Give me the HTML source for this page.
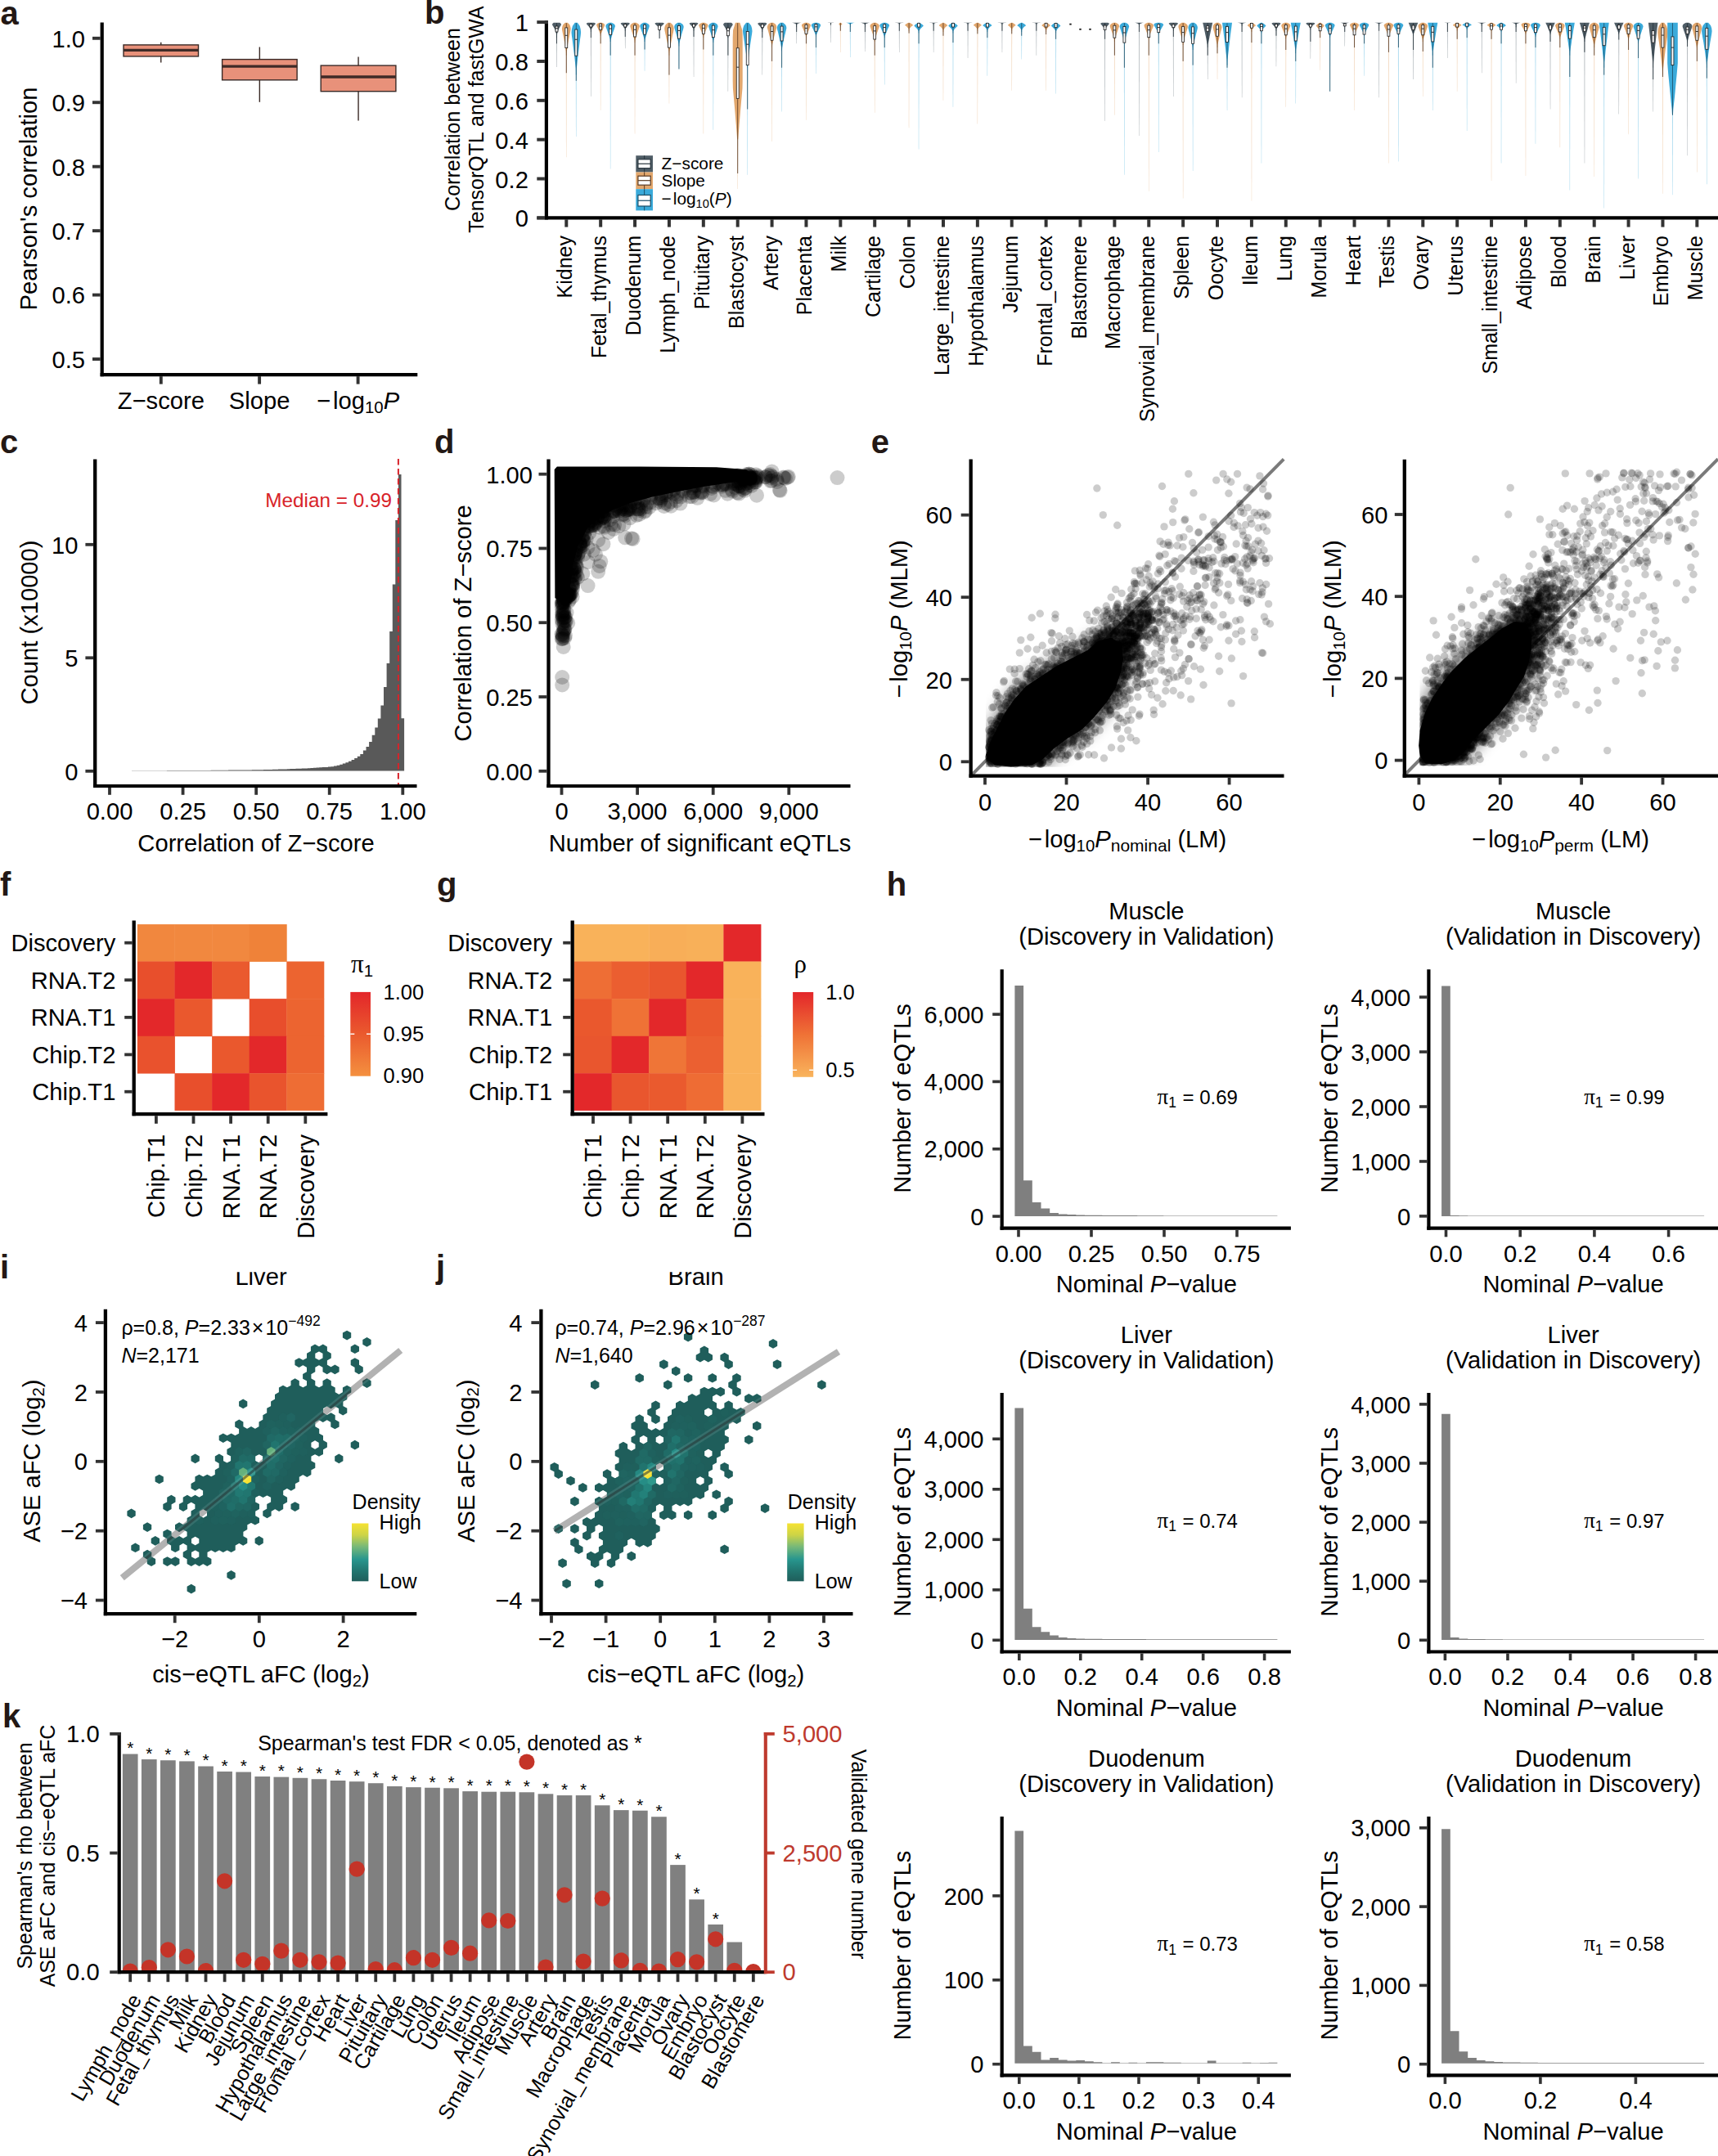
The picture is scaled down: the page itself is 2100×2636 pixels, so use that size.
<!DOCTYPE html><html><head><meta charset="utf-8"><style>html,body{margin:0;padding:0;background:#fff}svg{display:block}</style></head><body><svg width="2100" height="2636" viewBox="0 0 2100 2636" font-family='"Liberation Sans", sans-serif'><defs><filter id="blur8" x="-30%" y="-30%" width="160%" height="160%"><feGaussianBlur stdDeviation="9"/></filter><clipPath id="ce11"><rect x="1205.0" y="569.3" width="358.3" height="368.5"/></clipPath><clipPath id="ce23"><rect x="1735.4" y="568.9" width="357.7" height="367.2"/></clipPath><linearGradient id="gf" x1="0" y1="0" x2="0" y2="1"><stop offset="0" stop-color="#E3262A"/><stop offset="0.5" stop-color="#EA5A2E"/><stop offset="1" stop-color="#F4903F"/></linearGradient><linearGradient id="gg" x1="0" y1="0" x2="0" y2="1"><stop offset="0" stop-color="#E3262A"/><stop offset="0.5" stop-color="#EF7236"/><stop offset="1" stop-color="#F9B45C"/></linearGradient><linearGradient id="gd" x1="0" y1="1" x2="0" y2="0"><stop offset="0" stop-color="rgb(31, 94, 91)"/><stop offset="0.18" stop-color="rgb(33, 118, 112)"/><stop offset="0.38" stop-color="rgb(40, 150, 142)"/><stop offset="0.6" stop-color="rgb(120, 185, 120)"/><stop offset="0.8" stop-color="rgb(205, 212, 70)"/><stop offset="1" stop-color="rgb(246, 226, 50)"/></linearGradient><path id="hx5" d="M297.2,1744.0L302.3,1746.9L302.3,1752.8L297.2,1755.7L292.1,1752.8L292.1,1746.9ZM243.5,1802.7L248.6,1805.6L248.6,1811.4L243.5,1814.3L238.4,1811.4L238.4,1805.6ZM433.8,1660.2L439.0,1663.1L439.0,1669.0L433.8,1671.9L428.7,1669.0L428.7,1663.1ZM380.2,1785.9L385.3,1788.8L385.3,1794.7L380.2,1797.6L375.0,1794.7L375.0,1788.8ZM282.6,1886.5L287.7,1889.4L287.7,1895.2L282.6,1898.1L277.4,1895.2L277.4,1889.4ZM341.1,1836.2L346.2,1839.1L346.2,1844.9L341.1,1847.9L336.0,1844.9L336.0,1839.1ZM380.2,1651.8L385.3,1654.7L385.3,1660.6L380.2,1663.5L375.0,1660.6L375.0,1654.7ZM316.7,1811.0L321.8,1814.0L321.8,1819.8L316.7,1822.7L311.6,1819.8L311.6,1814.0ZM380.2,1769.1L385.3,1772.1L385.3,1777.9L380.2,1780.8L375.0,1777.9L375.0,1772.1ZM394.8,1660.2L399.9,1663.1L399.9,1669.0L394.8,1671.9L389.7,1669.0L389.7,1663.1ZM194.7,1802.7L199.8,1805.6L199.8,1811.4L194.7,1814.3L189.6,1811.4L189.6,1805.6ZM394.8,1760.8L399.9,1763.7L399.9,1769.5L394.8,1772.4L389.7,1769.5L389.7,1763.7ZM365.5,1660.2L370.6,1663.1L370.6,1669.0L365.5,1671.9L360.4,1669.0L360.4,1663.1ZM424.1,1626.7L429.2,1629.6L429.2,1635.4L424.1,1638.4L418.9,1635.4L418.9,1629.6ZM282.6,1920.0L287.7,1922.9L287.7,1928.7L282.6,1931.7L277.4,1928.7L277.4,1922.9ZM346.0,1827.8L351.1,1830.7L351.1,1836.6L346.0,1839.5L340.9,1836.6L340.9,1830.7ZM214.2,1903.2L219.4,1906.1L219.4,1912.0L214.2,1914.9L209.1,1912.0L209.1,1906.1ZM375.3,1677.0L380.4,1679.9L380.4,1685.7L375.3,1688.6L370.1,1685.7L370.1,1679.9ZM346.0,1693.7L351.1,1696.6L351.1,1702.5L346.0,1705.4L340.9,1702.5L340.9,1696.6ZM404.6,1710.5L409.7,1713.4L409.7,1719.2L404.6,1722.2L399.4,1719.2L399.4,1713.4ZM438.7,1668.6L443.8,1671.5L443.8,1677.3L438.7,1680.3L433.6,1677.3L433.6,1671.5ZM228.9,1861.3L234.0,1864.2L234.0,1870.1L228.9,1873.0L223.7,1870.1L223.7,1864.2ZM389.9,1752.4L395.0,1755.3L395.0,1761.1L389.9,1764.1L384.8,1761.1L384.8,1755.3ZM238.6,1811.0L243.8,1814.0L243.8,1819.8L238.6,1822.7L233.5,1819.8L233.5,1814.0ZM341.1,1702.1L346.2,1705.0L346.2,1710.9L341.1,1713.8L336.0,1710.9L336.0,1705.0ZM233.8,1903.2L238.9,1906.1L238.9,1912.0L233.8,1914.9L228.6,1912.0L228.6,1906.1ZM336.2,1710.5L341.4,1713.4L341.4,1719.2L336.2,1722.2L331.1,1719.2L331.1,1713.4ZM360.6,1802.7L365.8,1805.6L365.8,1811.4L360.6,1814.3L355.5,1811.4L355.5,1805.6ZM419.2,1718.9L424.3,1721.8L424.3,1727.6L419.2,1730.5L414.1,1727.6L414.1,1721.8ZM243.5,1836.2L248.6,1839.1L248.6,1844.9L243.5,1847.9L238.4,1844.9L238.4,1839.1ZM404.6,1693.7L409.7,1696.6L409.7,1702.5L404.6,1705.4L399.4,1702.5L399.4,1696.6ZM389.9,1702.1L395.0,1705.0L395.0,1710.9L389.9,1713.8L384.8,1710.9L384.8,1705.0ZM233.8,1936.7L238.9,1939.7L238.9,1945.5L233.8,1948.4L228.6,1945.5L228.6,1939.7ZM233.8,1886.5L238.9,1889.4L238.9,1895.2L233.8,1898.1L228.6,1895.2L228.6,1889.4ZM180.1,1894.8L185.2,1897.8L185.2,1903.6L180.1,1906.5L174.9,1903.6L174.9,1897.8ZM209.4,1878.1L214.5,1881.0L214.5,1886.8L209.4,1889.8L204.2,1886.8L204.2,1881.0ZM326.5,1844.6L331.6,1847.5L331.6,1853.3L326.5,1856.2L321.3,1853.3L321.3,1847.5ZM287.4,1760.8L292.6,1763.7L292.6,1769.5L287.4,1772.4L282.3,1769.5L282.3,1763.7ZM316.7,1878.1L321.8,1881.0L321.8,1886.8L316.7,1889.8L311.6,1886.8L311.6,1881.0ZM380.2,1685.3L385.3,1688.3L385.3,1694.1L380.2,1697.0L375.0,1694.1L375.0,1688.3ZM243.5,1886.5L248.6,1889.4L248.6,1895.2L243.5,1898.1L238.4,1895.2L238.4,1889.4ZM399.7,1668.6L404.8,1671.5L404.8,1677.3L399.7,1680.3L394.5,1677.3L394.5,1671.5ZM399.7,1702.1L404.8,1705.0L404.8,1710.9L399.7,1713.8L394.5,1710.9L394.5,1705.0ZM448.5,1635.1L453.6,1638.0L453.6,1643.8L448.5,1646.7L443.3,1643.8L443.3,1638.0ZM355.8,1794.3L360.9,1797.2L360.9,1803.0L355.8,1806.0L350.6,1803.0L350.6,1797.2ZM233.8,1852.9L238.9,1855.9L238.9,1861.7L233.8,1864.6L228.6,1861.7L228.6,1855.9ZM253.3,1802.7L258.4,1805.6L258.4,1811.4L253.3,1814.3L248.1,1811.4L248.1,1805.6ZM360.6,1836.2L365.8,1839.1L365.8,1844.9L360.6,1847.9L355.5,1844.9L355.5,1839.1ZM419.2,1702.1L424.3,1705.0L424.3,1710.9L419.2,1713.8L414.1,1710.9L414.1,1705.0ZM365.5,1710.5L370.6,1713.4L370.6,1719.2L365.5,1722.2L360.4,1719.2L360.4,1713.4ZM409.4,1702.1L414.6,1705.0L414.6,1710.9L409.4,1713.8L404.3,1710.9L404.3,1705.0ZM297.2,1710.5L302.3,1713.4L302.3,1719.2L297.2,1722.2L292.1,1719.2L292.1,1713.4ZM238.6,1861.3L243.8,1864.2L243.8,1870.1L238.6,1873.0L233.5,1870.1L233.5,1864.2ZM433.8,1760.8L439.0,1763.7L439.0,1769.5L433.8,1772.4L428.7,1769.5L428.7,1763.7ZM272.8,1752.4L277.9,1755.3L277.9,1761.1L272.8,1764.1L267.7,1761.1L267.7,1755.3ZM346.0,1811.0L351.1,1814.0L351.1,1819.8L346.0,1822.7L340.9,1819.8L340.9,1814.0ZM204.5,1869.7L209.6,1872.6L209.6,1878.5L204.5,1881.4L199.3,1878.5L199.3,1872.6ZM228.9,1827.8L234.0,1830.7L234.0,1836.6L228.9,1839.5L223.7,1836.6L223.7,1830.7ZM380.2,1702.1L385.3,1705.0L385.3,1710.9L380.2,1713.8L375.0,1710.9L375.0,1705.0ZM424.1,1693.7L429.2,1696.6L429.2,1702.5L424.1,1705.4L418.9,1702.5L418.9,1696.6ZM267.9,1878.1L273.0,1881.0L273.0,1886.8L267.9,1889.8L262.8,1886.8L262.8,1881.0ZM316.7,1744.0L321.8,1746.9L321.8,1752.8L316.7,1755.7L311.6,1752.8L311.6,1746.9ZM399.7,1685.3L404.8,1688.3L404.8,1694.1L399.7,1697.0L394.5,1694.1L394.5,1688.3ZM409.4,1668.6L414.6,1671.5L414.6,1677.3L409.4,1680.3L404.3,1677.3L404.3,1671.5ZM204.5,1836.2L209.6,1839.1L209.6,1844.9L204.5,1847.9L199.3,1844.9L199.3,1839.1ZM360.6,1685.3L365.8,1688.3L365.8,1694.1L360.6,1697.0L355.5,1694.1L355.5,1688.3ZM160.6,1844.6L165.7,1847.5L165.7,1853.3L160.6,1856.2L155.4,1853.3L155.4,1847.5ZM380.2,1668.6L385.3,1671.5L385.3,1677.3L380.2,1680.3L375.0,1677.3L375.0,1671.5ZM375.3,1777.5L380.4,1780.4L380.4,1786.3L375.3,1789.2L370.1,1786.3L370.1,1780.4ZM297.2,1878.1L302.3,1881.0L302.3,1886.8L297.2,1889.8L292.1,1886.8L292.1,1881.0ZM189.8,1878.1L195.0,1881.0L195.0,1886.8L189.8,1889.8L184.7,1886.8L184.7,1881.0ZM214.2,1886.5L219.4,1889.4L219.4,1895.2L214.2,1898.1L209.1,1895.2L209.1,1889.4ZM165.4,1886.5L170.6,1889.4L170.6,1895.2L165.4,1898.1L160.3,1895.2L160.3,1889.4ZM448.5,1685.3L453.6,1688.3L453.6,1694.1L448.5,1697.0L443.3,1694.1L443.3,1688.3ZM204.5,1903.2L209.6,1906.1L209.6,1912.0L204.5,1914.9L199.3,1912.0L199.3,1906.1ZM287.4,1878.1L292.6,1881.0L292.6,1886.8L287.4,1889.8L282.3,1886.8L282.3,1881.0ZM248.4,1811.0L253.5,1814.0L253.5,1819.8L248.4,1822.7L243.3,1819.8L243.3,1814.0ZM389.9,1769.1L395.0,1772.1L395.0,1777.9L389.9,1780.8L384.8,1777.9L384.8,1772.1ZM292.3,1752.4L297.4,1755.3L297.4,1761.1L292.3,1764.1L287.2,1761.1L287.2,1755.3ZM394.8,1643.4L399.9,1646.4L399.9,1652.2L394.8,1655.1L389.7,1652.2L389.7,1646.4ZM375.3,1794.3L380.4,1797.2L380.4,1803.0L375.3,1806.0L370.1,1803.0L370.1,1797.2ZM253.3,1819.4L258.4,1822.3L258.4,1828.2L253.3,1831.1L248.1,1828.2L248.1,1822.3ZM385.0,1643.4L390.2,1646.4L390.2,1652.2L385.0,1655.1L379.9,1652.2L379.9,1646.4ZM336.2,1827.8L341.4,1830.7L341.4,1836.6L336.2,1839.5L331.1,1836.6L331.1,1830.7ZM292.3,1735.6L297.4,1738.5L297.4,1744.4L292.3,1747.3L287.2,1744.4L287.2,1738.5ZM414.3,1710.5L419.4,1713.4L419.4,1719.2L414.3,1722.2L409.2,1719.2L409.2,1713.4ZM185.0,1903.2L190.1,1906.1L190.1,1912.0L185.0,1914.9L179.8,1912.0L179.8,1906.1ZM263.0,1886.5L268.2,1889.4L268.2,1895.2L263.0,1898.1L257.9,1895.2L257.9,1889.4ZM209.4,1827.8L214.5,1830.7L214.5,1836.6L209.4,1839.5L204.2,1836.6L204.2,1830.7ZM433.8,1643.4L439.0,1646.4L439.0,1652.2L433.8,1655.1L428.7,1652.2L428.7,1646.4ZM272.8,1886.5L277.9,1889.4L277.9,1895.2L272.8,1898.1L267.7,1895.2L267.7,1889.4ZM238.6,1777.5L243.8,1780.4L243.8,1786.3L238.6,1789.2L233.5,1786.3L233.5,1780.4ZM414.3,1777.5L419.4,1780.4L419.4,1786.3L414.3,1789.2L409.2,1786.3L409.2,1780.4ZM399.7,1651.8L404.8,1654.7L404.8,1660.6L399.7,1663.5L394.5,1660.6L394.5,1654.7ZM311.8,1852.9L317.0,1855.9L317.0,1861.7L311.8,1864.6L306.7,1861.7L306.7,1855.9ZM331.4,1836.2L336.5,1839.1L336.5,1844.9L331.4,1847.9L326.2,1844.9L326.2,1839.1ZM243.5,1903.2L248.6,1906.1L248.6,1912.0L243.5,1914.9L238.4,1912.0L238.4,1906.1ZM267.9,1794.3L273.0,1797.2L273.0,1803.0L267.9,1806.0L262.8,1803.0L262.8,1797.2ZM228.9,1878.1L234.0,1881.0L234.0,1886.8L228.9,1889.8L223.7,1886.8L223.7,1881.0ZM263.0,1802.7L268.2,1805.6L268.2,1811.4L263.0,1814.3L257.9,1811.4L257.9,1805.6ZM370.4,1785.9L375.5,1788.8L375.5,1794.7L370.4,1797.6L365.3,1794.7L365.3,1788.8ZM380.2,1718.9L385.3,1721.8L385.3,1727.6L380.2,1730.5L375.0,1727.6L375.0,1721.8ZM307.0,1744.0L312.1,1746.9L312.1,1752.8L307.0,1755.7L301.8,1752.8L301.8,1746.9ZM385.0,1710.5L390.2,1713.4L390.2,1719.2L385.0,1722.2L379.9,1719.2L379.9,1713.4ZM272.8,1785.9L277.9,1788.8L277.9,1794.7L272.8,1797.6L267.7,1794.7L267.7,1788.8ZM243.5,1869.7L248.6,1872.6L248.6,1878.5L243.5,1881.4L238.4,1878.5L238.4,1872.6ZM365.5,1693.7L370.6,1696.6L370.6,1702.5L365.5,1705.4L360.4,1702.5L360.4,1696.6ZM346.0,1710.5L351.1,1713.4L351.1,1719.2L346.0,1722.2L340.9,1719.2L340.9,1713.4ZM253.3,1903.2L258.4,1906.1L258.4,1912.0L253.3,1914.9L248.1,1912.0L248.1,1906.1ZM350.9,1702.1L356.0,1705.0L356.0,1710.9L350.9,1713.8L345.8,1710.9L345.8,1705.0ZM380.2,1752.4L385.3,1755.3L385.3,1761.1L380.2,1764.1L375.0,1761.1L375.0,1755.3ZM355.8,1693.7L360.9,1696.6L360.9,1702.5L355.8,1705.4L350.6,1702.5L350.6,1696.6ZM355.8,1811.0L360.9,1814.0L360.9,1819.8L355.8,1822.7L350.6,1819.8L350.6,1814.0ZM404.6,1727.2L409.7,1730.2L409.7,1736.0L404.6,1738.9L399.4,1736.0L399.4,1730.2ZM394.8,1727.2L399.9,1730.2L399.9,1736.0L394.8,1738.9L389.7,1736.0L389.7,1730.2ZM180.1,1861.3L185.2,1864.2L185.2,1870.1L180.1,1873.0L174.9,1870.1L174.9,1864.2ZM389.9,1718.9L395.0,1721.8L395.0,1727.6L389.9,1730.5L384.8,1727.6L384.8,1721.8ZM360.6,1718.9L365.8,1721.8L365.8,1727.6L360.6,1730.5L355.5,1727.6L355.5,1721.8ZM219.1,1861.3L224.2,1864.2L224.2,1870.1L219.1,1873.0L214.0,1870.1L214.0,1864.2ZM248.4,1827.8L253.5,1830.7L253.5,1836.6L248.4,1839.5L243.3,1836.6L243.3,1830.7ZM282.6,1769.1L287.7,1772.1L287.7,1777.9L282.6,1780.8L277.4,1777.9L277.4,1772.1ZM238.6,1844.6L243.8,1847.5L243.8,1853.3L238.6,1856.2L233.5,1853.3L233.5,1847.5ZM375.3,1660.2L380.4,1663.1L380.4,1669.0L375.3,1671.9L370.1,1669.0L370.1,1663.1ZM385.0,1727.2L390.2,1730.2L390.2,1736.0L385.0,1738.9L379.9,1736.0L379.9,1730.2ZM263.0,1869.7L268.2,1872.6L268.2,1878.5L263.0,1881.4L257.9,1878.5L257.9,1872.6ZM263.0,1819.4L268.2,1822.3L268.2,1828.2L263.0,1831.1L257.9,1828.2L257.9,1822.3ZM316.7,1760.8L321.8,1763.7L321.8,1769.5L316.7,1772.4L311.6,1769.5L311.6,1763.7ZM370.4,1702.1L375.5,1705.0L375.5,1710.9L370.4,1713.8L365.3,1710.9L365.3,1705.0ZM253.3,1886.5L258.4,1889.4L258.4,1895.2L253.3,1898.1L248.1,1895.2L248.1,1889.4ZM311.8,1836.2L317.0,1839.1L317.0,1844.9L311.8,1847.9L306.7,1844.9L306.7,1839.1ZM248.4,1894.8L253.5,1897.8L253.5,1903.6L248.4,1906.5L243.3,1903.6L243.3,1897.8ZM409.4,1735.6L414.6,1738.5L414.6,1744.4L409.4,1747.3L404.3,1744.4L404.3,1738.5ZM248.4,1878.1L253.5,1881.0L253.5,1886.8L248.4,1889.8L243.3,1886.8L243.3,1881.0ZM350.9,1802.7L356.0,1805.6L356.0,1811.4L350.9,1814.3L345.8,1811.4L345.8,1805.6ZM292.3,1869.7L297.4,1872.6L297.4,1878.5L292.3,1881.4L287.2,1878.5L287.2,1872.6ZM224.0,1836.2L229.1,1839.1L229.1,1844.9L224.0,1847.9L218.9,1844.9L218.9,1839.1ZM272.8,1802.7L277.9,1805.6L277.9,1811.4L272.8,1814.3L267.7,1811.4L267.7,1805.6ZM267.9,1777.5L273.0,1780.4L273.0,1786.3L267.9,1789.2L262.8,1786.3L262.8,1780.4ZM385.0,1660.2L390.2,1663.1L390.2,1669.0L385.0,1671.9L379.9,1669.0L379.9,1663.1ZM341.1,1819.4L346.2,1822.3L346.2,1828.2L341.1,1831.1L336.0,1828.2L336.0,1822.3ZM282.6,1752.4L287.7,1755.3L287.7,1761.1L282.6,1764.1L277.4,1761.1L277.4,1755.3ZM336.2,1811.0L341.4,1814.0L341.4,1819.8L336.2,1822.7L331.1,1819.8L331.1,1814.0ZM375.3,1710.5L380.4,1713.4L380.4,1719.2L375.3,1722.2L370.1,1719.2L370.1,1713.4ZM394.8,1710.5L399.9,1713.4L399.9,1719.2L394.8,1722.2L389.7,1719.2L389.7,1713.4ZM228.9,1894.8L234.0,1897.8L234.0,1903.6L228.9,1906.5L223.7,1903.6L223.7,1897.8ZM365.5,1777.5L370.6,1780.4L370.6,1786.3L365.5,1789.2L360.4,1786.3L360.4,1780.4ZM365.5,1794.3L370.6,1797.2L370.6,1803.0L365.5,1806.0L360.4,1803.0L360.4,1797.2ZM277.7,1878.1L282.8,1881.0L282.8,1886.8L277.7,1889.8L272.5,1886.8L272.5,1881.0ZM321.6,1819.4L326.7,1822.3L326.7,1828.2L321.6,1831.1L316.5,1828.2L316.5,1822.3ZM316.7,1794.3L321.8,1797.2L321.8,1803.0L316.7,1806.0L311.6,1803.0L311.6,1797.2ZM238.6,1827.8L243.8,1830.7L243.8,1836.6L238.6,1839.5L233.5,1836.6L233.5,1830.7ZM282.6,1869.7L287.7,1872.6L287.7,1878.5L282.6,1881.4L277.4,1878.5L277.4,1872.6ZM385.0,1744.0L390.2,1746.9L390.2,1752.8L385.0,1755.7L379.9,1752.8L379.9,1746.9ZM219.1,1878.1L224.2,1881.0L224.2,1886.8L219.1,1889.8L214.0,1886.8L214.0,1881.0ZM321.6,1802.7L326.7,1805.6L326.7,1811.4L321.6,1814.3L316.5,1811.4L316.5,1805.6ZM326.5,1727.2L331.6,1730.2L331.6,1736.0L326.5,1738.9L321.3,1736.0L321.3,1730.2ZM385.0,1693.7L390.2,1696.6L390.2,1702.5L385.0,1705.4L379.9,1702.5L379.9,1696.6ZM258.2,1811.0L263.3,1814.0L263.3,1819.8L258.2,1822.7L253.0,1819.8L253.0,1814.0ZM321.6,1735.6L326.7,1738.5L326.7,1744.4L321.6,1747.3L316.5,1744.4L316.5,1738.5ZM375.3,1727.2L380.4,1730.2L380.4,1736.0L375.3,1738.9L370.1,1736.0L370.1,1730.2ZM253.3,1869.7L258.4,1872.6L258.4,1878.5L253.3,1881.4L248.1,1878.5L248.1,1872.6ZM258.2,1878.1L263.3,1881.0L263.3,1886.8L258.2,1889.8L253.0,1886.8L253.0,1881.0ZM341.1,1718.9L346.2,1721.8L346.2,1727.6L341.1,1730.5L336.0,1727.6L336.0,1721.8ZM321.6,1752.4L326.7,1755.3L326.7,1761.1L321.6,1764.1L316.5,1761.1L316.5,1755.3ZM321.6,1769.1L326.7,1772.1L326.7,1777.9L321.6,1780.8L316.5,1777.9L316.5,1772.1ZM253.3,1836.2L258.4,1839.1L258.4,1844.9L253.3,1847.9L248.1,1844.9L248.1,1839.1ZM375.3,1693.7L380.4,1696.6L380.4,1702.5L375.3,1705.4L370.1,1702.5L370.1,1696.6ZM267.9,1861.3L273.0,1864.2L273.0,1870.1L267.9,1873.0L262.8,1870.1L262.8,1864.2ZM350.9,1718.9L356.0,1721.8L356.0,1727.6L350.9,1730.5L345.8,1727.6L345.8,1721.8ZM253.3,1852.9L258.4,1855.9L258.4,1861.7L253.3,1864.6L248.1,1861.7L248.1,1855.9ZM277.7,1861.3L282.8,1864.2L282.8,1870.1L277.7,1873.0L272.5,1870.1L272.5,1864.2ZM297.2,1760.8L302.3,1763.7L302.3,1769.5L297.2,1772.4L292.1,1769.5L292.1,1763.7ZM248.4,1861.3L253.5,1864.2L253.5,1870.1L248.4,1873.0L243.3,1870.1L243.3,1864.2ZM360.6,1735.6L365.8,1738.5L365.8,1744.4L360.6,1747.3L355.5,1744.4L355.5,1738.5ZM380.2,1735.6L385.3,1738.5L385.3,1744.4L380.2,1747.3L375.0,1744.4L375.0,1738.5ZM292.3,1852.9L297.4,1855.9L297.4,1861.7L292.3,1864.6L287.2,1861.7L287.2,1855.9ZM370.4,1718.9L375.5,1721.8L375.5,1727.6L370.4,1730.5L365.3,1727.6L365.3,1721.8ZM365.5,1727.2L370.6,1730.2L370.6,1736.0L365.5,1738.9L360.4,1736.0L360.4,1730.2ZM394.8,1693.7L399.9,1696.6L399.9,1702.5L394.8,1705.4L389.7,1702.5L389.7,1696.6ZM311.8,1752.4L317.0,1755.3L317.0,1761.1L311.8,1764.1L306.7,1761.1L306.7,1755.3ZM331.4,1819.4L336.5,1822.3L336.5,1828.2L331.4,1831.1L326.2,1828.2L326.2,1822.3ZM355.8,1710.5L360.9,1713.4L360.9,1719.2L355.8,1722.2L350.6,1719.2L350.6,1713.4ZM233.8,1869.7L238.9,1872.6L238.9,1878.5L233.8,1881.4L228.6,1878.5L228.6,1872.6ZM302.1,1852.9L307.2,1855.9L307.2,1861.7L302.1,1864.6L296.9,1861.7L296.9,1855.9ZM258.2,1861.3L263.3,1864.2L263.3,1870.1L258.2,1873.0L253.0,1870.1L253.0,1864.2ZM331.4,1718.9L336.5,1721.8L336.5,1727.6L331.4,1730.5L326.2,1727.6L326.2,1721.8ZM360.6,1702.1L365.8,1705.0L365.8,1710.9L360.6,1713.8L355.5,1710.9L355.5,1705.0ZM321.6,1785.9L326.7,1788.8L326.7,1794.7L321.6,1797.6L316.5,1794.7L316.5,1788.8ZM336.2,1727.2L341.4,1730.2L341.4,1736.0L336.2,1738.9L331.1,1736.0L331.1,1730.2ZM258.2,1827.8L263.3,1830.7L263.3,1836.6L258.2,1839.5L253.0,1836.6L253.0,1830.7ZM287.4,1861.3L292.6,1864.2L292.6,1870.1L287.4,1873.0L282.3,1870.1L282.3,1864.2ZM360.6,1785.9L365.8,1788.8L365.8,1794.7L360.6,1797.6L355.5,1794.7L355.5,1788.8ZM311.8,1769.1L317.0,1772.1L317.0,1777.9L311.8,1780.8L306.7,1777.9L306.7,1772.1ZM375.3,1744.0L380.4,1746.9L380.4,1752.8L375.3,1755.7L370.1,1752.8L370.1,1746.9ZM370.4,1735.6L375.5,1738.5L375.5,1744.4L370.4,1747.3L365.3,1744.4L365.3,1738.5ZM258.2,1844.6L263.3,1847.5L263.3,1853.3L258.2,1856.2L253.0,1853.3L253.0,1847.5ZM307.0,1760.8L312.1,1763.7L312.1,1769.5L307.0,1772.4L301.8,1769.5L301.8,1763.7ZM267.9,1811.0L273.0,1814.0L273.0,1819.8L267.9,1822.7L262.8,1819.8L262.8,1814.0ZM375.3,1760.8L380.4,1763.7L380.4,1769.5L375.3,1772.4L370.1,1769.5L370.1,1763.7ZM272.8,1869.7L277.9,1872.6L277.9,1878.5L272.8,1881.4L267.7,1878.5L267.7,1872.6ZM297.2,1861.3L302.3,1864.2L302.3,1870.1L297.2,1873.0L292.1,1870.1L292.1,1864.2ZM302.1,1752.4L307.2,1755.3L307.2,1761.1L302.1,1764.1L296.9,1761.1L296.9,1755.3ZM282.6,1852.9L287.7,1855.9L287.7,1861.7L282.6,1864.6L277.4,1861.7L277.4,1855.9ZM263.0,1836.2L268.2,1839.1L268.2,1844.9L263.0,1847.9L257.9,1844.9L257.9,1839.1ZM350.9,1785.9L356.0,1788.8L356.0,1794.7L350.9,1797.6L345.8,1794.7L345.8,1788.8ZM311.8,1785.9L317.0,1788.8L317.0,1794.7L311.8,1797.6L306.7,1794.7L306.7,1788.8ZM350.9,1735.6L356.0,1738.5L356.0,1744.4L350.9,1747.3L345.8,1744.4L345.8,1738.5ZM370.4,1752.4L375.5,1755.3L375.5,1761.1L370.4,1764.1L365.3,1761.1L365.3,1755.3ZM263.0,1852.9L268.2,1855.9L268.2,1861.7L263.0,1864.6L257.9,1861.7L257.9,1855.9ZM307.0,1844.6L312.1,1847.5L312.1,1853.3L307.0,1856.2L301.8,1853.3L301.8,1847.5ZM346.0,1727.2L351.1,1730.2L351.1,1736.0L346.0,1738.9L340.9,1736.0L340.9,1730.2ZM297.2,1844.6L302.3,1847.5L302.3,1853.3L297.2,1856.2L292.1,1853.3L292.1,1847.5ZM282.6,1785.9L287.7,1788.8L287.7,1794.7L282.6,1797.6L277.4,1794.7L277.4,1788.8ZM267.9,1844.6L273.0,1847.5L273.0,1853.3L267.9,1856.2L262.8,1853.3L262.8,1847.5ZM243.5,1852.9L248.6,1855.9L248.6,1861.7L243.5,1864.6L238.4,1861.7L238.4,1855.9ZM341.1,1802.7L346.2,1805.6L346.2,1811.4L341.1,1814.3L336.0,1811.4L336.0,1805.6ZM370.4,1769.1L375.5,1772.1L375.5,1777.9L370.4,1780.8L365.3,1777.9L365.3,1772.1ZM341.1,1735.6L346.2,1738.5L346.2,1744.4L341.1,1747.3L336.0,1744.4L336.0,1738.5ZM277.7,1844.6L282.8,1847.5L282.8,1853.3L277.7,1856.2L272.5,1853.3L272.5,1847.5ZM360.6,1769.1L365.8,1772.1L365.8,1777.9L360.6,1780.8L355.5,1777.9L355.5,1772.1ZM277.7,1794.3L282.8,1797.2L282.8,1803.0L277.7,1806.0L272.5,1803.0L272.5,1797.2ZM287.4,1777.5L292.6,1780.4L292.6,1786.3L287.4,1789.2L282.3,1786.3L282.3,1780.4ZM272.8,1852.9L277.9,1855.9L277.9,1861.7L272.8,1864.6L267.7,1861.7L267.7,1855.9ZM365.5,1760.8L370.6,1763.7L370.6,1769.5L365.5,1772.4L360.4,1769.5L360.4,1763.7ZM311.8,1819.4L317.0,1822.3L317.0,1828.2L311.8,1831.1L306.7,1828.2L306.7,1822.3ZM355.8,1777.5L360.9,1780.4L360.9,1786.3L355.8,1789.2L350.6,1786.3L350.6,1780.4ZM326.5,1744.0L331.6,1746.9L331.6,1752.8L326.5,1755.7L321.3,1752.8L321.3,1746.9ZM326.5,1811.0L331.6,1814.0L331.6,1819.8L326.5,1822.7L321.3,1819.8L321.3,1814.0ZM346.0,1794.3L351.1,1797.2L351.1,1803.0L346.0,1806.0L340.9,1803.0L340.9,1797.2ZM365.5,1744.0L370.6,1746.9L370.6,1752.8L365.5,1755.7L360.4,1752.8L360.4,1746.9ZM267.9,1827.8L273.0,1830.7L273.0,1836.6L267.9,1839.5L262.8,1836.6L262.8,1830.7ZM331.4,1735.6L336.5,1738.5L336.5,1744.4L331.4,1747.3L326.2,1744.4L326.2,1738.5ZM355.8,1744.0L360.9,1746.9L360.9,1752.8L355.8,1755.7L350.6,1752.8L350.6,1746.9ZM277.7,1811.0L282.8,1814.0L282.8,1819.8L277.7,1822.7L272.5,1819.8L272.5,1814.0ZM292.3,1769.1L297.4,1772.1L297.4,1777.9L292.3,1780.8L287.2,1777.9L287.2,1772.1ZM282.6,1802.7L287.7,1805.6L287.7,1811.4L282.6,1814.3L277.4,1811.4L277.4,1805.6ZM346.0,1744.0L351.1,1746.9L351.1,1752.8L346.0,1755.7L340.9,1752.8L340.9,1746.9ZM311.8,1802.7L317.0,1805.6L317.0,1811.4L311.8,1814.3L306.7,1811.4L306.7,1805.6ZM350.9,1769.1L356.0,1772.1L356.0,1777.9L350.9,1780.8L345.8,1777.9L345.8,1772.1ZM287.4,1844.6L292.6,1847.5L292.6,1853.3L287.4,1856.2L282.3,1853.3L282.3,1847.5ZM272.8,1836.2L277.9,1839.1L277.9,1844.9L272.8,1847.9L267.7,1844.9L267.7,1839.1ZM272.8,1819.4L277.9,1822.3L277.9,1828.2L272.8,1831.1L267.7,1828.2L267.7,1822.3ZM360.6,1752.4L365.8,1755.3L365.8,1761.1L360.6,1764.1L355.5,1761.1L355.5,1755.3ZM302.1,1769.1L307.2,1772.1L307.2,1777.9L302.1,1780.8L296.9,1777.9L296.9,1772.1ZM326.5,1760.8L331.6,1763.7L331.6,1769.5L326.5,1772.4L321.3,1769.5L321.3,1763.7ZM355.8,1760.8L360.9,1763.7L360.9,1769.5L355.8,1772.4L350.6,1769.5L350.6,1763.7ZM355.8,1727.2L360.9,1730.2L360.9,1736.0L355.8,1738.9L350.6,1736.0L350.6,1730.2ZM341.1,1785.9L346.2,1788.8L346.2,1794.7L341.1,1797.6L336.0,1794.7L336.0,1788.8ZM346.0,1777.5L351.1,1780.4L351.1,1786.3L346.0,1789.2L340.9,1786.3L340.9,1780.4ZM331.4,1802.7L336.5,1805.6L336.5,1811.4L331.4,1814.3L326.2,1811.4L326.2,1805.6ZM336.2,1744.0L341.4,1746.9L341.4,1752.8L336.2,1755.7L331.1,1752.8L331.1,1746.9ZM307.0,1827.8L312.1,1830.7L312.1,1836.6L307.0,1839.5L301.8,1836.6L301.8,1830.7ZM302.1,1836.2L307.2,1839.1L307.2,1844.9L302.1,1847.9L296.9,1844.9L296.9,1839.1ZM292.3,1836.2L297.4,1839.1L297.4,1844.9L292.3,1847.9L287.2,1844.9L287.2,1839.1ZM277.7,1827.8L282.8,1830.7L282.8,1836.6L277.7,1839.5L272.5,1836.6L272.5,1830.7ZM336.2,1794.3L341.4,1797.2L341.4,1803.0L336.2,1806.0L331.1,1803.0L331.1,1797.2ZM282.6,1819.4L287.7,1822.3L287.7,1828.2L282.6,1831.1L277.4,1828.2L277.4,1822.3ZM287.4,1794.3L292.6,1797.2L292.6,1803.0L287.4,1806.0L282.3,1803.0L282.3,1797.2ZM307.0,1777.5L312.1,1780.4L312.1,1786.3L307.0,1789.2L301.8,1786.3L301.8,1780.4ZM346.0,1760.8L351.1,1763.7L351.1,1769.5L346.0,1772.4L340.9,1769.5L340.9,1763.7ZM331.4,1752.4L336.5,1755.3L336.5,1761.1L331.4,1764.1L326.2,1761.1L326.2,1755.3ZM326.5,1777.5L331.6,1780.4L331.6,1786.3L326.5,1789.2L321.3,1786.3L321.3,1780.4ZM326.5,1794.3L331.6,1797.2L331.6,1803.0L326.5,1806.0L321.3,1803.0L321.3,1797.2ZM297.2,1777.5L302.3,1780.4L302.3,1786.3L297.2,1789.2L292.1,1786.3L292.1,1780.4ZM350.9,1752.4L356.0,1755.3L356.0,1761.1L350.9,1764.1L345.8,1761.1L345.8,1755.3ZM341.1,1752.4L346.2,1755.3L346.2,1761.1L341.1,1764.1L336.0,1761.1L336.0,1755.3ZM341.1,1769.1L346.2,1772.1L346.2,1777.9L341.1,1780.8L336.0,1777.9L336.0,1772.1ZM287.4,1827.8L292.6,1830.7L292.6,1836.6L287.4,1839.5L282.3,1836.6L282.3,1830.7ZM331.4,1785.9L336.5,1788.8L336.5,1794.7L331.4,1797.6L326.2,1794.7L326.2,1788.8ZM282.6,1836.2L287.7,1839.1L287.7,1844.9L282.6,1847.9L277.4,1844.9L277.4,1839.1ZM336.2,1777.5L341.4,1780.4L341.4,1786.3L336.2,1789.2L331.1,1786.3L331.1,1780.4ZM336.2,1760.8L341.4,1763.7L341.4,1769.5L336.2,1772.4L331.1,1769.5L331.1,1763.7ZM297.2,1827.8L302.3,1830.7L302.3,1836.6L297.2,1839.5L292.1,1836.6L292.1,1830.7ZM292.3,1785.9L297.4,1788.8L297.4,1794.7L292.3,1797.6L287.2,1794.7L287.2,1788.8ZM287.4,1811.0L292.6,1814.0L292.6,1819.8L287.4,1822.7L282.3,1819.8L282.3,1814.0ZM302.1,1785.9L307.2,1788.8L307.2,1794.7L302.1,1797.6L296.9,1794.7L296.9,1788.8ZM302.1,1819.4L307.2,1822.3L307.2,1828.2L302.1,1831.1L296.9,1828.2L296.9,1822.3ZM307.0,1811.0L312.1,1814.0L312.1,1819.8L307.0,1822.7L301.8,1819.8L301.8,1814.0ZM292.3,1819.4L297.4,1822.3L297.4,1828.2L292.3,1831.1L287.2,1828.2L287.2,1822.3ZM292.3,1802.7L297.4,1805.6L297.4,1811.4L292.3,1814.3L287.2,1811.4L287.2,1805.6ZM297.2,1811.0L302.3,1814.0L302.3,1819.8L297.2,1822.7L292.1,1819.8L292.1,1814.0ZM307.0,1794.3L312.1,1797.2L312.1,1803.0L307.0,1806.0L301.8,1803.0L301.8,1797.2ZM297.2,1794.3L302.3,1797.2L302.3,1803.0L297.2,1806.0L292.1,1803.0L292.1,1797.2ZM331.4,1769.1L336.5,1772.1L336.5,1777.9L331.4,1780.8L326.2,1777.9L326.2,1772.1ZM302.1,1802.7L307.2,1805.6L307.2,1811.4L302.1,1814.3L296.9,1811.4L296.9,1805.6Z"/><clipPath id="hc5"><use href="#hx5"/></clipPath><clipPath id="cli"><rect x="239" y="1555.3" width="160" height="40"/></clipPath><path id="hx9" d="M756.9,1771.1L762.1,1774.1L762.1,1779.9L756.9,1782.8L751.7,1779.9L751.7,1774.1ZM816.3,1838.2L821.5,1841.1L821.5,1846.9L816.3,1849.9L811.1,1846.9L811.1,1841.1ZM801.5,1729.2L806.7,1732.2L806.7,1738.0L801.5,1740.9L796.2,1738.0L796.2,1732.2ZM900.5,1729.2L905.7,1732.2L905.7,1738.0L900.5,1740.9L895.2,1738.0L895.2,1732.2ZM865.8,1653.8L871.0,1656.7L871.0,1662.6L865.8,1665.5L860.6,1662.6L860.6,1656.7ZM801.5,1863.3L806.7,1866.2L806.7,1872.1L801.5,1875.0L796.2,1872.1L796.2,1866.2ZM786.6,1737.6L791.8,1740.5L791.8,1746.4L786.6,1749.3L781.4,1746.4L781.4,1740.5ZM801.5,1746.0L806.7,1748.9L806.7,1754.8L801.5,1757.7L796.2,1754.8L796.2,1748.9ZM692.6,1930.4L697.8,1933.3L697.8,1939.1L692.6,1942.0L687.4,1939.1L687.4,1933.3ZM925.2,1737.6L930.4,1740.5L930.4,1746.4L925.2,1749.3L920.0,1746.4L920.0,1740.5ZM677.7,1787.9L682.9,1790.8L682.9,1796.7L677.7,1799.6L672.5,1796.7L672.5,1790.8ZM727.2,1687.3L732.4,1690.3L732.4,1696.1L727.2,1699.0L722.0,1696.1L722.0,1690.3ZM895.5,1687.3L900.7,1690.3L900.7,1696.1L895.5,1699.0L890.3,1696.1L890.3,1690.3ZM801.5,1762.8L806.7,1765.7L806.7,1771.5L801.5,1774.4L796.2,1771.5L796.2,1765.7ZM737.1,1888.5L742.3,1891.4L742.3,1897.2L737.1,1900.1L731.9,1897.2L731.9,1891.4ZM900.5,1695.7L905.7,1698.6L905.7,1704.5L900.5,1707.4L895.2,1704.5L895.2,1698.6ZM885.6,1838.2L890.8,1841.1L890.8,1846.9L885.6,1849.9L880.4,1846.9L880.4,1841.1ZM831.2,1829.8L836.4,1832.7L836.4,1838.6L831.2,1841.5L826.0,1838.6L826.0,1832.7ZM945.0,1637.1L950.2,1640.0L950.2,1645.8L945.0,1648.7L939.8,1645.8L939.8,1640.0ZM752.0,1880.1L757.2,1883.0L757.2,1888.8L752.0,1891.8L746.8,1888.8L746.8,1883.0ZM732.2,1829.8L737.4,1832.7L737.4,1838.6L732.2,1841.5L727.0,1838.6L727.0,1832.7ZM870.8,1846.6L876.0,1849.5L876.0,1855.3L870.8,1858.2L865.5,1855.3L865.5,1849.5ZM890.6,1829.8L895.8,1832.7L895.8,1838.6L890.6,1841.5L885.4,1838.6L885.4,1832.7ZM816.3,1737.6L821.5,1740.5L821.5,1746.4L816.3,1749.3L811.1,1746.4L811.1,1740.5ZM732.2,1930.4L737.4,1933.3L737.4,1939.1L732.2,1942.0L727.0,1939.1L727.0,1933.3ZM756.9,1787.9L762.1,1790.8L762.1,1796.7L756.9,1799.6L751.7,1796.7L751.7,1790.8ZM811.4,1846.6L816.6,1849.5L816.6,1855.3L811.4,1858.2L806.1,1855.3L806.1,1849.5ZM875.7,1821.4L880.9,1824.3L880.9,1830.2L875.7,1833.1L870.5,1830.2L870.5,1824.3ZM870.8,1679.0L876.0,1681.9L876.0,1687.7L870.8,1690.6L865.5,1687.7L865.5,1681.9ZM895.5,1720.9L900.7,1723.8L900.7,1729.6L895.5,1732.5L890.3,1729.6L890.3,1723.8ZM885.6,1737.6L890.8,1740.5L890.8,1746.4L885.6,1749.3L880.4,1746.4L880.4,1740.5ZM846.0,1704.1L851.2,1707.0L851.2,1712.9L846.0,1715.8L840.8,1712.9L840.8,1707.0ZM885.6,1888.5L890.8,1891.4L890.8,1897.2L885.6,1900.1L880.4,1897.2L880.4,1891.4ZM870.8,1779.5L876.0,1782.4L876.0,1788.3L870.8,1791.2L865.5,1788.3L865.5,1782.4ZM737.1,1854.9L742.3,1857.9L742.3,1863.7L737.1,1866.6L731.9,1863.7L731.9,1857.9ZM687.6,1905.2L692.8,1908.1L692.8,1914.0L687.6,1916.9L682.4,1914.0L682.4,1908.1ZM712.4,1813.0L717.6,1816.0L717.6,1821.8L712.4,1824.7L707.1,1821.8L707.1,1816.0ZM682.7,1796.3L687.9,1799.2L687.9,1805.0L682.7,1808.0L677.5,1805.0L677.5,1799.2ZM890.6,1796.3L895.8,1799.2L895.8,1805.0L890.6,1808.0L885.4,1805.0L885.4,1799.2ZM860.9,1695.7L866.1,1698.6L866.1,1704.5L860.9,1707.4L855.6,1704.5L855.6,1698.6ZM727.2,1854.9L732.4,1857.9L732.4,1863.7L727.2,1866.6L722.0,1863.7L722.0,1857.9ZM860.9,1645.4L866.1,1648.4L866.1,1654.2L860.9,1657.1L855.6,1654.2L855.6,1648.4ZM811.4,1662.2L816.6,1665.1L816.6,1671.0L811.4,1673.9L806.1,1671.0L806.1,1665.1ZM702.5,1863.3L707.7,1866.2L707.7,1872.1L702.5,1875.0L697.2,1872.1L697.2,1866.2ZM756.9,1888.5L762.1,1891.4L762.1,1897.2L756.9,1900.1L751.7,1897.2L751.7,1891.4ZM865.8,1787.9L871.0,1790.8L871.0,1796.7L865.8,1799.6L860.6,1796.7L860.6,1790.8ZM950.0,1662.2L955.2,1665.1L955.2,1671.0L950.0,1673.9L944.8,1671.0L944.8,1665.1ZM880.7,1695.7L885.9,1698.6L885.9,1704.5L880.7,1707.4L875.5,1704.5L875.5,1698.6ZM727.2,1905.2L732.4,1908.1L732.4,1914.0L727.2,1916.9L722.0,1914.0L722.0,1908.1ZM860.9,1796.3L866.1,1799.2L866.1,1805.0L860.9,1808.0L855.6,1805.0L855.6,1799.2ZM732.2,1896.8L737.4,1899.8L737.4,1905.6L732.2,1908.5L727.0,1905.6L727.0,1899.8ZM697.5,1804.7L702.7,1807.6L702.7,1813.4L697.5,1816.3L692.3,1813.4L692.3,1807.6ZM855.9,1821.4L861.1,1824.3L861.1,1830.2L855.9,1833.1L850.7,1830.2L850.7,1824.3ZM925.2,1704.1L930.4,1707.0L930.4,1712.9L925.2,1715.8L920.0,1712.9L920.0,1707.0ZM781.7,1679.0L786.9,1681.9L786.9,1687.7L781.7,1690.6L776.5,1687.7L776.5,1681.9ZM841.1,1846.6L846.3,1849.5L846.3,1855.3L841.1,1858.2L835.9,1855.3L835.9,1849.5ZM841.1,1829.8L846.3,1832.7L846.3,1838.6L841.1,1841.5L835.9,1838.6L835.9,1832.7ZM880.7,1746.0L885.9,1748.9L885.9,1754.8L880.7,1757.7L875.5,1754.8L875.5,1748.9ZM860.9,1712.5L866.1,1715.4L866.1,1721.2L860.9,1724.2L855.6,1721.2L855.6,1715.4ZM752.0,1896.8L757.2,1899.8L757.2,1905.6L752.0,1908.5L746.8,1905.6L746.8,1899.8ZM855.9,1653.8L861.1,1656.7L861.1,1662.6L855.9,1665.5L850.7,1662.6L850.7,1656.7ZM905.4,1720.9L910.6,1723.8L910.6,1729.6L905.4,1732.5L900.2,1729.6L900.2,1723.8ZM806.4,1821.4L811.6,1824.3L811.6,1830.2L806.4,1833.1L801.2,1830.2L801.2,1824.3ZM880.7,1762.8L885.9,1765.7L885.9,1771.5L880.7,1774.4L875.5,1771.5L875.5,1765.7ZM682.7,1863.3L687.9,1866.2L687.9,1872.1L682.7,1875.0L677.5,1872.1L677.5,1866.2ZM811.4,1829.8L816.6,1832.7L816.6,1838.6L811.4,1841.5L806.1,1838.6L806.1,1832.7ZM781.7,1880.1L786.9,1883.0L786.9,1888.8L781.7,1891.8L776.5,1888.8L776.5,1883.0ZM811.4,1746.0L816.6,1748.9L816.6,1754.8L811.4,1757.7L806.1,1754.8L806.1,1748.9ZM717.3,1854.9L722.5,1857.9L722.5,1863.7L717.3,1866.6L712.1,1863.7L712.1,1857.9ZM885.6,1653.8L890.8,1656.7L890.8,1662.6L885.6,1665.5L880.4,1662.6L880.4,1656.7ZM801.5,1712.5L806.7,1715.4L806.7,1721.2L801.5,1724.2L796.2,1721.2L796.2,1715.4ZM915.3,1754.4L920.5,1757.3L920.5,1763.1L915.3,1766.1L910.1,1763.1L910.1,1757.3ZM826.2,1670.6L831.4,1673.5L831.4,1679.3L826.2,1682.3L821.0,1679.3L821.0,1673.5ZM722.2,1896.8L727.5,1899.8L727.5,1905.6L722.2,1908.5L717.0,1905.6L717.0,1899.8ZM806.4,1771.1L811.6,1774.1L811.6,1779.9L806.4,1782.8L801.2,1779.9L801.2,1774.1ZM841.1,1813.0L846.3,1816.0L846.3,1821.8L841.1,1824.7L835.9,1821.8L835.9,1816.0ZM885.6,1787.9L890.8,1790.8L890.8,1796.7L885.6,1799.6L880.4,1796.7L880.4,1790.8ZM732.2,1813.0L737.4,1816.0L737.4,1821.8L732.2,1824.7L727.0,1821.8L727.0,1816.0ZM811.4,1762.8L816.6,1765.7L816.6,1771.5L811.4,1774.4L806.1,1771.5L806.1,1765.7ZM702.5,1829.8L707.7,1832.7L707.7,1838.6L702.5,1841.5L697.2,1838.6L697.2,1832.7ZM747.0,1854.9L752.2,1857.9L752.2,1863.7L747.0,1866.6L741.8,1863.7L741.8,1857.9ZM860.9,1813.0L866.1,1816.0L866.1,1821.8L860.9,1824.7L855.6,1821.8L855.6,1816.0ZM915.3,1704.1L920.5,1707.0L920.5,1712.9L915.3,1715.8L910.1,1712.9L910.1,1707.0ZM742.1,1880.1L747.3,1883.0L747.3,1888.8L742.1,1891.8L736.9,1888.8L736.9,1883.0ZM771.8,1896.8L777.0,1899.8L777.0,1905.6L771.8,1908.5L766.5,1905.6L766.5,1899.8ZM890.6,1662.2L895.8,1665.1L895.8,1671.0L890.6,1673.9L885.4,1671.0L885.4,1665.1ZM935.1,1838.2L940.3,1841.1L940.3,1846.9L935.1,1849.9L929.9,1846.9L929.9,1841.1ZM791.6,1880.1L796.8,1883.0L796.8,1888.8L791.6,1891.8L786.4,1888.8L786.4,1883.0ZM865.8,1704.1L871.0,1707.0L871.0,1712.9L865.8,1715.8L860.6,1712.9L860.6,1707.0ZM865.8,1804.7L871.0,1807.6L871.0,1813.4L865.8,1816.3L860.6,1813.4L860.6,1807.6ZM900.5,1679.0L905.7,1681.9L905.7,1687.7L900.5,1690.6L895.2,1687.7L895.2,1681.9ZM776.7,1737.6L781.9,1740.5L781.9,1746.4L776.7,1749.3L771.5,1746.4L771.5,1740.5ZM855.9,1704.1L861.1,1707.0L861.1,1712.9L855.9,1715.8L850.7,1712.9L850.7,1707.0ZM870.8,1762.8L876.0,1765.7L876.0,1771.5L870.8,1774.4L865.5,1771.5L865.5,1765.7ZM1004.4,1687.3L1009.6,1690.3L1009.6,1696.1L1004.4,1699.0L999.2,1696.1L999.2,1690.3ZM781.7,1729.2L786.9,1732.2L786.9,1738.0L781.7,1740.9L776.5,1738.0L776.5,1732.2ZM816.3,1687.3L821.5,1690.3L821.5,1696.1L816.3,1699.0L811.1,1696.1L811.1,1690.3ZM702.5,1880.1L707.7,1883.0L707.7,1888.8L702.5,1891.8L697.2,1888.8L697.2,1883.0ZM747.0,1905.2L752.2,1908.1L752.2,1914.0L747.0,1916.9L741.8,1914.0L741.8,1908.1ZM841.1,1679.0L846.3,1681.9L846.3,1687.7L841.1,1690.6L835.9,1687.7L835.9,1681.9ZM851.0,1729.2L856.2,1732.2L856.2,1738.0L851.0,1740.9L845.8,1738.0L845.8,1732.2ZM875.7,1720.9L880.9,1723.8L880.9,1729.6L875.7,1732.5L870.5,1729.6L870.5,1723.8ZM732.2,1846.6L737.4,1849.5L737.4,1855.3L732.2,1858.2L727.0,1855.3L727.0,1849.5ZM761.9,1779.5L767.1,1782.4L767.1,1788.3L761.9,1791.2L756.6,1788.3L756.6,1782.4ZM752.0,1863.3L757.2,1866.2L757.2,1872.1L752.0,1875.0L746.8,1872.1L746.8,1866.2ZM742.1,1813.0L747.3,1816.0L747.3,1821.8L742.1,1824.7L736.9,1821.8L736.9,1816.0ZM841.1,1628.7L846.3,1631.6L846.3,1637.4L841.1,1640.4L835.9,1637.4L835.9,1631.6ZM875.7,1754.4L880.9,1757.3L880.9,1763.1L875.7,1766.1L870.5,1763.1L870.5,1757.3ZM836.1,1720.9L841.3,1723.8L841.3,1729.6L836.1,1732.5L830.9,1729.6L830.9,1723.8ZM811.4,1813.0L816.6,1816.0L816.6,1821.8L811.4,1824.7L806.1,1821.8L806.1,1816.0ZM766.8,1871.7L772.0,1874.6L772.0,1880.5L766.8,1883.4L761.6,1880.5L761.6,1874.6ZM870.8,1695.7L876.0,1698.6L876.0,1704.5L870.8,1707.4L865.5,1704.5L865.5,1698.6ZM821.2,1729.2L826.5,1732.2L826.5,1738.0L821.2,1740.9L816.0,1738.0L816.0,1732.2ZM707.4,1888.5L712.6,1891.4L712.6,1897.2L707.4,1900.1L702.2,1897.2L702.2,1891.4ZM791.6,1746.0L796.8,1748.9L796.8,1754.8L791.6,1757.7L786.4,1754.8L786.4,1748.9ZM870.8,1712.5L876.0,1715.4L876.0,1721.2L870.8,1724.2L865.5,1721.2L865.5,1715.4ZM796.5,1720.9L801.7,1723.8L801.7,1729.6L796.5,1732.5L791.3,1729.6L791.3,1723.8ZM771.8,1863.3L777.0,1866.2L777.0,1872.1L771.8,1875.0L766.5,1872.1L766.5,1866.2ZM786.6,1871.7L791.8,1874.6L791.8,1880.5L786.6,1883.4L781.4,1880.5L781.4,1874.6ZM870.8,1746.0L876.0,1748.9L876.0,1754.8L870.8,1757.7L865.5,1754.8L865.5,1748.9ZM761.9,1762.8L767.1,1765.7L767.1,1771.5L761.9,1774.4L756.6,1771.5L756.6,1765.7ZM826.2,1720.9L831.4,1723.8L831.4,1729.6L826.2,1732.5L821.0,1729.6L821.0,1723.8ZM776.7,1871.7L781.9,1874.6L781.9,1880.5L776.7,1883.4L771.5,1880.5L771.5,1874.6ZM796.5,1871.7L801.7,1874.6L801.7,1880.5L796.5,1883.4L791.3,1880.5L791.3,1874.6ZM737.1,1838.2L742.3,1841.1L742.3,1846.9L737.1,1849.9L731.9,1846.9L731.9,1841.1ZM747.0,1888.5L752.2,1891.4L752.2,1897.2L747.0,1900.1L741.8,1897.2L741.8,1891.4ZM766.8,1771.1L772.0,1774.1L772.0,1779.9L766.8,1782.8L761.6,1779.9L761.6,1774.1ZM890.6,1729.2L895.8,1732.2L895.8,1738.0L890.6,1740.9L885.4,1738.0L885.4,1732.2ZM875.7,1771.1L880.9,1774.1L880.9,1779.9L875.7,1782.8L870.5,1779.9L870.5,1774.1ZM885.6,1754.4L890.8,1757.3L890.8,1763.1L885.6,1766.1L880.4,1763.1L880.4,1757.3ZM880.7,1729.2L885.9,1732.2L885.9,1738.0L880.7,1740.9L875.5,1738.0L875.5,1732.2ZM717.3,1871.7L722.5,1874.6L722.5,1880.5L717.3,1883.4L712.1,1880.5L712.1,1874.6ZM846.0,1821.4L851.2,1824.3L851.2,1830.2L846.0,1833.1L840.8,1830.2L840.8,1824.3ZM851.0,1712.5L856.2,1715.4L856.2,1721.2L851.0,1724.2L845.8,1721.2L845.8,1715.4ZM890.6,1712.5L895.8,1715.4L895.8,1721.2L890.6,1724.2L885.4,1721.2L885.4,1715.4ZM811.4,1779.5L816.6,1782.4L816.6,1788.3L811.4,1791.2L806.1,1788.3L806.1,1782.4ZM875.7,1737.6L880.9,1740.5L880.9,1746.4L875.7,1749.3L870.5,1746.4L870.5,1740.5ZM855.9,1720.9L861.1,1723.8L861.1,1729.6L855.9,1732.5L850.7,1729.6L850.7,1723.8ZM821.2,1846.6L826.5,1849.5L826.5,1855.3L821.2,1858.2L816.0,1855.3L816.0,1849.5ZM860.9,1779.5L866.1,1782.4L866.1,1788.3L860.9,1791.2L855.6,1788.3L855.6,1782.4ZM821.2,1829.8L826.5,1832.7L826.5,1838.6L821.2,1841.5L816.0,1838.6L816.0,1832.7ZM860.9,1762.8L866.1,1765.7L866.1,1771.5L860.9,1774.4L855.6,1771.5L855.6,1765.7ZM796.5,1754.4L801.7,1757.3L801.7,1763.1L796.5,1766.1L791.3,1763.1L791.3,1757.3ZM851.0,1813.0L856.2,1816.0L856.2,1821.8L851.0,1824.7L845.8,1821.8L845.8,1816.0ZM742.1,1796.3L747.3,1799.2L747.3,1805.0L742.1,1808.0L736.9,1805.0L736.9,1799.2ZM846.0,1804.7L851.2,1807.6L851.2,1813.4L846.0,1816.3L840.8,1813.4L840.8,1807.6ZM747.0,1821.4L752.2,1824.3L752.2,1830.2L747.0,1833.1L741.8,1830.2L741.8,1824.3ZM855.9,1737.6L861.1,1740.5L861.1,1746.4L855.9,1749.3L850.7,1746.4L850.7,1740.5ZM801.5,1829.8L806.7,1832.7L806.7,1838.6L801.5,1841.5L796.2,1838.6L796.2,1832.7ZM860.9,1746.0L866.1,1748.9L866.1,1754.8L860.9,1757.7L855.6,1754.8L855.6,1748.9ZM781.7,1863.3L786.9,1866.2L786.9,1872.1L781.7,1875.0L776.5,1872.1L776.5,1866.2ZM776.7,1771.1L781.9,1774.1L781.9,1779.9L776.7,1782.8L771.5,1779.9L771.5,1774.1ZM722.2,1863.3L727.5,1866.2L727.5,1872.1L722.2,1875.0L717.0,1872.1L717.0,1866.2ZM737.1,1871.7L742.3,1874.6L742.3,1880.5L737.1,1883.4L731.9,1880.5L731.9,1874.6ZM781.7,1762.8L786.9,1765.7L786.9,1771.5L781.7,1774.4L776.5,1771.5L776.5,1765.7ZM747.0,1871.7L752.2,1874.6L752.2,1880.5L747.0,1883.4L741.8,1880.5L741.8,1874.6ZM831.2,1712.5L836.4,1715.4L836.4,1721.2L831.2,1724.2L826.0,1721.2L826.0,1715.4ZM752.0,1813.0L757.2,1816.0L757.2,1821.8L752.0,1824.7L746.8,1821.8L746.8,1816.0ZM791.6,1863.3L796.8,1866.2L796.8,1872.1L791.6,1875.0L786.4,1872.1L786.4,1866.2ZM761.9,1880.1L767.1,1883.0L767.1,1888.8L761.9,1891.8L756.6,1888.8L756.6,1883.0ZM781.7,1746.0L786.9,1748.9L786.9,1754.8L781.7,1757.7L776.5,1754.8L776.5,1748.9ZM761.9,1863.3L767.1,1866.2L767.1,1872.1L761.9,1875.0L756.6,1872.1L756.6,1866.2ZM747.0,1804.7L752.2,1807.6L752.2,1813.4L747.0,1816.3L741.8,1813.4L741.8,1807.6ZM776.7,1754.4L781.9,1757.3L781.9,1763.1L776.7,1766.1L771.5,1763.1L771.5,1757.3ZM801.5,1813.0L806.7,1816.0L806.7,1821.8L801.5,1824.7L796.2,1821.8L796.2,1816.0ZM860.9,1729.2L866.1,1732.2L866.1,1738.0L860.9,1740.9L855.6,1738.0L855.6,1732.2ZM742.1,1863.3L747.3,1866.2L747.3,1872.1L742.1,1875.0L736.9,1872.1L736.9,1866.2ZM846.0,1720.9L851.2,1723.8L851.2,1729.6L846.0,1732.5L840.8,1729.6L840.8,1723.8ZM796.5,1854.9L801.7,1857.9L801.7,1863.7L796.5,1866.6L791.3,1863.7L791.3,1857.9ZM841.1,1712.5L846.3,1715.4L846.3,1721.2L841.1,1724.2L835.9,1721.2L835.9,1715.4ZM771.8,1779.5L777.0,1782.4L777.0,1788.3L771.8,1791.2L766.5,1788.3L766.5,1782.4ZM747.0,1838.2L752.2,1841.1L752.2,1846.9L747.0,1849.9L741.8,1846.9L741.8,1841.1ZM865.8,1754.4L871.0,1757.3L871.0,1763.1L865.8,1766.1L860.6,1763.1L860.6,1757.3ZM851.0,1796.3L856.2,1799.2L856.2,1805.0L851.0,1808.0L845.8,1805.0L845.8,1799.2ZM841.1,1796.3L846.3,1799.2L846.3,1805.0L841.1,1808.0L835.9,1805.0L835.9,1799.2ZM761.9,1846.6L767.1,1849.5L767.1,1855.3L761.9,1858.2L756.6,1855.3L756.6,1849.5ZM742.1,1846.6L747.3,1849.5L747.3,1855.3L742.1,1858.2L736.9,1855.3L736.9,1849.5ZM836.1,1804.7L841.3,1807.6L841.3,1813.4L836.1,1816.3L830.9,1813.4L830.9,1807.6ZM826.2,1821.4L831.4,1824.3L831.4,1830.2L826.2,1833.1L821.0,1830.2L821.0,1824.3ZM855.9,1754.4L861.1,1757.3L861.1,1763.1L855.9,1766.1L850.7,1763.1L850.7,1757.3ZM855.9,1771.1L861.1,1774.1L861.1,1779.9L855.9,1782.8L850.7,1779.9L850.7,1774.1ZM752.0,1829.8L757.2,1832.7L757.2,1838.6L752.0,1841.5L746.8,1838.6L746.8,1832.7ZM841.1,1729.2L846.3,1732.2L846.3,1738.0L841.1,1740.9L835.9,1738.0L835.9,1732.2ZM801.5,1779.5L806.7,1782.4L806.7,1788.3L801.5,1791.2L796.2,1788.3L796.2,1782.4ZM836.1,1821.4L841.3,1824.3L841.3,1830.2L836.1,1833.1L830.9,1830.2L830.9,1824.3ZM885.6,1720.9L890.8,1723.8L890.8,1729.6L885.6,1732.5L880.4,1729.6L880.4,1723.8ZM865.8,1737.6L871.0,1740.5L871.0,1746.4L865.8,1749.3L860.6,1746.4L860.6,1740.5ZM811.4,1796.3L816.6,1799.2L816.6,1805.0L811.4,1808.0L806.1,1805.0L806.1,1799.2ZM776.7,1787.9L781.9,1790.8L781.9,1796.7L776.7,1799.6L771.5,1796.7L771.5,1790.8ZM816.3,1821.4L821.5,1824.3L821.5,1830.2L816.3,1833.1L811.1,1830.2L811.1,1824.3ZM742.1,1829.8L747.3,1832.7L747.3,1838.6L742.1,1841.5L736.9,1838.6L736.9,1832.7ZM841.1,1746.0L846.3,1748.9L846.3,1754.8L841.1,1757.7L835.9,1754.8L835.9,1748.9ZM756.9,1838.2L762.1,1841.1L762.1,1846.9L756.9,1849.9L751.7,1846.9L751.7,1841.1ZM855.9,1787.9L861.1,1790.8L861.1,1796.7L855.9,1799.6L850.7,1796.7L850.7,1790.8ZM752.0,1846.6L757.2,1849.5L757.2,1855.3L752.0,1858.2L746.8,1855.3L746.8,1849.5ZM796.5,1838.2L801.7,1841.1L801.7,1846.9L796.5,1849.9L791.3,1846.9L791.3,1841.1ZM766.8,1787.9L772.0,1790.8L772.0,1796.7L766.8,1799.6L761.6,1796.7L761.6,1790.8ZM826.2,1737.6L831.4,1740.5L831.4,1746.4L826.2,1749.3L821.0,1746.4L821.0,1740.5ZM766.8,1838.2L772.0,1841.1L772.0,1846.9L766.8,1849.9L761.6,1846.9L761.6,1841.1ZM776.7,1854.9L781.9,1857.9L781.9,1863.7L776.7,1866.6L771.5,1863.7L771.5,1857.9ZM756.9,1871.7L762.1,1874.6L762.1,1880.5L756.9,1883.4L751.7,1880.5L751.7,1874.6ZM796.5,1771.1L801.7,1774.1L801.7,1779.9L796.5,1782.8L791.3,1779.9L791.3,1774.1ZM836.1,1737.6L841.3,1740.5L841.3,1746.4L836.1,1749.3L830.9,1746.4L830.9,1740.5ZM801.5,1796.3L806.7,1799.2L806.7,1805.0L801.5,1808.0L796.2,1805.0L796.2,1799.2ZM841.1,1779.5L846.3,1782.4L846.3,1788.3L841.1,1791.2L835.9,1788.3L835.9,1782.4ZM766.8,1854.9L772.0,1857.9L772.0,1863.7L766.8,1866.6L761.6,1863.7L761.6,1857.9ZM831.2,1729.2L836.4,1732.2L836.4,1738.0L831.2,1740.9L826.0,1738.0L826.0,1732.2ZM846.0,1787.9L851.2,1790.8L851.2,1796.7L846.0,1799.6L840.8,1796.7L840.8,1790.8ZM771.8,1846.6L777.0,1849.5L777.0,1855.3L771.8,1858.2L766.5,1855.3L766.5,1849.5ZM816.3,1804.7L821.5,1807.6L821.5,1813.4L816.3,1816.3L811.1,1813.4L811.1,1807.6ZM870.8,1729.2L876.0,1732.2L876.0,1738.0L870.8,1740.9L865.5,1738.0L865.5,1732.2ZM766.8,1821.4L772.0,1824.3L772.0,1830.2L766.8,1833.1L761.6,1830.2L761.6,1824.3ZM846.0,1737.6L851.2,1740.5L851.2,1746.4L846.0,1749.3L840.8,1746.4L840.8,1740.5ZM756.9,1804.7L762.1,1807.6L762.1,1813.4L756.9,1816.3L751.7,1813.4L751.7,1807.6ZM756.9,1854.9L762.1,1857.9L762.1,1863.7L756.9,1866.6L751.7,1863.7L751.7,1857.9ZM846.0,1771.1L851.2,1774.1L851.2,1779.9L846.0,1782.8L840.8,1779.9L840.8,1774.1ZM831.2,1813.0L836.4,1816.0L836.4,1821.8L831.2,1824.7L826.0,1821.8L826.0,1816.0ZM851.0,1779.5L856.2,1782.4L856.2,1788.3L851.0,1791.2L845.8,1788.3L845.8,1782.4ZM851.0,1746.0L856.2,1748.9L856.2,1754.8L851.0,1757.7L845.8,1754.8L845.8,1748.9ZM771.8,1796.3L777.0,1799.2L777.0,1805.0L771.8,1808.0L766.5,1805.0L766.5,1799.2ZM851.0,1762.8L856.2,1765.7L856.2,1771.5L851.0,1774.4L845.8,1771.5L845.8,1765.7ZM836.1,1787.9L841.3,1790.8L841.3,1796.7L836.1,1799.6L830.9,1796.7L830.9,1790.8ZM761.9,1813.0L767.1,1816.0L767.1,1821.8L761.9,1824.7L756.6,1821.8L756.6,1816.0ZM846.0,1754.4L851.2,1757.3L851.2,1763.1L846.0,1766.1L840.8,1763.1L840.8,1757.3ZM841.1,1762.8L846.3,1765.7L846.3,1771.5L841.1,1774.4L835.9,1771.5L835.9,1765.7ZM756.9,1821.4L762.1,1824.3L762.1,1830.2L756.9,1833.1L751.7,1830.2L751.7,1824.3ZM766.8,1804.7L772.0,1807.6L772.0,1813.4L766.8,1816.3L761.6,1813.4L761.6,1807.6ZM816.3,1754.4L821.5,1757.3L821.5,1763.1L816.3,1766.1L811.1,1763.1L811.1,1757.3ZM786.6,1854.9L791.8,1857.9L791.8,1863.7L786.6,1866.6L781.4,1863.7L781.4,1857.9ZM771.8,1813.0L777.0,1816.0L777.0,1821.8L771.8,1824.7L766.5,1821.8L766.5,1816.0ZM791.6,1762.8L796.8,1765.7L796.8,1771.5L791.6,1774.4L786.4,1771.5L786.4,1765.7ZM761.9,1796.3L767.1,1799.2L767.1,1805.0L761.9,1808.0L756.6,1805.0L756.6,1799.2ZM776.7,1804.7L781.9,1807.6L781.9,1813.4L776.7,1816.3L771.5,1813.4L771.5,1807.6ZM791.6,1846.6L796.8,1849.5L796.8,1855.3L791.6,1858.2L786.4,1855.3L786.4,1849.5ZM836.1,1754.4L841.3,1757.3L841.3,1763.1L836.1,1766.1L830.9,1763.1L830.9,1757.3ZM816.3,1787.9L821.5,1790.8L821.5,1796.7L816.3,1799.6L811.1,1796.7L811.1,1790.8ZM831.2,1796.3L836.4,1799.2L836.4,1805.0L831.2,1808.0L826.0,1805.0L826.0,1799.2ZM831.2,1746.0L836.4,1748.9L836.4,1754.8L831.2,1757.7L826.0,1754.8L826.0,1748.9ZM781.7,1846.6L786.9,1849.5L786.9,1855.3L781.7,1858.2L776.5,1855.3L776.5,1849.5ZM791.6,1829.8L796.8,1832.7L796.8,1838.6L791.6,1841.5L786.4,1838.6L786.4,1832.7ZM831.2,1762.8L836.4,1765.7L836.4,1771.5L831.2,1774.4L826.0,1771.5L826.0,1765.7ZM821.2,1746.0L826.5,1748.9L826.5,1754.8L821.2,1757.7L816.0,1754.8L816.0,1748.9ZM826.2,1804.7L831.4,1807.6L831.4,1813.4L826.2,1816.3L821.0,1813.4L821.0,1807.6ZM821.2,1813.0L826.5,1816.0L826.5,1821.8L821.2,1824.7L816.0,1821.8L816.0,1816.0ZM761.9,1829.8L767.1,1832.7L767.1,1838.6L761.9,1841.5L756.6,1838.6L756.6,1832.7ZM796.5,1821.4L801.7,1824.3L801.7,1830.2L796.5,1833.1L791.3,1830.2L791.3,1824.3ZM791.6,1779.5L796.8,1782.4L796.8,1788.3L791.6,1791.2L786.4,1788.3L786.4,1782.4ZM786.6,1771.1L791.8,1774.1L791.8,1779.9L786.6,1782.8L781.4,1779.9L781.4,1774.1ZM786.6,1838.2L791.8,1841.1L791.8,1846.9L786.6,1849.9L781.4,1846.9L781.4,1841.1ZM781.7,1779.5L786.9,1782.4L786.9,1788.3L781.7,1791.2L776.5,1788.3L776.5,1782.4ZM816.3,1771.1L821.5,1774.1L821.5,1779.9L816.3,1782.8L811.1,1779.9L811.1,1774.1ZM776.7,1838.2L781.9,1841.1L781.9,1846.9L776.7,1849.9L771.5,1846.9L771.5,1841.1ZM826.2,1787.9L831.4,1790.8L831.4,1796.7L826.2,1799.6L821.0,1796.7L821.0,1790.8ZM821.2,1762.8L826.5,1765.7L826.5,1771.5L821.2,1774.4L816.0,1771.5L816.0,1765.7ZM821.2,1779.5L826.5,1782.4L826.5,1788.3L821.2,1791.2L816.0,1788.3L816.0,1782.4ZM781.7,1813.0L786.9,1816.0L786.9,1821.8L781.7,1824.7L776.5,1821.8L776.5,1816.0ZM836.1,1771.1L841.3,1774.1L841.3,1779.9L836.1,1782.8L830.9,1779.9L830.9,1774.1ZM831.2,1779.5L836.4,1782.4L836.4,1788.3L831.2,1791.2L826.0,1788.3L826.0,1782.4ZM786.6,1787.9L791.8,1790.8L791.8,1796.7L786.6,1799.6L781.4,1796.7L781.4,1790.8ZM821.2,1796.3L826.5,1799.2L826.5,1805.0L821.2,1808.0L816.0,1805.0L816.0,1799.2ZM826.2,1754.4L831.4,1757.3L831.4,1763.1L826.2,1766.1L821.0,1763.1L821.0,1757.3ZM776.7,1821.4L781.9,1824.3L781.9,1830.2L776.7,1833.1L771.5,1830.2L771.5,1824.3ZM781.7,1829.8L786.9,1832.7L786.9,1838.6L781.7,1841.5L776.5,1838.6L776.5,1832.7ZM771.8,1829.8L777.0,1832.7L777.0,1838.6L771.8,1841.5L766.5,1838.6L766.5,1832.7ZM786.6,1821.4L791.8,1824.3L791.8,1830.2L786.6,1833.1L781.4,1830.2L781.4,1824.3ZM791.6,1813.0L796.8,1816.0L796.8,1821.8L791.6,1824.7L786.4,1821.8L786.4,1816.0ZM781.7,1796.3L786.9,1799.2L786.9,1805.0L781.7,1808.0L776.5,1805.0L776.5,1799.2ZM796.5,1787.9L801.7,1790.8L801.7,1796.7L796.5,1799.6L791.3,1796.7L791.3,1790.8ZM786.6,1804.7L791.8,1807.6L791.8,1813.4L786.6,1816.3L781.4,1813.4L781.4,1807.6ZM826.2,1771.1L831.4,1774.1L831.4,1779.9L826.2,1782.8L821.0,1779.9L821.0,1774.1ZM796.5,1804.7L801.7,1807.6L801.7,1813.4L796.5,1816.3L791.3,1813.4L791.3,1807.6ZM791.6,1796.3L796.8,1799.2L796.8,1805.0L791.6,1808.0L786.4,1805.0L786.4,1799.2Z"/><clipPath id="hc9"><use href="#hx9"/></clipPath><clipPath id="clj"><rect x="770.6" y="1555.3" width="160" height="40"/></clipPath><clipPath id="ck"><rect x="100" y="2000" width="900" height="412.7"/></clipPath></defs><text font-size="40" text-anchor="start" fill="#231815" font-weight="bold" x="0.50" y="30.00" >a</text>
<line x1="124.70" y1="27.40" x2="124.70" y2="460.20" stroke="#000" stroke-width="4.2" />
<line x1="122.60" y1="458.10" x2="510.30" y2="458.10" stroke="#000" stroke-width="4.2" />
<line x1="113.00" y1="46.80" x2="122.70" y2="46.80" stroke="#333333" stroke-width="3.9" />
<text font-size="29.17" text-anchor="end" fill="#000" x="104.00" y="57.60" >1.0</text>
<line x1="113.00" y1="125.25" x2="122.70" y2="125.25" stroke="#333333" stroke-width="3.9" />
<text font-size="29.17" text-anchor="end" fill="#000" x="104.00" y="136.05" >0.9</text>
<line x1="113.00" y1="203.70" x2="122.70" y2="203.70" stroke="#333333" stroke-width="3.9" />
<text font-size="29.17" text-anchor="end" fill="#000" x="104.00" y="214.50" >0.8</text>
<line x1="113.00" y1="282.15" x2="122.70" y2="282.15" stroke="#333333" stroke-width="3.9" />
<text font-size="29.17" text-anchor="end" fill="#000" x="104.00" y="292.95" >0.7</text>
<line x1="113.00" y1="360.60" x2="122.70" y2="360.60" stroke="#333333" stroke-width="3.9" />
<text font-size="29.17" text-anchor="end" fill="#000" x="104.00" y="371.40" >0.6</text>
<line x1="113.00" y1="439.05" x2="122.70" y2="439.05" stroke="#333333" stroke-width="3.9" />
<text font-size="29.17" text-anchor="end" fill="#000" x="104.00" y="449.85" >0.5</text>
<line x1="196.80" y1="460.10" x2="196.80" y2="469.60" stroke="#333333" stroke-width="3.9" />
<line x1="317.10" y1="460.10" x2="317.10" y2="469.60" stroke="#333333" stroke-width="3.9" />
<line x1="437.60" y1="460.10" x2="437.60" y2="469.60" stroke="#333333" stroke-width="3.9" />
<text font-size="29.17" text-anchor="middle" fill="#000" x="196.80" y="499.50" >Z−score</text>
<text font-size="29.17" text-anchor="middle" fill="#000" x="317.10" y="499.50" >Slope</text>
<text font-size="29.17" text-anchor="middle" fill="#000" x="437.60" y="499.50" >−<tspan dx="3">log</tspan><tspan font-size="20.4" dy="5">10</tspan><tspan dy="-5" font-size="29.17">&#8203;</tspan><tspan font-style="italic">P</tspan></text>
<text font-size="29.17" text-anchor="middle" fill="#000" transform="translate(45.00,243.00) rotate(-90)" >Pearson's correlation</text>
<line x1="196.75" y1="51.70" x2="196.75" y2="76.60" stroke="#3a2a26" stroke-width="1.4" />
<rect x="151.00" y="54.90" width="91.50" height="14.00" fill="#E8917A" stroke="#3a2a26" stroke-width="1.4" />
<line x1="151.00" y1="61.40" x2="242.50" y2="61.40" stroke="#3f2b27" stroke-width="3.3" />
<line x1="317.35" y1="57.50" x2="317.35" y2="124.80" stroke="#3a2a26" stroke-width="1.4" />
<rect x="271.60" y="72.60" width="91.50" height="25.20" fill="#E8917A" stroke="#3a2a26" stroke-width="1.4" />
<line x1="271.60" y1="81.20" x2="363.10" y2="81.20" stroke="#3f2b27" stroke-width="3.3" />
<line x1="438.05" y1="69.60" x2="438.05" y2="147.60" stroke="#3a2a26" stroke-width="1.4" />
<rect x="392.20" y="80.10" width="91.70" height="31.60" fill="#E8917A" stroke="#3a2a26" stroke-width="1.4" />
<line x1="392.20" y1="94.00" x2="483.90" y2="94.00" stroke="#3f2b27" stroke-width="3.3" />
<text font-size="40" text-anchor="start" fill="#231815" font-weight="bold" x="519.00" y="28.70" >b</text>
<path d="M676.7,27.7 L675.3,28.9 L675.0,30.0 L675.5,31.2 L676.2,32.3 L676.9,33.5 L677.5,34.6 L678.1,35.8 L678.5,36.9 L679.0,38.1 L679.3,39.2 L679.7,40.4 L679.9,41.5 L680.0,42.7 L680.0,43.8 L680.0,45.0 L680.0,46.2 L681.0,46.2 L681.0,45.0 L681.0,43.8 L681.0,42.7 L681.1,41.5 L681.3,40.4 L681.7,39.2 L682.0,38.1 L682.5,36.9 L682.9,35.8 L683.5,34.6 L684.1,33.5 L684.8,32.3 L685.5,31.2 L686.0,30.0 L685.7,28.9 L684.3,27.7Z" fill="#4F5D66"/>
<polygon points="680.0,46.2 681.0,46.2 680.8,82.1 680.2,82.1" fill="#4F5D66" opacity="0.42"/>
<line x1="680.50" y1="28.20" x2="680.50" y2="53.33" stroke="#27343c" stroke-width="1.0" opacity="0.85"/>
<rect x="679.05" y="32.03" width="2.90" height="6.94" fill="#fff" stroke="#1a1a1a" stroke-width="0.8" />
<line x1="679.05" y1="34.67" x2="681.95" y2="34.67" stroke="#1a1a1a" stroke-width="0.9" />
<path d="M690.8,27.7 L688.2,30.2 L687.3,32.7 L686.9,35.2 L687.3,37.7 L687.8,40.2 L688.3,42.7 L688.8,45.2 L689.3,47.7 L689.7,50.2 L690.2,52.7 L690.6,55.2 L691.0,57.7 L691.4,60.2 L691.7,62.7 L691.8,65.2 L691.8,67.7 L692.8,67.7 L692.8,65.2 L692.9,62.7 L693.2,60.2 L693.6,57.7 L694.0,55.2 L694.4,52.7 L694.9,50.2 L695.3,47.7 L695.8,45.2 L696.3,42.7 L696.8,40.2 L697.3,37.7 L697.7,35.2 L697.3,32.7 L696.4,30.2 L693.8,27.7Z" fill="#E2A76D"/>
<polygon points="691.8,67.7 692.8,67.7 692.5,192.2 692.0,192.2" fill="#E2A76D" opacity="0.42"/>
<line x1="692.30" y1="28.20" x2="692.30" y2="89.24" stroke="#5a3a22" stroke-width="1.0" opacity="0.85"/>
<rect x="690.85" y="33.95" width="2.90" height="24.65" fill="#fff" stroke="#1a1a1a" stroke-width="0.8" />
<line x1="690.85" y1="43.32" x2="693.75" y2="43.32" stroke="#1a1a1a" stroke-width="0.9" />
<path d="M702.7,27.7 L699.9,31.7 L698.9,35.7 L698.5,39.7 L698.9,43.7 L699.5,47.7 L700.0,51.7 L700.5,55.7 L701.0,59.7 L701.5,63.7 L702.0,67.7 L702.5,71.7 L702.9,75.7 L703.3,79.7 L703.7,83.6 L703.8,87.6 L703.8,91.6 L704.8,91.6 L704.8,87.6 L704.9,83.6 L705.3,79.7 L705.7,75.7 L706.1,71.7 L706.6,67.7 L707.1,63.7 L707.6,59.7 L708.1,55.7 L708.6,51.7 L709.1,47.7 L709.7,43.7 L710.1,39.7 L709.7,35.7 L708.7,31.7 L705.9,27.7Z" fill="#3AAADA"/>
<polygon points="703.8,91.6 704.8,91.6 704.5,167.0 704.0,167.0" fill="#3AAADA" opacity="0.42"/>
<line x1="704.30" y1="28.20" x2="704.30" y2="98.82" stroke="#1b4f68" stroke-width="1.0" opacity="0.85"/>
<rect x="702.85" y="36.06" width="2.90" height="32.12" fill="#fff" stroke="#1a1a1a" stroke-width="0.8" />
<line x1="702.85" y1="48.26" x2="705.75" y2="48.26" stroke="#1a1a1a" stroke-width="0.9" />
<line x1="692.30" y1="268.40" x2="692.30" y2="277.60" stroke="#333333" stroke-width="4" />
<text font-size="25" text-anchor="end" fill="#000" transform="translate(699.30,288.00) rotate(-90)" >Kidney</text>
<path d="M718.5,27.7 L717.0,28.4 L716.8,29.1 L717.3,29.8 L718.0,30.5 L718.7,31.2 L719.3,31.9 L719.9,32.6 L720.4,33.3 L720.8,34.0 L721.2,34.8 L721.5,35.5 L721.8,36.2 L721.9,36.9 L721.9,37.6 L721.9,38.3 L721.9,39.0 L722.8,39.0 L722.8,38.3 L722.8,37.6 L722.8,36.9 L723.0,36.2 L723.2,35.5 L723.6,34.8 L723.9,34.0 L724.4,33.3 L724.9,32.6 L725.4,31.9 L726.0,31.2 L726.7,30.5 L727.5,29.8 L728.0,29.1 L727.7,28.4 L726.2,27.7Z" fill="#4F5D66"/>
<polygon points="721.9,39.0 722.9,39.0 722.6,118.0 722.1,118.0" fill="#4F5D66" opacity="0.42"/>
<line x1="722.38" y1="28.20" x2="722.38" y2="46.15" stroke="#27343c" stroke-width="1.0" opacity="0.85"/>
<rect x="720.93" y="29.51" width="2.90" height="3.47" fill="#fff" stroke="#1a1a1a" stroke-width="0.8" />
<path d="M732.7,27.7 L730.3,28.7 L729.4,29.7 L729.1,30.7 L729.5,31.7 L729.9,32.7 L730.4,33.7 L730.9,34.7 L731.3,35.7 L731.8,36.7 L732.2,37.7 L732.6,38.7 L733.0,39.7 L733.3,40.8 L733.7,41.8 L733.7,42.8 L733.7,43.8 L734.6,43.8 L734.6,42.8 L734.7,41.8 L735.0,40.8 L735.4,39.7 L735.8,38.7 L736.2,37.7 L736.6,36.7 L737.0,35.7 L737.5,34.7 L737.9,33.7 L738.4,32.7 L738.9,31.7 L739.3,30.7 L738.9,29.7 L738.0,28.7 L735.6,27.7Z" fill="#E2A76D"/>
<polygon points="733.7,43.8 734.7,43.8 734.4,134.7 733.9,134.7" fill="#E2A76D" opacity="0.42"/>
<line x1="734.18" y1="28.20" x2="734.18" y2="53.33" stroke="#5a3a22" stroke-width="1.0" opacity="0.85"/>
<rect x="732.73" y="29.11" width="2.90" height="7.47" fill="#fff" stroke="#1a1a1a" stroke-width="0.8" />
<line x1="732.73" y1="31.95" x2="735.63" y2="31.95" stroke="#1a1a1a" stroke-width="0.9" />
<path d="M744.5,27.7 L741.8,29.2 L740.8,30.6 L740.4,32.1 L740.8,33.5 L741.4,35.0 L741.9,36.4 L742.4,37.9 L742.9,39.3 L743.4,40.8 L743.9,42.2 L744.4,43.7 L744.8,45.1 L745.2,46.6 L745.6,48.0 L745.7,49.5 L745.7,50.9 L746.6,50.9 L746.6,49.5 L746.8,48.0 L747.2,46.6 L747.6,45.1 L748.0,43.7 L748.5,42.2 L748.9,40.8 L749.4,39.3 L749.9,37.9 L750.5,36.4 L751.0,35.0 L751.5,33.5 L752.0,32.1 L751.6,30.6 L750.5,29.2 L747.8,27.7Z" fill="#3AAADA"/>
<polygon points="745.7,50.9 746.7,50.9 746.4,206.5 745.9,206.5" fill="#3AAADA" opacity="0.42"/>
<line x1="746.18" y1="28.20" x2="746.18" y2="67.70" stroke="#1b4f68" stroke-width="1.0" opacity="0.85"/>
<rect x="744.73" y="30.42" width="2.90" height="12.14" fill="#fff" stroke="#1a1a1a" stroke-width="0.8" />
<line x1="744.73" y1="35.04" x2="747.63" y2="35.04" stroke="#1a1a1a" stroke-width="0.9" />
<line x1="734.18" y1="268.40" x2="734.18" y2="277.60" stroke="#333333" stroke-width="4" />
<text font-size="25" text-anchor="end" fill="#000" transform="translate(741.18,288.00) rotate(-90)" >Fetal_thymus</text>
<path d="M760.5,27.7 L759.0,28.3 L758.7,29.0 L759.3,29.6 L760.0,30.2 L760.7,30.9 L761.3,31.5 L761.8,32.1 L762.3,32.7 L762.7,33.4 L763.1,34.0 L763.4,34.6 L763.7,35.3 L763.8,35.9 L763.8,36.5 L763.8,37.1 L763.8,37.8 L764.7,37.8 L764.7,37.1 L764.7,36.5 L764.7,35.9 L764.8,35.3 L765.1,34.6 L765.4,34.0 L765.8,33.4 L766.2,32.7 L766.7,32.1 L767.2,31.5 L767.9,30.9 L768.5,30.2 L769.3,29.6 L769.8,29.0 L769.5,28.3 L768.1,27.7Z" fill="#4F5D66"/>
<polygon points="763.8,37.8 764.8,37.8 764.5,59.3 764.0,59.3" fill="#4F5D66" opacity="0.42"/>
<line x1="764.26" y1="28.20" x2="764.26" y2="44.95" stroke="#27343c" stroke-width="1.0" opacity="0.85"/>
<rect x="762.81" y="29.51" width="2.90" height="3.47" fill="#fff" stroke="#1a1a1a" stroke-width="0.8" />
<path d="M774.4,27.7 L771.7,29.2 L770.6,30.8 L770.3,32.3 L770.7,33.8 L771.2,35.3 L771.8,36.9 L772.3,38.4 L772.8,39.9 L773.3,41.5 L773.8,43.0 L774.2,44.5 L774.7,46.0 L775.1,47.6 L775.5,49.1 L775.6,50.6 L775.6,52.1 L776.5,52.1 L776.5,50.6 L776.7,49.1 L777.0,47.6 L777.5,46.0 L777.9,44.5 L778.3,43.0 L778.8,41.5 L779.3,39.9 L779.8,38.4 L780.3,36.9 L780.9,35.3 L781.4,33.8 L781.8,32.3 L781.5,30.8 L780.4,29.2 L777.7,27.7Z" fill="#E2A76D"/>
<polygon points="775.6,52.1 776.6,52.1 776.3,163.5 775.8,163.5" fill="#E2A76D" opacity="0.42"/>
<line x1="776.06" y1="28.20" x2="776.06" y2="67.70" stroke="#5a3a22" stroke-width="1.0" opacity="0.85"/>
<rect x="774.61" y="30.95" width="2.90" height="14.00" fill="#fff" stroke="#1a1a1a" stroke-width="0.8" />
<line x1="774.61" y1="36.27" x2="777.51" y2="36.27" stroke="#1a1a1a" stroke-width="0.9" />
<path d="M786.4,27.7 L783.7,29.2 L782.6,30.6 L782.3,32.1 L782.7,33.5 L783.2,35.0 L783.8,36.4 L784.3,37.9 L784.8,39.3 L785.3,40.8 L785.8,42.2 L786.2,43.7 L786.7,45.1 L787.1,46.6 L787.5,48.0 L787.6,49.5 L787.6,50.9 L788.5,50.9 L788.5,49.5 L788.7,48.0 L789.0,46.6 L789.5,45.1 L789.9,43.7 L790.3,42.2 L790.8,40.8 L791.3,39.3 L791.8,37.9 L792.3,36.4 L792.9,35.0 L793.4,33.5 L793.8,32.1 L793.5,30.6 L792.4,29.2 L789.7,27.7Z" fill="#3AAADA"/>
<polygon points="787.6,50.9 788.6,50.9 788.3,86.8 787.8,86.8" fill="#3AAADA" opacity="0.42"/>
<line x1="788.06" y1="28.20" x2="788.06" y2="60.52" stroke="#1b4f68" stroke-width="1.0" opacity="0.85"/>
<rect x="786.61" y="30.32" width="2.90" height="11.76" fill="#fff" stroke="#1a1a1a" stroke-width="0.8" />
<line x1="786.61" y1="34.79" x2="789.51" y2="34.79" stroke="#1a1a1a" stroke-width="0.9" />
<line x1="776.06" y1="268.40" x2="776.06" y2="277.60" stroke="#333333" stroke-width="4" />
<text font-size="25" text-anchor="end" fill="#000" transform="translate(783.06,288.00) rotate(-90)" >Duodenum</text>
<path d="M802.3,27.7 L800.8,28.3 L800.5,29.0 L801.0,29.6 L801.8,30.2 L802.5,30.9 L803.1,31.5 L803.7,32.1 L804.2,32.7 L804.6,33.4 L805.0,34.0 L805.3,34.6 L805.6,35.3 L805.7,35.9 L805.7,36.5 L805.7,37.1 L805.7,37.8 L806.6,37.8 L806.6,37.1 L806.6,36.5 L806.6,35.9 L806.7,35.3 L807.0,34.6 L807.3,34.0 L807.7,33.4 L808.1,32.7 L808.6,32.1 L809.2,31.5 L809.8,30.9 L810.5,30.2 L811.2,29.6 L811.8,29.0 L811.5,28.3 L810.0,27.7Z" fill="#4F5D66"/>
<polygon points="805.6,37.8 806.6,37.8 806.4,47.1 805.9,47.1" fill="#4F5D66" opacity="0.42"/>
<line x1="806.14" y1="28.20" x2="806.14" y2="47.11" stroke="#27343c" stroke-width="1.0" opacity="0.85"/>
<rect x="804.69" y="31.02" width="2.90" height="5.55" fill="#fff" stroke="#1a1a1a" stroke-width="0.8" />
<path d="M816.3,27.7 L813.6,30.2 L812.5,32.7 L812.2,35.2 L812.6,37.7 L813.1,40.2 L813.7,42.7 L814.2,45.2 L814.7,47.7 L815.2,50.2 L815.7,52.7 L816.1,55.2 L816.5,57.7 L817.0,60.2 L817.3,62.7 L817.5,65.2 L817.5,67.7 L818.4,67.7 L818.4,65.2 L818.5,62.7 L818.9,60.2 L819.3,57.7 L819.8,55.2 L820.2,52.7 L820.7,50.2 L821.2,47.7 L821.7,45.2 L822.2,42.7 L822.8,40.2 L823.3,37.7 L823.7,35.2 L823.4,32.7 L822.3,30.2 L819.6,27.7Z" fill="#E2A76D"/>
<polygon points="817.4,67.7 818.4,67.7 818.2,126.4 817.7,126.4" fill="#E2A76D" opacity="0.42"/>
<line x1="817.94" y1="28.20" x2="817.94" y2="91.64" stroke="#5a3a22" stroke-width="1.0" opacity="0.85"/>
<rect x="816.49" y="33.85" width="2.90" height="24.28" fill="#fff" stroke="#1a1a1a" stroke-width="0.8" />
<line x1="816.49" y1="43.07" x2="819.39" y2="43.07" stroke="#1a1a1a" stroke-width="0.9" />
<path d="M828.3,27.7 L825.6,29.5 L824.5,31.3 L824.2,33.1 L824.6,34.9 L825.1,36.7 L825.7,38.5 L826.2,40.3 L826.7,42.1 L827.2,43.9 L827.7,45.7 L828.1,47.5 L828.5,49.3 L829.0,51.1 L829.3,52.9 L829.5,54.7 L829.5,56.4 L830.4,56.4 L830.4,54.7 L830.5,52.9 L830.9,51.1 L831.3,49.3 L831.8,47.5 L832.2,45.7 L832.7,43.9 L833.2,42.1 L833.7,40.3 L834.2,38.5 L834.8,36.7 L835.3,34.9 L835.7,33.1 L835.4,31.3 L834.3,29.5 L831.6,27.7Z" fill="#3AAADA"/>
<polygon points="829.4,56.4 830.4,56.4 830.2,84.5 829.7,84.5" fill="#3AAADA" opacity="0.42"/>
<line x1="829.94" y1="28.20" x2="829.94" y2="84.46" stroke="#1b4f68" stroke-width="1.0" opacity="0.85"/>
<rect x="828.49" y="31.42" width="2.90" height="15.69" fill="#fff" stroke="#1a1a1a" stroke-width="0.8" />
<line x1="828.49" y1="37.38" x2="831.39" y2="37.38" stroke="#1a1a1a" stroke-width="0.9" />
<line x1="817.94" y1="268.40" x2="817.94" y2="277.60" stroke="#333333" stroke-width="4" />
<text font-size="25" text-anchor="end" fill="#000" transform="translate(824.94,288.00) rotate(-90)" >Lymph_node</text>
<path d="M844.4,27.7 L843.0,28.3 L842.7,29.0 L843.2,29.6 L843.9,30.2 L844.5,30.9 L845.1,31.5 L845.7,32.1 L846.1,32.7 L846.5,33.4 L846.9,34.0 L847.2,34.6 L847.5,35.3 L847.6,35.9 L847.6,36.5 L847.6,37.1 L847.6,37.8 L848.5,37.8 L848.5,37.1 L848.5,36.5 L848.5,35.9 L848.6,35.3 L848.8,34.6 L849.1,34.0 L849.5,33.4 L849.9,32.7 L850.4,32.1 L850.9,31.5 L851.5,30.9 L852.1,30.2 L852.8,29.6 L853.4,29.0 L853.1,28.3 L851.7,27.7Z" fill="#4F5D66"/>
<polygon points="847.5,37.8 848.5,37.8 848.3,94.0 847.8,94.0" fill="#4F5D66" opacity="0.42"/>
<line x1="848.02" y1="28.20" x2="848.02" y2="44.95" stroke="#27343c" stroke-width="1.0" opacity="0.85"/>
<rect x="846.57" y="29.51" width="2.90" height="3.47" fill="#fff" stroke="#1a1a1a" stroke-width="0.8" />
<path d="M858.2,27.7 L855.5,28.9 L854.5,30.0 L854.1,31.2 L854.6,32.3 L855.1,33.5 L855.6,34.6 L856.1,35.8 L856.6,36.9 L857.1,38.1 L857.6,39.2 L858.0,40.4 L858.5,41.5 L858.9,42.7 L859.2,43.8 L859.4,45.0 L859.4,46.2 L860.3,46.2 L860.3,45.0 L860.4,43.8 L860.8,42.7 L861.2,41.5 L861.6,40.4 L862.1,39.2 L862.5,38.1 L863.0,36.9 L863.5,35.8 L864.0,34.6 L864.6,33.5 L865.1,32.3 L865.5,31.2 L865.1,30.0 L864.1,28.9 L861.4,27.7Z" fill="#E2A76D"/>
<polygon points="859.3,46.2 860.3,46.2 860.1,163.5 859.6,163.5" fill="#E2A76D" opacity="0.42"/>
<line x1="859.82" y1="28.20" x2="859.82" y2="60.52" stroke="#5a3a22" stroke-width="1.0" opacity="0.85"/>
<rect x="858.37" y="30.16" width="2.90" height="11.20" fill="#fff" stroke="#1a1a1a" stroke-width="0.8" />
<line x1="858.37" y1="34.42" x2="861.27" y2="34.42" stroke="#1a1a1a" stroke-width="0.9" />
<path d="M870.2,27.7 L867.5,29.2 L866.4,30.8 L866.0,32.3 L866.5,33.8 L867.0,35.3 L867.5,36.9 L868.1,38.4 L868.6,39.9 L869.1,41.5 L869.5,43.0 L870.0,44.5 L870.4,46.0 L870.8,47.6 L871.2,49.1 L871.4,50.6 L871.4,52.1 L872.3,52.1 L872.3,50.6 L872.4,49.1 L872.8,47.6 L873.2,46.0 L873.6,44.5 L874.1,43.0 L874.6,41.5 L875.1,39.9 L875.6,38.4 L876.1,36.9 L876.6,35.3 L877.2,33.8 L877.6,32.3 L877.2,30.8 L876.2,29.2 L873.5,27.7Z" fill="#3AAADA"/>
<polygon points="871.3,52.1 872.3,52.1 872.1,158.7 871.6,158.7" fill="#3AAADA" opacity="0.42"/>
<line x1="871.82" y1="28.20" x2="871.82" y2="67.70" stroke="#1b4f68" stroke-width="1.0" opacity="0.85"/>
<rect x="870.37" y="31.11" width="2.90" height="14.57" fill="#fff" stroke="#1a1a1a" stroke-width="0.8" />
<line x1="870.37" y1="36.64" x2="873.27" y2="36.64" stroke="#1a1a1a" stroke-width="0.9" />
<line x1="859.82" y1="268.40" x2="859.82" y2="277.60" stroke="#333333" stroke-width="4" />
<text font-size="25" text-anchor="end" fill="#000" transform="translate(866.82,288.00) rotate(-90)" >Pituitary</text>
<path d="M885.9,27.7 L884.4,28.9 L884.1,30.0 L884.6,31.2 L885.4,32.3 L886.1,33.5 L886.8,34.6 L887.3,35.8 L887.8,36.9 L888.3,38.1 L888.7,39.2 L889.0,40.4 L889.3,41.5 L889.4,42.7 L889.4,43.8 L889.4,45.0 L889.4,46.2 L890.4,46.2 L890.4,45.0 L890.4,43.8 L890.4,42.7 L890.5,41.5 L890.8,40.4 L891.1,39.2 L891.5,38.1 L892.0,36.9 L892.5,35.8 L893.0,34.6 L893.7,33.5 L894.4,32.3 L895.2,31.2 L895.7,30.0 L895.4,28.9 L893.9,27.7Z" fill="#4F5D66"/>
<polygon points="889.4,46.2 890.4,46.2 890.1,111.7 889.6,111.7" fill="#4F5D66" opacity="0.42"/>
<line x1="889.90" y1="28.20" x2="889.90" y2="67.70" stroke="#27343c" stroke-width="1.0" opacity="0.85"/>
<rect x="888.45" y="34.04" width="2.90" height="9.72" fill="#fff" stroke="#1a1a1a" stroke-width="0.8" />
<line x1="888.45" y1="37.73" x2="891.35" y2="37.73" stroke="#1a1a1a" stroke-width="0.9" />
<path d="M899.0,27.7 L896.1,36.7 L895.7,45.6 L895.7,54.5 L895.7,63.4 L895.7,72.4 L895.7,81.3 L895.7,90.2 L895.7,99.2 L895.9,108.1 L896.7,117.0 L897.5,126.0 L898.3,134.9 L899.0,143.8 L899.8,152.8 L900.5,161.7 L901.1,170.6 L902.3,170.6 L902.9,161.7 L903.6,152.8 L904.4,143.8 L905.1,134.9 L905.9,126.0 L906.7,117.0 L907.5,108.1 L907.7,99.2 L907.7,90.2 L907.7,81.3 L907.7,72.4 L907.7,63.4 L907.7,54.5 L907.7,45.6 L907.3,36.7 L904.4,27.7Z" fill="#E2A76D"/>
<polygon points="901.2,170.6 902.2,170.6 901.9,231.0 901.4,231.0" fill="#E2A76D" opacity="0.42"/>
<line x1="901.70" y1="28.20" x2="901.70" y2="212.06" stroke="#5a3a22" stroke-width="1.0" opacity="0.85"/>
<rect x="900.25" y="58.74" width="2.90" height="61.62" fill="#fff" stroke="#1a1a1a" stroke-width="0.8" />
<line x1="900.25" y1="82.16" x2="903.15" y2="82.16" stroke="#1a1a1a" stroke-width="0.9" />
<path d="M912.1,27.7 L909.3,31.2 L908.3,34.6 L907.9,38.0 L908.3,41.5 L908.9,44.9 L909.4,48.4 L909.9,51.8 L910.4,55.2 L910.9,58.7 L911.4,62.1 L911.9,65.6 L912.3,69.0 L912.7,72.5 L913.1,75.9 L913.2,79.3 L913.2,82.8 L914.1,82.8 L914.1,79.3 L914.3,75.9 L914.7,72.5 L915.1,69.0 L915.5,65.6 L916.0,62.1 L916.5,58.7 L917.0,55.2 L917.5,51.8 L918.0,48.4 L918.5,44.9 L919.1,41.5 L919.5,38.0 L919.1,34.6 L918.1,31.2 L915.3,27.7Z" fill="#3AAADA"/>
<polygon points="913.2,82.8 914.2,82.8 913.9,213.7 913.4,213.7" fill="#3AAADA" opacity="0.42"/>
<line x1="913.70" y1="28.20" x2="913.70" y2="133.53" stroke="#1b4f68" stroke-width="1.0" opacity="0.85"/>
<rect x="912.25" y="38.59" width="2.90" height="41.08" fill="#fff" stroke="#1a1a1a" stroke-width="0.8" />
<line x1="912.25" y1="54.20" x2="915.15" y2="54.20" stroke="#1a1a1a" stroke-width="0.9" />
<line x1="901.70" y1="268.40" x2="901.70" y2="277.60" stroke="#333333" stroke-width="4" />
<text font-size="25" text-anchor="end" fill="#000" transform="translate(908.70,288.00) rotate(-90)" >Blastocyst</text>
<path d="M927.9,27.7 L926.4,28.4 L926.2,29.1 L926.7,29.8 L927.4,30.5 L928.1,31.2 L928.7,31.9 L929.3,32.6 L929.8,33.3 L930.2,34.0 L930.6,34.8 L930.9,35.5 L931.2,36.2 L931.3,36.9 L931.3,37.6 L931.3,38.3 L931.3,39.0 L932.2,39.0 L932.2,38.3 L932.2,37.6 L932.2,36.9 L932.4,36.2 L932.6,35.5 L933.0,34.8 L933.3,34.0 L933.8,33.3 L934.3,32.6 L934.8,31.9 L935.4,31.2 L936.1,30.5 L936.9,29.8 L937.4,29.1 L937.1,28.4 L935.6,27.7Z" fill="#4F5D66"/>
<polygon points="931.3,39.0 932.3,39.0 932.0,91.6 931.5,91.6" fill="#4F5D66" opacity="0.42"/>
<line x1="931.78" y1="28.20" x2="931.78" y2="46.15" stroke="#27343c" stroke-width="1.0" opacity="0.85"/>
<rect x="930.33" y="29.82" width="2.90" height="3.89" fill="#fff" stroke="#1a1a1a" stroke-width="0.8" />
<path d="M941.9,27.7 L939.2,29.6 L938.2,31.5 L937.8,33.4 L938.2,35.3 L938.8,37.2 L939.3,39.1 L939.8,41.0 L940.3,42.9 L940.8,44.8 L941.3,46.7 L941.8,48.6 L942.2,50.5 L942.6,52.4 L943.0,54.3 L943.1,56.2 L943.1,58.1 L944.0,58.1 L944.0,56.2 L944.2,54.3 L944.6,52.4 L945.0,50.5 L945.4,48.6 L945.9,46.7 L946.3,44.8 L946.8,42.9 L947.3,41.0 L947.9,39.1 L948.4,37.2 L948.9,35.3 L949.4,33.4 L949.0,31.5 L947.9,29.6 L945.2,27.7Z" fill="#E2A76D"/>
<polygon points="943.1,58.1 944.1,58.1 943.8,173.0 943.3,173.0" fill="#E2A76D" opacity="0.42"/>
<line x1="943.58" y1="28.20" x2="943.58" y2="74.88" stroke="#5a3a22" stroke-width="1.0" opacity="0.85"/>
<rect x="942.13" y="31.90" width="2.90" height="17.37" fill="#fff" stroke="#1a1a1a" stroke-width="0.8" />
<line x1="942.13" y1="38.50" x2="945.03" y2="38.50" stroke="#1a1a1a" stroke-width="0.9" />
<path d="M953.9,27.7 L951.2,29.9 L950.2,32.1 L949.8,34.2 L950.2,36.4 L950.8,38.6 L951.3,40.7 L951.8,42.9 L952.3,45.1 L952.8,47.2 L953.3,49.4 L953.8,51.6 L954.2,53.8 L954.6,55.9 L955.0,58.1 L955.1,60.3 L955.1,62.4 L956.0,62.4 L956.0,60.3 L956.2,58.1 L956.6,55.9 L957.0,53.8 L957.4,51.6 L957.9,49.4 L958.3,47.2 L958.8,45.1 L959.3,42.9 L959.9,40.7 L960.4,38.6 L960.9,36.4 L961.4,34.2 L961.0,32.1 L959.9,29.9 L957.2,27.7Z" fill="#3AAADA"/>
<polygon points="955.1,62.4 956.1,62.4 955.8,136.4 955.3,136.4" fill="#3AAADA" opacity="0.42"/>
<line x1="955.58" y1="28.20" x2="955.58" y2="82.78" stroke="#1b4f68" stroke-width="1.0" opacity="0.85"/>
<rect x="954.13" y="32.06" width="2.90" height="17.93" fill="#fff" stroke="#1a1a1a" stroke-width="0.8" />
<line x1="954.13" y1="38.87" x2="957.03" y2="38.87" stroke="#1a1a1a" stroke-width="0.9" />
<line x1="943.58" y1="268.40" x2="943.58" y2="277.60" stroke="#333333" stroke-width="4" />
<text font-size="25" text-anchor="end" fill="#000" transform="translate(950.58,288.00) rotate(-90)" >Artery</text>
<path d="M967.9,27.7 L969.6,28.1 L970.8,28.4 L971.7,28.8 L972.3,29.1 L972.7,29.4 L973.0,29.8 L973.2,30.1 L973.2,30.5 L973.2,30.8 L973.2,31.2 L973.2,31.5 L973.2,31.8 L973.2,32.2 L973.2,32.5 L973.2,32.9 L973.2,33.2 L974.1,33.2 L974.1,32.9 L974.1,32.5 L974.1,32.2 L974.1,31.8 L974.1,31.5 L974.1,31.2 L974.1,30.8 L974.1,30.5 L974.2,30.1 L974.3,29.8 L974.6,29.4 L975.0,29.1 L975.6,28.8 L976.5,28.4 L977.7,28.1 L979.5,27.7Z" fill="#4F5D66"/>
<polygon points="973.2,33.2 974.2,33.2 973.9,53.3 973.4,53.3" fill="#4F5D66" opacity="0.42"/>
<line x1="973.66" y1="28.20" x2="973.66" y2="38.97" stroke="#27343c" stroke-width="1.0" opacity="0.85"/>
<path d="M983.9,27.7 L981.3,28.9 L980.2,30.0 L979.9,31.2 L980.3,32.3 L980.8,33.5 L981.3,34.6 L981.8,35.8 L982.3,36.9 L982.8,38.1 L983.3,39.2 L983.7,40.4 L984.1,41.5 L984.5,42.7 L984.9,43.8 L985.0,45.0 L985.0,46.2 L985.9,46.2 L985.9,45.0 L986.0,43.8 L986.4,42.7 L986.8,41.5 L987.2,40.4 L987.7,39.2 L988.1,38.1 L988.6,36.9 L989.1,35.8 L989.6,34.6 L990.1,33.5 L990.6,32.3 L991.0,31.2 L990.7,30.0 L989.7,28.9 L987.0,27.7Z" fill="#E2A76D"/>
<polygon points="985.0,46.2 986.0,46.2 985.7,146.7 985.2,146.7" fill="#E2A76D" opacity="0.42"/>
<line x1="985.46" y1="28.20" x2="985.46" y2="53.33" stroke="#5a3a22" stroke-width="1.0" opacity="0.85"/>
<rect x="984.01" y="30.16" width="2.90" height="11.20" fill="#fff" stroke="#1a1a1a" stroke-width="0.8" />
<line x1="984.01" y1="34.42" x2="986.91" y2="34.42" stroke="#1a1a1a" stroke-width="0.9" />
<path d="M995.8,27.7 L993.1,28.8 L992.0,29.9 L991.7,31.0 L992.1,32.0 L992.6,33.1 L993.2,34.2 L993.7,35.3 L994.2,36.3 L994.7,37.4 L995.2,38.5 L995.6,39.6 L996.1,40.6 L996.5,41.7 L996.9,42.8 L997.0,43.9 L997.0,45.0 L997.9,45.0 L997.9,43.9 L998.1,42.8 L998.4,41.7 L998.9,40.6 L999.3,39.6 L999.7,38.5 L1000.2,37.4 L1000.7,36.3 L1001.2,35.3 L1001.7,34.2 L1002.3,33.1 L1002.8,32.0 L1003.2,31.0 L1002.9,29.9 L1001.8,28.8 L999.1,27.7Z" fill="#3AAADA"/>
<polygon points="997.0,45.0 998.0,45.0 997.7,90.0 997.2,90.0" fill="#3AAADA" opacity="0.42"/>
<line x1="997.46" y1="28.20" x2="997.46" y2="58.12" stroke="#1b4f68" stroke-width="1.0" opacity="0.85"/>
<rect x="996.01" y="29.48" width="2.90" height="8.78" fill="#fff" stroke="#1a1a1a" stroke-width="0.8" />
<line x1="996.01" y1="32.81" x2="998.91" y2="32.81" stroke="#1a1a1a" stroke-width="0.9" />
<line x1="985.46" y1="268.40" x2="985.46" y2="277.60" stroke="#333333" stroke-width="4" />
<text font-size="25" text-anchor="end" fill="#000" transform="translate(992.46,288.00) rotate(-90)" >Placenta</text>
<path d="M1010.0,27.7 L1011.7,27.8 L1012.8,27.9 L1013.7,28.0 L1014.2,28.1 L1014.6,28.2 L1014.9,28.3 L1015.1,28.5 L1015.1,28.6 L1015.1,28.7 L1015.1,28.8 L1015.1,28.9 L1015.1,29.0 L1015.1,29.1 L1015.1,29.2 L1015.1,29.3 L1015.1,29.4 L1016.0,29.4 L1016.0,29.3 L1016.0,29.2 L1016.0,29.1 L1016.0,29.0 L1016.0,28.9 L1016.0,28.8 L1016.0,28.7 L1016.0,28.6 L1016.0,28.5 L1016.2,28.3 L1016.4,28.2 L1016.8,28.1 L1017.4,28.0 L1018.2,27.9 L1019.4,27.8 L1021.0,27.7Z" fill="#4F5D66"/>
<polygon points="1015.0,29.4 1016.0,29.4 1015.8,52.1 1015.3,52.1" fill="#4F5D66" opacity="0.42"/>
<line x1="1015.54" y1="28.20" x2="1015.54" y2="30.59" stroke="#27343c" stroke-width="1.0" opacity="0.85"/>
<path d="M1026.9,27.7 L1026.6,28.1 L1026.1,28.4 L1025.8,28.8 L1025.4,29.1 L1025.2,29.4 L1025.6,29.8 L1025.9,30.1 L1026.2,30.5 L1026.5,30.8 L1026.7,31.2 L1026.9,31.5 L1026.9,31.8 L1026.9,32.2 L1026.9,32.5 L1026.9,32.9 L1026.9,33.2 L1027.8,33.2 L1027.8,32.9 L1027.8,32.5 L1027.8,32.2 L1027.8,31.8 L1027.8,31.5 L1027.9,31.2 L1028.2,30.8 L1028.4,30.5 L1028.7,30.1 L1029.1,29.8 L1029.5,29.4 L1029.3,29.1 L1028.9,28.8 L1028.5,28.4 L1028.1,28.1 L1027.8,27.7Z" fill="#E2A76D"/>
<polygon points="1026.8,33.2 1027.8,33.2 1027.6,63.9 1027.1,63.9" fill="#E2A76D" opacity="0.42"/>
<line x1="1027.34" y1="28.20" x2="1027.34" y2="37.77" stroke="#5a3a22" stroke-width="1.0" opacity="0.85"/>
<path d="M1033.8,27.7 L1035.5,28.1 L1036.6,28.4 L1037.5,28.8 L1038.0,29.1 L1038.4,29.4 L1038.7,29.8 L1038.9,30.1 L1038.9,30.5 L1038.9,30.8 L1038.9,31.2 L1038.9,31.5 L1038.9,31.8 L1038.9,32.2 L1038.9,32.5 L1038.9,32.9 L1038.9,33.2 L1039.8,33.2 L1039.8,32.9 L1039.8,32.5 L1039.8,32.2 L1039.8,31.8 L1039.8,31.5 L1039.8,31.2 L1039.8,30.8 L1039.8,30.5 L1039.8,30.1 L1040.0,29.8 L1040.2,29.4 L1040.6,29.1 L1041.2,28.8 L1042.0,28.4 L1043.2,28.1 L1044.8,27.7Z" fill="#3AAADA"/>
<polygon points="1038.8,33.2 1039.8,33.2 1039.6,70.1 1039.1,70.1" fill="#3AAADA" opacity="0.42"/>
<line x1="1039.34" y1="28.20" x2="1039.34" y2="38.97" stroke="#1b4f68" stroke-width="1.0" opacity="0.85"/>
<line x1="1027.34" y1="268.40" x2="1027.34" y2="277.60" stroke="#333333" stroke-width="4" />
<text font-size="25" text-anchor="end" fill="#000" transform="translate(1034.34,288.00) rotate(-90)" >Milk</text>
<path d="M1051.6,27.7 L1053.3,28.1 L1054.6,28.4 L1055.4,28.8 L1056.1,29.1 L1056.5,29.4 L1056.7,29.8 L1056.9,30.1 L1057.0,30.5 L1057.0,30.8 L1057.0,31.2 L1057.0,31.5 L1057.0,31.8 L1057.0,32.2 L1057.0,32.5 L1057.0,32.9 L1057.0,33.2 L1057.9,33.2 L1057.9,32.9 L1057.9,32.5 L1057.9,32.2 L1057.9,31.8 L1057.9,31.5 L1057.9,31.2 L1057.9,30.8 L1057.9,30.5 L1057.9,30.1 L1058.1,29.8 L1058.4,29.4 L1058.8,29.1 L1059.4,28.8 L1060.3,28.4 L1061.5,28.1 L1063.2,27.7Z" fill="#4F5D66"/>
<polygon points="1056.9,33.2 1057.9,33.2 1057.7,62.9 1057.2,62.9" fill="#4F5D66" opacity="0.42"/>
<line x1="1057.42" y1="28.20" x2="1057.42" y2="38.97" stroke="#27343c" stroke-width="1.0" opacity="0.85"/>
<path d="M1067.6,27.7 L1064.9,29.2 L1063.9,30.6 L1063.5,32.1 L1064.0,33.5 L1064.5,35.0 L1065.0,36.4 L1065.5,37.9 L1066.0,39.3 L1066.5,40.8 L1067.0,42.2 L1067.4,43.7 L1067.9,45.1 L1068.3,46.6 L1068.6,48.0 L1068.8,49.5 L1068.8,50.9 L1069.7,50.9 L1069.7,49.5 L1069.8,48.0 L1070.2,46.6 L1070.6,45.1 L1071.0,43.7 L1071.5,42.2 L1071.9,40.8 L1072.4,39.3 L1072.9,37.9 L1073.4,36.4 L1074.0,35.0 L1074.5,33.5 L1074.9,32.1 L1074.5,30.6 L1073.5,29.2 L1070.8,27.7Z" fill="#E2A76D"/>
<polygon points="1068.7,50.9 1069.7,50.9 1069.5,137.8 1069.0,137.8" fill="#E2A76D" opacity="0.42"/>
<line x1="1069.22" y1="28.20" x2="1069.22" y2="67.70" stroke="#5a3a22" stroke-width="1.0" opacity="0.85"/>
<rect x="1067.77" y="31.63" width="2.90" height="16.43" fill="#fff" stroke="#1a1a1a" stroke-width="0.8" />
<line x1="1067.77" y1="37.88" x2="1070.67" y2="37.88" stroke="#1a1a1a" stroke-width="0.9" />
<path d="M1079.6,27.7 L1076.8,28.9 L1075.7,30.0 L1075.3,31.2 L1075.8,32.3 L1076.3,33.5 L1076.9,34.6 L1077.4,35.8 L1077.9,36.9 L1078.4,38.1 L1078.9,39.2 L1079.4,40.4 L1079.8,41.5 L1080.2,42.7 L1080.6,43.8 L1080.8,45.0 L1080.8,46.2 L1081.7,46.2 L1081.7,45.0 L1081.8,43.8 L1082.2,42.7 L1082.6,41.5 L1083.1,40.4 L1083.5,39.2 L1084.0,38.1 L1084.5,36.9 L1085.0,35.8 L1085.6,34.6 L1086.1,33.5 L1086.7,32.3 L1087.1,31.2 L1086.7,30.0 L1085.7,28.9 L1082.9,27.7Z" fill="#3AAADA"/>
<polygon points="1080.7,46.2 1081.7,46.2 1081.5,103.6 1081.0,103.6" fill="#3AAADA" opacity="0.42"/>
<line x1="1081.22" y1="28.20" x2="1081.22" y2="58.12" stroke="#1b4f68" stroke-width="1.0" opacity="0.85"/>
<rect x="1079.77" y="29.79" width="2.90" height="9.90" fill="#fff" stroke="#1a1a1a" stroke-width="0.8" />
<line x1="1079.77" y1="33.55" x2="1082.67" y2="33.55" stroke="#1a1a1a" stroke-width="0.9" />
<line x1="1069.22" y1="268.40" x2="1069.22" y2="277.60" stroke="#333333" stroke-width="4" />
<text font-size="25" text-anchor="end" fill="#000" transform="translate(1076.22,288.00) rotate(-90)" >Cartilage</text>
<path d="M1093.7,27.7 L1095.4,27.9 L1096.5,28.0 L1097.4,28.2 L1098.0,28.4 L1098.4,28.5 L1098.6,28.7 L1098.8,28.9 L1098.8,29.0 L1098.8,29.2 L1098.8,29.4 L1098.8,29.5 L1098.8,29.7 L1098.8,29.9 L1098.8,30.0 L1098.8,30.2 L1098.8,30.4 L1099.8,30.4 L1099.8,30.2 L1099.8,30.0 L1099.8,29.9 L1099.8,29.7 L1099.8,29.5 L1099.8,29.4 L1099.8,29.2 L1099.8,29.0 L1099.8,28.9 L1100.0,28.7 L1100.2,28.5 L1100.6,28.4 L1101.2,28.2 L1102.1,28.0 L1103.2,27.9 L1104.9,27.7Z" fill="#4F5D66"/>
<polygon points="1098.8,30.4 1099.8,30.4 1099.5,63.9 1099.0,63.9" fill="#4F5D66" opacity="0.42"/>
<line x1="1099.30" y1="28.20" x2="1099.30" y2="37.77" stroke="#27343c" stroke-width="1.0" opacity="0.85"/>
<path d="M1110.6,27.7 L1109.2,28.3 L1108.3,29.0 L1107.4,29.6 L1106.5,30.2 L1106.1,30.9 L1107.0,31.5 L1107.8,32.1 L1108.5,32.7 L1109.1,33.4 L1109.7,34.0 L1110.1,34.6 L1110.5,35.3 L1110.6,35.9 L1110.6,36.5 L1110.6,37.1 L1110.6,37.8 L1111.5,37.8 L1111.5,37.1 L1111.5,36.5 L1111.5,35.9 L1111.7,35.3 L1112.1,34.6 L1112.5,34.0 L1113.1,33.4 L1113.7,32.7 L1114.4,32.1 L1115.2,31.5 L1116.1,30.9 L1115.7,30.2 L1114.8,29.6 L1113.9,29.0 L1113.0,28.3 L1111.6,27.7Z" fill="#E2A76D"/>
<polygon points="1110.6,37.8 1111.6,37.8 1111.3,156.3 1110.8,156.3" fill="#E2A76D" opacity="0.42"/>
<line x1="1111.10" y1="28.20" x2="1111.10" y2="40.65" stroke="#5a3a22" stroke-width="1.0" opacity="0.85"/>
<path d="M1122.5,27.7 L1121.0,28.5 L1119.8,29.3 L1118.8,30.1 L1117.8,31.0 L1117.3,31.8 L1118.4,32.6 L1119.3,33.4 L1120.1,34.2 L1120.8,35.0 L1121.4,35.8 L1121.9,36.6 L1122.4,37.4 L1122.6,38.2 L1122.6,39.0 L1122.6,39.8 L1122.6,40.6 L1123.5,40.6 L1123.5,39.8 L1123.5,39.0 L1123.5,38.2 L1123.8,37.4 L1124.3,36.6 L1124.8,35.8 L1125.4,35.0 L1126.1,34.2 L1126.9,33.4 L1127.8,32.6 L1128.9,31.8 L1128.4,31.0 L1127.4,30.1 L1126.4,29.3 L1125.2,28.5 L1123.7,27.7Z" fill="#3AAADA"/>
<polygon points="1122.6,40.6 1123.6,40.6 1123.3,182.6 1122.8,182.6" fill="#3AAADA" opacity="0.42"/>
<line x1="1123.10" y1="28.20" x2="1123.10" y2="53.33" stroke="#1b4f68" stroke-width="1.0" opacity="0.85"/>
<rect x="1121.65" y="28.32" width="2.90" height="4.67" fill="#fff" stroke="#1a1a1a" stroke-width="0.8" />
<line x1="1111.10" y1="268.40" x2="1111.10" y2="277.60" stroke="#333333" stroke-width="4" />
<text font-size="25" text-anchor="end" fill="#000" transform="translate(1118.10,288.00) rotate(-90)" >Colon</text>
<path d="M1135.6,27.7 L1137.2,27.9 L1138.4,28.0 L1139.3,28.2 L1139.9,28.4 L1140.3,28.5 L1140.5,28.7 L1140.7,28.9 L1140.7,29.0 L1140.7,29.2 L1140.7,29.4 L1140.7,29.5 L1140.7,29.7 L1140.7,29.9 L1140.7,30.0 L1140.7,30.2 L1140.7,30.4 L1141.6,30.4 L1141.6,30.2 L1141.6,30.0 L1141.6,29.9 L1141.6,29.7 L1141.6,29.5 L1141.6,29.4 L1141.6,29.2 L1141.6,29.0 L1141.7,28.9 L1141.8,28.7 L1142.1,28.5 L1142.5,28.4 L1143.1,28.2 L1143.9,28.0 L1145.1,27.9 L1146.8,27.7Z" fill="#4F5D66"/>
<polygon points="1140.7,30.4 1141.7,30.4 1141.4,63.9 1140.9,63.9" fill="#4F5D66" opacity="0.42"/>
<line x1="1141.18" y1="28.20" x2="1141.18" y2="37.77" stroke="#27343c" stroke-width="1.0" opacity="0.85"/>
<path d="M1152.4,27.7 L1151.1,28.4 L1150.0,29.1 L1149.1,29.8 L1148.2,30.5 L1147.8,31.2 L1148.7,31.9 L1149.6,32.6 L1150.3,33.3 L1150.9,34.0 L1151.5,34.8 L1151.9,35.5 L1152.3,36.2 L1152.5,36.9 L1152.5,37.6 L1152.5,38.3 L1152.5,39.0 L1153.4,39.0 L1153.4,38.3 L1153.4,37.6 L1153.4,36.9 L1153.7,36.2 L1154.0,35.5 L1154.5,34.8 L1155.0,34.0 L1155.7,33.3 L1156.4,32.6 L1157.2,31.9 L1158.2,31.2 L1157.7,30.5 L1156.9,29.8 L1155.9,29.1 L1154.9,28.4 L1153.5,27.7Z" fill="#E2A76D"/>
<polygon points="1152.5,39.0 1153.5,39.0 1153.2,122.8 1152.7,122.8" fill="#E2A76D" opacity="0.42"/>
<line x1="1152.98" y1="28.20" x2="1152.98" y2="43.76" stroke="#5a3a22" stroke-width="1.0" opacity="0.85"/>
<path d="M1164.4,27.7 L1162.8,28.5 L1161.7,29.3 L1160.7,30.1 L1159.7,31.0 L1159.2,31.8 L1160.2,32.6 L1161.2,33.4 L1162.0,34.2 L1162.7,35.0 L1163.3,35.8 L1163.8,36.6 L1164.2,37.4 L1164.5,38.2 L1164.5,39.0 L1164.5,39.8 L1164.5,40.6 L1165.4,40.6 L1165.4,39.8 L1165.4,39.0 L1165.4,38.2 L1165.7,37.4 L1166.1,36.6 L1166.6,35.8 L1167.2,35.0 L1168.0,34.2 L1168.8,33.4 L1169.7,32.6 L1170.8,31.8 L1170.2,31.0 L1169.3,30.1 L1168.3,29.3 L1167.1,28.5 L1165.6,27.7Z" fill="#3AAADA"/>
<polygon points="1164.5,40.6 1165.5,40.6 1165.2,130.7 1164.7,130.7" fill="#3AAADA" opacity="0.42"/>
<line x1="1164.98" y1="28.20" x2="1164.98" y2="52.14" stroke="#1b4f68" stroke-width="1.0" opacity="0.85"/>
<rect x="1163.53" y="28.32" width="2.90" height="4.67" fill="#fff" stroke="#1a1a1a" stroke-width="0.8" />
<line x1="1152.98" y1="268.40" x2="1152.98" y2="277.60" stroke="#333333" stroke-width="4" />
<text font-size="25" text-anchor="end" fill="#000" transform="translate(1159.98,288.00) rotate(-90)" >Large_intestine</text>
<path d="M1177.5,27.7 L1179.1,27.9 L1180.3,28.0 L1181.2,28.2 L1181.7,28.4 L1182.1,28.5 L1182.4,28.7 L1182.6,28.9 L1182.6,29.0 L1182.6,29.2 L1182.6,29.4 L1182.6,29.5 L1182.6,29.7 L1182.6,29.9 L1182.6,30.0 L1182.6,30.2 L1182.6,30.4 L1183.5,30.4 L1183.5,30.2 L1183.5,30.0 L1183.5,29.9 L1183.5,29.7 L1183.5,29.5 L1183.5,29.4 L1183.5,29.2 L1183.5,29.0 L1183.5,28.9 L1183.7,28.7 L1184.0,28.5 L1184.4,28.4 L1185.0,28.2 L1185.8,28.0 L1187.0,27.9 L1188.7,27.7Z" fill="#4F5D66"/>
<polygon points="1182.6,30.4 1183.6,30.4 1183.3,71.0 1182.8,71.0" fill="#4F5D66" opacity="0.42"/>
<line x1="1183.06" y1="28.20" x2="1183.06" y2="37.77" stroke="#27343c" stroke-width="1.0" opacity="0.85"/>
<path d="M1194.3,27.7 L1193.0,28.3 L1192.0,29.0 L1191.1,29.6 L1190.3,30.2 L1189.9,30.9 L1190.8,31.5 L1191.6,32.1 L1192.3,32.7 L1192.9,33.4 L1193.4,34.0 L1193.9,34.6 L1194.2,35.3 L1194.4,35.9 L1194.4,36.5 L1194.4,37.1 L1194.4,37.8 L1195.3,37.8 L1195.3,37.1 L1195.3,36.5 L1195.3,35.9 L1195.5,35.3 L1195.9,34.6 L1196.3,34.0 L1196.8,33.4 L1197.4,32.7 L1198.2,32.1 L1199.0,31.5 L1199.9,30.9 L1199.4,30.2 L1198.6,29.6 L1197.7,29.0 L1196.7,28.3 L1195.4,27.7Z" fill="#E2A76D"/>
<polygon points="1194.4,37.8 1195.4,37.8 1195.1,151.5 1194.6,151.5" fill="#E2A76D" opacity="0.42"/>
<line x1="1194.86" y1="28.20" x2="1194.86" y2="41.36" stroke="#5a3a22" stroke-width="1.0" opacity="0.85"/>
<path d="M1206.3,27.7 L1204.8,28.4 L1203.7,29.1 L1202.7,29.8 L1201.8,30.5 L1201.3,31.2 L1202.3,31.9 L1203.2,32.6 L1204.0,33.3 L1204.7,34.0 L1205.3,34.8 L1205.7,35.5 L1206.1,36.2 L1206.4,36.9 L1206.4,37.6 L1206.4,38.3 L1206.4,39.0 L1207.3,39.0 L1207.3,38.3 L1207.3,37.6 L1207.3,36.9 L1207.6,36.2 L1208.0,35.5 L1208.5,34.8 L1209.0,34.0 L1209.7,33.3 L1210.5,32.6 L1211.4,31.9 L1212.4,31.2 L1212.0,30.5 L1211.0,29.8 L1210.0,29.1 L1208.9,28.4 L1207.4,27.7Z" fill="#3AAADA"/>
<polygon points="1206.4,39.0 1207.4,39.0 1207.1,92.8 1206.6,92.8" fill="#3AAADA" opacity="0.42"/>
<line x1="1206.86" y1="28.20" x2="1206.86" y2="46.15" stroke="#1b4f68" stroke-width="1.0" opacity="0.85"/>
<rect x="1205.41" y="28.32" width="2.90" height="4.67" fill="#fff" stroke="#1a1a1a" stroke-width="0.8" />
<line x1="1194.86" y1="268.40" x2="1194.86" y2="277.60" stroke="#333333" stroke-width="4" />
<text font-size="25" text-anchor="end" fill="#000" transform="translate(1201.86,288.00) rotate(-90)" >Hypothalamus</text>
<path d="M1219.3,27.7 L1221.0,27.9 L1222.2,28.0 L1223.0,28.2 L1223.6,28.4 L1224.0,28.5 L1224.3,28.7 L1224.5,28.9 L1224.5,29.0 L1224.5,29.2 L1224.5,29.4 L1224.5,29.5 L1224.5,29.7 L1224.5,29.9 L1224.5,30.0 L1224.5,30.2 L1224.5,30.4 L1225.4,30.4 L1225.4,30.2 L1225.4,30.0 L1225.4,29.9 L1225.4,29.7 L1225.4,29.5 L1225.4,29.4 L1225.4,29.2 L1225.4,29.0 L1225.4,28.9 L1225.6,28.7 L1225.9,28.5 L1226.3,28.4 L1226.8,28.2 L1227.7,28.0 L1228.9,27.9 L1230.5,27.7Z" fill="#4F5D66"/>
<polygon points="1224.4,30.4 1225.4,30.4 1225.2,63.9 1224.7,63.9" fill="#4F5D66" opacity="0.42"/>
<line x1="1224.94" y1="28.20" x2="1224.94" y2="37.77" stroke="#27343c" stroke-width="1.0" opacity="0.85"/>
<path d="M1236.2,27.7 L1235.0,28.3 L1234.0,29.0 L1233.2,29.6 L1232.4,30.2 L1231.9,30.9 L1232.8,31.5 L1233.6,32.1 L1234.3,32.7 L1234.9,33.4 L1235.4,34.0 L1235.8,34.6 L1236.1,35.3 L1236.3,35.9 L1236.3,36.5 L1236.3,37.1 L1236.3,37.8 L1237.2,37.8 L1237.2,37.1 L1237.2,36.5 L1237.2,35.9 L1237.4,35.3 L1237.7,34.6 L1238.1,34.0 L1238.6,33.4 L1239.2,32.7 L1239.9,32.1 L1240.7,31.5 L1241.6,30.9 L1241.1,30.2 L1240.3,29.6 L1239.5,29.0 L1238.5,28.3 L1237.2,27.7Z" fill="#E2A76D"/>
<polygon points="1236.2,37.8 1237.2,37.8 1237.0,110.8 1236.5,110.8" fill="#E2A76D" opacity="0.42"/>
<line x1="1236.74" y1="28.20" x2="1236.74" y2="41.36" stroke="#5a3a22" stroke-width="1.0" opacity="0.85"/>
<path d="M1248.2,27.7 L1246.8,28.4 L1245.7,29.1 L1244.8,29.8 L1243.9,30.5 L1243.4,31.2 L1244.4,31.9 L1245.3,32.6 L1246.0,33.3 L1246.7,34.0 L1247.2,34.8 L1247.7,35.5 L1248.1,36.2 L1248.3,36.9 L1248.3,37.6 L1248.3,38.3 L1248.3,39.0 L1249.2,39.0 L1249.2,38.3 L1249.2,37.6 L1249.2,36.9 L1249.4,36.2 L1249.8,35.5 L1250.3,34.8 L1250.8,34.0 L1251.5,33.3 L1252.2,32.6 L1253.1,31.9 L1254.0,31.2 L1253.6,30.5 L1252.7,29.8 L1251.7,29.1 L1250.7,28.4 L1249.3,27.7Z" fill="#3AAADA"/>
<polygon points="1248.2,39.0 1249.2,39.0 1249.0,72.5 1248.5,72.5" fill="#3AAADA" opacity="0.42"/>
<line x1="1248.74" y1="28.20" x2="1248.74" y2="43.76" stroke="#1b4f68" stroke-width="1.0" opacity="0.85"/>
<line x1="1236.74" y1="268.40" x2="1236.74" y2="277.60" stroke="#333333" stroke-width="4" />
<text font-size="25" text-anchor="end" fill="#000" transform="translate(1243.74,288.00) rotate(-90)" >Jejunum</text>
<path d="M1261.2,27.7 L1262.9,27.9 L1264.1,28.0 L1264.9,28.2 L1265.5,28.4 L1265.9,28.5 L1266.2,28.7 L1266.3,28.9 L1266.4,29.0 L1266.4,29.2 L1266.4,29.4 L1266.4,29.5 L1266.4,29.7 L1266.4,29.9 L1266.4,30.0 L1266.4,30.2 L1266.4,30.4 L1267.3,30.4 L1267.3,30.2 L1267.3,30.0 L1267.3,29.9 L1267.3,29.7 L1267.3,29.5 L1267.3,29.4 L1267.3,29.2 L1267.3,29.0 L1267.3,28.9 L1267.5,28.7 L1267.7,28.5 L1268.1,28.4 L1268.7,28.2 L1269.6,28.0 L1270.8,27.9 L1272.4,27.7Z" fill="#4F5D66"/>
<polygon points="1266.3,30.4 1267.3,30.4 1267.1,67.7 1266.6,67.7" fill="#4F5D66" opacity="0.42"/>
<line x1="1266.82" y1="28.20" x2="1266.82" y2="37.77" stroke="#27343c" stroke-width="1.0" opacity="0.85"/>
<path d="M1278.1,27.7 L1276.7,28.4 L1275.6,29.1 L1274.7,29.8 L1273.8,30.5 L1273.3,31.2 L1274.3,31.9 L1275.1,32.6 L1275.9,33.3 L1276.5,34.0 L1277.1,34.8 L1277.6,35.5 L1277.9,36.2 L1278.2,36.9 L1278.2,37.6 L1278.2,38.3 L1278.2,39.0 L1279.1,39.0 L1279.1,38.3 L1279.1,37.6 L1279.1,36.9 L1279.3,36.2 L1279.7,35.5 L1280.1,34.8 L1280.7,34.0 L1281.3,33.3 L1282.1,32.6 L1283.0,31.9 L1283.9,31.2 L1283.4,30.5 L1282.6,29.8 L1281.6,29.1 L1280.6,28.4 L1279.2,27.7Z" fill="#E2A76D"/>
<polygon points="1278.1,39.0 1279.1,39.0 1278.9,110.8 1278.4,110.8" fill="#E2A76D" opacity="0.42"/>
<line x1="1278.62" y1="28.20" x2="1278.62" y2="42.08" stroke="#5a3a22" stroke-width="1.0" opacity="0.85"/>
<rect x="1277.17" y="28.32" width="2.90" height="4.67" fill="#fff" stroke="#1a1a1a" stroke-width="0.8" />
<path d="M1290.0,27.7 L1288.5,28.5 L1287.3,29.3 L1286.3,30.1 L1285.4,31.0 L1284.8,31.8 L1285.9,32.6 L1286.8,33.4 L1287.6,34.2 L1288.4,35.0 L1289.0,35.8 L1289.5,36.6 L1289.9,37.4 L1290.2,38.2 L1290.2,39.0 L1290.2,39.8 L1290.2,40.6 L1291.1,40.6 L1291.1,39.8 L1291.1,39.0 L1291.1,38.2 L1291.4,37.4 L1291.8,36.6 L1292.3,35.8 L1292.9,35.0 L1293.6,34.2 L1294.4,33.4 L1295.4,32.6 L1296.4,31.8 L1295.9,31.0 L1294.9,30.1 L1293.9,29.3 L1292.8,28.5 L1291.2,27.7Z" fill="#3AAADA"/>
<polygon points="1290.1,40.6 1291.1,40.6 1290.9,114.6 1290.4,114.6" fill="#3AAADA" opacity="0.42"/>
<line x1="1290.62" y1="28.20" x2="1290.62" y2="47.83" stroke="#1b4f68" stroke-width="1.0" opacity="0.85"/>
<rect x="1289.17" y="28.47" width="2.90" height="5.23" fill="#fff" stroke="#1a1a1a" stroke-width="0.8" />
<line x1="1278.62" y1="268.40" x2="1278.62" y2="277.60" stroke="#333333" stroke-width="4" />
<text font-size="25" text-anchor="end" fill="#000" transform="translate(1285.62,288.00) rotate(-90)" >Frontal_cortex</text>
<rect x="1307.30" y="28.70" width="2.40" height="1.80" fill="#111" stroke="none" stroke-width="1" />
<rect x="1319.30" y="34.90" width="2.40" height="1.80" fill="#111" stroke="none" stroke-width="1" />
<rect x="1331.30" y="34.90" width="2.40" height="1.80" fill="#111" stroke="none" stroke-width="1" />
<line x1="1320.50" y1="268.40" x2="1320.50" y2="277.60" stroke="#333333" stroke-width="4" />
<text font-size="25" text-anchor="end" fill="#000" transform="translate(1327.50,288.00) rotate(-90)" >Blastomere</text>
<path d="M1346.9,27.7 L1345.5,28.4 L1345.2,29.1 L1345.8,29.8 L1346.5,30.5 L1347.1,31.2 L1347.7,31.9 L1348.2,32.6 L1348.7,33.3 L1349.1,34.0 L1349.5,34.8 L1349.8,35.5 L1350.0,36.2 L1350.1,36.9 L1350.1,37.6 L1350.1,38.3 L1350.1,39.0 L1351.0,39.0 L1351.0,38.3 L1351.0,37.6 L1351.0,36.9 L1351.1,36.2 L1351.4,35.5 L1351.7,34.8 L1352.1,34.0 L1352.5,33.3 L1352.9,32.6 L1353.5,31.9 L1354.1,31.2 L1354.7,30.5 L1355.4,29.8 L1355.9,29.1 L1355.6,28.4 L1354.2,27.7Z" fill="#4F5D66"/>
<polygon points="1350.1,39.0 1351.1,39.0 1350.8,148.1 1350.3,148.1" fill="#4F5D66" opacity="0.42"/>
<line x1="1350.58" y1="28.20" x2="1350.58" y2="47.83" stroke="#27343c" stroke-width="1.0" opacity="0.85"/>
<rect x="1349.13" y="31.02" width="2.90" height="5.55" fill="#fff" stroke="#1a1a1a" stroke-width="0.8" />
<path d="M1360.8,27.7 L1358.1,29.2 L1357.1,30.6 L1356.7,32.1 L1357.1,33.5 L1357.6,35.0 L1358.2,36.4 L1358.7,37.9 L1359.2,39.3 L1359.7,40.8 L1360.1,42.2 L1360.6,43.7 L1361.0,45.1 L1361.4,46.6 L1361.8,48.0 L1361.9,49.5 L1361.9,50.9 L1362.8,50.9 L1362.8,49.5 L1363.0,48.0 L1363.3,46.6 L1363.7,45.1 L1364.2,43.7 L1364.6,42.2 L1365.1,40.8 L1365.6,39.3 L1366.1,37.9 L1366.6,36.4 L1367.1,35.0 L1367.6,33.5 L1368.1,32.1 L1367.7,30.6 L1366.7,29.2 L1364.0,27.7Z" fill="#E2A76D"/>
<polygon points="1361.9,50.9 1362.9,50.9 1362.6,140.7 1362.1,140.7" fill="#E2A76D" opacity="0.42"/>
<line x1="1362.38" y1="28.20" x2="1362.38" y2="67.70" stroke="#5a3a22" stroke-width="1.0" opacity="0.85"/>
<rect x="1360.93" y="31.21" width="2.90" height="14.94" fill="#fff" stroke="#1a1a1a" stroke-width="0.8" />
<line x1="1360.93" y1="36.89" x2="1363.83" y2="36.89" stroke="#1a1a1a" stroke-width="0.9" />
<path d="M1372.7,27.7 L1370.0,29.3 L1369.0,30.9 L1368.6,32.5 L1369.0,34.1 L1369.6,35.7 L1370.1,37.3 L1370.6,38.9 L1371.1,40.5 L1371.6,42.1 L1372.1,43.7 L1372.6,45.3 L1373.0,46.9 L1373.4,48.5 L1373.8,50.1 L1373.9,51.7 L1373.9,53.3 L1374.8,53.3 L1374.8,51.7 L1375.0,50.1 L1375.4,48.5 L1375.8,46.9 L1376.2,45.3 L1376.7,43.7 L1377.1,42.1 L1377.6,40.5 L1378.1,38.9 L1378.7,37.3 L1379.2,35.7 L1379.7,34.1 L1380.2,32.5 L1379.8,30.9 L1378.7,29.3 L1376.0,27.7Z" fill="#3AAADA"/>
<polygon points="1373.9,53.3 1374.9,53.3 1374.6,213.7 1374.1,213.7" fill="#3AAADA" opacity="0.42"/>
<line x1="1374.38" y1="28.20" x2="1374.38" y2="82.78" stroke="#1b4f68" stroke-width="1.0" opacity="0.85"/>
<rect x="1372.93" y="32.53" width="2.90" height="19.61" fill="#fff" stroke="#1a1a1a" stroke-width="0.8" />
<line x1="1372.93" y1="39.98" x2="1375.83" y2="39.98" stroke="#1a1a1a" stroke-width="0.9" />
<line x1="1362.38" y1="268.40" x2="1362.38" y2="277.60" stroke="#333333" stroke-width="4" />
<text font-size="25" text-anchor="end" fill="#000" transform="translate(1369.38,288.00) rotate(-90)" >Macrophage</text>
<path d="M1386.9,27.7 L1388.5,28.1 L1389.7,28.4 L1390.6,28.8 L1391.1,29.1 L1391.5,29.4 L1391.8,29.8 L1392.0,30.1 L1392.0,30.5 L1392.0,30.8 L1392.0,31.2 L1392.0,31.5 L1392.0,31.8 L1392.0,32.2 L1392.0,32.5 L1392.0,32.9 L1392.0,33.2 L1392.9,33.2 L1392.9,32.9 L1392.9,32.5 L1392.9,32.2 L1392.9,31.8 L1392.9,31.5 L1392.9,31.2 L1392.9,30.8 L1392.9,30.5 L1392.9,30.1 L1393.1,29.8 L1393.4,29.4 L1393.8,29.1 L1394.4,28.8 L1395.2,28.4 L1396.4,28.1 L1398.1,27.7Z" fill="#4F5D66"/>
<polygon points="1392.0,33.2 1393.0,33.2 1392.7,165.9 1392.2,165.9" fill="#4F5D66" opacity="0.42"/>
<line x1="1392.46" y1="28.20" x2="1392.46" y2="38.97" stroke="#27343c" stroke-width="1.0" opacity="0.85"/>
<path d="M1402.6,27.7 L1399.9,29.0 L1398.8,30.2 L1398.5,31.5 L1398.9,32.7 L1399.4,34.0 L1400.0,35.3 L1400.5,36.5 L1401.0,37.8 L1401.5,39.0 L1402.0,40.3 L1402.4,41.5 L1402.9,42.8 L1403.3,44.1 L1403.7,45.3 L1403.8,46.6 L1403.8,47.8 L1404.7,47.8 L1404.7,46.6 L1404.9,45.3 L1405.2,44.1 L1405.7,42.8 L1406.1,41.5 L1406.5,40.3 L1407.0,39.0 L1407.5,37.8 L1408.0,36.5 L1408.5,35.3 L1409.1,34.0 L1409.6,32.7 L1410.0,31.5 L1409.7,30.2 L1408.6,29.0 L1405.9,27.7Z" fill="#E2A76D"/>
<polygon points="1403.8,47.8 1404.8,47.8 1404.5,233.8 1404.0,233.8" fill="#E2A76D" opacity="0.42"/>
<line x1="1404.26" y1="28.20" x2="1404.26" y2="67.70" stroke="#5a3a22" stroke-width="1.0" opacity="0.85"/>
<rect x="1402.81" y="31.11" width="2.90" height="14.57" fill="#fff" stroke="#1a1a1a" stroke-width="0.8" />
<line x1="1402.81" y1="36.64" x2="1405.71" y2="36.64" stroke="#1a1a1a" stroke-width="0.9" />
<path d="M1414.6,27.7 L1411.7,28.6 L1410.7,29.5 L1410.3,30.4 L1410.7,31.3 L1411.3,32.2 L1411.8,33.1 L1412.4,34.0 L1412.9,34.9 L1413.4,35.8 L1413.9,36.7 L1414.4,37.6 L1414.8,38.5 L1415.2,39.4 L1415.6,40.3 L1415.8,41.2 L1415.8,42.1 L1416.7,42.1 L1416.7,41.2 L1416.9,40.3 L1417.3,39.4 L1417.7,38.5 L1418.2,37.6 L1418.6,36.7 L1419.1,35.8 L1419.6,34.9 L1420.2,34.0 L1420.7,33.1 L1421.2,32.2 L1421.8,31.3 L1422.2,30.4 L1421.9,29.5 L1420.8,28.6 L1418.0,27.7Z" fill="#3AAADA"/>
<polygon points="1415.8,42.1 1416.8,42.1 1416.5,186.0 1416.0,186.0" fill="#3AAADA" opacity="0.42"/>
<line x1="1416.26" y1="28.20" x2="1416.26" y2="53.33" stroke="#1b4f68" stroke-width="1.0" opacity="0.85"/>
<rect x="1414.81" y="29.79" width="2.90" height="9.90" fill="#fff" stroke="#1a1a1a" stroke-width="0.8" />
<line x1="1414.81" y1="33.55" x2="1417.71" y2="33.55" stroke="#1a1a1a" stroke-width="0.9" />
<line x1="1404.26" y1="268.40" x2="1404.26" y2="277.60" stroke="#333333" stroke-width="4" />
<text font-size="25" text-anchor="end" fill="#000" transform="translate(1411.26,288.00) rotate(-90)" >Synovial_membrane</text>
<path d="M1430.5,27.7 L1429.0,28.3 L1428.7,29.0 L1429.2,29.6 L1430.0,30.2 L1430.7,30.9 L1431.3,31.5 L1431.9,32.1 L1432.4,32.7 L1432.8,33.4 L1433.2,34.0 L1433.5,34.6 L1433.8,35.3 L1433.9,35.9 L1433.9,36.5 L1433.9,37.1 L1433.9,37.8 L1434.8,37.8 L1434.8,37.1 L1434.8,36.5 L1434.8,35.9 L1434.9,35.3 L1435.2,34.6 L1435.5,34.0 L1435.9,33.4 L1436.3,32.7 L1436.8,32.1 L1437.4,31.5 L1438.0,30.9 L1438.7,30.2 L1439.4,29.6 L1440.0,29.0 L1439.7,28.3 L1438.2,27.7Z" fill="#4F5D66"/>
<polygon points="1433.8,37.8 1434.8,37.8 1434.6,118.0 1434.1,118.0" fill="#4F5D66" opacity="0.42"/>
<line x1="1434.34" y1="28.20" x2="1434.34" y2="44.95" stroke="#27343c" stroke-width="1.0" opacity="0.85"/>
<rect x="1432.89" y="29.82" width="2.90" height="3.89" fill="#fff" stroke="#1a1a1a" stroke-width="0.8" />
<path d="M1444.5,27.7 L1441.8,29.4 L1440.7,31.1 L1440.4,32.8 L1440.8,34.5 L1441.3,36.2 L1441.9,38.0 L1442.4,39.7 L1442.9,41.4 L1443.4,43.1 L1443.9,44.8 L1444.3,46.5 L1444.7,48.2 L1445.2,49.9 L1445.5,51.6 L1445.7,53.3 L1445.7,55.0 L1446.6,55.0 L1446.6,53.3 L1446.7,51.6 L1447.1,49.9 L1447.5,48.2 L1448.0,46.5 L1448.4,44.8 L1448.9,43.1 L1449.4,41.4 L1449.9,39.7 L1450.4,38.0 L1451.0,36.2 L1451.5,34.5 L1451.9,32.8 L1451.6,31.1 L1450.5,29.4 L1447.8,27.7Z" fill="#E2A76D"/>
<polygon points="1445.6,55.0 1446.6,55.0 1446.4,242.5 1445.9,242.5" fill="#E2A76D" opacity="0.42"/>
<line x1="1446.14" y1="28.20" x2="1446.14" y2="74.88" stroke="#5a3a22" stroke-width="1.0" opacity="0.85"/>
<rect x="1444.69" y="32.37" width="2.90" height="19.05" fill="#fff" stroke="#1a1a1a" stroke-width="0.8" />
<line x1="1444.69" y1="39.61" x2="1447.59" y2="39.61" stroke="#1a1a1a" stroke-width="0.9" />
<path d="M1456.5,27.7 L1453.8,29.8 L1452.7,31.9 L1452.4,34.0 L1452.8,36.0 L1453.3,38.1 L1453.9,40.2 L1454.4,42.3 L1454.9,44.4 L1455.4,46.4 L1455.9,48.5 L1456.3,50.6 L1456.7,52.7 L1457.2,54.8 L1457.5,56.8 L1457.7,58.9 L1457.7,61.0 L1458.6,61.0 L1458.6,58.9 L1458.7,56.8 L1459.1,54.8 L1459.5,52.7 L1460.0,50.6 L1460.4,48.5 L1460.9,46.4 L1461.4,44.4 L1461.9,42.3 L1462.4,40.2 L1463.0,38.1 L1463.5,36.0 L1463.9,34.0 L1463.6,31.9 L1462.5,29.8 L1459.8,27.7Z" fill="#3AAADA"/>
<polygon points="1457.6,61.0 1458.6,61.0 1458.4,208.9 1457.9,208.9" fill="#3AAADA" opacity="0.42"/>
<line x1="1458.14" y1="28.20" x2="1458.14" y2="79.67" stroke="#1b4f68" stroke-width="1.0" opacity="0.85"/>
<rect x="1456.69" y="32.85" width="2.90" height="20.73" fill="#fff" stroke="#1a1a1a" stroke-width="0.8" />
<line x1="1456.69" y1="40.72" x2="1459.59" y2="40.72" stroke="#1a1a1a" stroke-width="0.9" />
<line x1="1446.14" y1="268.40" x2="1446.14" y2="277.60" stroke="#333333" stroke-width="4" />
<text font-size="25" text-anchor="end" fill="#000" transform="translate(1453.14,288.00) rotate(-90)" >Spleen</text>
<path d="M1470.2,27.7 L1470.6,29.6 L1471.1,31.5 L1471.5,33.4 L1471.9,35.3 L1472.3,37.2 L1472.7,39.1 L1473.1,41.0 L1473.5,42.9 L1473.9,44.8 L1474.3,46.7 L1474.6,48.6 L1475.0,50.5 L1475.3,52.4 L1475.7,54.3 L1475.8,56.2 L1475.8,58.1 L1476.7,58.1 L1476.7,56.2 L1476.8,54.3 L1477.1,52.4 L1477.4,50.5 L1477.8,48.6 L1478.2,46.7 L1478.5,44.8 L1478.9,42.9 L1479.3,41.0 L1479.7,39.1 L1480.1,37.2 L1480.5,35.3 L1480.9,33.4 L1481.4,31.5 L1481.8,29.6 L1482.2,27.7Z" fill="#4F5D66"/>
<polygon points="1475.7,58.1 1476.7,58.1 1476.5,97.1 1476.0,97.1" fill="#4F5D66" opacity="0.42"/>
<line x1="1476.22" y1="28.20" x2="1476.22" y2="67.70" stroke="#27343c" stroke-width="1.0" opacity="0.85"/>
<rect x="1474.77" y="31.73" width="2.90" height="6.53" fill="#fff" stroke="#1a1a1a" stroke-width="0.8" />
<line x1="1474.77" y1="34.21" x2="1477.67" y2="34.21" stroke="#1a1a1a" stroke-width="0.9" />
<path d="M1486.5,27.7 L1483.9,29.6 L1482.9,31.5 L1482.5,33.4 L1482.9,35.3 L1483.5,37.2 L1484.0,39.1 L1484.5,41.0 L1484.9,42.9 L1485.4,44.8 L1485.9,46.7 L1486.3,48.6 L1486.7,50.5 L1487.1,52.4 L1487.5,54.3 L1487.6,56.2 L1487.6,58.1 L1488.5,58.1 L1488.5,56.2 L1488.6,54.3 L1488.9,52.4 L1489.3,50.5 L1489.8,48.6 L1490.2,46.7 L1490.6,44.8 L1491.1,42.9 L1491.6,41.0 L1492.1,39.1 L1492.6,37.2 L1493.1,35.3 L1493.5,33.4 L1493.2,31.5 L1492.2,29.6 L1489.6,27.7Z" fill="#E2A76D"/>
<polygon points="1487.5,58.1 1488.5,58.1 1488.3,97.1 1487.8,97.1" fill="#E2A76D" opacity="0.42"/>
<line x1="1488.02" y1="28.20" x2="1488.02" y2="65.30" stroke="#5a3a22" stroke-width="1.0" opacity="0.85"/>
<rect x="1486.57" y="30.79" width="2.90" height="13.44" fill="#fff" stroke="#1a1a1a" stroke-width="0.8" />
<line x1="1486.57" y1="35.90" x2="1489.47" y2="35.90" stroke="#1a1a1a" stroke-width="0.9" />
<path d="M1494.0,27.7 L1494.4,31.0 L1494.9,34.2 L1495.3,37.5 L1495.7,40.7 L1496.1,44.0 L1496.5,47.2 L1496.9,50.4 L1497.3,53.7 L1497.7,56.9 L1498.1,60.2 L1498.4,63.4 L1498.8,66.7 L1499.1,69.9 L1499.5,73.2 L1499.6,76.4 L1499.6,79.7 L1500.5,79.7 L1500.5,76.4 L1500.6,73.2 L1500.9,69.9 L1501.2,66.7 L1501.6,63.4 L1502.0,60.2 L1502.3,56.9 L1502.7,53.7 L1503.1,50.4 L1503.5,47.2 L1503.9,44.0 L1504.3,40.7 L1504.7,37.5 L1505.2,34.2 L1505.6,31.0 L1506.0,27.7Z" fill="#3AAADA"/>
<polygon points="1499.5,79.7 1500.5,79.7 1500.3,135.0 1499.8,135.0" fill="#3AAADA" opacity="0.42"/>
<line x1="1500.02" y1="28.20" x2="1500.02" y2="82.78" stroke="#1b4f68" stroke-width="1.0" opacity="0.85"/>
<rect x="1498.57" y="32.37" width="2.90" height="19.05" fill="#fff" stroke="#1a1a1a" stroke-width="0.8" />
<line x1="1498.57" y1="39.61" x2="1501.47" y2="39.61" stroke="#1a1a1a" stroke-width="0.9" />
<line x1="1488.02" y1="268.40" x2="1488.02" y2="277.60" stroke="#333333" stroke-width="4" />
<text font-size="25" text-anchor="end" fill="#000" transform="translate(1495.02,288.00) rotate(-90)" >Oocyte</text>
<path d="M1512.6,27.7 L1514.2,28.0 L1515.4,28.2 L1516.2,28.5 L1516.8,28.7 L1517.2,29.0 L1517.5,29.2 L1517.6,29.5 L1517.7,29.8 L1517.7,30.0 L1517.7,30.3 L1517.7,30.5 L1517.7,30.8 L1517.7,31.0 L1517.7,31.3 L1517.7,31.5 L1517.7,31.8 L1518.6,31.8 L1518.6,31.5 L1518.6,31.3 L1518.6,31.0 L1518.6,30.8 L1518.6,30.5 L1518.6,30.3 L1518.6,30.0 L1518.6,29.8 L1518.6,29.5 L1518.7,29.2 L1519.0,29.0 L1519.4,28.7 L1520.0,28.5 L1520.8,28.2 L1522.0,28.0 L1523.6,27.7Z" fill="#4F5D66"/>
<polygon points="1517.6,31.8 1518.6,31.8 1518.4,119.2 1517.9,119.2" fill="#4F5D66" opacity="0.42"/>
<line x1="1518.10" y1="28.20" x2="1518.10" y2="38.97" stroke="#27343c" stroke-width="1.0" opacity="0.85"/>
<path d="M1529.4,27.7 L1528.0,28.4 L1527.0,29.1 L1526.1,29.8 L1525.2,30.5 L1524.8,31.2 L1525.7,31.9 L1526.5,32.6 L1527.3,33.3 L1527.9,34.0 L1528.4,34.8 L1528.9,35.5 L1529.2,36.2 L1529.5,36.9 L1529.5,37.6 L1529.5,38.3 L1529.5,39.0 L1530.4,39.0 L1530.4,38.3 L1530.4,37.6 L1530.4,36.9 L1530.6,36.2 L1530.9,35.5 L1531.4,34.8 L1531.9,34.0 L1532.5,33.3 L1533.3,32.6 L1534.1,31.9 L1535.0,31.2 L1534.6,30.5 L1533.7,29.8 L1532.8,29.1 L1531.8,28.4 L1530.4,27.7Z" fill="#E2A76D"/>
<polygon points="1529.4,39.0 1530.4,39.0 1530.2,245.6 1529.7,245.6" fill="#E2A76D" opacity="0.42"/>
<line x1="1529.90" y1="28.20" x2="1529.90" y2="52.14" stroke="#5a3a22" stroke-width="1.0" opacity="0.85"/>
<rect x="1528.45" y="28.58" width="2.90" height="5.60" fill="#fff" stroke="#1a1a1a" stroke-width="0.8" />
<path d="M1541.3,27.7 L1539.8,28.5 L1538.7,29.3 L1537.7,30.1 L1536.8,31.0 L1536.3,31.8 L1537.3,32.6 L1538.2,33.4 L1539.0,34.2 L1539.7,35.0 L1540.3,35.8 L1540.8,36.6 L1541.2,37.4 L1541.5,38.2 L1541.5,39.0 L1541.5,39.8 L1541.5,40.6 L1542.4,40.6 L1542.4,39.8 L1542.4,39.0 L1542.4,38.2 L1542.6,37.4 L1543.0,36.6 L1543.5,35.8 L1544.1,35.0 L1544.8,34.2 L1545.6,33.4 L1546.5,32.6 L1547.5,31.8 L1547.0,31.0 L1546.1,30.1 L1545.1,29.3 L1544.0,28.5 L1542.5,27.7Z" fill="#3AAADA"/>
<polygon points="1541.4,40.6 1542.4,40.6 1542.2,199.4 1541.7,199.4" fill="#3AAADA" opacity="0.42"/>
<line x1="1541.90" y1="28.20" x2="1541.90" y2="53.33" stroke="#1b4f68" stroke-width="1.0" opacity="0.85"/>
<rect x="1540.45" y="29.37" width="2.90" height="8.40" fill="#fff" stroke="#1a1a1a" stroke-width="0.8" />
<line x1="1540.45" y1="32.56" x2="1543.35" y2="32.56" stroke="#1a1a1a" stroke-width="0.9" />
<line x1="1529.90" y1="268.40" x2="1529.90" y2="277.60" stroke="#333333" stroke-width="4" />
<text font-size="25" text-anchor="end" fill="#000" transform="translate(1536.90,288.00) rotate(-90)" >Ileum</text>
<path d="M1556.2,27.7 L1554.8,28.3 L1554.5,29.0 L1555.1,29.6 L1555.8,30.2 L1556.4,30.9 L1557.0,31.5 L1557.6,32.1 L1558.1,32.7 L1558.5,33.4 L1558.8,34.0 L1559.2,34.6 L1559.4,35.3 L1559.5,35.9 L1559.5,36.5 L1559.5,37.1 L1559.5,37.8 L1560.4,37.8 L1560.4,37.1 L1560.4,36.5 L1560.4,35.9 L1560.5,35.3 L1560.8,34.6 L1561.1,34.0 L1561.5,33.4 L1561.9,32.7 L1562.4,32.1 L1562.9,31.5 L1563.5,30.9 L1564.2,30.2 L1564.9,29.6 L1565.4,29.0 L1565.1,28.3 L1563.7,27.7Z" fill="#4F5D66"/>
<polygon points="1559.5,37.8 1560.5,37.8 1560.2,81.3 1559.7,81.3" fill="#4F5D66" opacity="0.42"/>
<line x1="1559.98" y1="28.20" x2="1559.98" y2="43.76" stroke="#27343c" stroke-width="1.0" opacity="0.85"/>
<rect x="1558.53" y="29.51" width="2.90" height="3.47" fill="#fff" stroke="#1a1a1a" stroke-width="0.8" />
<path d="M1570.2,27.7 L1567.6,29.0 L1566.6,30.2 L1566.2,31.5 L1566.6,32.7 L1567.1,34.0 L1567.6,35.3 L1568.1,36.5 L1568.6,37.8 L1569.1,39.0 L1569.6,40.3 L1570.0,41.5 L1570.4,42.8 L1570.8,44.1 L1571.2,45.3 L1571.3,46.6 L1571.3,47.8 L1572.2,47.8 L1572.2,46.6 L1572.4,45.3 L1572.7,44.1 L1573.1,42.8 L1573.5,41.5 L1574.0,40.3 L1574.4,39.0 L1574.9,37.8 L1575.4,36.5 L1575.9,35.3 L1576.4,34.0 L1577.0,32.7 L1577.4,31.5 L1577.0,30.2 L1576.0,29.0 L1573.4,27.7Z" fill="#E2A76D"/>
<polygon points="1571.3,47.8 1572.3,47.8 1572.0,130.7 1571.5,130.7" fill="#E2A76D" opacity="0.42"/>
<line x1="1571.78" y1="28.20" x2="1571.78" y2="60.99" stroke="#5a3a22" stroke-width="1.0" opacity="0.85"/>
<rect x="1570.33" y="30.48" width="2.90" height="12.32" fill="#fff" stroke="#1a1a1a" stroke-width="0.8" />
<line x1="1570.33" y1="35.16" x2="1573.23" y2="35.16" stroke="#1a1a1a" stroke-width="0.9" />
<path d="M1577.8,27.7 L1578.2,30.1 L1578.6,32.4 L1579.1,34.8 L1579.5,37.1 L1579.9,39.5 L1580.3,41.8 L1580.7,44.2 L1581.1,46.5 L1581.5,48.9 L1581.8,51.2 L1582.2,53.6 L1582.6,55.9 L1582.9,58.3 L1583.2,60.6 L1583.3,63.0 L1583.3,65.3 L1584.2,65.3 L1584.2,63.0 L1584.3,60.6 L1584.7,58.3 L1585.0,55.9 L1585.4,53.6 L1585.7,51.2 L1586.1,48.9 L1586.5,46.5 L1586.9,44.2 L1587.3,41.8 L1587.7,39.5 L1588.1,37.1 L1588.5,34.8 L1588.9,32.4 L1589.4,30.1 L1589.8,27.7Z" fill="#3AAADA"/>
<polygon points="1583.3,65.3 1584.3,65.3 1584.0,126.4 1583.5,126.4" fill="#3AAADA" opacity="0.42"/>
<line x1="1583.78" y1="28.20" x2="1583.78" y2="74.88" stroke="#1b4f68" stroke-width="1.0" opacity="0.85"/>
<rect x="1582.33" y="32.06" width="2.90" height="17.93" fill="#fff" stroke="#1a1a1a" stroke-width="0.8" />
<line x1="1582.33" y1="38.87" x2="1585.23" y2="38.87" stroke="#1a1a1a" stroke-width="0.9" />
<line x1="1571.78" y1="268.40" x2="1571.78" y2="277.60" stroke="#333333" stroke-width="4" />
<text font-size="25" text-anchor="end" fill="#000" transform="translate(1578.78,288.00) rotate(-90)" >Lung</text>
<path d="M1598.1,27.7 L1596.7,28.3 L1596.4,28.8 L1596.9,29.4 L1597.7,29.9 L1598.3,30.5 L1598.9,31.0 L1599.5,31.6 L1599.9,32.1 L1600.4,32.7 L1600.7,33.3 L1601.0,33.8 L1601.3,34.4 L1601.4,34.9 L1601.4,35.5 L1601.4,36.0 L1601.4,36.6 L1602.3,36.6 L1602.3,36.0 L1602.3,35.5 L1602.3,34.9 L1602.4,34.4 L1602.7,33.8 L1603.0,33.3 L1603.4,32.7 L1603.8,32.1 L1604.3,31.6 L1604.8,31.0 L1605.4,30.5 L1606.1,29.9 L1606.8,29.4 L1607.3,28.8 L1607.0,28.3 L1605.6,27.7Z" fill="#4F5D66"/>
<polygon points="1601.4,36.6 1602.4,36.6 1602.1,71.8 1601.6,71.8" fill="#4F5D66" opacity="0.42"/>
<line x1="1601.86" y1="28.20" x2="1601.86" y2="50.94" stroke="#27343c" stroke-width="1.0" opacity="0.85"/>
<rect x="1600.41" y="29.51" width="2.90" height="3.47" fill="#fff" stroke="#1a1a1a" stroke-width="0.8" />
<path d="M1613.1,27.7 L1611.8,28.5 L1610.8,29.3 L1609.9,30.1 L1609.0,31.0 L1608.6,31.8 L1609.5,32.6 L1610.3,33.4 L1611.0,34.2 L1611.7,35.0 L1612.2,35.8 L1612.6,36.6 L1613.0,37.4 L1613.2,38.2 L1613.2,39.0 L1613.2,39.8 L1613.2,40.6 L1614.1,40.6 L1614.1,39.8 L1614.1,39.0 L1614.1,38.2 L1614.3,37.4 L1614.7,36.6 L1615.1,35.8 L1615.7,35.0 L1616.3,34.2 L1617.0,33.4 L1617.8,32.6 L1618.8,31.8 L1618.3,31.0 L1617.5,30.1 L1616.6,29.3 L1615.5,28.5 L1614.2,27.7Z" fill="#E2A76D"/>
<polygon points="1613.2,40.6 1614.2,40.6 1613.9,85.7 1613.4,85.7" fill="#E2A76D" opacity="0.42"/>
<line x1="1613.66" y1="28.20" x2="1613.66" y2="46.15" stroke="#5a3a22" stroke-width="1.0" opacity="0.85"/>
<rect x="1612.21" y="29.37" width="2.90" height="8.40" fill="#fff" stroke="#1a1a1a" stroke-width="0.8" />
<line x1="1612.21" y1="32.56" x2="1615.11" y2="32.56" stroke="#1a1a1a" stroke-width="0.9" />
<path d="M1624.0,27.7 L1621.1,28.9 L1620.1,30.0 L1619.7,31.2 L1620.1,32.3 L1620.7,33.5 L1621.2,34.6 L1621.8,35.8 L1622.3,36.9 L1622.8,38.1 L1623.3,39.2 L1623.8,40.4 L1624.2,41.5 L1624.6,42.7 L1625.0,43.8 L1625.2,45.0 L1625.2,46.2 L1626.1,46.2 L1626.1,45.0 L1626.3,43.8 L1626.7,42.7 L1627.1,41.5 L1627.6,40.4 L1628.0,39.2 L1628.5,38.1 L1629.0,36.9 L1629.6,35.8 L1630.1,34.6 L1630.6,33.5 L1631.2,32.3 L1631.6,31.2 L1631.3,30.0 L1630.2,28.9 L1627.4,27.7Z" fill="#3AAADA"/>
<polygon points="1625.2,46.2 1626.2,46.2 1625.9,111.7 1625.4,111.7" fill="#3AAADA" opacity="0.42"/>
<line x1="1625.66" y1="28.20" x2="1625.66" y2="111.75" stroke="#1b4f68" stroke-width="1.0" opacity="0.85"/>
<rect x="1624.21" y="30.16" width="2.90" height="11.20" fill="#fff" stroke="#1a1a1a" stroke-width="0.8" />
<line x1="1624.21" y1="34.42" x2="1627.11" y2="34.42" stroke="#1a1a1a" stroke-width="0.9" />
<line x1="1613.66" y1="268.40" x2="1613.66" y2="277.60" stroke="#333333" stroke-width="4" />
<text font-size="25" text-anchor="end" fill="#000" transform="translate(1620.66,288.00) rotate(-90)" >Morula</text>
<path d="M1638.2,27.7 L1639.9,28.1 L1641.0,28.4 L1641.9,28.8 L1642.4,29.1 L1642.8,29.4 L1643.1,29.8 L1643.3,30.1 L1643.3,30.5 L1643.3,30.8 L1643.3,31.2 L1643.3,31.5 L1643.3,31.8 L1643.3,32.2 L1643.3,32.5 L1643.3,32.9 L1643.3,33.2 L1644.2,33.2 L1644.2,32.9 L1644.2,32.5 L1644.2,32.2 L1644.2,31.8 L1644.2,31.5 L1644.2,31.2 L1644.2,30.8 L1644.2,30.5 L1644.2,30.1 L1644.4,29.8 L1644.6,29.4 L1645.0,29.1 L1645.6,28.8 L1646.4,28.4 L1647.6,28.1 L1649.2,27.7Z" fill="#4F5D66"/>
<polygon points="1643.2,33.2 1644.2,33.2 1644.0,56.4 1643.5,56.4" fill="#4F5D66" opacity="0.42"/>
<line x1="1643.74" y1="28.20" x2="1643.74" y2="38.97" stroke="#27343c" stroke-width="1.0" opacity="0.85"/>
<rect x="1642.29" y="29.01" width="2.90" height="2.78" fill="#fff" stroke="#1a1a1a" stroke-width="0.8" />
<path d="M1654.0,27.7 L1651.3,28.7 L1650.3,29.7 L1650.0,30.7 L1650.4,31.7 L1650.9,32.7 L1651.4,33.7 L1651.9,34.7 L1652.4,35.7 L1652.9,36.7 L1653.3,37.7 L1653.8,38.7 L1654.2,39.7 L1654.6,40.8 L1655.0,41.8 L1655.1,42.8 L1655.1,43.8 L1656.0,43.8 L1656.0,42.8 L1656.1,41.8 L1656.5,40.8 L1656.9,39.7 L1657.3,38.7 L1657.7,37.7 L1658.2,36.7 L1658.7,35.7 L1659.2,34.7 L1659.7,33.7 L1660.2,32.7 L1660.7,31.7 L1661.1,30.7 L1660.8,29.7 L1659.7,28.7 L1657.1,27.7Z" fill="#E2A76D"/>
<polygon points="1655.0,43.8 1656.0,43.8 1655.8,135.0 1655.3,135.0" fill="#E2A76D" opacity="0.42"/>
<line x1="1655.54" y1="28.20" x2="1655.54" y2="58.12" stroke="#5a3a22" stroke-width="1.0" opacity="0.85"/>
<rect x="1654.09" y="30.48" width="2.90" height="12.32" fill="#fff" stroke="#1a1a1a" stroke-width="0.8" />
<line x1="1654.09" y1="35.16" x2="1656.99" y2="35.16" stroke="#1a1a1a" stroke-width="0.9" />
<path d="M1665.9,27.7 L1663.2,28.7 L1662.1,29.7 L1661.8,30.7 L1662.2,31.7 L1662.7,32.7 L1663.3,33.7 L1663.8,34.7 L1664.3,35.7 L1664.8,36.7 L1665.3,37.7 L1665.7,38.7 L1666.1,39.7 L1666.6,40.8 L1666.9,41.8 L1667.1,42.8 L1667.1,43.8 L1668.0,43.8 L1668.0,42.8 L1668.1,41.8 L1668.5,40.8 L1668.9,39.7 L1669.4,38.7 L1669.8,37.7 L1670.3,36.7 L1670.8,35.7 L1671.3,34.7 L1671.8,33.7 L1672.4,32.7 L1672.9,31.7 L1673.3,30.7 L1673.0,29.7 L1671.9,28.7 L1669.2,27.7Z" fill="#3AAADA"/>
<polygon points="1667.0,43.8 1668.0,43.8 1667.8,92.8 1667.3,92.8" fill="#3AAADA" opacity="0.42"/>
<line x1="1667.54" y1="28.20" x2="1667.54" y2="53.33" stroke="#1b4f68" stroke-width="1.0" opacity="0.85"/>
<rect x="1666.09" y="30.32" width="2.90" height="11.76" fill="#fff" stroke="#1a1a1a" stroke-width="0.8" />
<line x1="1666.09" y1="34.79" x2="1668.99" y2="34.79" stroke="#1a1a1a" stroke-width="0.9" />
<line x1="1655.54" y1="268.40" x2="1655.54" y2="277.60" stroke="#333333" stroke-width="4" />
<text font-size="25" text-anchor="end" fill="#000" transform="translate(1662.54,288.00) rotate(-90)" >Heart</text>
<path d="M1680.1,27.7 L1681.7,28.0 L1682.9,28.2 L1683.7,28.5 L1684.3,28.7 L1684.7,29.0 L1685.0,29.2 L1685.2,29.5 L1685.2,29.8 L1685.2,30.0 L1685.2,30.3 L1685.2,30.5 L1685.2,30.8 L1685.2,31.0 L1685.2,31.3 L1685.2,31.5 L1685.2,31.8 L1686.1,31.8 L1686.1,31.5 L1686.1,31.3 L1686.1,31.0 L1686.1,30.8 L1686.1,30.5 L1686.1,30.3 L1686.1,30.0 L1686.1,29.8 L1686.1,29.5 L1686.3,29.2 L1686.5,29.0 L1686.9,28.7 L1687.5,28.5 L1688.3,28.2 L1689.5,28.0 L1691.1,27.7Z" fill="#4F5D66"/>
<polygon points="1685.1,31.8 1686.1,31.8 1685.9,119.2 1685.4,119.2" fill="#4F5D66" opacity="0.42"/>
<line x1="1685.62" y1="28.20" x2="1685.62" y2="37.77" stroke="#27343c" stroke-width="1.0" opacity="0.85"/>
<path d="M1695.8,27.7 L1693.1,28.9 L1692.0,30.0 L1691.6,31.2 L1692.1,32.3 L1692.6,33.5 L1693.1,34.6 L1693.7,35.8 L1694.2,36.9 L1694.7,38.1 L1695.1,39.2 L1695.6,40.4 L1696.0,41.5 L1696.4,42.7 L1696.8,43.8 L1697.0,45.0 L1697.0,46.2 L1697.9,46.2 L1697.9,45.0 L1698.0,43.8 L1698.4,42.7 L1698.8,41.5 L1699.2,40.4 L1699.7,39.2 L1700.2,38.1 L1700.7,36.9 L1701.2,35.8 L1701.7,34.6 L1702.2,33.5 L1702.8,32.3 L1703.2,31.2 L1702.8,30.0 L1701.8,28.9 L1699.1,27.7Z" fill="#E2A76D"/>
<polygon points="1696.9,46.2 1697.9,46.2 1697.7,199.4 1697.2,199.4" fill="#E2A76D" opacity="0.42"/>
<line x1="1697.42" y1="28.20" x2="1697.42" y2="63.87" stroke="#5a3a22" stroke-width="1.0" opacity="0.85"/>
<rect x="1695.97" y="30.79" width="2.90" height="13.44" fill="#fff" stroke="#1a1a1a" stroke-width="0.8" />
<line x1="1695.97" y1="35.90" x2="1698.87" y2="35.90" stroke="#1a1a1a" stroke-width="0.9" />
<path d="M1707.7,27.7 L1704.9,28.8 L1703.8,29.9 L1703.4,31.0 L1703.9,32.0 L1704.4,33.1 L1705.0,34.2 L1705.5,35.3 L1706.1,36.3 L1706.6,37.4 L1707.1,38.5 L1707.5,39.6 L1708.0,40.6 L1708.4,41.7 L1708.8,42.8 L1709.0,43.9 L1709.0,45.0 L1709.9,45.0 L1709.9,43.9 L1710.0,42.8 L1710.4,41.7 L1710.9,40.6 L1711.3,39.6 L1711.8,38.5 L1712.3,37.4 L1712.8,36.3 L1713.3,35.3 L1713.8,34.2 L1714.4,33.1 L1715.0,32.0 L1715.4,31.0 L1715.0,29.9 L1713.9,28.8 L1711.1,27.7Z" fill="#3AAADA"/>
<polygon points="1708.9,45.0 1709.9,45.0 1709.7,197.5 1709.2,197.5" fill="#3AAADA" opacity="0.42"/>
<line x1="1709.42" y1="28.20" x2="1709.42" y2="58.12" stroke="#1b4f68" stroke-width="1.0" opacity="0.85"/>
<rect x="1707.97" y="30.16" width="2.90" height="11.20" fill="#fff" stroke="#1a1a1a" stroke-width="0.8" />
<line x1="1707.97" y1="34.42" x2="1710.87" y2="34.42" stroke="#1a1a1a" stroke-width="0.9" />
<line x1="1697.42" y1="268.40" x2="1697.42" y2="277.60" stroke="#333333" stroke-width="4" />
<text font-size="25" text-anchor="end" fill="#000" transform="translate(1704.42,288.00) rotate(-90)" >Testis</text>
<path d="M1721.7,27.7 L1722.1,28.7 L1722.5,29.7 L1722.9,30.7 L1723.3,31.7 L1723.7,32.7 L1724.1,33.7 L1724.5,34.7 L1724.9,35.7 L1725.3,36.7 L1725.6,37.7 L1726.0,38.7 L1726.3,39.7 L1726.7,40.8 L1727.0,41.8 L1727.0,42.8 L1727.0,43.8 L1728.0,43.8 L1728.0,42.8 L1728.0,41.8 L1728.3,40.8 L1728.7,39.7 L1729.0,38.7 L1729.4,37.7 L1729.7,36.7 L1730.1,35.7 L1730.5,34.7 L1730.9,33.7 L1731.3,32.7 L1731.7,31.7 L1732.1,30.7 L1732.5,29.7 L1732.9,28.7 L1733.3,27.7Z" fill="#4F5D66"/>
<polygon points="1727.0,43.8 1728.0,43.8 1727.8,97.1 1727.2,97.1" fill="#4F5D66" opacity="0.42"/>
<line x1="1727.50" y1="28.20" x2="1727.50" y2="60.99" stroke="#27343c" stroke-width="1.0" opacity="0.85"/>
<rect x="1726.05" y="31.02" width="2.90" height="5.55" fill="#fff" stroke="#1a1a1a" stroke-width="0.8" />
<path d="M1737.7,27.7 L1734.9,29.2 L1733.9,30.6 L1733.5,32.1 L1733.9,33.5 L1734.5,35.0 L1735.0,36.4 L1735.5,37.9 L1736.0,39.3 L1736.5,40.8 L1737.0,42.2 L1737.5,43.7 L1737.9,45.1 L1738.3,46.6 L1738.7,48.0 L1738.8,49.5 L1738.8,50.9 L1739.8,50.9 L1739.8,49.5 L1739.9,48.0 L1740.3,46.6 L1740.7,45.1 L1741.1,43.7 L1741.6,42.2 L1742.1,40.8 L1742.6,39.3 L1743.1,37.9 L1743.6,36.4 L1744.1,35.0 L1744.7,33.5 L1745.1,32.1 L1744.7,30.6 L1743.7,29.2 L1740.9,27.7Z" fill="#E2A76D"/>
<polygon points="1738.8,50.9 1739.8,50.9 1739.5,118.0 1739.0,118.0" fill="#E2A76D" opacity="0.42"/>
<line x1="1739.30" y1="28.20" x2="1739.30" y2="62.91" stroke="#5a3a22" stroke-width="1.0" opacity="0.85"/>
<rect x="1737.85" y="30.48" width="2.90" height="12.32" fill="#fff" stroke="#1a1a1a" stroke-width="0.8" />
<line x1="1737.85" y1="35.16" x2="1740.75" y2="35.16" stroke="#1a1a1a" stroke-width="0.9" />
<path d="M1745.3,27.7 L1745.7,30.2 L1746.2,32.7 L1746.6,35.2 L1747.0,37.7 L1747.4,40.2 L1747.8,42.7 L1748.2,45.2 L1748.6,47.7 L1749.0,50.2 L1749.4,52.7 L1749.7,55.2 L1750.1,57.7 L1750.4,60.2 L1750.8,62.7 L1750.8,65.2 L1750.8,67.7 L1751.8,67.7 L1751.8,65.2 L1751.8,62.7 L1752.2,60.2 L1752.5,57.7 L1752.9,55.2 L1753.2,52.7 L1753.6,50.2 L1754.0,47.7 L1754.4,45.2 L1754.8,42.7 L1755.2,40.2 L1755.6,37.7 L1756.0,35.2 L1756.4,32.7 L1756.9,30.2 L1757.3,27.7Z" fill="#3AAADA"/>
<polygon points="1750.8,67.7 1751.8,67.7 1751.5,135.0 1751.0,135.0" fill="#3AAADA" opacity="0.42"/>
<line x1="1751.30" y1="28.20" x2="1751.30" y2="82.78" stroke="#1b4f68" stroke-width="1.0" opacity="0.85"/>
<rect x="1749.85" y="32.27" width="2.90" height="18.67" fill="#fff" stroke="#1a1a1a" stroke-width="0.8" />
<line x1="1749.85" y1="39.36" x2="1752.75" y2="39.36" stroke="#1a1a1a" stroke-width="0.9" />
<line x1="1739.30" y1="268.40" x2="1739.30" y2="277.60" stroke="#333333" stroke-width="4" />
<text font-size="25" text-anchor="end" fill="#000" transform="translate(1746.30,288.00) rotate(-90)" >Ovary</text>
<path d="M1763.9,27.7 L1765.5,27.8 L1766.7,27.9 L1767.5,28.0 L1768.1,28.1 L1768.5,28.2 L1768.7,28.3 L1768.9,28.5 L1768.9,28.6 L1768.9,28.7 L1768.9,28.8 L1768.9,28.9 L1768.9,29.0 L1768.9,29.1 L1768.9,29.2 L1768.9,29.3 L1768.9,29.4 L1769.8,29.4 L1769.8,29.3 L1769.8,29.2 L1769.8,29.1 L1769.8,29.0 L1769.8,28.9 L1769.8,28.8 L1769.8,28.7 L1769.8,28.6 L1769.8,28.5 L1770.0,28.3 L1770.3,28.2 L1770.7,28.1 L1771.3,28.0 L1772.1,27.9 L1773.3,27.8 L1774.9,27.7Z" fill="#4F5D66"/>
<polygon points="1768.9,29.4 1769.9,29.4 1769.6,71.0 1769.1,71.0" fill="#4F5D66" opacity="0.42"/>
<line x1="1769.38" y1="28.20" x2="1769.38" y2="38.97" stroke="#27343c" stroke-width="1.0" opacity="0.85"/>
<path d="M1780.6,27.7 L1779.2,28.3 L1778.2,29.0 L1777.2,29.6 L1776.4,30.2 L1775.9,30.9 L1776.8,31.5 L1777.7,32.1 L1778.5,32.7 L1779.1,33.4 L1779.7,34.0 L1780.1,34.6 L1780.5,35.3 L1780.7,35.9 L1780.7,36.5 L1780.7,37.1 L1780.7,37.8 L1781.6,37.8 L1781.6,37.1 L1781.6,36.5 L1781.6,35.9 L1781.9,35.3 L1782.2,34.6 L1782.7,34.0 L1783.3,33.4 L1783.9,32.7 L1784.7,32.1 L1785.5,31.5 L1786.5,30.9 L1786.0,30.2 L1785.1,29.6 L1784.2,29.0 L1783.1,28.3 L1781.7,27.7Z" fill="#E2A76D"/>
<polygon points="1780.7,37.8 1781.7,37.8 1781.4,111.7 1780.9,111.7" fill="#E2A76D" opacity="0.42"/>
<line x1="1781.18" y1="28.20" x2="1781.18" y2="47.83" stroke="#5a3a22" stroke-width="1.0" opacity="0.85"/>
<rect x="1779.73" y="28.32" width="2.90" height="4.67" fill="#fff" stroke="#1a1a1a" stroke-width="0.8" />
<path d="M1792.6,27.7 L1791.0,28.3 L1789.9,28.8 L1788.9,29.4 L1787.9,29.9 L1787.4,30.5 L1788.4,31.0 L1789.4,31.6 L1790.2,32.1 L1790.9,32.7 L1791.5,33.3 L1792.0,33.8 L1792.4,34.4 L1792.7,34.9 L1792.7,35.5 L1792.7,36.0 L1792.7,36.6 L1793.6,36.6 L1793.6,36.0 L1793.6,35.5 L1793.6,34.9 L1793.9,34.4 L1794.3,33.8 L1794.8,33.3 L1795.4,32.7 L1796.2,32.1 L1797.0,31.6 L1797.9,31.0 L1799.0,30.5 L1798.4,29.9 L1797.5,29.4 L1796.5,28.8 L1795.3,28.3 L1793.8,27.7Z" fill="#3AAADA"/>
<polygon points="1792.7,36.6 1793.7,36.6 1793.4,159.9 1792.9,159.9" fill="#3AAADA" opacity="0.42"/>
<line x1="1793.18" y1="28.20" x2="1793.18" y2="46.15" stroke="#1b4f68" stroke-width="1.0" opacity="0.85"/>
<rect x="1791.73" y="28.16" width="2.90" height="4.11" fill="#fff" stroke="#1a1a1a" stroke-width="0.8" />
<line x1="1781.18" y1="268.40" x2="1781.18" y2="277.60" stroke="#333333" stroke-width="4" />
<text font-size="25" text-anchor="end" fill="#000" transform="translate(1788.18,288.00) rotate(-90)" >Uterus</text>
<path d="M1805.8,27.7 L1807.4,28.0 L1808.6,28.2 L1809.4,28.5 L1810.0,28.7 L1810.4,29.0 L1810.6,29.2 L1810.8,29.5 L1810.8,29.8 L1810.8,30.0 L1810.8,30.3 L1810.8,30.5 L1810.8,30.8 L1810.8,31.0 L1810.8,31.3 L1810.8,31.5 L1810.8,31.8 L1811.7,31.8 L1811.7,31.5 L1811.7,31.3 L1811.7,31.0 L1811.7,30.8 L1811.7,30.5 L1811.7,30.3 L1811.7,30.0 L1811.7,29.8 L1811.7,29.5 L1811.9,29.2 L1812.2,29.0 L1812.6,28.7 L1813.1,28.5 L1814.0,28.2 L1815.1,28.0 L1816.8,27.7Z" fill="#4F5D66"/>
<polygon points="1810.8,31.8 1811.8,31.8 1811.5,89.2 1811.0,89.2" fill="#4F5D66" opacity="0.42"/>
<line x1="1811.26" y1="28.20" x2="1811.26" y2="38.97" stroke="#27343c" stroke-width="1.0" opacity="0.85"/>
<path d="M1822.5,27.7 L1821.1,28.3 L1820.1,29.0 L1819.1,29.6 L1818.2,30.2 L1817.8,30.9 L1818.7,31.5 L1819.6,32.1 L1820.3,32.7 L1821.0,33.4 L1821.5,34.0 L1822.0,34.6 L1822.4,35.3 L1822.6,35.9 L1822.6,36.5 L1822.6,37.1 L1822.6,37.8 L1823.5,37.8 L1823.5,37.1 L1823.5,36.5 L1823.5,35.9 L1823.7,35.3 L1824.1,34.6 L1824.6,34.0 L1825.1,33.4 L1825.8,32.7 L1826.5,32.1 L1827.4,31.5 L1828.4,30.9 L1827.9,30.2 L1827.0,29.6 L1826.1,29.0 L1825.0,28.3 L1823.6,27.7Z" fill="#E2A76D"/>
<polygon points="1822.6,37.8 1823.6,37.8 1823.3,220.9 1822.8,220.9" fill="#E2A76D" opacity="0.42"/>
<line x1="1823.06" y1="28.20" x2="1823.06" y2="47.83" stroke="#5a3a22" stroke-width="1.0" opacity="0.85"/>
<rect x="1821.61" y="29.00" width="2.90" height="7.10" fill="#fff" stroke="#1a1a1a" stroke-width="0.8" />
<line x1="1821.61" y1="31.70" x2="1824.51" y2="31.70" stroke="#1a1a1a" stroke-width="0.9" />
<path d="M1834.5,27.7 L1832.9,28.4 L1831.8,29.1 L1830.8,29.8 L1829.8,30.5 L1829.3,31.2 L1830.3,31.9 L1831.3,32.6 L1832.1,33.3 L1832.8,34.0 L1833.4,34.8 L1833.9,35.5 L1834.3,36.2 L1834.6,36.9 L1834.6,37.6 L1834.6,38.3 L1834.6,39.0 L1835.5,39.0 L1835.5,38.3 L1835.5,37.6 L1835.5,36.9 L1835.8,36.2 L1836.2,35.5 L1836.7,34.8 L1837.3,34.0 L1838.0,33.3 L1838.9,32.6 L1839.8,31.9 L1840.8,31.2 L1840.3,30.5 L1839.4,29.8 L1838.3,29.1 L1837.2,28.4 L1835.7,27.7Z" fill="#3AAADA"/>
<polygon points="1834.6,39.0 1835.6,39.0 1835.3,199.4 1834.8,199.4" fill="#3AAADA" opacity="0.42"/>
<line x1="1835.06" y1="28.20" x2="1835.06" y2="53.33" stroke="#1b4f68" stroke-width="1.0" opacity="0.85"/>
<rect x="1833.61" y="29.11" width="2.90" height="7.47" fill="#fff" stroke="#1a1a1a" stroke-width="0.8" />
<line x1="1833.61" y1="31.95" x2="1836.51" y2="31.95" stroke="#1a1a1a" stroke-width="0.9" />
<line x1="1823.06" y1="268.40" x2="1823.06" y2="277.60" stroke="#333333" stroke-width="4" />
<text font-size="25" text-anchor="end" fill="#000" transform="translate(1830.06,288.00) rotate(-90)" >Small_intestine</text>
<path d="M1847.6,27.7 L1849.3,28.1 L1850.4,28.4 L1851.3,28.8 L1851.8,29.1 L1852.2,29.4 L1852.5,29.8 L1852.7,30.1 L1852.7,30.5 L1852.7,30.8 L1852.7,31.2 L1852.7,31.5 L1852.7,31.8 L1852.7,32.2 L1852.7,32.5 L1852.7,32.9 L1852.7,33.2 L1853.6,33.2 L1853.6,32.9 L1853.6,32.5 L1853.6,32.2 L1853.6,31.8 L1853.6,31.5 L1853.6,31.2 L1853.6,30.8 L1853.6,30.5 L1853.6,30.1 L1853.8,29.8 L1854.0,29.4 L1854.4,29.1 L1855.0,28.8 L1855.8,28.4 L1857.0,28.1 L1858.6,27.7Z" fill="#4F5D66"/>
<polygon points="1852.6,33.2 1853.6,33.2 1853.4,101.7 1852.9,101.7" fill="#4F5D66" opacity="0.42"/>
<line x1="1853.14" y1="28.20" x2="1853.14" y2="38.97" stroke="#27343c" stroke-width="1.0" opacity="0.85"/>
<path d="M1863.4,27.7 L1860.8,28.6 L1859.8,29.5 L1859.4,30.4 L1859.9,31.3 L1860.4,32.2 L1860.9,33.1 L1861.4,34.0 L1861.9,34.9 L1862.3,35.8 L1862.8,36.7 L1863.2,37.6 L1863.6,38.5 L1864.0,39.4 L1864.4,40.3 L1864.5,41.2 L1864.5,42.1 L1865.4,42.1 L1865.4,41.2 L1865.5,40.3 L1865.9,39.4 L1866.3,38.5 L1866.7,37.6 L1867.1,36.7 L1867.6,35.8 L1868.0,34.9 L1868.5,34.0 L1869.0,33.1 L1869.5,32.2 L1870.0,31.3 L1870.4,30.4 L1870.1,29.5 L1869.1,28.6 L1866.5,27.7Z" fill="#E2A76D"/>
<polygon points="1864.4,42.1 1865.4,42.1 1865.2,214.9 1864.7,214.9" fill="#E2A76D" opacity="0.42"/>
<line x1="1864.94" y1="28.20" x2="1864.94" y2="53.33" stroke="#5a3a22" stroke-width="1.0" opacity="0.85"/>
<rect x="1863.49" y="29.37" width="2.90" height="8.40" fill="#fff" stroke="#1a1a1a" stroke-width="0.8" />
<line x1="1863.49" y1="32.56" x2="1866.39" y2="32.56" stroke="#1a1a1a" stroke-width="0.9" />
<path d="M1875.2,27.7 L1872.4,28.8 L1871.3,29.9 L1871.0,31.0 L1871.4,32.0 L1872.0,33.1 L1872.5,34.2 L1873.0,35.3 L1873.6,36.3 L1874.1,37.4 L1874.6,38.5 L1875.0,39.6 L1875.5,40.6 L1875.9,41.7 L1876.3,42.8 L1876.5,43.9 L1876.5,45.0 L1877.4,45.0 L1877.4,43.9 L1877.6,42.8 L1878.0,41.7 L1878.4,40.6 L1878.8,39.6 L1879.3,38.5 L1879.8,37.4 L1880.3,36.3 L1880.8,35.3 L1881.4,34.2 L1881.9,33.1 L1882.5,32.0 L1882.9,31.0 L1882.5,29.9 L1881.5,28.8 L1878.6,27.7Z" fill="#3AAADA"/>
<polygon points="1876.4,45.0 1877.4,45.0 1877.2,175.7 1876.7,175.7" fill="#3AAADA" opacity="0.42"/>
<line x1="1876.94" y1="28.20" x2="1876.94" y2="58.12" stroke="#1b4f68" stroke-width="1.0" opacity="0.85"/>
<rect x="1875.49" y="29.79" width="2.90" height="9.90" fill="#fff" stroke="#1a1a1a" stroke-width="0.8" />
<line x1="1875.49" y1="33.55" x2="1878.39" y2="33.55" stroke="#1a1a1a" stroke-width="0.9" />
<line x1="1864.94" y1="268.40" x2="1864.94" y2="277.60" stroke="#333333" stroke-width="4" />
<text font-size="25" text-anchor="end" fill="#000" transform="translate(1871.94,288.00) rotate(-90)" >Adipose</text>
<path d="M1889.2,27.7 L1889.6,28.6 L1890.0,29.5 L1890.5,30.4 L1890.9,31.3 L1891.3,32.2 L1891.6,33.1 L1892.0,34.0 L1892.4,34.9 L1892.8,35.8 L1893.1,36.7 L1893.5,37.6 L1893.8,38.5 L1894.2,39.4 L1894.5,40.3 L1894.6,41.2 L1894.6,42.1 L1895.5,42.1 L1895.5,41.2 L1895.6,40.3 L1895.9,39.4 L1896.2,38.5 L1896.5,37.6 L1896.9,36.7 L1897.3,35.8 L1897.6,34.9 L1898.0,34.0 L1898.4,33.1 L1898.8,32.2 L1899.2,31.3 L1899.6,30.4 L1900.0,29.5 L1900.4,28.6 L1900.8,27.7Z" fill="#4F5D66"/>
<polygon points="1894.5,42.1 1895.5,42.1 1895.3,133.5 1894.8,133.5" fill="#4F5D66" opacity="0.42"/>
<line x1="1895.02" y1="28.20" x2="1895.02" y2="50.94" stroke="#27343c" stroke-width="1.0" opacity="0.85"/>
<rect x="1893.57" y="30.82" width="2.90" height="5.28" fill="#fff" stroke="#1a1a1a" stroke-width="0.8" />
<path d="M1905.2,27.7 L1902.5,29.0 L1901.4,30.2 L1901.0,31.5 L1901.5,32.7 L1902.0,34.0 L1902.5,35.3 L1903.1,36.5 L1903.6,37.8 L1904.1,39.0 L1904.5,40.3 L1905.0,41.5 L1905.4,42.8 L1905.8,44.1 L1906.2,45.3 L1906.4,46.6 L1906.4,47.8 L1907.3,47.8 L1907.3,46.6 L1907.4,45.3 L1907.8,44.1 L1908.2,42.8 L1908.6,41.5 L1909.1,40.3 L1909.6,39.0 L1910.1,37.8 L1910.6,36.5 L1911.1,35.3 L1911.6,34.0 L1912.2,32.7 L1912.6,31.5 L1912.2,30.2 L1911.2,29.0 L1908.5,27.7Z" fill="#E2A76D"/>
<polygon points="1906.3,47.8 1907.3,47.8 1907.1,180.2 1906.6,180.2" fill="#E2A76D" opacity="0.42"/>
<line x1="1906.82" y1="28.20" x2="1906.82" y2="58.12" stroke="#5a3a22" stroke-width="1.0" opacity="0.85"/>
<rect x="1905.37" y="29.63" width="2.90" height="9.34" fill="#fff" stroke="#1a1a1a" stroke-width="0.8" />
<line x1="1905.37" y1="33.18" x2="1908.27" y2="33.18" stroke="#1a1a1a" stroke-width="0.9" />
<path d="M1912.8,27.7 L1913.2,30.2 L1913.7,32.7 L1914.1,35.2 L1914.5,37.7 L1914.9,40.2 L1915.3,42.7 L1915.7,45.2 L1916.1,47.7 L1916.5,50.2 L1916.9,52.7 L1917.2,55.2 L1917.6,57.7 L1917.9,60.2 L1918.3,62.7 L1918.4,65.2 L1918.4,67.7 L1919.3,67.7 L1919.3,65.2 L1919.4,62.7 L1919.7,60.2 L1920.0,57.7 L1920.4,55.2 L1920.8,52.7 L1921.1,50.2 L1921.5,47.7 L1921.9,45.2 L1922.3,42.7 L1922.7,40.2 L1923.1,37.7 L1923.5,35.2 L1924.0,32.7 L1924.4,30.2 L1924.8,27.7Z" fill="#3AAADA"/>
<polygon points="1918.3,67.7 1919.3,67.7 1919.1,232.4 1918.6,232.4" fill="#3AAADA" opacity="0.42"/>
<line x1="1918.82" y1="28.20" x2="1918.82" y2="94.03" stroke="#1b4f68" stroke-width="1.0" opacity="0.85"/>
<rect x="1917.37" y="31.42" width="2.90" height="15.69" fill="#fff" stroke="#1a1a1a" stroke-width="0.8" />
<line x1="1917.37" y1="37.38" x2="1920.27" y2="37.38" stroke="#1a1a1a" stroke-width="0.9" />
<line x1="1906.82" y1="268.40" x2="1906.82" y2="277.60" stroke="#333333" stroke-width="4" />
<text font-size="25" text-anchor="end" fill="#000" transform="translate(1913.82,288.00) rotate(-90)" >Blood</text>
<path d="M1930.9,27.7 L1931.3,29.2 L1931.8,30.6 L1932.2,32.1 L1932.6,33.5 L1933.0,35.0 L1933.4,36.4 L1933.8,37.9 L1934.2,39.3 L1934.6,40.8 L1935.0,42.2 L1935.3,43.7 L1935.7,45.1 L1936.0,46.6 L1936.4,48.0 L1936.5,49.5 L1936.5,50.9 L1937.4,50.9 L1937.4,49.5 L1937.4,48.0 L1937.8,46.6 L1938.1,45.1 L1938.5,43.7 L1938.8,42.2 L1939.2,40.8 L1939.6,39.3 L1940.0,37.9 L1940.4,36.4 L1940.8,35.0 L1941.2,33.5 L1941.6,32.1 L1942.0,30.6 L1942.5,29.2 L1942.9,27.7Z" fill="#4F5D66"/>
<polygon points="1936.4,50.9 1937.4,50.9 1937.2,199.4 1936.7,199.4" fill="#4F5D66" opacity="0.42"/>
<line x1="1936.90" y1="28.20" x2="1936.90" y2="63.87" stroke="#27343c" stroke-width="1.0" opacity="0.85"/>
<rect x="1935.45" y="31.73" width="2.90" height="6.53" fill="#fff" stroke="#1a1a1a" stroke-width="0.8" />
<line x1="1935.45" y1="34.21" x2="1938.35" y2="34.21" stroke="#1a1a1a" stroke-width="0.9" />
<path d="M1947.0,27.7 L1944.2,29.6 L1943.1,31.5 L1942.7,33.4 L1943.2,35.3 L1943.7,37.2 L1944.3,39.1 L1944.8,41.0 L1945.3,42.9 L1945.8,44.8 L1946.3,46.7 L1946.8,48.6 L1947.3,50.5 L1947.7,52.4 L1948.1,54.3 L1948.2,56.2 L1948.2,58.1 L1949.2,58.1 L1949.2,56.2 L1949.3,54.3 L1949.7,52.4 L1950.1,50.5 L1950.6,48.6 L1951.1,46.7 L1951.6,44.8 L1952.1,42.9 L1952.6,41.0 L1953.1,39.1 L1953.7,37.2 L1954.2,35.3 L1954.7,33.4 L1954.3,31.5 L1953.2,29.6 L1950.4,27.7Z" fill="#E2A76D"/>
<polygon points="1948.2,58.1 1949.2,58.1 1949.0,216.1 1948.5,216.1" fill="#E2A76D" opacity="0.42"/>
<line x1="1948.70" y1="28.20" x2="1948.70" y2="67.70" stroke="#5a3a22" stroke-width="1.0" opacity="0.85"/>
<rect x="1947.25" y="31.11" width="2.90" height="14.57" fill="#fff" stroke="#1a1a1a" stroke-width="0.8" />
<line x1="1947.25" y1="36.64" x2="1950.15" y2="36.64" stroke="#1a1a1a" stroke-width="0.9" />
<path d="M1954.7,27.7 L1955.1,31.2 L1955.6,34.6 L1956.0,38.0 L1956.4,41.5 L1956.8,44.9 L1957.2,48.4 L1957.6,51.8 L1958.0,55.2 L1958.4,58.7 L1958.8,62.1 L1959.1,65.6 L1959.5,69.0 L1959.8,72.5 L1960.2,75.9 L1960.2,79.3 L1960.2,82.8 L1961.2,82.8 L1961.2,79.3 L1961.2,75.9 L1961.6,72.5 L1961.9,69.0 L1962.3,65.6 L1962.6,62.1 L1963.0,58.7 L1963.4,55.2 L1963.8,51.8 L1964.2,48.4 L1964.6,44.9 L1965.0,41.5 L1965.4,38.0 L1965.8,34.6 L1966.3,31.2 L1966.7,27.7Z" fill="#3AAADA"/>
<polygon points="1960.2,82.8 1961.2,82.8 1961.0,254.4 1960.5,254.4" fill="#3AAADA" opacity="0.42"/>
<line x1="1960.70" y1="28.20" x2="1960.70" y2="91.64" stroke="#1b4f68" stroke-width="1.0" opacity="0.85"/>
<rect x="1959.25" y="33.32" width="2.90" height="22.41" fill="#fff" stroke="#1a1a1a" stroke-width="0.8" />
<line x1="1959.25" y1="41.84" x2="1962.15" y2="41.84" stroke="#1a1a1a" stroke-width="0.9" />
<line x1="1948.70" y1="268.40" x2="1948.70" y2="277.60" stroke="#333333" stroke-width="4" />
<text font-size="25" text-anchor="end" fill="#000" transform="translate(1955.70,288.00) rotate(-90)" >Brain</text>
<path d="M1973.0,27.7 L1973.4,28.6 L1973.8,29.5 L1974.2,30.4 L1974.6,31.3 L1975.0,32.2 L1975.4,33.1 L1975.8,34.0 L1976.2,34.9 L1976.5,35.8 L1976.9,36.7 L1977.3,37.6 L1977.6,38.5 L1977.9,39.4 L1978.2,40.3 L1978.3,41.2 L1978.3,42.1 L1979.2,42.1 L1979.2,41.2 L1979.3,40.3 L1979.6,39.4 L1980.0,38.5 L1980.3,37.6 L1980.7,36.7 L1981.0,35.8 L1981.4,34.9 L1981.8,34.0 L1982.2,33.1 L1982.5,32.2 L1982.9,31.3 L1983.3,30.4 L1983.8,29.5 L1984.2,28.6 L1984.6,27.7Z" fill="#4F5D66"/>
<polygon points="1978.3,42.1 1979.3,42.1 1979.0,139.5 1978.5,139.5" fill="#4F5D66" opacity="0.42"/>
<line x1="1978.78" y1="28.20" x2="1978.78" y2="48.55" stroke="#27343c" stroke-width="1.0" opacity="0.85"/>
<rect x="1977.33" y="30.52" width="2.90" height="4.86" fill="#fff" stroke="#1a1a1a" stroke-width="0.8" />
<path d="M1988.9,27.7 L1986.2,29.1 L1985.2,30.4 L1984.8,31.8 L1985.2,33.1 L1985.8,34.5 L1986.3,35.8 L1986.8,37.1 L1987.3,38.5 L1987.8,39.8 L1988.3,41.2 L1988.8,42.5 L1989.2,43.9 L1989.6,45.2 L1990.0,46.6 L1990.1,47.9 L1990.1,49.3 L1991.0,49.3 L1991.0,47.9 L1991.2,46.6 L1991.6,45.2 L1992.0,43.9 L1992.4,42.5 L1992.9,41.2 L1993.3,39.8 L1993.8,38.5 L1994.3,37.1 L1994.9,35.8 L1995.4,34.5 L1995.9,33.1 L1996.4,31.8 L1996.0,30.4 L1994.9,29.1 L1992.2,27.7Z" fill="#E2A76D"/>
<polygon points="1990.1,49.3 1991.1,49.3 1990.8,164.2 1990.3,164.2" fill="#E2A76D" opacity="0.42"/>
<line x1="1990.58" y1="28.20" x2="1990.58" y2="60.99" stroke="#5a3a22" stroke-width="1.0" opacity="0.85"/>
<rect x="1989.13" y="30.16" width="2.90" height="11.20" fill="#fff" stroke="#1a1a1a" stroke-width="0.8" />
<line x1="1989.13" y1="34.42" x2="1992.03" y2="34.42" stroke="#1a1a1a" stroke-width="0.9" />
<path d="M2000.9,27.7 L1998.1,29.3 L1997.0,30.9 L1996.6,32.5 L1997.0,34.1 L1997.6,35.7 L1998.2,37.3 L1998.7,38.9 L1999.2,40.5 L1999.7,42.1 L2000.2,43.7 L2000.7,45.3 L2001.1,46.9 L2001.6,48.5 L2002.0,50.1 L2002.1,51.7 L2002.1,53.3 L2003.0,53.3 L2003.0,51.7 L2003.2,50.1 L2003.6,48.5 L2004.0,46.9 L2004.5,45.3 L2004.9,43.7 L2005.4,42.1 L2005.9,40.5 L2006.5,38.9 L2007.0,37.3 L2007.6,35.7 L2008.1,34.1 L2008.6,32.5 L2008.2,30.9 L2007.1,29.3 L2004.3,27.7Z" fill="#3AAADA"/>
<polygon points="2002.1,53.3 2003.1,53.3 2002.8,218.5 2002.3,218.5" fill="#3AAADA" opacity="0.42"/>
<line x1="2002.58" y1="28.20" x2="2002.58" y2="71.05" stroke="#1b4f68" stroke-width="1.0" opacity="0.85"/>
<rect x="2001.13" y="31.42" width="2.90" height="15.69" fill="#fff" stroke="#1a1a1a" stroke-width="0.8" />
<line x1="2001.13" y1="37.38" x2="2004.03" y2="37.38" stroke="#1a1a1a" stroke-width="0.9" />
<line x1="1990.58" y1="268.40" x2="1990.58" y2="277.60" stroke="#333333" stroke-width="4" />
<text font-size="25" text-anchor="end" fill="#000" transform="translate(1997.58,288.00) rotate(-90)" >Liver</text>
<path d="M2014.9,27.7 L2015.3,31.2 L2015.7,34.6 L2016.1,38.0 L2016.5,41.5 L2016.9,44.9 L2017.3,48.4 L2017.7,51.8 L2018.0,55.2 L2018.4,58.7 L2018.8,62.1 L2019.1,65.6 L2019.5,69.0 L2019.8,72.5 L2020.1,75.9 L2020.2,79.3 L2020.2,82.8 L2021.1,82.8 L2021.1,79.3 L2021.2,75.9 L2021.5,72.5 L2021.8,69.0 L2022.2,65.6 L2022.5,62.1 L2022.9,58.7 L2023.3,55.2 L2023.7,51.8 L2024.0,48.4 L2024.4,44.9 L2024.8,41.5 L2025.2,38.0 L2025.6,34.6 L2026.0,31.2 L2026.5,27.7Z" fill="#4F5D66"/>
<polygon points="2020.2,82.8 2021.2,82.8 2020.9,136.4 2020.4,136.4" fill="#4F5D66" opacity="0.42"/>
<line x1="2020.66" y1="28.20" x2="2020.66" y2="97.14" stroke="#27343c" stroke-width="1.0" opacity="0.85"/>
<rect x="2019.21" y="37.56" width="2.90" height="14.58" fill="#fff" stroke="#1a1a1a" stroke-width="0.8" />
<line x1="2019.21" y1="43.10" x2="2022.11" y2="43.10" stroke="#1a1a1a" stroke-width="0.9" />
<path d="M2030.7,27.7 L2027.8,31.7 L2026.7,35.7 L2026.3,39.7 L2026.7,43.7 L2027.3,47.7 L2027.9,51.7 L2028.4,55.7 L2029.0,59.7 L2029.5,63.7 L2030.0,67.7 L2030.5,71.7 L2031.0,75.7 L2031.4,79.7 L2031.8,83.6 L2032.0,87.6 L2032.0,91.6 L2032.9,91.6 L2032.9,87.6 L2033.1,83.6 L2033.5,79.7 L2033.9,75.7 L2034.4,71.7 L2034.9,67.7 L2035.4,63.7 L2035.9,59.7 L2036.5,55.7 L2037.0,51.7 L2037.6,47.7 L2038.2,43.7 L2038.6,39.7 L2038.2,35.7 L2037.1,31.7 L2034.2,27.7Z" fill="#E2A76D"/>
<polygon points="2032.0,91.6 2033.0,91.6 2032.7,236.7 2032.2,236.7" fill="#E2A76D" opacity="0.42"/>
<line x1="2032.46" y1="28.20" x2="2032.46" y2="94.03" stroke="#5a3a22" stroke-width="1.0" opacity="0.85"/>
<rect x="2031.01" y="33.85" width="2.90" height="24.28" fill="#fff" stroke="#1a1a1a" stroke-width="0.8" />
<line x1="2031.01" y1="43.07" x2="2033.91" y2="43.07" stroke="#1a1a1a" stroke-width="0.9" />
<path d="M2038.2,27.7 L2038.2,34.8 L2038.2,41.8 L2038.2,48.9 L2038.2,56.0 L2038.2,63.0 L2038.2,70.1 L2038.2,77.2 L2038.7,84.2 L2039.3,91.3 L2040.0,98.3 L2040.7,105.4 L2041.4,112.5 L2042.1,119.5 L2042.8,126.6 L2043.6,133.7 L2044.0,140.7 L2044.9,140.7 L2045.3,133.7 L2046.1,126.6 L2046.9,119.5 L2047.6,112.5 L2048.2,105.4 L2048.9,98.3 L2049.6,91.3 L2050.2,84.2 L2050.8,77.2 L2050.8,70.1 L2050.8,63.0 L2050.8,56.0 L2050.8,48.9 L2050.8,41.8 L2050.8,34.8 L2050.8,27.7Z" fill="#3AAADA"/>
<polygon points="2044.0,140.7 2045.0,140.7 2044.7,238.2 2044.2,238.2" fill="#3AAADA" opacity="0.42"/>
<line x1="2044.46" y1="28.20" x2="2044.46" y2="140.71" stroke="#1b4f68" stroke-width="1.0" opacity="0.85"/>
<rect x="2043.01" y="44.91" width="2.90" height="34.76" fill="#fff" stroke="#1a1a1a" stroke-width="0.8" />
<line x1="2043.01" y1="58.12" x2="2045.91" y2="58.12" stroke="#1a1a1a" stroke-width="0.9" />
<line x1="2032.46" y1="268.40" x2="2032.46" y2="277.60" stroke="#333333" stroke-width="4" />
<text font-size="25" text-anchor="end" fill="#000" transform="translate(2039.46,288.00) rotate(-90)" >Embryo</text>
<path d="M2060.8,27.7 L2058.0,29.2 L2056.9,30.8 L2056.6,32.3 L2057.0,33.8 L2057.6,35.3 L2058.1,36.9 L2058.6,38.4 L2059.2,39.9 L2059.7,41.5 L2060.2,43.0 L2060.6,44.5 L2061.1,46.0 L2061.5,47.6 L2061.9,49.1 L2062.1,50.6 L2062.1,52.1 L2063.0,52.1 L2063.0,50.6 L2063.2,49.1 L2063.6,47.6 L2064.0,46.0 L2064.4,44.5 L2064.9,43.0 L2065.4,41.5 L2065.9,39.9 L2066.4,38.4 L2067.0,36.9 L2067.5,35.3 L2068.1,33.8 L2068.5,32.3 L2068.1,30.8 L2067.1,29.2 L2064.2,27.7Z" fill="#4F5D66"/>
<polygon points="2062.0,52.1 2063.0,52.1 2062.8,190.3 2062.3,190.3" fill="#4F5D66" opacity="0.42"/>
<line x1="2062.54" y1="28.20" x2="2062.54" y2="56.92" stroke="#27343c" stroke-width="1.0" opacity="0.85"/>
<rect x="2061.09" y="33.03" width="2.90" height="8.33" fill="#fff" stroke="#1a1a1a" stroke-width="0.8" />
<line x1="2061.09" y1="36.20" x2="2063.99" y2="36.20" stroke="#1a1a1a" stroke-width="0.9" />
<path d="M2072.6,27.7 L2069.8,29.8 L2068.7,31.9 L2068.4,34.0 L2068.8,36.0 L2069.4,38.1 L2069.9,40.2 L2070.4,42.3 L2071.0,44.4 L2071.5,46.4 L2072.0,48.5 L2072.4,50.6 L2072.9,52.7 L2073.3,54.8 L2073.7,56.8 L2073.9,58.9 L2073.9,61.0 L2074.8,61.0 L2074.8,58.9 L2075.0,56.8 L2075.4,54.8 L2075.8,52.7 L2076.2,50.6 L2076.7,48.5 L2077.2,46.4 L2077.7,44.4 L2078.2,42.3 L2078.8,40.2 L2079.3,38.1 L2079.9,36.0 L2080.3,34.0 L2079.9,31.9 L2078.9,29.8 L2076.0,27.7Z" fill="#E2A76D"/>
<polygon points="2073.8,61.0 2074.8,61.0 2074.6,210.6 2074.1,210.6" fill="#E2A76D" opacity="0.42"/>
<line x1="2074.34" y1="28.20" x2="2074.34" y2="74.88" stroke="#5a3a22" stroke-width="1.0" opacity="0.85"/>
<rect x="2072.89" y="31.90" width="2.90" height="17.37" fill="#fff" stroke="#1a1a1a" stroke-width="0.8" />
<line x1="2072.89" y1="38.50" x2="2075.79" y2="38.50" stroke="#1a1a1a" stroke-width="0.9" />
<path d="M2084.6,27.7 L2081.6,31.2 L2080.5,34.6 L2080.1,38.0 L2080.5,41.5 L2081.1,44.9 L2081.7,48.4 L2082.3,51.8 L2082.8,55.2 L2083.3,58.7 L2083.9,62.1 L2084.4,65.6 L2084.8,69.0 L2085.3,72.5 L2085.7,75.9 L2085.9,79.3 L2085.9,82.8 L2086.8,82.8 L2086.8,79.3 L2087.0,75.9 L2087.4,72.5 L2087.9,69.0 L2088.3,65.6 L2088.8,62.1 L2089.3,58.7 L2089.9,55.2 L2090.4,51.8 L2091.0,48.4 L2091.6,44.9 L2092.2,41.5 L2092.6,38.0 L2092.2,34.6 L2091.1,31.2 L2088.1,27.7Z" fill="#3AAADA"/>
<polygon points="2085.8,82.8 2086.8,82.8 2086.6,225.2 2086.1,225.2" fill="#3AAADA" opacity="0.42"/>
<line x1="2086.34" y1="28.20" x2="2086.34" y2="95.71" stroke="#1b4f68" stroke-width="1.0" opacity="0.85"/>
<rect x="2084.89" y="34.32" width="2.90" height="25.96" fill="#fff" stroke="#1a1a1a" stroke-width="0.8" />
<line x1="2084.89" y1="44.18" x2="2087.79" y2="44.18" stroke="#1a1a1a" stroke-width="0.9" />
<line x1="2074.34" y1="268.40" x2="2074.34" y2="277.60" stroke="#333333" stroke-width="4" />
<text font-size="25" text-anchor="end" fill="#000" transform="translate(2081.34,288.00) rotate(-90)" >Muscle</text>
<line x1="667.90" y1="25.00" x2="667.90" y2="268.50" stroke="#000" stroke-width="4.2" />
<line x1="665.80" y1="266.40" x2="2100.00" y2="266.40" stroke="#000" stroke-width="4.2" />
<line x1="656.30" y1="27.10" x2="670.00" y2="27.10" stroke="#333333" stroke-width="4" />
<text font-size="29.17" text-anchor="end" fill="#000" x="645.90" y="38.10" >1</text>
<line x1="656.30" y1="74.96" x2="665.90" y2="74.96" stroke="#333333" stroke-width="4" />
<text font-size="29.17" text-anchor="end" fill="#000" x="645.90" y="85.96" >0.8</text>
<line x1="656.30" y1="122.82" x2="665.90" y2="122.82" stroke="#333333" stroke-width="4" />
<text font-size="29.17" text-anchor="end" fill="#000" x="645.90" y="133.82" >0.6</text>
<line x1="656.30" y1="170.68" x2="665.90" y2="170.68" stroke="#333333" stroke-width="4" />
<text font-size="29.17" text-anchor="end" fill="#000" x="645.90" y="181.68" >0.4</text>
<line x1="656.30" y1="218.54" x2="665.90" y2="218.54" stroke="#333333" stroke-width="4" />
<text font-size="29.17" text-anchor="end" fill="#000" x="645.90" y="229.54" >0.2</text>
<line x1="656.30" y1="266.40" x2="665.90" y2="266.40" stroke="#333333" stroke-width="4" />
<text font-size="29.17" text-anchor="end" fill="#000" x="645.90" y="277.40" >0</text>
<line x1="656.30" y1="266.40" x2="665.90" y2="266.40" stroke="#333333" stroke-width="4" />
<text font-size="25" text-anchor="middle" fill="#000" transform="translate(561.70,146.00) rotate(-90)" >Correlation between</text>
<text font-size="25" text-anchor="middle" fill="#000" transform="translate(590.70,146.00) rotate(-90)" >TensorQTL and fastGWA</text>
<rect x="777.30" y="190.20" width="20.70" height="20.30" fill="#4F5D66" stroke="none" stroke-width="1" />
<line x1="787.65" y1="190.20" x2="787.65" y2="210.50" stroke="#27343c" stroke-width="1" />
<rect x="779.90" y="194.80" width="15.30" height="10.90" fill="#fff" stroke="#27343c" stroke-width="1.2" />
<line x1="779.90" y1="200.25" x2="795.20" y2="200.25" stroke="#27343c" stroke-width="1.2" />
<text font-size="20.83" text-anchor="start" fill="#000" x="808.60" y="207.20" >Z−score</text>
<rect x="777.30" y="210.50" width="20.70" height="20.70" fill="#E2A76D" stroke="none" stroke-width="1" />
<line x1="787.65" y1="210.50" x2="787.65" y2="231.20" stroke="#5a3a22" stroke-width="1" />
<rect x="779.90" y="215.20" width="15.30" height="11.00" fill="#fff" stroke="#5a3a22" stroke-width="1.2" />
<line x1="779.90" y1="220.70" x2="795.20" y2="220.70" stroke="#5a3a22" stroke-width="1.2" />
<text font-size="20.83" text-anchor="start" fill="#000" x="808.60" y="227.80" >Slope</text>
<rect x="777.30" y="231.20" width="20.70" height="26.20" fill="#3AAADA" stroke="none" stroke-width="1" />
<line x1="787.65" y1="231.20" x2="787.65" y2="257.40" stroke="#1b4f68" stroke-width="1" />
<rect x="779.90" y="238.50" width="15.30" height="13.50" fill="#fff" stroke="#1b4f68" stroke-width="1.2" />
<line x1="779.90" y1="245.25" x2="795.20" y2="245.25" stroke="#1b4f68" stroke-width="1.2" />
<text font-size="20.83" text-anchor="start" fill="#000" x="808.60" y="250.10" >−<tspan dx="2">log</tspan><tspan font-size="14.6" dy="4">10</tspan><tspan dy="-4" font-size="20.83">&#8203;</tspan>(<tspan font-style="italic">P</tspan>)</text>
<text font-size="40" text-anchor="start" fill="#231815" font-weight="bold" x="0.00" y="553.80" >c</text>
<path d="M160.9,942.6V942.3H164.5V942.3H168.0V942.3H171.6V942.3H175.2V942.3H178.8V942.2H182.4V942.2H186.0V942.2H189.5V942.2H193.1V942.2H196.7V942.2H200.3V942.2H203.9V942.1H207.5V942.1H211.0V942.1H214.6V942.1H218.2V942.1H221.8V942.1H225.4V942.0H228.9V942.0H232.5V942.0H236.1V942.0H239.7V942.0H243.3V941.9H246.9V941.9H250.4V941.9H254.0V941.9H257.6V941.8H261.2V941.8H264.8V941.8H268.4V941.7H271.9V941.7H275.5V941.7H279.1V941.6H282.7V941.6H286.3V941.6H289.9V941.5H293.4V941.5H297.0V941.5H300.6V941.4H304.2V941.4H307.8V941.3H311.4V941.3H314.9V941.2H318.5V941.2H322.1V941.1H325.7V941.0H329.3V940.9H332.9V940.8H336.4V940.7H340.0V940.6H343.6V940.5H347.2V940.4H350.8V940.2H354.4V940.1H357.9V940.0H361.5V939.8H365.1V939.7H368.7V939.5H372.3V939.4H375.9V939.2H379.4V939.0H383.0V938.8H386.6V938.6H390.2V938.3H393.8V938.1H397.4V937.9H400.9V937.6H404.5V937.3H408.1V936.6H411.7V935.7H415.3V934.7H418.8V933.5H422.4V932.2H426.0V930.7H429.6V929.0H433.2V927.0H436.8V924.7H440.3V922.1H443.9V917.5H447.5V913.1H451.1V907.1H454.7V898.7H458.3V889.6H461.8V878.6H465.4V862.6H469.0V839.9H472.6V811.0H476.2V771.9H479.8V714.6H483.3V635.9H486.9V580.0H490.5V878.2H494.1V942.6Z" fill="#595959"/>
<line x1="486.90" y1="561.00" x2="486.90" y2="961.00" stroke="#D8232A" stroke-width="2" stroke-dasharray="7.6,4.4"/>
<text font-size="24.3" text-anchor="end" fill="#D8232A" x="479.00" y="619.80" >Median = 0.99</text>
<line x1="116.20" y1="561.40" x2="116.20" y2="963.10" stroke="#000" stroke-width="4.3" />
<line x1="114.10" y1="961.00" x2="509.50" y2="961.00" stroke="#000" stroke-width="4.2" />
<line x1="104.40" y1="942.80" x2="114.20" y2="942.80" stroke="#333333" stroke-width="3.8" />
<text font-size="29.17" text-anchor="end" fill="#000" x="95.50" y="953.60" >0</text>
<line x1="104.40" y1="804.30" x2="114.20" y2="804.30" stroke="#333333" stroke-width="3.8" />
<text font-size="29.17" text-anchor="end" fill="#000" x="95.50" y="815.10" >5</text>
<line x1="104.40" y1="665.80" x2="114.20" y2="665.80" stroke="#333333" stroke-width="3.8" />
<text font-size="29.17" text-anchor="end" fill="#000" x="95.50" y="676.60" >10</text>
<line x1="134.00" y1="963.00" x2="134.00" y2="971.80" stroke="#333333" stroke-width="3.8" />
<text font-size="29.17" text-anchor="middle" fill="#000" x="134.00" y="1002.40" >0.00</text>
<line x1="223.57" y1="963.00" x2="223.57" y2="971.80" stroke="#333333" stroke-width="3.8" />
<text font-size="29.17" text-anchor="middle" fill="#000" x="223.57" y="1002.40" >0.25</text>
<line x1="313.15" y1="963.00" x2="313.15" y2="971.80" stroke="#333333" stroke-width="3.8" />
<text font-size="29.17" text-anchor="middle" fill="#000" x="313.15" y="1002.40" >0.50</text>
<line x1="402.73" y1="963.00" x2="402.73" y2="971.80" stroke="#333333" stroke-width="3.8" />
<text font-size="29.17" text-anchor="middle" fill="#000" x="402.73" y="1002.40" >0.75</text>
<line x1="492.30" y1="963.00" x2="492.30" y2="971.80" stroke="#333333" stroke-width="3.8" />
<text font-size="29.17" text-anchor="middle" fill="#000" x="492.30" y="1002.40" >1.00</text>
<text font-size="29.17" text-anchor="middle" fill="#000" x="313.00" y="1040.80" >Correlation of Z−score</text>
<text font-size="29.17" text-anchor="middle" fill="#000" transform="translate(45.60,761.00) rotate(-90)" >Count (x10000)</text>
<text font-size="40" text-anchor="start" fill="#231815" font-weight="bold" x="531.00" y="553.80" >d</text>
<polygon points="678.4,731.2 687.2,734.9 696.0,724.9 699.7,693.4 706.0,668.3 718.6,644.7 734.3,631.2 750.0,623.0 768.9,615.5 797.2,607.6 828.6,601.0 860.0,595.1 891.5,590.3 911.9,587.2 919.8,580.3 911.9,574.0 875.7,571.2 781.5,570.5 680.9,570.5 677.7,574.0" fill="#000"/>
<g fill="#000" fill-opacity="0.2"><circle cx="722.1" cy="645.7" r="9"/><circle cx="771.8" cy="622.5" r="9"/><circle cx="694.0" cy="728.2" r="9"/><circle cx="693.1" cy="725.8" r="9"/><circle cx="741.8" cy="628.2" r="9"/><circle cx="806.1" cy="609.4" r="9"/><circle cx="788.9" cy="624.5" r="9"/><circle cx="901.4" cy="602.3" r="9"/><circle cx="702.3" cy="699.6" r="9"/><circle cx="703.7" cy="686.8" r="9"/><circle cx="808.0" cy="611.1" r="9"/><circle cx="694.3" cy="729.9" r="9"/><circle cx="827.3" cy="607.2" r="9"/><circle cx="748.6" cy="625.9" r="9"/><circle cx="871.7" cy="595.2" r="9"/><circle cx="770.0" cy="620.8" r="9"/><circle cx="844.7" cy="602.6" r="9"/><circle cx="751.1" cy="641.5" r="9"/><circle cx="701.1" cy="695.2" r="9"/><circle cx="858.6" cy="595.6" r="9"/><circle cx="902.6" cy="593.7" r="9"/><circle cx="789.2" cy="619.7" r="9"/><circle cx="894.7" cy="598.6" r="9"/><circle cx="695.9" cy="728.2" r="9"/><circle cx="816.4" cy="616.7" r="9"/><circle cx="735.6" cy="631.5" r="9"/><circle cx="688.9" cy="733.7" r="9"/><circle cx="695.5" cy="727.7" r="9"/><circle cx="700.4" cy="703.5" r="9"/><circle cx="697.9" cy="726.6" r="9"/><circle cx="779.7" cy="622.4" r="9"/><circle cx="716.7" cy="659.0" r="9"/><circle cx="732.8" cy="644.7" r="9"/><circle cx="704.1" cy="692.4" r="9"/><circle cx="708.6" cy="672.9" r="9"/><circle cx="687.4" cy="734.8" r="9"/><circle cx="738.9" cy="644.8" r="9"/><circle cx="767.4" cy="623.4" r="9"/><circle cx="831.6" cy="615.6" r="9"/><circle cx="903.9" cy="594.6" r="9"/><circle cx="737.7" cy="632.2" r="9"/><circle cx="692.6" cy="727.7" r="9"/><circle cx="703.1" cy="677.4" r="9"/><circle cx="686.8" cy="737.1" r="9"/><circle cx="699.4" cy="715.3" r="9"/><circle cx="795.6" cy="608.8" r="9"/><circle cx="709.1" cy="664.0" r="9"/><circle cx="898.3" cy="596.0" r="9"/><circle cx="750.5" cy="624.9" r="9"/><circle cx="724.7" cy="638.8" r="9"/><circle cx="887.2" cy="592.2" r="9"/><circle cx="765.3" cy="617.5" r="9"/><circle cx="777.4" cy="622.0" r="9"/><circle cx="898.0" cy="591.2" r="9"/><circle cx="713.4" cy="660.7" r="9"/><circle cx="770.4" cy="618.6" r="9"/><circle cx="726.4" cy="642.3" r="9"/><circle cx="903.1" cy="603.6" r="9"/><circle cx="880.4" cy="592.4" r="9"/><circle cx="728.1" cy="639.7" r="9"/><circle cx="691.6" cy="731.7" r="9"/><circle cx="918.9" cy="590.3" r="9"/><circle cx="925.0" cy="605.7" r="9"/><circle cx="704.3" cy="672.4" r="9"/><circle cx="706.2" cy="681.0" r="9"/><circle cx="895.2" cy="600.6" r="9"/><circle cx="813.9" cy="605.2" r="9"/><circle cx="911.7" cy="590.9" r="9"/><circle cx="856.4" cy="600.8" r="9"/><circle cx="725.4" cy="640.8" r="9"/><circle cx="923.2" cy="589.4" r="9"/><circle cx="842.8" cy="602.7" r="9"/><circle cx="702.7" cy="708.8" r="9"/><circle cx="704.9" cy="702.9" r="9"/><circle cx="920.6" cy="586.2" r="9"/><circle cx="697.9" cy="705.5" r="9"/><circle cx="922.6" cy="588.8" r="9"/><circle cx="749.4" cy="631.1" r="9"/><circle cx="883.1" cy="592.9" r="9"/><circle cx="709.9" cy="668.3" r="9"/><circle cx="714.0" cy="661.5" r="9"/><circle cx="728.6" cy="637.8" r="9"/><circle cx="790.7" cy="616.1" r="9"/><circle cx="762.1" cy="622.4" r="9"/><circle cx="767.4" cy="623.0" r="9"/><circle cx="689.3" cy="734.8" r="9"/><circle cx="705.2" cy="693.3" r="9"/><circle cx="723.2" cy="642.7" r="9"/><circle cx="775.8" cy="614.4" r="9"/><circle cx="709.0" cy="664.8" r="9"/><circle cx="868.2" cy="603.9" r="9"/><circle cx="909.1" cy="588.1" r="9"/><circle cx="801.7" cy="615.3" r="9"/><circle cx="748.4" cy="624.2" r="9"/><circle cx="760.9" cy="629.2" r="9"/><circle cx="915.4" cy="589.9" r="9"/><circle cx="781.4" cy="623.9" r="9"/><circle cx="699.3" cy="708.9" r="9"/><circle cx="696.4" cy="725.5" r="9"/><circle cx="869.8" cy="596.9" r="9"/><circle cx="698.7" cy="694.4" r="9"/><circle cx="910.4" cy="599.8" r="9"/><circle cx="707.4" cy="675.8" r="9"/><circle cx="921.9" cy="583.6" r="9"/><circle cx="702.0" cy="695.0" r="9"/><circle cx="703.5" cy="681.7" r="9"/><circle cx="845.8" cy="607.2" r="9"/><circle cx="688.7" cy="733.0" r="9"/><circle cx="804.5" cy="609.2" r="9"/><circle cx="870.3" cy="594.1" r="9"/><circle cx="698.8" cy="713.6" r="9"/><circle cx="711.4" cy="657.3" r="9"/><circle cx="745.8" cy="635.2" r="9"/><circle cx="703.8" cy="698.8" r="9"/><circle cx="779.0" cy="613.0" r="9"/><circle cx="828.2" cy="604.1" r="9"/><circle cx="699.6" cy="729.6" r="9"/><circle cx="699.2" cy="723.8" r="9"/><circle cx="695.4" cy="728.5" r="9"/><circle cx="779.4" cy="618.9" r="9"/><circle cx="713.0" cy="660.5" r="9"/><circle cx="697.7" cy="714.6" r="9"/><circle cx="692.4" cy="729.1" r="9"/><circle cx="858.6" cy="601.6" r="9"/><circle cx="758.4" cy="621.5" r="9"/><circle cx="709.0" cy="665.7" r="9"/><circle cx="847.8" cy="602.1" r="9"/><circle cx="912.1" cy="587.8" r="9"/><circle cx="886.9" cy="599.8" r="9"/><circle cx="737.6" cy="632.7" r="9"/><circle cx="832.1" cy="607.4" r="9"/><circle cx="835.6" cy="600.6" r="9"/><circle cx="737.1" cy="630.0" r="9"/><circle cx="697.0" cy="726.6" r="9"/><circle cx="712.4" cy="661.6" r="9"/><circle cx="900.5" cy="592.1" r="9"/><circle cx="714.3" cy="652.8" r="9"/><circle cx="701.7" cy="695.3" r="9"/><circle cx="718.4" cy="669.3" r="9"/><circle cx="712.2" cy="666.7" r="9"/><circle cx="718.5" cy="644.5" r="9"/><circle cx="753.4" cy="621.9" r="9"/><circle cx="702.6" cy="678.4" r="9"/><circle cx="696.1" cy="719.6" r="9"/><circle cx="692.2" cy="732.0" r="9"/><circle cx="786.8" cy="611.4" r="9"/><circle cx="858.1" cy="602.5" r="9"/><circle cx="738.5" cy="637.2" r="9"/><circle cx="923.8" cy="589.4" r="9"/><circle cx="696.3" cy="733.1" r="9"/><circle cx="910.7" cy="597.2" r="9"/><circle cx="701.7" cy="703.5" r="9"/><circle cx="765.4" cy="623.9" r="9"/><circle cx="793.5" cy="620.2" r="9"/><circle cx="823.4" cy="603.5" r="9"/><circle cx="699.5" cy="704.3" r="9"/><circle cx="699.3" cy="715.6" r="9"/><circle cx="806.8" cy="613.5" r="9"/><circle cx="764.2" cy="630.1" r="9"/><circle cx="760.5" cy="619.2" r="9"/><circle cx="819.9" cy="613.5" r="9"/><circle cx="695.8" cy="727.3" r="9"/><circle cx="848.1" cy="601.3" r="9"/><circle cx="762.8" cy="628.5" r="9"/><circle cx="757.2" cy="625.1" r="9"/><circle cx="812.4" cy="615.2" r="9"/><circle cx="698.5" cy="696.2" r="9"/><circle cx="783.3" cy="622.2" r="9"/><circle cx="695.4" cy="727.5" r="9"/><circle cx="826.8" cy="612.1" r="9"/><circle cx="765.4" cy="623.8" r="9"/><circle cx="903.8" cy="590.3" r="9"/><circle cx="918.2" cy="583.7" r="9"/><circle cx="883.4" cy="592.5" r="9"/><circle cx="750.1" cy="624.7" r="9"/><circle cx="706.5" cy="677.5" r="9"/><circle cx="702.7" cy="707.1" r="9"/><circle cx="882.6" cy="594.7" r="9"/><circle cx="905.3" cy="590.3" r="9"/><circle cx="756.0" cy="624.4" r="9"/><circle cx="688.5" cy="737.5" r="9"/><circle cx="698.4" cy="699.0" r="9"/><circle cx="721.7" cy="643.4" r="9"/><circle cx="886.9" cy="591.1" r="9"/><circle cx="913.6" cy="590.8" r="9"/><circle cx="737.6" cy="643.5" r="9"/><circle cx="923.4" cy="587.0" r="9"/><circle cx="712.3" cy="656.9" r="9"/><circle cx="700.2" cy="716.1" r="9"/><circle cx="709.7" cy="665.5" r="9"/><circle cx="765.7" cy="620.2" r="9"/><circle cx="907.5" cy="595.7" r="9"/><circle cx="811.7" cy="619.0" r="9"/><circle cx="842.7" cy="607.2" r="9"/><circle cx="852.5" cy="608.8" r="9"/><circle cx="714.2" cy="653.5" r="9"/><circle cx="915.4" cy="593.1" r="9"/><circle cx="720.4" cy="651.3" r="9"/><circle cx="916.8" cy="583.2" r="9"/><circle cx="780.6" cy="622.1" r="9"/><circle cx="703.7" cy="690.4" r="9"/><circle cx="759.3" cy="622.8" r="9"/><circle cx="910.9" cy="596.4" r="9"/><circle cx="700.9" cy="680.9" r="9"/><circle cx="726.2" cy="641.6" r="9"/><circle cx="783.8" cy="614.7" r="9"/><circle cx="856.0" cy="602.7" r="9"/><circle cx="733.5" cy="635.2" r="9"/><circle cx="693.3" cy="728.2" r="9"/><circle cx="769.9" cy="633.3" r="9"/><circle cx="895.4" cy="590.9" r="9"/><circle cx="739.5" cy="633.5" r="9"/><circle cx="918.6" cy="593.9" r="9"/><circle cx="694.9" cy="735.6" r="9"/><circle cx="908.4" cy="598.5" r="9"/><circle cx="738.5" cy="631.6" r="9"/><circle cx="889.3" cy="603.7" r="9"/><circle cx="700.2" cy="718.9" r="9"/><circle cx="769.5" cy="622.7" r="9"/><circle cx="820.2" cy="618.7" r="9"/><circle cx="751.5" cy="624.9" r="9"/><circle cx="708.7" cy="668.1" r="9"/><circle cx="808.9" cy="606.2" r="9"/><circle cx="808.7" cy="608.9" r="9"/><circle cx="700.4" cy="714.2" r="9"/><circle cx="735.2" cy="633.4" r="9"/><circle cx="794.9" cy="614.2" r="9"/><circle cx="916.6" cy="584.4" r="9"/><circle cx="903.6" cy="594.3" r="9"/><circle cx="917.3" cy="584.7" r="9"/><circle cx="718.4" cy="642.6" r="9"/><circle cx="819.5" cy="601.4" r="9"/><circle cx="814.3" cy="602.2" r="9"/><circle cx="689.6" cy="728.6" r="9"/><circle cx="823.7" cy="598.4" r="9"/><circle cx="845.5" cy="596.5" r="9"/><circle cx="915.3" cy="579.4" r="9"/><circle cx="705.0" cy="664.9" r="9"/><circle cx="712.3" cy="646.5" r="9"/><circle cx="701.5" cy="680.7" r="9"/><circle cx="813.4" cy="602.7" r="9"/><circle cx="735.2" cy="626.0" r="9"/><circle cx="698.9" cy="698.1" r="9"/><circle cx="732.1" cy="626.4" r="9"/><circle cx="840.7" cy="593.8" r="9"/><circle cx="722.2" cy="636.8" r="9"/><circle cx="850.5" cy="593.9" r="9"/><circle cx="731.4" cy="630.8" r="9"/><circle cx="701.0" cy="687.2" r="9"/><circle cx="723.3" cy="636.5" r="9"/><circle cx="915.2" cy="581.9" r="9"/><circle cx="877.8" cy="590.0" r="9"/><circle cx="690.7" cy="726.9" r="9"/><circle cx="910.1" cy="585.7" r="9"/><circle cx="904.8" cy="586.5" r="9"/><circle cx="874.1" cy="592.3" r="9"/><circle cx="690.9" cy="726.3" r="9"/><circle cx="707.0" cy="656.3" r="9"/><circle cx="723.8" cy="635.0" r="9"/><circle cx="796.7" cy="604.3" r="9"/><circle cx="719.2" cy="643.2" r="9"/><circle cx="850.5" cy="593.3" r="9"/><circle cx="913.8" cy="584.4" r="9"/><circle cx="749.2" cy="617.5" r="9"/><circle cx="733.6" cy="629.1" r="9"/><circle cx="753.8" cy="619.1" r="9"/><circle cx="870.4" cy="589.4" r="9"/><circle cx="858.8" cy="593.4" r="9"/><circle cx="719.4" cy="639.2" r="9"/><circle cx="695.2" cy="720.7" r="9"/><circle cx="708.4" cy="663.1" r="9"/><circle cx="772.6" cy="609.7" r="9"/><circle cx="897.0" cy="587.7" r="9"/><circle cx="695.9" cy="719.8" r="9"/><circle cx="833.8" cy="598.6" r="9"/><circle cx="738.2" cy="624.8" r="9"/><circle cx="847.6" cy="593.8" r="9"/><circle cx="694.4" cy="705.5" r="9"/><circle cx="777.7" cy="609.3" r="9"/><circle cx="702.3" cy="677.5" r="9"/><circle cx="695.8" cy="691.1" r="9"/><circle cx="720.7" cy="637.1" r="9"/><circle cx="760.2" cy="615.0" r="9"/><circle cx="808.3" cy="603.9" r="9"/><circle cx="749.7" cy="618.0" r="9"/><circle cx="909.4" cy="586.3" r="9"/><circle cx="697.2" cy="703.3" r="9"/><circle cx="781.2" cy="609.3" r="9"/><circle cx="894.8" cy="588.4" r="9"/><circle cx="859.4" cy="594.1" r="9"/><circle cx="787.4" cy="608.6" r="9"/><circle cx="730.4" cy="633.1" r="9"/><circle cx="707.3" cy="658.0" r="9"/><circle cx="703.7" cy="675.8" r="9"/><circle cx="822.1" cy="600.9" r="9"/><circle cx="700.3" cy="674.8" r="9"/><circle cx="694.0" cy="724.9" r="9"/><circle cx="770.4" cy="613.9" r="9"/><circle cx="697.5" cy="688.4" r="9"/><circle cx="713.3" cy="648.0" r="9"/><circle cx="717.1" cy="642.3" r="9"/><circle cx="737.0" cy="623.4" r="9"/><circle cx="729.2" cy="631.7" r="9"/><circle cx="703.8" cy="673.2" r="9"/><circle cx="738.7" cy="625.3" r="9"/><circle cx="899.2" cy="588.1" r="9"/><circle cx="690.4" cy="730.2" r="9"/><circle cx="908.0" cy="585.0" r="9"/><circle cx="729.3" cy="633.0" r="9"/><circle cx="712.3" cy="648.1" r="9"/><circle cx="695.4" cy="708.3" r="9"/><circle cx="915.5" cy="582.7" r="9"/><circle cx="909.6" cy="583.3" r="9"/><circle cx="689.2" cy="726.2" r="9"/><circle cx="904.2" cy="584.3" r="9"/><circle cx="696.8" cy="690.4" r="9"/><circle cx="734.6" cy="625.5" r="9"/><circle cx="701.2" cy="682.2" r="9"/><circle cx="762.2" cy="617.0" r="9"/><circle cx="705.5" cy="659.4" r="9"/><circle cx="690.7" cy="768.5" r="9"/><circle cx="688.1" cy="730.1" r="9"/><circle cx="687.9" cy="760.1" r="9"/><circle cx="686.6" cy="757.4" r="9"/><circle cx="689.3" cy="750.5" r="9"/><circle cx="691.2" cy="759.2" r="9"/><circle cx="687.2" cy="751.9" r="9"/><circle cx="689.0" cy="751.4" r="9"/><circle cx="691.0" cy="754.2" r="9"/><circle cx="687.7" cy="740.6" r="9"/><circle cx="687.6" cy="752.5" r="9"/><circle cx="687.5" cy="737.6" r="9"/><circle cx="689.5" cy="734.9" r="9"/><circle cx="687.4" cy="751.0" r="9"/><circle cx="689.7" cy="755.3" r="9"/><circle cx="688.8" cy="730.2" r="9"/><circle cx="689.0" cy="767.2" r="9"/><circle cx="689.7" cy="769.6" r="9"/><circle cx="690.6" cy="754.9" r="9"/><circle cx="687.1" cy="748.2" r="9"/><circle cx="688.6" cy="773.8" r="9"/><circle cx="686.7" cy="781.2" r="9"/><circle cx="686.6" cy="738.4" r="9"/><circle cx="687.4" cy="780.5" r="9"/><circle cx="688.0" cy="777.0" r="9"/><circle cx="687.5" cy="736.8" r="9"/><circle cx="688.7" cy="731.5" r="9"/><circle cx="688.0" cy="746.8" r="9"/><circle cx="687.2" cy="775.9" r="9"/><circle cx="686.7" cy="742.7" r="9"/><circle cx="687.8" cy="754.9" r="9"/><circle cx="690.9" cy="777.2" r="9"/><circle cx="687.7" cy="755.1" r="9"/><circle cx="689.3" cy="745.1" r="9"/><circle cx="688.9" cy="736.6" r="9"/><circle cx="687.6" cy="778.1" r="9"/><circle cx="690.4" cy="737.0" r="9"/><circle cx="690.1" cy="770.0" r="9"/><circle cx="689.8" cy="762.0" r="9"/><circle cx="689.5" cy="747.2" r="9"/><circle cx="689.7" cy="759.0" r="9"/><circle cx="686.5" cy="775.2" r="9"/><circle cx="694.2" cy="761.7" r="9"/><circle cx="692.6" cy="749.1" r="9"/><circle cx="687.8" cy="780.9" r="9"/><circle cx="939.0" cy="581.1" r="9"/><circle cx="924.7" cy="583.7" r="9"/><circle cx="912.6" cy="580.1" r="9"/><circle cx="950.0" cy="589.0" r="9"/><circle cx="917.6" cy="585.2" r="9"/><circle cx="943.1" cy="587.6" r="9"/><circle cx="944.7" cy="583.0" r="9"/><circle cx="921.5" cy="584.3" r="9"/><circle cx="910.8" cy="583.4" r="9"/><circle cx="941.6" cy="580.0" r="9"/><circle cx="960.0" cy="585.0" r="9"/><circle cx="909.6" cy="584.1" r="9"/><circle cx="902.4" cy="588.0" r="9"/><circle cx="901.1" cy="582.5" r="9"/><circle cx="924.5" cy="584.6" r="9"/><circle cx="915.7" cy="579.8" r="9"/><circle cx="914.4" cy="581.3" r="9"/><circle cx="942.1" cy="581.8" r="9"/><circle cx="962.7" cy="583.7" r="9"/><circle cx="917.0" cy="584.3" r="9"/><circle cx="943.0" cy="584.6" r="9"/><circle cx="958.4" cy="584.1" r="9"/><circle cx="918.3" cy="580.3" r="9"/><circle cx="901.7" cy="581.0" r="9"/><circle cx="924.0" cy="580.2" r="9"/><circle cx="943.5" cy="576.5" r="9"/><circle cx="949.3" cy="586.0" r="9"/><circle cx="917.3" cy="584.2" r="9"/><circle cx="936.0" cy="582.9" r="9"/><circle cx="927.7" cy="583.5" r="9"/><circle cx="687.2" cy="828.0" r="9"/><circle cx="687.2" cy="837.4" r="9"/><circle cx="688.7" cy="790.9" r="9"/><circle cx="690.3" cy="779.9" r="9"/><circle cx="688.7" cy="772.0" r="9"/><circle cx="687.2" cy="762.6" r="9"/><circle cx="691.9" cy="759.5" r="9"/><circle cx="718.6" cy="716.1" r="9"/><circle cx="731.2" cy="698.8" r="9"/><circle cx="732.7" cy="691.9" r="9"/><circle cx="734.3" cy="686.5" r="9"/><circle cx="772.0" cy="658.2" r="9"/><circle cx="773.6" cy="658.9" r="9"/><circle cx="764.2" cy="657.3" r="9"/><circle cx="756.3" cy="643.2" r="9"/><circle cx="750.0" cy="646.9" r="9"/><circle cx="743.7" cy="651.0" r="9"/><circle cx="781.5" cy="629.0" r="9"/><circle cx="787.7" cy="625.9" r="9"/><circle cx="778.3" cy="630.0" r="9"/><circle cx="872.6" cy="605.4" r="9"/><circle cx="952.8" cy="599.1" r="9"/><circle cx="953.7" cy="599.8" r="9"/><circle cx="941.8" cy="588.1" r="9"/><circle cx="957.5" cy="583.4" r="9"/><circle cx="963.8" cy="582.8" r="9"/><circle cx="926.0" cy="581.9" r="9"/><circle cx="935.5" cy="583.4" r="9"/><circle cx="1023.5" cy="584.1" r="9"/><circle cx="724.9" cy="673.0" r="9"/><circle cx="728.0" cy="677.7" r="9"/><circle cx="737.4" cy="665.2" r="9"/><circle cx="731.2" cy="660.4" r="9"/><circle cx="718.6" cy="687.2" r="9"/><circle cx="712.3" cy="701.3" r="9"/><circle cx="706.0" cy="706.0" r="9"/><circle cx="713.9" cy="677.7" r="9"/><circle cx="746.9" cy="641.6" r="9"/><circle cx="762.6" cy="640.6" r="9"/></g>
<line x1="670.50" y1="561.40" x2="670.50" y2="963.10" stroke="#000" stroke-width="4.3" />
<line x1="668.40" y1="961.00" x2="1039.50" y2="961.00" stroke="#000" stroke-width="4.2" />
<line x1="658.50" y1="579.70" x2="668.50" y2="579.70" stroke="#333333" stroke-width="3.8" />
<text font-size="29.17" text-anchor="end" fill="#000" x="651.00" y="590.50" >1.00</text>
<line x1="658.50" y1="670.47" x2="668.50" y2="670.47" stroke="#333333" stroke-width="3.8" />
<text font-size="29.17" text-anchor="end" fill="#000" x="651.00" y="681.27" >0.75</text>
<line x1="658.50" y1="761.24" x2="668.50" y2="761.24" stroke="#333333" stroke-width="3.8" />
<text font-size="29.17" text-anchor="end" fill="#000" x="651.00" y="772.04" >0.50</text>
<line x1="658.50" y1="852.01" x2="668.50" y2="852.01" stroke="#333333" stroke-width="3.8" />
<text font-size="29.17" text-anchor="end" fill="#000" x="651.00" y="862.81" >0.25</text>
<line x1="658.50" y1="942.78" x2="668.50" y2="942.78" stroke="#333333" stroke-width="3.8" />
<text font-size="29.17" text-anchor="end" fill="#000" x="651.00" y="953.58" >0.00</text>
<line x1="686.50" y1="963.00" x2="686.50" y2="971.80" stroke="#333333" stroke-width="3.8" />
<text font-size="29.17" text-anchor="middle" fill="#000" x="686.50" y="1002.40" >0</text>
<line x1="779.10" y1="963.00" x2="779.10" y2="971.80" stroke="#333333" stroke-width="3.8" />
<text font-size="29.17" text-anchor="middle" fill="#000" x="779.10" y="1002.40" >3,000</text>
<line x1="871.70" y1="963.00" x2="871.70" y2="971.80" stroke="#333333" stroke-width="3.8" />
<text font-size="29.17" text-anchor="middle" fill="#000" x="871.70" y="1002.40" >6,000</text>
<line x1="964.30" y1="963.00" x2="964.30" y2="971.80" stroke="#333333" stroke-width="3.8" />
<text font-size="29.17" text-anchor="middle" fill="#000" x="964.30" y="1002.40" >9,000</text>
<text font-size="29.17" text-anchor="middle" fill="#000" x="855.50" y="1040.80" >Number of significant eQTLs</text>
<text font-size="29.17" text-anchor="middle" fill="#000" transform="translate(575.60,762.00) rotate(-90)" >Correlation of Z−score</text>
<text font-size="40" text-anchor="start" fill="#231815" font-weight="bold" x="1064.70" y="554.30" >e</text>
<line x1="1186.70" y1="948.60" x2="1569.20" y2="561.40" stroke="#555" stroke-width="4" opacity="0.78"/>
<g clip-path="url(#ce11)"><polygon points="1208.0,926.8 1216.9,933.8 1235.8,935.8 1261.2,933.8 1273.7,926.8 1286.1,914.7 1305.0,900.6 1320.9,891.1 1336.4,875.5 1352.3,856.4 1361.8,840.8 1368.2,821.7 1371.2,805.6 1369.2,789.5 1358.3,781.5 1342.8,785.5 1330.4,796.6 1311.5,806.1 1292.6,815.7 1273.7,828.2 1254.8,840.8 1240.8,856.4 1229.9,872.5 1220.4,891.1 1211.0,910.2 1207.0,922.8" fill="#000" stroke="#000" stroke-width="22" stroke-linejoin="round" opacity="0.5" filter="url(#blur8)"/></g>
<polygon points="1208.0,926.8 1216.9,933.8 1235.8,935.8 1261.2,933.8 1273.7,926.8 1286.1,914.7 1305.0,900.6 1320.9,891.1 1336.4,875.5 1352.3,856.4 1361.8,840.8 1368.2,821.7 1371.2,805.6 1369.2,789.5 1358.3,781.5 1342.8,785.5 1330.4,796.6 1311.5,806.1 1292.6,815.7 1273.7,828.2 1254.8,840.8 1240.8,856.4 1229.9,872.5 1220.4,891.1 1211.0,910.2 1207.0,922.8" fill="#000" stroke="#000" stroke-width="3.5" stroke-linejoin="round"/>
<g fill="#000" fill-opacity="0.2"><circle cx="1381.9" cy="734.6" r="4.7"/><circle cx="1285.5" cy="783.8" r="4.7"/><circle cx="1290.8" cy="915.0" r="4.7"/><circle cx="1216.3" cy="884.7" r="4.7"/><circle cx="1216.3" cy="903.0" r="4.7"/><circle cx="1410.9" cy="812.0" r="4.7"/><circle cx="1343.3" cy="784.9" r="4.7"/><circle cx="1294.4" cy="777.8" r="4.7"/><circle cx="1328.5" cy="883.7" r="4.7"/><circle cx="1274.5" cy="932.2" r="4.7"/><circle cx="1223.2" cy="882.5" r="4.7"/><circle cx="1351.5" cy="869.6" r="4.7"/><circle cx="1353.9" cy="765.2" r="4.7"/><circle cx="1209.6" cy="905.6" r="4.7"/><circle cx="1317.5" cy="925.1" r="4.7"/><circle cx="1210.4" cy="931.5" r="4.7"/><circle cx="1261.1" cy="934.3" r="4.7"/><circle cx="1264.9" cy="827.3" r="4.7"/><circle cx="1278.6" cy="821.3" r="4.7"/><circle cx="1281.5" cy="923.3" r="4.7"/><circle cx="1299.2" cy="907.4" r="4.7"/><circle cx="1213.0" cy="898.1" r="4.7"/><circle cx="1392.9" cy="768.8" r="4.7"/><circle cx="1380.9" cy="757.4" r="4.7"/><circle cx="1259.7" cy="833.1" r="4.7"/><circle cx="1378.0" cy="845.0" r="4.7"/><circle cx="1361.8" cy="759.0" r="4.7"/><circle cx="1360.5" cy="843.0" r="4.7"/><circle cx="1218.7" cy="896.4" r="4.7"/><circle cx="1433.2" cy="770.7" r="4.7"/><circle cx="1208.9" cy="926.3" r="4.7"/><circle cx="1293.2" cy="792.3" r="4.7"/><circle cx="1347.0" cy="783.0" r="4.7"/><circle cx="1272.8" cy="829.3" r="4.7"/><circle cx="1373.1" cy="851.1" r="4.7"/><circle cx="1383.0" cy="822.0" r="4.7"/><circle cx="1229.0" cy="862.9" r="4.7"/><circle cx="1322.9" cy="898.3" r="4.7"/><circle cx="1275.0" cy="928.7" r="4.7"/><circle cx="1260.3" cy="933.7" r="4.7"/><circle cx="1390.9" cy="852.1" r="4.7"/><circle cx="1221.4" cy="860.9" r="4.7"/><circle cx="1353.7" cy="865.1" r="4.7"/><circle cx="1278.6" cy="925.2" r="4.7"/><circle cx="1208.8" cy="913.6" r="4.7"/><circle cx="1235.0" cy="844.5" r="4.7"/><circle cx="1312.4" cy="906.2" r="4.7"/><circle cx="1337.3" cy="787.0" r="4.7"/><circle cx="1298.5" cy="798.6" r="4.7"/><circle cx="1401.5" cy="761.3" r="4.7"/><circle cx="1215.3" cy="895.8" r="4.7"/><circle cx="1211.9" cy="933.6" r="4.7"/><circle cx="1393.7" cy="816.9" r="4.7"/><circle cx="1221.1" cy="888.2" r="4.7"/><circle cx="1306.6" cy="803.4" r="4.7"/><circle cx="1303.9" cy="797.7" r="4.7"/><circle cx="1438.8" cy="827.5" r="4.7"/><circle cx="1446.4" cy="817.4" r="4.7"/><circle cx="1314.4" cy="898.1" r="4.7"/><circle cx="1291.3" cy="797.6" r="4.7"/><circle cx="1292.6" cy="811.1" r="4.7"/><circle cx="1418.7" cy="698.6" r="4.7"/><circle cx="1347.4" cy="782.9" r="4.7"/><circle cx="1337.8" cy="788.1" r="4.7"/><circle cx="1369.4" cy="878.4" r="4.7"/><circle cx="1324.9" cy="895.9" r="4.7"/><circle cx="1366.7" cy="749.9" r="4.7"/><circle cx="1375.4" cy="861.1" r="4.7"/><circle cx="1240.9" cy="842.5" r="4.7"/><circle cx="1245.0" cy="845.7" r="4.7"/><circle cx="1274.5" cy="825.6" r="4.7"/><circle cx="1293.5" cy="915.0" r="4.7"/><circle cx="1321.0" cy="890.5" r="4.7"/><circle cx="1356.9" cy="870.0" r="4.7"/><circle cx="1224.5" cy="875.9" r="4.7"/><circle cx="1318.8" cy="902.0" r="4.7"/><circle cx="1212.5" cy="884.6" r="4.7"/><circle cx="1328.1" cy="899.7" r="4.7"/><circle cx="1255.9" cy="823.9" r="4.7"/><circle cx="1308.2" cy="898.1" r="4.7"/><circle cx="1290.0" cy="751.2" r="4.7"/><circle cx="1378.2" cy="826.2" r="4.7"/><circle cx="1401.8" cy="804.8" r="4.7"/><circle cx="1364.8" cy="771.7" r="4.7"/><circle cx="1270.4" cy="932.6" r="4.7"/><circle cx="1210.1" cy="894.8" r="4.7"/><circle cx="1399.9" cy="810.9" r="4.7"/><circle cx="1376.8" cy="799.7" r="4.7"/><circle cx="1370.4" cy="915.3" r="4.7"/><circle cx="1383.9" cy="773.9" r="4.7"/><circle cx="1248.2" cy="841.7" r="4.7"/><circle cx="1364.2" cy="856.7" r="4.7"/><circle cx="1273.2" cy="823.5" r="4.7"/><circle cx="1310.9" cy="778.3" r="4.7"/><circle cx="1247.8" cy="782.6" r="4.7"/><circle cx="1259.1" cy="821.8" r="4.7"/><circle cx="1396.7" cy="836.4" r="4.7"/><circle cx="1292.0" cy="814.6" r="4.7"/><circle cx="1372.8" cy="826.2" r="4.7"/><circle cx="1210.6" cy="916.0" r="4.7"/><circle cx="1426.8" cy="691.4" r="4.7"/><circle cx="1335.2" cy="785.2" r="4.7"/><circle cx="1257.7" cy="817.7" r="4.7"/><circle cx="1316.2" cy="799.8" r="4.7"/><circle cx="1381.8" cy="729.8" r="4.7"/><circle cx="1394.2" cy="805.2" r="4.7"/><circle cx="1328.7" cy="909.2" r="4.7"/><circle cx="1219.8" cy="850.7" r="4.7"/><circle cx="1342.4" cy="870.3" r="4.7"/><circle cx="1338.1" cy="876.8" r="4.7"/><circle cx="1232.9" cy="853.5" r="4.7"/><circle cx="1363.4" cy="746.8" r="4.7"/><circle cx="1259.8" cy="826.2" r="4.7"/><circle cx="1381.1" cy="761.0" r="4.7"/><circle cx="1313.8" cy="787.0" r="4.7"/><circle cx="1358.7" cy="839.4" r="4.7"/><circle cx="1268.8" cy="826.8" r="4.7"/><circle cx="1366.0" cy="842.2" r="4.7"/><circle cx="1226.6" cy="873.3" r="4.7"/><circle cx="1453.1" cy="805.4" r="4.7"/><circle cx="1403.7" cy="759.7" r="4.7"/><circle cx="1284.7" cy="921.3" r="4.7"/><circle cx="1367.5" cy="841.5" r="4.7"/><circle cx="1388.9" cy="833.4" r="4.7"/><circle cx="1310.2" cy="789.4" r="4.7"/><circle cx="1271.5" cy="928.9" r="4.7"/><circle cx="1210.1" cy="910.1" r="4.7"/><circle cx="1329.9" cy="781.7" r="4.7"/><circle cx="1381.3" cy="820.1" r="4.7"/><circle cx="1224.0" cy="889.9" r="4.7"/><circle cx="1417.7" cy="780.6" r="4.7"/><circle cx="1301.5" cy="799.0" r="4.7"/><circle cx="1415.7" cy="714.0" r="4.7"/><circle cx="1248.0" cy="843.7" r="4.7"/><circle cx="1404.7" cy="842.0" r="4.7"/><circle cx="1396.5" cy="836.0" r="4.7"/><circle cx="1373.3" cy="765.3" r="4.7"/><circle cx="1309.8" cy="898.6" r="4.7"/><circle cx="1259.6" cy="829.0" r="4.7"/><circle cx="1358.0" cy="867.5" r="4.7"/><circle cx="1280.7" cy="922.0" r="4.7"/><circle cx="1354.0" cy="862.3" r="4.7"/><circle cx="1340.8" cy="778.4" r="4.7"/><circle cx="1298.1" cy="921.6" r="4.7"/><circle cx="1318.2" cy="785.4" r="4.7"/><circle cx="1283.4" cy="914.5" r="4.7"/><circle cx="1272.9" cy="934.2" r="4.7"/><circle cx="1296.6" cy="808.4" r="4.7"/><circle cx="1222.1" cy="853.2" r="4.7"/><circle cx="1358.2" cy="730.2" r="4.7"/><circle cx="1377.9" cy="796.4" r="4.7"/><circle cx="1371.1" cy="820.9" r="4.7"/><circle cx="1386.6" cy="778.3" r="4.7"/><circle cx="1265.5" cy="816.8" r="4.7"/><circle cx="1389.6" cy="815.0" r="4.7"/><circle cx="1382.7" cy="785.4" r="4.7"/><circle cx="1211.3" cy="904.0" r="4.7"/><circle cx="1262.5" cy="813.4" r="4.7"/><circle cx="1387.9" cy="793.6" r="4.7"/><circle cx="1219.0" cy="934.0" r="4.7"/><circle cx="1362.8" cy="776.9" r="4.7"/><circle cx="1223.1" cy="880.2" r="4.7"/><circle cx="1380.5" cy="788.5" r="4.7"/><circle cx="1261.1" cy="829.8" r="4.7"/><circle cx="1363.6" cy="769.2" r="4.7"/><circle cx="1311.3" cy="786.5" r="4.7"/><circle cx="1328.5" cy="902.5" r="4.7"/><circle cx="1312.4" cy="898.5" r="4.7"/><circle cx="1274.7" cy="932.2" r="4.7"/><circle cx="1424.4" cy="782.1" r="4.7"/><circle cx="1346.9" cy="882.1" r="4.7"/><circle cx="1367.7" cy="878.0" r="4.7"/><circle cx="1271.0" cy="934.2" r="4.7"/><circle cx="1341.9" cy="879.8" r="4.7"/><circle cx="1209.5" cy="917.8" r="4.7"/><circle cx="1227.2" cy="860.7" r="4.7"/><circle cx="1246.3" cy="817.6" r="4.7"/><circle cx="1376.1" cy="759.8" r="4.7"/><circle cx="1371.6" cy="828.0" r="4.7"/><circle cx="1230.1" cy="851.7" r="4.7"/><circle cx="1343.4" cy="774.3" r="4.7"/><circle cx="1220.3" cy="879.9" r="4.7"/><circle cx="1380.1" cy="731.5" r="4.7"/><circle cx="1289.8" cy="756.0" r="4.7"/><circle cx="1371.2" cy="770.7" r="4.7"/><circle cx="1382.7" cy="761.2" r="4.7"/><circle cx="1275.0" cy="823.2" r="4.7"/><circle cx="1389.6" cy="771.5" r="4.7"/><circle cx="1309.1" cy="796.6" r="4.7"/><circle cx="1208.8" cy="913.3" r="4.7"/><circle cx="1364.0" cy="772.2" r="4.7"/><circle cx="1228.2" cy="882.6" r="4.7"/><circle cx="1359.7" cy="854.0" r="4.7"/><circle cx="1320.3" cy="922.9" r="4.7"/><circle cx="1377.8" cy="818.6" r="4.7"/><circle cx="1218.3" cy="892.5" r="4.7"/><circle cx="1381.2" cy="854.2" r="4.7"/><circle cx="1209.2" cy="914.2" r="4.7"/><circle cx="1220.9" cy="888.3" r="4.7"/><circle cx="1369.5" cy="844.3" r="4.7"/><circle cx="1271.3" cy="750.3" r="4.7"/><circle cx="1344.4" cy="893.0" r="4.7"/><circle cx="1345.7" cy="783.2" r="4.7"/><circle cx="1287.1" cy="814.2" r="4.7"/><circle cx="1368.5" cy="836.3" r="4.7"/><circle cx="1364.7" cy="761.4" r="4.7"/><circle cx="1234.3" cy="860.5" r="4.7"/><circle cx="1238.1" cy="849.5" r="4.7"/><circle cx="1301.9" cy="780.7" r="4.7"/><circle cx="1366.4" cy="742.9" r="4.7"/><circle cx="1322.3" cy="911.2" r="4.7"/><circle cx="1290.0" cy="922.5" r="4.7"/><circle cx="1326.1" cy="794.1" r="4.7"/><circle cx="1298.7" cy="917.1" r="4.7"/><circle cx="1272.1" cy="933.7" r="4.7"/><circle cx="1213.4" cy="902.2" r="4.7"/><circle cx="1332.9" cy="788.3" r="4.7"/><circle cx="1256.5" cy="836.5" r="4.7"/><circle cx="1349.5" cy="927.0" r="4.7"/><circle cx="1250.0" cy="838.5" r="4.7"/><circle cx="1310.0" cy="795.9" r="4.7"/><circle cx="1214.8" cy="887.9" r="4.7"/><circle cx="1297.8" cy="801.6" r="4.7"/><circle cx="1452.6" cy="832.6" r="4.7"/><circle cx="1509.7" cy="680.6" r="4.7"/><circle cx="1276.8" cy="827.7" r="4.7"/><circle cx="1323.0" cy="913.2" r="4.7"/><circle cx="1304.5" cy="922.6" r="4.7"/><circle cx="1255.1" cy="827.6" r="4.7"/><circle cx="1230.0" cy="859.2" r="4.7"/><circle cx="1299.6" cy="913.9" r="4.7"/><circle cx="1315.0" cy="899.5" r="4.7"/><circle cx="1376.7" cy="816.1" r="4.7"/><circle cx="1384.5" cy="818.2" r="4.7"/><circle cx="1367.2" cy="859.2" r="4.7"/><circle cx="1330.7" cy="885.2" r="4.7"/><circle cx="1312.9" cy="904.5" r="4.7"/><circle cx="1220.3" cy="882.8" r="4.7"/><circle cx="1325.5" cy="900.7" r="4.7"/><circle cx="1316.0" cy="796.9" r="4.7"/><circle cx="1318.3" cy="924.3" r="4.7"/><circle cx="1320.2" cy="897.9" r="4.7"/><circle cx="1398.0" cy="800.9" r="4.7"/><circle cx="1389.7" cy="783.5" r="4.7"/><circle cx="1224.1" cy="876.7" r="4.7"/><circle cx="1290.3" cy="923.6" r="4.7"/><circle cx="1375.4" cy="761.7" r="4.7"/><circle cx="1358.0" cy="844.1" r="4.7"/><circle cx="1255.5" cy="932.9" r="4.7"/><circle cx="1366.5" cy="846.5" r="4.7"/><circle cx="1380.9" cy="805.3" r="4.7"/><circle cx="1297.1" cy="907.7" r="4.7"/><circle cx="1254.1" cy="823.9" r="4.7"/><circle cx="1354.2" cy="772.3" r="4.7"/><circle cx="1279.5" cy="921.3" r="4.7"/><circle cx="1209.2" cy="925.2" r="4.7"/><circle cx="1370.5" cy="903.3" r="4.7"/><circle cx="1305.0" cy="787.7" r="4.7"/><circle cx="1297.7" cy="790.4" r="4.7"/><circle cx="1270.9" cy="933.2" r="4.7"/><circle cx="1237.9" cy="857.2" r="4.7"/><circle cx="1218.5" cy="881.9" r="4.7"/><circle cx="1210.2" cy="906.8" r="4.7"/><circle cx="1223.2" cy="876.3" r="4.7"/><circle cx="1324.7" cy="784.8" r="4.7"/><circle cx="1343.9" cy="778.4" r="4.7"/><circle cx="1395.9" cy="778.2" r="4.7"/><circle cx="1295.3" cy="928.4" r="4.7"/><circle cx="1268.9" cy="809.1" r="4.7"/><circle cx="1350.1" cy="857.9" r="4.7"/><circle cx="1388.9" cy="905.7" r="4.7"/><circle cx="1239.5" cy="850.6" r="4.7"/><circle cx="1301.5" cy="905.7" r="4.7"/><circle cx="1297.7" cy="809.3" r="4.7"/><circle cx="1242.5" cy="844.8" r="4.7"/><circle cx="1279.2" cy="798.0" r="4.7"/><circle cx="1341.4" cy="787.0" r="4.7"/><circle cx="1289.6" cy="795.4" r="4.7"/><circle cx="1353.4" cy="766.8" r="4.7"/><circle cx="1216.2" cy="933.2" r="4.7"/><circle cx="1370.8" cy="745.6" r="4.7"/><circle cx="1307.3" cy="771.1" r="4.7"/><circle cx="1489.6" cy="802.2" r="4.7"/><circle cx="1211.8" cy="897.1" r="4.7"/><circle cx="1235.4" cy="858.7" r="4.7"/><circle cx="1350.1" cy="747.1" r="4.7"/><circle cx="1389.3" cy="787.7" r="4.7"/><circle cx="1374.6" cy="856.2" r="4.7"/><circle cx="1374.5" cy="831.4" r="4.7"/><circle cx="1386.1" cy="800.3" r="4.7"/><circle cx="1247.5" cy="842.4" r="4.7"/><circle cx="1306.0" cy="900.6" r="4.7"/><circle cx="1371.5" cy="815.9" r="4.7"/><circle cx="1215.5" cy="926.9" r="4.7"/><circle cx="1263.0" cy="931.4" r="4.7"/><circle cx="1359.2" cy="756.6" r="4.7"/><circle cx="1214.4" cy="864.5" r="4.7"/><circle cx="1311.8" cy="803.7" r="4.7"/><circle cx="1241.6" cy="833.0" r="4.7"/><circle cx="1218.5" cy="886.0" r="4.7"/><circle cx="1210.4" cy="907.4" r="4.7"/><circle cx="1382.2" cy="787.3" r="4.7"/><circle cx="1211.2" cy="902.9" r="4.7"/><circle cx="1358.5" cy="914.0" r="4.7"/><circle cx="1270.5" cy="933.1" r="4.7"/><circle cx="1311.0" cy="792.7" r="4.7"/><circle cx="1332.7" cy="900.4" r="4.7"/><circle cx="1334.4" cy="895.5" r="4.7"/><circle cx="1381.4" cy="778.0" r="4.7"/><circle cx="1422.0" cy="665.2" r="4.7"/><circle cx="1210.3" cy="911.4" r="4.7"/><circle cx="1419.1" cy="804.5" r="4.7"/><circle cx="1320.2" cy="894.0" r="4.7"/><circle cx="1364.8" cy="770.9" r="4.7"/><circle cx="1267.8" cy="830.0" r="4.7"/><circle cx="1361.1" cy="777.1" r="4.7"/><circle cx="1387.7" cy="761.9" r="4.7"/><circle cx="1362.6" cy="842.0" r="4.7"/><circle cx="1359.4" cy="755.5" r="4.7"/><circle cx="1364.7" cy="874.1" r="4.7"/><circle cx="1388.8" cy="765.0" r="4.7"/><circle cx="1379.1" cy="874.7" r="4.7"/><circle cx="1302.3" cy="795.4" r="4.7"/><circle cx="1214.7" cy="931.3" r="4.7"/><circle cx="1334.9" cy="775.5" r="4.7"/><circle cx="1231.3" cy="874.6" r="4.7"/><circle cx="1393.4" cy="792.7" r="4.7"/><circle cx="1421.1" cy="860.7" r="4.7"/><circle cx="1367.5" cy="789.1" r="4.7"/><circle cx="1285.4" cy="796.4" r="4.7"/><circle cx="1377.7" cy="803.6" r="4.7"/><circle cx="1316.9" cy="896.5" r="4.7"/><circle cx="1271.5" cy="930.9" r="4.7"/><circle cx="1298.0" cy="923.3" r="4.7"/><circle cx="1366.5" cy="776.9" r="4.7"/><circle cx="1212.5" cy="905.1" r="4.7"/><circle cx="1210.3" cy="911.1" r="4.7"/><circle cx="1269.3" cy="933.6" r="4.7"/><circle cx="1290.6" cy="797.0" r="4.7"/><circle cx="1377.1" cy="789.3" r="4.7"/><circle cx="1363.5" cy="772.0" r="4.7"/><circle cx="1383.9" cy="784.5" r="4.7"/><circle cx="1382.7" cy="815.3" r="4.7"/><circle cx="1317.0" cy="798.1" r="4.7"/><circle cx="1213.2" cy="927.4" r="4.7"/><circle cx="1221.8" cy="881.7" r="4.7"/><circle cx="1366.3" cy="837.9" r="4.7"/><circle cx="1236.5" cy="850.1" r="4.7"/><circle cx="1281.8" cy="931.7" r="4.7"/><circle cx="1369.5" cy="829.7" r="4.7"/><circle cx="1274.2" cy="789.2" r="4.7"/><circle cx="1217.5" cy="850.3" r="4.7"/><circle cx="1350.8" cy="783.2" r="4.7"/><circle cx="1273.8" cy="933.0" r="4.7"/><circle cx="1228.3" cy="875.9" r="4.7"/><circle cx="1311.8" cy="900.7" r="4.7"/><circle cx="1286.0" cy="921.8" r="4.7"/><circle cx="1401.6" cy="777.3" r="4.7"/><circle cx="1305.7" cy="908.1" r="4.7"/><circle cx="1237.5" cy="841.9" r="4.7"/><circle cx="1279.1" cy="812.5" r="4.7"/><circle cx="1217.9" cy="893.0" r="4.7"/><circle cx="1357.3" cy="868.6" r="4.7"/><circle cx="1268.8" cy="824.7" r="4.7"/><circle cx="1377.3" cy="792.9" r="4.7"/><circle cx="1362.9" cy="847.7" r="4.7"/><circle cx="1300.1" cy="907.5" r="4.7"/><circle cx="1332.7" cy="905.9" r="4.7"/><circle cx="1337.6" cy="923.0" r="4.7"/><circle cx="1411.7" cy="799.0" r="4.7"/><circle cx="1210.0" cy="909.1" r="4.7"/><circle cx="1353.1" cy="863.2" r="4.7"/><circle cx="1241.5" cy="934.2" r="4.7"/><circle cx="1425.9" cy="765.1" r="4.7"/><circle cx="1296.9" cy="813.0" r="4.7"/><circle cx="1280.7" cy="818.5" r="4.7"/><circle cx="1388.5" cy="796.8" r="4.7"/><circle cx="1446.4" cy="757.4" r="4.7"/><circle cx="1370.5" cy="806.8" r="4.7"/><circle cx="1234.1" cy="868.5" r="4.7"/><circle cx="1262.0" cy="934.2" r="4.7"/><circle cx="1231.2" cy="866.6" r="4.7"/><circle cx="1366.6" cy="780.3" r="4.7"/><circle cx="1364.5" cy="741.8" r="4.7"/><circle cx="1304.9" cy="909.8" r="4.7"/><circle cx="1328.6" cy="751.5" r="4.7"/><circle cx="1443.2" cy="850.0" r="4.7"/><circle cx="1356.8" cy="781.3" r="4.7"/><circle cx="1212.8" cy="865.1" r="4.7"/><circle cx="1365.7" cy="840.5" r="4.7"/><circle cx="1212.3" cy="890.4" r="4.7"/><circle cx="1333.2" cy="887.9" r="4.7"/><circle cx="1324.7" cy="784.2" r="4.7"/><circle cx="1288.6" cy="913.9" r="4.7"/><circle cx="1390.6" cy="828.2" r="4.7"/><circle cx="1286.2" cy="774.5" r="4.7"/><circle cx="1390.8" cy="840.2" r="4.7"/><circle cx="1330.7" cy="884.8" r="4.7"/><circle cx="1311.9" cy="907.7" r="4.7"/><circle cx="1434.7" cy="828.1" r="4.7"/><circle cx="1210.4" cy="927.8" r="4.7"/><circle cx="1292.4" cy="918.6" r="4.7"/><circle cx="1436.5" cy="803.6" r="4.7"/><circle cx="1382.2" cy="880.4" r="4.7"/><circle cx="1236.8" cy="855.7" r="4.7"/><circle cx="1337.4" cy="759.0" r="4.7"/><circle cx="1353.6" cy="856.4" r="4.7"/><circle cx="1431.4" cy="820.0" r="4.7"/><circle cx="1364.7" cy="826.8" r="4.7"/><circle cx="1256.8" cy="824.6" r="4.7"/><circle cx="1310.2" cy="908.8" r="4.7"/><circle cx="1285.5" cy="818.6" r="4.7"/><circle cx="1338.1" cy="790.3" r="4.7"/><circle cx="1291.7" cy="908.1" r="4.7"/><circle cx="1378.1" cy="806.6" r="4.7"/><circle cx="1281.7" cy="923.0" r="4.7"/><circle cx="1415.4" cy="701.3" r="4.7"/><circle cx="1234.3" cy="818.1" r="4.7"/><circle cx="1427.7" cy="822.8" r="4.7"/><circle cx="1450.8" cy="742.0" r="4.7"/><circle cx="1236.3" cy="853.2" r="4.7"/><circle cx="1208.6" cy="925.7" r="4.7"/><circle cx="1384.2" cy="867.9" r="4.7"/><circle cx="1379.1" cy="827.8" r="4.7"/><circle cx="1346.0" cy="864.6" r="4.7"/><circle cx="1267.2" cy="794.1" r="4.7"/><circle cx="1335.5" cy="786.4" r="4.7"/><circle cx="1346.5" cy="779.1" r="4.7"/><circle cx="1324.8" cy="907.2" r="4.7"/><circle cx="1222.0" cy="875.4" r="4.7"/><circle cx="1211.1" cy="880.6" r="4.7"/><circle cx="1391.4" cy="821.9" r="4.7"/><circle cx="1371.3" cy="837.1" r="4.7"/><circle cx="1219.3" cy="858.0" r="4.7"/><circle cx="1372.6" cy="794.8" r="4.7"/><circle cx="1338.6" cy="895.7" r="4.7"/><circle cx="1374.8" cy="776.2" r="4.7"/><circle cx="1231.1" cy="868.3" r="4.7"/><circle cx="1211.6" cy="905.0" r="4.7"/><circle cx="1215.7" cy="902.7" r="4.7"/><circle cx="1369.2" cy="784.4" r="4.7"/><circle cx="1331.8" cy="758.6" r="4.7"/><circle cx="1378.7" cy="892.9" r="4.7"/><circle cx="1354.7" cy="757.3" r="4.7"/><circle cx="1309.5" cy="800.1" r="4.7"/><circle cx="1334.4" cy="792.6" r="4.7"/><circle cx="1296.5" cy="913.7" r="4.7"/><circle cx="1406.2" cy="819.4" r="4.7"/><circle cx="1220.0" cy="934.2" r="4.7"/><circle cx="1285.9" cy="922.9" r="4.7"/><circle cx="1227.3" cy="832.4" r="4.7"/><circle cx="1289.8" cy="816.0" r="4.7"/><circle cx="1344.6" cy="882.5" r="4.7"/><circle cx="1249.6" cy="836.3" r="4.7"/><circle cx="1336.0" cy="770.4" r="4.7"/><circle cx="1381.6" cy="773.1" r="4.7"/><circle cx="1360.3" cy="848.9" r="4.7"/><circle cx="1309.9" cy="802.9" r="4.7"/><circle cx="1381.9" cy="901.7" r="4.7"/><circle cx="1375.2" cy="779.4" r="4.7"/><circle cx="1271.0" cy="821.6" r="4.7"/><circle cx="1381.0" cy="771.5" r="4.7"/><circle cx="1454.8" cy="737.0" r="4.7"/><circle cx="1364.8" cy="749.2" r="4.7"/><circle cx="1264.1" cy="806.2" r="4.7"/><circle cx="1358.7" cy="756.9" r="4.7"/><circle cx="1308.0" cy="920.6" r="4.7"/><circle cx="1441.6" cy="657.6" r="4.7"/><circle cx="1373.5" cy="813.7" r="4.7"/><circle cx="1302.6" cy="924.4" r="4.7"/><circle cx="1387.7" cy="800.2" r="4.7"/><circle cx="1384.3" cy="799.0" r="4.7"/><circle cx="1326.9" cy="889.6" r="4.7"/><circle cx="1210.8" cy="932.4" r="4.7"/><circle cx="1211.8" cy="929.7" r="4.7"/><circle cx="1382.6" cy="804.0" r="4.7"/><circle cx="1337.6" cy="794.3" r="4.7"/><circle cx="1467.5" cy="818.3" r="4.7"/><circle cx="1260.8" cy="820.0" r="4.7"/><circle cx="1369.6" cy="785.0" r="4.7"/><circle cx="1360.2" cy="753.2" r="4.7"/><circle cx="1326.3" cy="884.0" r="4.7"/><circle cx="1211.9" cy="893.7" r="4.7"/><circle cx="1259.0" cy="831.3" r="4.7"/><circle cx="1219.9" cy="885.2" r="4.7"/><circle cx="1230.4" cy="858.8" r="4.7"/><circle cx="1370.6" cy="818.4" r="4.7"/><circle cx="1295.6" cy="786.0" r="4.7"/><circle cx="1222.1" cy="888.1" r="4.7"/><circle cx="1356.5" cy="868.1" r="4.7"/><circle cx="1328.1" cy="888.0" r="4.7"/><circle cx="1229.3" cy="932.2" r="4.7"/><circle cx="1302.9" cy="788.5" r="4.7"/><circle cx="1374.5" cy="793.3" r="4.7"/><circle cx="1310.2" cy="903.8" r="4.7"/><circle cx="1319.9" cy="799.1" r="4.7"/><circle cx="1218.7" cy="886.4" r="4.7"/><circle cx="1384.7" cy="763.0" r="4.7"/><circle cx="1385.8" cy="739.1" r="4.7"/><circle cx="1270.7" cy="825.7" r="4.7"/><circle cx="1242.9" cy="932.9" r="4.7"/><circle cx="1342.8" cy="768.6" r="4.7"/><circle cx="1215.6" cy="893.1" r="4.7"/><circle cx="1228.0" cy="875.2" r="4.7"/><circle cx="1403.6" cy="689.8" r="4.7"/><circle cx="1210.1" cy="899.9" r="4.7"/><circle cx="1370.0" cy="789.2" r="4.7"/><circle cx="1335.5" cy="883.4" r="4.7"/><circle cx="1343.8" cy="869.1" r="4.7"/><circle cx="1219.1" cy="878.6" r="4.7"/><circle cx="1224.6" cy="877.0" r="4.7"/><circle cx="1273.3" cy="929.4" r="4.7"/><circle cx="1386.0" cy="805.1" r="4.7"/><circle cx="1260.9" cy="820.4" r="4.7"/><circle cx="1277.6" cy="812.4" r="4.7"/><circle cx="1296.0" cy="811.5" r="4.7"/><circle cx="1395.5" cy="751.8" r="4.7"/><circle cx="1222.9" cy="932.0" r="4.7"/><circle cx="1209.6" cy="928.0" r="4.7"/><circle cx="1283.7" cy="925.4" r="4.7"/><circle cx="1261.6" cy="932.7" r="4.7"/><circle cx="1252.9" cy="933.2" r="4.7"/><circle cx="1383.1" cy="789.6" r="4.7"/><circle cx="1211.2" cy="931.1" r="4.7"/><circle cx="1383.6" cy="818.9" r="4.7"/><circle cx="1429.0" cy="829.9" r="4.7"/><circle cx="1208.8" cy="892.5" r="4.7"/><circle cx="1348.0" cy="874.4" r="4.7"/><circle cx="1213.8" cy="891.1" r="4.7"/><circle cx="1373.2" cy="825.0" r="4.7"/><circle cx="1231.8" cy="863.0" r="4.7"/><circle cx="1273.9" cy="819.1" r="4.7"/><circle cx="1353.2" cy="855.3" r="4.7"/><circle cx="1279.7" cy="926.0" r="4.7"/><circle cx="1317.6" cy="906.6" r="4.7"/><circle cx="1208.8" cy="930.7" r="4.7"/><circle cx="1355.8" cy="874.2" r="4.7"/><circle cx="1318.8" cy="802.5" r="4.7"/><circle cx="1348.7" cy="770.4" r="4.7"/><circle cx="1350.6" cy="867.5" r="4.7"/><circle cx="1372.0" cy="759.0" r="4.7"/><circle cx="1311.5" cy="912.4" r="4.7"/><circle cx="1295.9" cy="911.2" r="4.7"/><circle cx="1254.9" cy="840.5" r="4.7"/><circle cx="1366.2" cy="863.5" r="4.7"/><circle cx="1288.5" cy="816.5" r="4.7"/><circle cx="1240.2" cy="818.2" r="4.7"/><circle cx="1217.9" cy="846.8" r="4.7"/><circle cx="1242.5" cy="844.9" r="4.7"/><circle cx="1346.3" cy="773.8" r="4.7"/><circle cx="1281.5" cy="923.2" r="4.7"/><circle cx="1211.1" cy="898.1" r="4.7"/><circle cx="1402.3" cy="763.3" r="4.7"/><circle cx="1371.1" cy="820.9" r="4.7"/><circle cx="1224.7" cy="872.7" r="4.7"/><circle cx="1342.4" cy="881.0" r="4.7"/><circle cx="1317.2" cy="892.7" r="4.7"/><circle cx="1237.2" cy="853.3" r="4.7"/><circle cx="1373.8" cy="835.8" r="4.7"/><circle cx="1382.8" cy="720.5" r="4.7"/><circle cx="1348.8" cy="753.1" r="4.7"/><circle cx="1373.7" cy="848.0" r="4.7"/><circle cx="1214.7" cy="900.3" r="4.7"/><circle cx="1216.5" cy="895.6" r="4.7"/><circle cx="1344.8" cy="883.7" r="4.7"/><circle cx="1374.2" cy="817.6" r="4.7"/><circle cx="1240.1" cy="823.4" r="4.7"/><circle cx="1413.7" cy="776.8" r="4.7"/><circle cx="1393.3" cy="734.8" r="4.7"/><circle cx="1381.3" cy="843.4" r="4.7"/><circle cx="1275.2" cy="929.8" r="4.7"/><circle cx="1248.6" cy="844.8" r="4.7"/><circle cx="1367.5" cy="773.1" r="4.7"/><circle cx="1275.5" cy="817.9" r="4.7"/><circle cx="1358.8" cy="773.0" r="4.7"/><circle cx="1370.5" cy="817.6" r="4.7"/><circle cx="1233.6" cy="866.5" r="4.7"/><circle cx="1303.1" cy="794.1" r="4.7"/><circle cx="1388.0" cy="836.8" r="4.7"/><circle cx="1210.2" cy="914.7" r="4.7"/><circle cx="1217.5" cy="894.2" r="4.7"/><circle cx="1361.5" cy="777.2" r="4.7"/><circle cx="1368.7" cy="862.3" r="4.7"/><circle cx="1393.4" cy="767.8" r="4.7"/><circle cx="1295.3" cy="914.8" r="4.7"/><circle cx="1346.8" cy="877.8" r="4.7"/><circle cx="1285.4" cy="805.6" r="4.7"/><circle cx="1250.0" cy="850.8" r="4.7"/><circle cx="1302.3" cy="928.8" r="4.7"/><circle cx="1251.5" cy="837.2" r="4.7"/><circle cx="1211.0" cy="929.2" r="4.7"/><circle cx="1231.6" cy="848.1" r="4.7"/><circle cx="1329.6" cy="789.2" r="4.7"/><circle cx="1367.5" cy="776.8" r="4.7"/><circle cx="1333.9" cy="886.5" r="4.7"/><circle cx="1264.8" cy="830.3" r="4.7"/><circle cx="1209.3" cy="924.6" r="4.7"/><circle cx="1310.8" cy="906.6" r="4.7"/><circle cx="1369.5" cy="853.1" r="4.7"/><circle cx="1352.3" cy="855.7" r="4.7"/><circle cx="1315.7" cy="801.1" r="4.7"/><circle cx="1281.8" cy="822.5" r="4.7"/><circle cx="1338.0" cy="790.0" r="4.7"/><circle cx="1393.3" cy="769.2" r="4.7"/><circle cx="1338.7" cy="891.6" r="4.7"/><circle cx="1280.2" cy="813.5" r="4.7"/><circle cx="1281.7" cy="812.0" r="4.7"/><circle cx="1364.1" cy="839.7" r="4.7"/><circle cx="1256.1" cy="793.3" r="4.7"/><circle cx="1331.9" cy="782.4" r="4.7"/><circle cx="1243.0" cy="849.1" r="4.7"/><circle cx="1373.4" cy="846.2" r="4.7"/><circle cx="1284.9" cy="773.6" r="4.7"/><circle cx="1226.7" cy="833.9" r="4.7"/><circle cx="1212.2" cy="905.9" r="4.7"/><circle cx="1396.9" cy="747.3" r="4.7"/><circle cx="1337.5" cy="781.5" r="4.7"/><circle cx="1259.8" cy="779.2" r="4.7"/><circle cx="1361.2" cy="863.4" r="4.7"/><circle cx="1324.6" cy="789.8" r="4.7"/><circle cx="1355.6" cy="770.2" r="4.7"/><circle cx="1356.9" cy="850.7" r="4.7"/><circle cx="1378.3" cy="853.0" r="4.7"/><circle cx="1222.6" cy="876.0" r="4.7"/><circle cx="1316.5" cy="915.0" r="4.7"/><circle cx="1211.9" cy="894.4" r="4.7"/><circle cx="1402.7" cy="778.2" r="4.7"/><circle cx="1223.6" cy="866.2" r="4.7"/><circle cx="1482.9" cy="759.8" r="4.7"/><circle cx="1219.2" cy="886.6" r="4.7"/><circle cx="1224.2" cy="865.8" r="4.7"/><circle cx="1340.1" cy="879.7" r="4.7"/><circle cx="1271.8" cy="807.8" r="4.7"/><circle cx="1267.6" cy="824.3" r="4.7"/><circle cx="1243.8" cy="833.2" r="4.7"/><circle cx="1349.3" cy="784.8" r="4.7"/><circle cx="1265.0" cy="833.4" r="4.7"/><circle cx="1346.2" cy="776.6" r="4.7"/><circle cx="1330.6" cy="922.7" r="4.7"/><circle cx="1367.8" cy="823.1" r="4.7"/><circle cx="1252.5" cy="933.0" r="4.7"/><circle cx="1251.3" cy="839.1" r="4.7"/><circle cx="1210.7" cy="933.2" r="4.7"/><circle cx="1331.2" cy="771.8" r="4.7"/><circle cx="1402.1" cy="835.7" r="4.7"/><circle cx="1284.1" cy="928.5" r="4.7"/><circle cx="1288.8" cy="804.4" r="4.7"/><circle cx="1375.3" cy="827.6" r="4.7"/><circle cx="1255.5" cy="933.8" r="4.7"/><circle cx="1354.4" cy="777.2" r="4.7"/><circle cx="1508.4" cy="639.3" r="4.7"/><circle cx="1384.3" cy="778.2" r="4.7"/><circle cx="1386.4" cy="711.4" r="4.7"/><circle cx="1404.5" cy="782.6" r="4.7"/><circle cx="1364.1" cy="744.0" r="4.7"/><circle cx="1377.2" cy="808.4" r="4.7"/><circle cx="1386.0" cy="777.5" r="4.7"/><circle cx="1430.8" cy="733.8" r="4.7"/><circle cx="1545.0" cy="672.8" r="4.7"/><circle cx="1402.6" cy="749.9" r="4.7"/><circle cx="1534.4" cy="665.1" r="4.7"/><circle cx="1376.4" cy="777.4" r="4.7"/><circle cx="1357.3" cy="840.1" r="4.7"/><circle cx="1386.1" cy="796.2" r="4.7"/><circle cx="1403.4" cy="752.7" r="4.7"/><circle cx="1487.3" cy="710.5" r="4.7"/><circle cx="1422.0" cy="751.6" r="4.7"/><circle cx="1390.4" cy="737.8" r="4.7"/><circle cx="1341.3" cy="789.2" r="4.7"/><circle cx="1478.1" cy="694.0" r="4.7"/><circle cx="1342.1" cy="788.0" r="4.7"/><circle cx="1531.4" cy="683.7" r="4.7"/><circle cx="1411.2" cy="717.3" r="4.7"/><circle cx="1505.4" cy="805.0" r="4.7"/><circle cx="1365.2" cy="841.1" r="4.7"/><circle cx="1384.8" cy="773.9" r="4.7"/><circle cx="1383.3" cy="802.7" r="4.7"/><circle cx="1485.0" cy="659.0" r="4.7"/><circle cx="1367.8" cy="788.7" r="4.7"/><circle cx="1434.2" cy="731.1" r="4.7"/><circle cx="1488.0" cy="660.0" r="4.7"/><circle cx="1368.9" cy="782.1" r="4.7"/><circle cx="1371.4" cy="764.1" r="4.7"/><circle cx="1499.8" cy="586.0" r="4.7"/><circle cx="1521.8" cy="666.9" r="4.7"/><circle cx="1494.9" cy="751.6" r="4.7"/><circle cx="1380.3" cy="804.8" r="4.7"/><circle cx="1393.9" cy="755.7" r="4.7"/><circle cx="1387.5" cy="797.5" r="4.7"/><circle cx="1394.0" cy="749.6" r="4.7"/><circle cx="1403.5" cy="813.7" r="4.7"/><circle cx="1380.6" cy="756.5" r="4.7"/><circle cx="1529.6" cy="710.8" r="4.7"/><circle cx="1389.2" cy="810.4" r="4.7"/><circle cx="1402.4" cy="756.3" r="4.7"/><circle cx="1339.4" cy="786.5" r="4.7"/><circle cx="1403.0" cy="751.3" r="4.7"/><circle cx="1404.6" cy="735.5" r="4.7"/><circle cx="1373.7" cy="800.7" r="4.7"/><circle cx="1525.3" cy="620.6" r="4.7"/><circle cx="1409.2" cy="711.0" r="4.7"/><circle cx="1492.3" cy="766.7" r="4.7"/><circle cx="1393.9" cy="808.0" r="4.7"/><circle cx="1530.9" cy="672.1" r="4.7"/><circle cx="1366.2" cy="754.5" r="4.7"/><circle cx="1375.7" cy="765.2" r="4.7"/><circle cx="1376.4" cy="773.5" r="4.7"/><circle cx="1373.3" cy="819.4" r="4.7"/><circle cx="1436.5" cy="705.4" r="4.7"/><circle cx="1542.1" cy="727.1" r="4.7"/><circle cx="1446.8" cy="656.6" r="4.7"/><circle cx="1377.4" cy="736.8" r="4.7"/><circle cx="1413.0" cy="759.0" r="4.7"/><circle cx="1409.3" cy="807.2" r="4.7"/><circle cx="1396.0" cy="712.7" r="4.7"/><circle cx="1359.4" cy="767.7" r="4.7"/><circle cx="1383.9" cy="783.5" r="4.7"/><circle cx="1305.5" cy="923.4" r="4.7"/><circle cx="1374.7" cy="784.7" r="4.7"/><circle cx="1515.9" cy="757.7" r="4.7"/><circle cx="1472.5" cy="754.9" r="4.7"/><circle cx="1407.8" cy="757.2" r="4.7"/><circle cx="1382.0" cy="763.8" r="4.7"/><circle cx="1371.4" cy="791.9" r="4.7"/><circle cx="1401.1" cy="763.9" r="4.7"/><circle cx="1362.1" cy="828.4" r="4.7"/><circle cx="1392.4" cy="875.2" r="4.7"/><circle cx="1380.7" cy="793.2" r="4.7"/><circle cx="1384.9" cy="752.0" r="4.7"/><circle cx="1362.8" cy="770.8" r="4.7"/><circle cx="1423.3" cy="722.3" r="4.7"/><circle cx="1431.5" cy="730.3" r="4.7"/><circle cx="1364.8" cy="796.4" r="4.7"/><circle cx="1383.4" cy="752.3" r="4.7"/><circle cx="1550.6" cy="738.4" r="4.7"/><circle cx="1381.4" cy="773.6" r="4.7"/><circle cx="1302.1" cy="908.4" r="4.7"/><circle cx="1363.8" cy="853.9" r="4.7"/><circle cx="1470.1" cy="692.3" r="4.7"/><circle cx="1391.7" cy="750.1" r="4.7"/><circle cx="1360.7" cy="791.6" r="4.7"/><circle cx="1464.0" cy="771.1" r="4.7"/><circle cx="1465.5" cy="650.7" r="4.7"/><circle cx="1397.5" cy="771.0" r="4.7"/><circle cx="1376.7" cy="777.9" r="4.7"/><circle cx="1538.0" cy="661.1" r="4.7"/><circle cx="1428.0" cy="663.1" r="4.7"/><circle cx="1377.3" cy="744.2" r="4.7"/><circle cx="1385.8" cy="771.5" r="4.7"/><circle cx="1419.4" cy="819.1" r="4.7"/><circle cx="1490.7" cy="820.8" r="4.7"/><circle cx="1485.4" cy="700.8" r="4.7"/><circle cx="1318.9" cy="798.6" r="4.7"/><circle cx="1359.7" cy="791.9" r="4.7"/><circle cx="1507.1" cy="695.6" r="4.7"/><circle cx="1359.7" cy="852.2" r="4.7"/><circle cx="1478.5" cy="754.3" r="4.7"/><circle cx="1364.2" cy="822.8" r="4.7"/><circle cx="1356.8" cy="845.8" r="4.7"/><circle cx="1325.2" cy="775.8" r="4.7"/><circle cx="1357.4" cy="750.4" r="4.7"/><circle cx="1483.9" cy="686.2" r="4.7"/><circle cx="1400.8" cy="750.3" r="4.7"/><circle cx="1444.7" cy="825.6" r="4.7"/><circle cx="1398.5" cy="756.5" r="4.7"/><circle cx="1433.4" cy="622.3" r="4.7"/><circle cx="1393.4" cy="764.6" r="4.7"/><circle cx="1377.1" cy="777.6" r="4.7"/><circle cx="1453.1" cy="805.7" r="4.7"/><circle cx="1426.6" cy="748.7" r="4.7"/><circle cx="1491.8" cy="662.5" r="4.7"/><circle cx="1365.2" cy="785.8" r="4.7"/><circle cx="1504.8" cy="734.4" r="4.7"/><circle cx="1524.4" cy="736.8" r="4.7"/><circle cx="1360.1" cy="781.5" r="4.7"/><circle cx="1374.5" cy="774.0" r="4.7"/><circle cx="1365.0" cy="804.8" r="4.7"/><circle cx="1355.7" cy="774.9" r="4.7"/><circle cx="1352.4" cy="753.0" r="4.7"/><circle cx="1437.4" cy="751.9" r="4.7"/><circle cx="1381.6" cy="760.9" r="4.7"/><circle cx="1370.7" cy="776.4" r="4.7"/><circle cx="1403.2" cy="739.2" r="4.7"/><circle cx="1389.8" cy="751.0" r="4.7"/><circle cx="1379.0" cy="803.7" r="4.7"/><circle cx="1346.1" cy="755.3" r="4.7"/><circle cx="1485.1" cy="641.9" r="4.7"/><circle cx="1303.2" cy="794.5" r="4.7"/><circle cx="1552.4" cy="762.7" r="4.7"/><circle cx="1372.5" cy="754.9" r="4.7"/><circle cx="1433.2" cy="700.0" r="4.7"/><circle cx="1375.3" cy="806.5" r="4.7"/><circle cx="1378.5" cy="804.8" r="4.7"/><circle cx="1372.1" cy="784.4" r="4.7"/><circle cx="1428.9" cy="723.5" r="4.7"/><circle cx="1391.3" cy="734.5" r="4.7"/><circle cx="1424.8" cy="774.0" r="4.7"/><circle cx="1451.9" cy="734.1" r="4.7"/><circle cx="1380.6" cy="794.3" r="4.7"/><circle cx="1524.2" cy="732.8" r="4.7"/><circle cx="1355.3" cy="790.8" r="4.7"/><circle cx="1383.1" cy="728.6" r="4.7"/><circle cx="1424.2" cy="677.6" r="4.7"/><circle cx="1371.7" cy="772.1" r="4.7"/><circle cx="1404.4" cy="749.4" r="4.7"/><circle cx="1523.3" cy="720.8" r="4.7"/><circle cx="1454.1" cy="727.7" r="4.7"/><circle cx="1456.8" cy="746.5" r="4.7"/><circle cx="1395.7" cy="759.6" r="4.7"/><circle cx="1417.4" cy="748.1" r="4.7"/><circle cx="1490.9" cy="712.7" r="4.7"/><circle cx="1322.9" cy="779.9" r="4.7"/><circle cx="1516.0" cy="700.1" r="4.7"/><circle cx="1423.7" cy="725.6" r="4.7"/><circle cx="1542.9" cy="723.9" r="4.7"/><circle cx="1471.0" cy="837.5" r="4.7"/><circle cx="1409.8" cy="778.8" r="4.7"/><circle cx="1395.4" cy="800.6" r="4.7"/><circle cx="1369.9" cy="767.4" r="4.7"/><circle cx="1393.6" cy="777.0" r="4.7"/><circle cx="1458.8" cy="686.3" r="4.7"/><circle cx="1368.3" cy="765.4" r="4.7"/><circle cx="1380.0" cy="791.2" r="4.7"/><circle cx="1366.3" cy="788.2" r="4.7"/><circle cx="1375.4" cy="770.3" r="4.7"/><circle cx="1344.3" cy="861.1" r="4.7"/><circle cx="1387.4" cy="697.9" r="4.7"/><circle cx="1377.6" cy="772.0" r="4.7"/><circle cx="1349.2" cy="770.5" r="4.7"/><circle cx="1386.3" cy="785.8" r="4.7"/><circle cx="1394.9" cy="768.0" r="4.7"/><circle cx="1365.9" cy="784.2" r="4.7"/><circle cx="1423.0" cy="643.9" r="4.7"/><circle cx="1433.0" cy="722.4" r="4.7"/><circle cx="1386.1" cy="822.0" r="4.7"/><circle cx="1387.4" cy="713.3" r="4.7"/><circle cx="1468.9" cy="769.8" r="4.7"/><circle cx="1379.0" cy="772.5" r="4.7"/><circle cx="1298.4" cy="803.2" r="4.7"/><circle cx="1340.4" cy="778.0" r="4.7"/><circle cx="1408.4" cy="758.4" r="4.7"/><circle cx="1341.1" cy="786.6" r="4.7"/><circle cx="1369.5" cy="786.6" r="4.7"/><circle cx="1365.2" cy="762.5" r="4.7"/><circle cx="1386.7" cy="780.4" r="4.7"/><circle cx="1385.5" cy="749.7" r="4.7"/><circle cx="1407.2" cy="749.2" r="4.7"/><circle cx="1477.5" cy="685.6" r="4.7"/><circle cx="1393.9" cy="763.6" r="4.7"/><circle cx="1400.8" cy="750.4" r="4.7"/><circle cx="1413.6" cy="786.5" r="4.7"/><circle cx="1403.8" cy="764.0" r="4.7"/><circle cx="1357.5" cy="784.6" r="4.7"/><circle cx="1388.5" cy="764.6" r="4.7"/><circle cx="1414.7" cy="768.4" r="4.7"/><circle cx="1475.8" cy="751.0" r="4.7"/><circle cx="1363.6" cy="787.6" r="4.7"/><circle cx="1516.0" cy="703.5" r="4.7"/><circle cx="1437.2" cy="686.7" r="4.7"/><circle cx="1393.0" cy="873.1" r="4.7"/><circle cx="1382.9" cy="752.7" r="4.7"/><circle cx="1366.1" cy="819.7" r="4.7"/><circle cx="1381.2" cy="749.0" r="4.7"/><circle cx="1433.7" cy="763.4" r="4.7"/><circle cx="1412.0" cy="811.8" r="4.7"/><circle cx="1501.9" cy="783.3" r="4.7"/><circle cx="1477.1" cy="682.8" r="4.7"/><circle cx="1377.8" cy="741.5" r="4.7"/><circle cx="1404.1" cy="704.3" r="4.7"/><circle cx="1391.4" cy="772.3" r="4.7"/><circle cx="1458.5" cy="724.7" r="4.7"/><circle cx="1472.1" cy="684.9" r="4.7"/><circle cx="1453.8" cy="646.7" r="4.7"/><circle cx="1384.3" cy="766.9" r="4.7"/><circle cx="1402.3" cy="742.3" r="4.7"/><circle cx="1298.9" cy="911.3" r="4.7"/><circle cx="1388.5" cy="777.3" r="4.7"/><circle cx="1466.0" cy="727.8" r="4.7"/><circle cx="1528.5" cy="634.5" r="4.7"/><circle cx="1533.2" cy="626.6" r="4.7"/><circle cx="1471.3" cy="792.3" r="4.7"/><circle cx="1382.5" cy="749.6" r="4.7"/><circle cx="1533.6" cy="779.5" r="4.7"/><circle cx="1407.6" cy="849.5" r="4.7"/><circle cx="1382.1" cy="783.7" r="4.7"/><circle cx="1365.6" cy="791.8" r="4.7"/><circle cx="1445.9" cy="668.7" r="4.7"/><circle cx="1363.5" cy="794.5" r="4.7"/><circle cx="1523.1" cy="691.0" r="4.7"/><circle cx="1371.5" cy="805.9" r="4.7"/><circle cx="1381.5" cy="756.5" r="4.7"/><circle cx="1362.0" cy="796.2" r="4.7"/><circle cx="1365.4" cy="779.2" r="4.7"/><circle cx="1390.5" cy="797.0" r="4.7"/><circle cx="1487.7" cy="653.1" r="4.7"/><circle cx="1393.2" cy="763.7" r="4.7"/><circle cx="1408.6" cy="754.7" r="4.7"/><circle cx="1341.6" cy="746.1" r="4.7"/><circle cx="1315.1" cy="807.3" r="4.7"/><circle cx="1403.9" cy="760.4" r="4.7"/><circle cx="1388.0" cy="720.0" r="4.7"/><circle cx="1454.2" cy="731.9" r="4.7"/><circle cx="1386.1" cy="725.8" r="4.7"/><circle cx="1494.5" cy="656.4" r="4.7"/><circle cx="1394.9" cy="759.2" r="4.7"/><circle cx="1413.7" cy="756.7" r="4.7"/><circle cx="1392.8" cy="754.8" r="4.7"/><circle cx="1354.1" cy="782.9" r="4.7"/><circle cx="1391.6" cy="808.5" r="4.7"/><circle cx="1415.0" cy="783.9" r="4.7"/><circle cx="1471.8" cy="735.9" r="4.7"/><circle cx="1420.2" cy="737.6" r="4.7"/><circle cx="1444.7" cy="749.7" r="4.7"/><circle cx="1533.3" cy="772.0" r="4.7"/><circle cx="1357.6" cy="788.3" r="4.7"/><circle cx="1458.9" cy="602.7" r="4.7"/><circle cx="1542.4" cy="679.4" r="4.7"/><circle cx="1351.5" cy="789.7" r="4.7"/><circle cx="1390.8" cy="780.8" r="4.7"/><circle cx="1397.4" cy="750.4" r="4.7"/><circle cx="1531.5" cy="716.9" r="4.7"/><circle cx="1405.8" cy="746.2" r="4.7"/><circle cx="1377.3" cy="825.9" r="4.7"/><circle cx="1361.5" cy="774.9" r="4.7"/><circle cx="1373.8" cy="793.2" r="4.7"/><circle cx="1445.2" cy="763.8" r="4.7"/><circle cx="1415.2" cy="719.8" r="4.7"/><circle cx="1411.6" cy="770.5" r="4.7"/><circle cx="1499.4" cy="685.6" r="4.7"/><circle cx="1505.7" cy="683.2" r="4.7"/><circle cx="1493.0" cy="689.1" r="4.7"/><circle cx="1529.2" cy="734.5" r="4.7"/><circle cx="1425.6" cy="834.7" r="4.7"/><circle cx="1376.0" cy="772.5" r="4.7"/><circle cx="1517.9" cy="784.5" r="4.7"/><circle cx="1348.7" cy="775.6" r="4.7"/><circle cx="1369.5" cy="815.9" r="4.7"/><circle cx="1325.0" cy="796.9" r="4.7"/><circle cx="1374.2" cy="823.0" r="4.7"/><circle cx="1369.1" cy="773.2" r="4.7"/><circle cx="1468.5" cy="771.7" r="4.7"/><circle cx="1369.0" cy="788.2" r="4.7"/><circle cx="1371.9" cy="785.5" r="4.7"/><circle cx="1434.9" cy="749.6" r="4.7"/><circle cx="1392.5" cy="743.0" r="4.7"/><circle cx="1522.5" cy="641.7" r="4.7"/><circle cx="1470.5" cy="738.2" r="4.7"/><circle cx="1524.2" cy="680.9" r="4.7"/><circle cx="1501.5" cy="714.4" r="4.7"/><circle cx="1459.6" cy="690.5" r="4.7"/><circle cx="1516.5" cy="625.9" r="4.7"/><circle cx="1472.6" cy="752.4" r="4.7"/><circle cx="1387.3" cy="802.7" r="4.7"/><circle cx="1433.4" cy="700.7" r="4.7"/><circle cx="1407.7" cy="748.2" r="4.7"/><circle cx="1391.6" cy="742.7" r="4.7"/><circle cx="1518.5" cy="731.7" r="4.7"/><circle cx="1384.4" cy="789.8" r="4.7"/><circle cx="1532.1" cy="687.8" r="4.7"/><circle cx="1492.3" cy="669.6" r="4.7"/><circle cx="1394.6" cy="797.9" r="4.7"/><circle cx="1485.2" cy="720.8" r="4.7"/><circle cx="1365.8" cy="739.3" r="4.7"/><circle cx="1504.7" cy="589.2" r="4.7"/><circle cx="1455.7" cy="854.9" r="4.7"/><circle cx="1419.5" cy="791.5" r="4.7"/><circle cx="1466.0" cy="690.5" r="4.7"/><circle cx="1398.4" cy="768.2" r="4.7"/><circle cx="1538.1" cy="645.5" r="4.7"/><circle cx="1365.3" cy="888.0" r="4.7"/><circle cx="1405.9" cy="712.7" r="4.7"/><circle cx="1538.0" cy="673.5" r="4.7"/><circle cx="1403.2" cy="754.1" r="4.7"/><circle cx="1528.1" cy="720.9" r="4.7"/><circle cx="1394.2" cy="762.0" r="4.7"/><circle cx="1398.0" cy="750.8" r="4.7"/><circle cx="1495.4" cy="668.2" r="4.7"/><circle cx="1394.2" cy="703.9" r="4.7"/><circle cx="1405.4" cy="834.6" r="4.7"/><circle cx="1455.6" cy="787.8" r="4.7"/><circle cx="1417.8" cy="680.5" r="4.7"/><circle cx="1422.7" cy="756.7" r="4.7"/><circle cx="1424.3" cy="711.6" r="4.7"/><circle cx="1394.4" cy="744.5" r="4.7"/><circle cx="1381.9" cy="844.2" r="4.7"/><circle cx="1442.3" cy="717.2" r="4.7"/><circle cx="1370.1" cy="774.8" r="4.7"/><circle cx="1362.2" cy="798.0" r="4.7"/><circle cx="1394.6" cy="767.4" r="4.7"/><circle cx="1371.9" cy="765.4" r="4.7"/><circle cx="1454.0" cy="757.3" r="4.7"/><circle cx="1411.0" cy="720.2" r="4.7"/><circle cx="1528.0" cy="597.9" r="4.7"/><circle cx="1346.0" cy="784.6" r="4.7"/><circle cx="1377.3" cy="761.8" r="4.7"/><circle cx="1443.2" cy="758.3" r="4.7"/><circle cx="1491.5" cy="662.9" r="4.7"/><circle cx="1426.4" cy="745.9" r="4.7"/><circle cx="1362.3" cy="774.1" r="4.7"/><circle cx="1462.7" cy="675.4" r="4.7"/><circle cx="1370.6" cy="786.9" r="4.7"/><circle cx="1548.5" cy="649.3" r="4.7"/><circle cx="1375.4" cy="747.9" r="4.7"/><circle cx="1400.3" cy="743.3" r="4.7"/><circle cx="1377.5" cy="810.8" r="4.7"/><circle cx="1360.3" cy="837.1" r="4.7"/><circle cx="1403.4" cy="754.7" r="4.7"/><circle cx="1393.1" cy="816.0" r="4.7"/><circle cx="1517.4" cy="771.3" r="4.7"/><circle cx="1506.3" cy="683.6" r="4.7"/><circle cx="1353.8" cy="745.4" r="4.7"/><circle cx="1361.1" cy="765.7" r="4.7"/><circle cx="1368.1" cy="796.9" r="4.7"/><circle cx="1370.1" cy="804.8" r="4.7"/><circle cx="1290.5" cy="816.8" r="4.7"/><circle cx="1373.2" cy="754.5" r="4.7"/><circle cx="1353.8" cy="768.7" r="4.7"/><circle cx="1467.2" cy="774.1" r="4.7"/><circle cx="1483.9" cy="740.0" r="4.7"/><circle cx="1402.0" cy="785.4" r="4.7"/><circle cx="1382.3" cy="743.2" r="4.7"/><circle cx="1388.9" cy="738.1" r="4.7"/><circle cx="1412.1" cy="775.1" r="4.7"/><circle cx="1462.2" cy="744.6" r="4.7"/><circle cx="1371.8" cy="796.3" r="4.7"/><circle cx="1525.1" cy="695.1" r="4.7"/><circle cx="1484.5" cy="654.8" r="4.7"/><circle cx="1292.0" cy="817.1" r="4.7"/><circle cx="1313.5" cy="798.8" r="4.7"/><circle cx="1456.4" cy="736.1" r="4.7"/><circle cx="1374.1" cy="779.7" r="4.7"/><circle cx="1396.2" cy="741.0" r="4.7"/><circle cx="1549.7" cy="630.1" r="4.7"/><circle cx="1383.1" cy="779.7" r="4.7"/><circle cx="1479.9" cy="757.8" r="4.7"/><circle cx="1424.8" cy="844.7" r="4.7"/><circle cx="1394.2" cy="793.4" r="4.7"/><circle cx="1371.4" cy="795.7" r="4.7"/><circle cx="1499.6" cy="763.8" r="4.7"/><circle cx="1379.2" cy="792.3" r="4.7"/><circle cx="1386.8" cy="787.4" r="4.7"/><circle cx="1439.9" cy="776.5" r="4.7"/><circle cx="1446.4" cy="771.0" r="4.7"/><circle cx="1304.1" cy="807.9" r="4.7"/><circle cx="1415.8" cy="749.6" r="4.7"/><circle cx="1393.6" cy="823.5" r="4.7"/><circle cx="1346.4" cy="776.8" r="4.7"/><circle cx="1378.5" cy="767.4" r="4.7"/><circle cx="1500.9" cy="726.9" r="4.7"/><circle cx="1433.7" cy="638.6" r="4.7"/><circle cx="1371.8" cy="805.3" r="4.7"/><circle cx="1363.8" cy="806.0" r="4.7"/><circle cx="1369.4" cy="769.8" r="4.7"/><circle cx="1465.0" cy="686.8" r="4.7"/><circle cx="1359.4" cy="783.0" r="4.7"/><circle cx="1373.2" cy="786.5" r="4.7"/><circle cx="1527.8" cy="679.9" r="4.7"/><circle cx="1448.5" cy="812.5" r="4.7"/><circle cx="1531.5" cy="685.5" r="4.7"/><circle cx="1519.6" cy="826.6" r="4.7"/><circle cx="1532.6" cy="682.7" r="4.7"/><circle cx="1393.0" cy="748.0" r="4.7"/><circle cx="1365.7" cy="815.6" r="4.7"/><circle cx="1399.3" cy="733.5" r="4.7"/><circle cx="1391.8" cy="757.6" r="4.7"/><circle cx="1355.6" cy="787.9" r="4.7"/><circle cx="1394.4" cy="757.9" r="4.7"/><circle cx="1374.6" cy="748.6" r="4.7"/><circle cx="1416.9" cy="679.2" r="4.7"/><circle cx="1384.9" cy="803.7" r="4.7"/><circle cx="1444.0" cy="695.3" r="4.7"/><circle cx="1382.4" cy="774.2" r="4.7"/><circle cx="1381.6" cy="761.2" r="4.7"/><circle cx="1385.7" cy="789.5" r="4.7"/><circle cx="1469.7" cy="672.4" r="4.7"/><circle cx="1419.5" cy="796.5" r="4.7"/><circle cx="1536.7" cy="630.2" r="4.7"/><circle cx="1309.4" cy="811.8" r="4.7"/><circle cx="1386.0" cy="779.7" r="4.7"/><circle cx="1434.9" cy="753.4" r="4.7"/><circle cx="1363.8" cy="787.2" r="4.7"/><circle cx="1378.9" cy="756.4" r="4.7"/><circle cx="1363.7" cy="800.9" r="4.7"/><circle cx="1396.1" cy="737.3" r="4.7"/><circle cx="1398.8" cy="749.6" r="4.7"/><circle cx="1413.2" cy="731.8" r="4.7"/><circle cx="1374.3" cy="785.2" r="4.7"/><circle cx="1400.4" cy="694.9" r="4.7"/><circle cx="1488.0" cy="706.1" r="4.7"/><circle cx="1394.1" cy="801.9" r="4.7"/><circle cx="1410.1" cy="769.1" r="4.7"/><circle cx="1376.0" cy="784.2" r="4.7"/><circle cx="1377.1" cy="766.9" r="4.7"/><circle cx="1340.8" cy="792.0" r="4.7"/><circle cx="1461.1" cy="777.7" r="4.7"/><circle cx="1382.9" cy="804.2" r="4.7"/><circle cx="1547.6" cy="759.9" r="4.7"/><circle cx="1353.1" cy="778.7" r="4.7"/><circle cx="1441.5" cy="726.5" r="4.7"/><circle cx="1446.8" cy="724.8" r="4.7"/><circle cx="1367.5" cy="848.1" r="4.7"/><circle cx="1386.8" cy="768.7" r="4.7"/><circle cx="1419.6" cy="736.6" r="4.7"/><circle cx="1361.5" cy="788.4" r="4.7"/><circle cx="1384.8" cy="753.0" r="4.7"/><circle cx="1533.8" cy="682.2" r="4.7"/><circle cx="1426.0" cy="745.5" r="4.7"/><circle cx="1393.8" cy="791.0" r="4.7"/><circle cx="1446.6" cy="755.6" r="4.7"/><circle cx="1378.9" cy="760.8" r="4.7"/><circle cx="1365.3" cy="794.2" r="4.7"/><circle cx="1339.5" cy="748.7" r="4.7"/><circle cx="1359.4" cy="766.7" r="4.7"/><circle cx="1315.5" cy="794.2" r="4.7"/><circle cx="1367.6" cy="748.5" r="4.7"/><circle cx="1393.2" cy="697.3" r="4.7"/><circle cx="1350.6" cy="862.3" r="4.7"/><circle cx="1472.5" cy="789.6" r="4.7"/><circle cx="1364.0" cy="800.6" r="4.7"/><circle cx="1466.0" cy="773.4" r="4.7"/><circle cx="1485.9" cy="719.0" r="4.7"/><circle cx="1381.4" cy="777.2" r="4.7"/><circle cx="1543.6" cy="598.3" r="4.7"/><circle cx="1376.5" cy="795.9" r="4.7"/><circle cx="1463.1" cy="734.6" r="4.7"/><circle cx="1392.7" cy="817.3" r="4.7"/><circle cx="1370.1" cy="795.3" r="4.7"/><circle cx="1508.2" cy="644.5" r="4.7"/><circle cx="1543.3" cy="718.9" r="4.7"/><circle cx="1488.2" cy="700.7" r="4.7"/><circle cx="1547.7" cy="714.5" r="4.7"/><circle cx="1447.0" cy="762.7" r="4.7"/><circle cx="1483.6" cy="712.9" r="4.7"/><circle cx="1389.5" cy="713.6" r="4.7"/><circle cx="1393.7" cy="748.6" r="4.7"/><circle cx="1397.5" cy="767.7" r="4.7"/><circle cx="1379.7" cy="773.5" r="4.7"/><circle cx="1399.0" cy="777.9" r="4.7"/><circle cx="1369.3" cy="763.8" r="4.7"/><circle cx="1379.0" cy="794.8" r="4.7"/><circle cx="1389.2" cy="766.0" r="4.7"/><circle cx="1372.9" cy="808.4" r="4.7"/><circle cx="1356.9" cy="778.5" r="4.7"/><circle cx="1368.2" cy="789.1" r="4.7"/><circle cx="1502.1" cy="637.3" r="4.7"/><circle cx="1379.7" cy="787.4" r="4.7"/><circle cx="1363.4" cy="796.9" r="4.7"/><circle cx="1522.5" cy="714.7" r="4.7"/><circle cx="1513.1" cy="642.9" r="4.7"/><circle cx="1384.7" cy="784.6" r="4.7"/><circle cx="1438.2" cy="767.3" r="4.7"/><circle cx="1426.1" cy="763.2" r="4.7"/><circle cx="1482.8" cy="681.7" r="4.7"/><circle cx="1525.6" cy="657.5" r="4.7"/><circle cx="1399.6" cy="761.7" r="4.7"/><circle cx="1497.9" cy="689.7" r="4.7"/><circle cx="1524.9" cy="737.5" r="4.7"/><circle cx="1401.8" cy="770.2" r="4.7"/><circle cx="1436.5" cy="753.5" r="4.7"/><circle cx="1499.1" cy="765.7" r="4.7"/><circle cx="1383.2" cy="763.2" r="4.7"/><circle cx="1378.2" cy="745.6" r="4.7"/><circle cx="1396.9" cy="749.0" r="4.7"/><circle cx="1377.4" cy="742.6" r="4.7"/><circle cx="1397.2" cy="822.6" r="4.7"/><circle cx="1385.8" cy="762.3" r="4.7"/><circle cx="1382.6" cy="763.5" r="4.7"/><circle cx="1470.4" cy="782.1" r="4.7"/><circle cx="1405.3" cy="717.4" r="4.7"/><circle cx="1360.2" cy="770.6" r="4.7"/><circle cx="1545.4" cy="754.1" r="4.7"/><circle cx="1365.4" cy="787.5" r="4.7"/><circle cx="1384.6" cy="780.4" r="4.7"/><circle cx="1463.2" cy="733.7" r="4.7"/><circle cx="1544.0" cy="644.1" r="4.7"/><circle cx="1406.3" cy="755.1" r="4.7"/><circle cx="1435.8" cy="781.7" r="4.7"/><circle cx="1392.0" cy="774.1" r="4.7"/><circle cx="1417.2" cy="696.4" r="4.7"/><circle cx="1538.7" cy="726.6" r="4.7"/><circle cx="1362.5" cy="829.9" r="4.7"/><circle cx="1392.0" cy="814.8" r="4.7"/><circle cx="1488.5" cy="672.5" r="4.7"/><circle cx="1384.6" cy="774.4" r="4.7"/><circle cx="1364.2" cy="792.5" r="4.7"/><circle cx="1459.6" cy="814.7" r="4.7"/><circle cx="1374.4" cy="786.6" r="4.7"/><circle cx="1543.8" cy="631.6" r="4.7"/><circle cx="1402.1" cy="757.7" r="4.7"/><circle cx="1318.9" cy="787.5" r="4.7"/><circle cx="1404.9" cy="762.8" r="4.7"/><circle cx="1352.3" cy="741.0" r="4.7"/><circle cx="1363.7" cy="720.8" r="4.7"/><circle cx="1465.2" cy="684.1" r="4.7"/><circle cx="1393.6" cy="814.1" r="4.7"/><circle cx="1429.1" cy="689.4" r="4.7"/><circle cx="1376.3" cy="785.6" r="4.7"/><circle cx="1400.9" cy="740.8" r="4.7"/><circle cx="1367.7" cy="790.9" r="4.7"/><circle cx="1378.6" cy="785.1" r="4.7"/><circle cx="1374.6" cy="789.7" r="4.7"/><circle cx="1405.0" cy="811.5" r="4.7"/><circle cx="1438.4" cy="757.1" r="4.7"/><circle cx="1386.8" cy="713.8" r="4.7"/><circle cx="1531.1" cy="722.6" r="4.7"/><circle cx="1523.6" cy="668.0" r="4.7"/><circle cx="1452.6" cy="685.4" r="4.7"/><circle cx="1396.4" cy="801.0" r="4.7"/><circle cx="1371.1" cy="725.4" r="4.7"/><circle cx="1376.1" cy="767.8" r="4.7"/><circle cx="1430.8" cy="747.1" r="4.7"/><circle cx="1456.2" cy="788.1" r="4.7"/><circle cx="1325.6" cy="785.0" r="4.7"/><circle cx="1481.4" cy="687.4" r="4.7"/><circle cx="1483.5" cy="638.3" r="4.7"/><circle cx="1518.8" cy="649.5" r="4.7"/><circle cx="1377.9" cy="792.4" r="4.7"/><circle cx="1471.3" cy="691.1" r="4.7"/><circle cx="1439.0" cy="667.0" r="4.7"/><circle cx="1386.1" cy="785.2" r="4.7"/><circle cx="1427.8" cy="666.5" r="4.7"/><circle cx="1529.9" cy="640.5" r="4.7"/><circle cx="1371.6" cy="800.9" r="4.7"/><circle cx="1505.6" cy="684.5" r="4.7"/><circle cx="1474.1" cy="706.2" r="4.7"/><circle cx="1390.5" cy="829.5" r="4.7"/><circle cx="1523.1" cy="661.3" r="4.7"/><circle cx="1377.8" cy="788.5" r="4.7"/><circle cx="1418.3" cy="742.3" r="4.7"/><circle cx="1419.7" cy="807.9" r="4.7"/><circle cx="1377.1" cy="881.1" r="4.7"/><circle cx="1519.6" cy="654.5" r="4.7"/><circle cx="1389.8" cy="791.9" r="4.7"/><circle cx="1402.9" cy="769.3" r="4.7"/><circle cx="1477.2" cy="669.1" r="4.7"/><circle cx="1390.1" cy="780.1" r="4.7"/><circle cx="1377.2" cy="783.2" r="4.7"/><circle cx="1511.2" cy="665.0" r="4.7"/><circle cx="1393.9" cy="702.0" r="4.7"/><circle cx="1339.1" cy="772.4" r="4.7"/><circle cx="1370.1" cy="801.1" r="4.7"/><circle cx="1391.9" cy="755.6" r="4.7"/><circle cx="1389.1" cy="776.8" r="4.7"/><circle cx="1339.2" cy="780.1" r="4.7"/><circle cx="1369.5" cy="808.1" r="4.7"/><circle cx="1458.9" cy="698.4" r="4.7"/><circle cx="1403.1" cy="734.0" r="4.7"/><circle cx="1382.2" cy="805.8" r="4.7"/><circle cx="1367.7" cy="821.3" r="4.7"/><circle cx="1420.7" cy="746.3" r="4.7"/><circle cx="1443.8" cy="820.3" r="4.7"/><circle cx="1377.4" cy="798.6" r="4.7"/><circle cx="1383.8" cy="750.7" r="4.7"/><circle cx="1436.0" cy="784.4" r="4.7"/><circle cx="1461.1" cy="731.0" r="4.7"/><circle cx="1547.6" cy="688.4" r="4.7"/><circle cx="1430.1" cy="667.0" r="4.7"/><circle cx="1369.8" cy="825.9" r="4.7"/><circle cx="1410.8" cy="769.7" r="4.7"/><circle cx="1380.4" cy="785.3" r="4.7"/><circle cx="1496.8" cy="681.4" r="4.7"/><circle cx="1365.9" cy="793.7" r="4.7"/><circle cx="1470.9" cy="684.7" r="4.7"/><circle cx="1388.2" cy="780.5" r="4.7"/><circle cx="1405.8" cy="738.2" r="4.7"/><circle cx="1388.4" cy="788.5" r="4.7"/><circle cx="1381.3" cy="794.5" r="4.7"/><circle cx="1392.2" cy="767.4" r="4.7"/><circle cx="1377.5" cy="802.8" r="4.7"/><circle cx="1391.1" cy="783.2" r="4.7"/><circle cx="1510.6" cy="775.2" r="4.7"/><circle cx="1379.6" cy="754.1" r="4.7"/><circle cx="1540.7" cy="626.6" r="4.7"/><circle cx="1361.7" cy="781.1" r="4.7"/><circle cx="1393.4" cy="761.6" r="4.7"/><circle cx="1375.8" cy="837.0" r="4.7"/><circle cx="1401.5" cy="709.0" r="4.7"/><circle cx="1374.7" cy="793.8" r="4.7"/><circle cx="1418.1" cy="661.9" r="4.7"/><circle cx="1504.7" cy="630.3" r="4.7"/><circle cx="1397.0" cy="825.0" r="4.7"/><circle cx="1383.4" cy="825.5" r="4.7"/><circle cx="1539.9" cy="712.8" r="4.7"/><circle cx="1368.9" cy="792.9" r="4.7"/><circle cx="1362.7" cy="789.3" r="4.7"/><circle cx="1371.2" cy="795.6" r="4.7"/><circle cx="1355.2" cy="776.2" r="4.7"/><circle cx="1377.0" cy="827.6" r="4.7"/><circle cx="1399.1" cy="727.6" r="4.7"/><circle cx="1469.8" cy="690.3" r="4.7"/><circle cx="1390.1" cy="840.8" r="4.7"/><circle cx="1396.1" cy="803.1" r="4.7"/><circle cx="1340.7" cy="782.5" r="4.7"/><circle cx="1473.7" cy="692.7" r="4.7"/><circle cx="1369.1" cy="756.8" r="4.7"/><circle cx="1510.0" cy="697.9" r="4.7"/><circle cx="1399.7" cy="753.3" r="4.7"/><circle cx="1420.8" cy="732.2" r="4.7"/><circle cx="1350.8" cy="774.0" r="4.7"/><circle cx="1357.9" cy="873.1" r="4.7"/><circle cx="1408.5" cy="758.2" r="4.7"/><circle cx="1382.5" cy="746.0" r="4.7"/><circle cx="1515.8" cy="710.1" r="4.7"/><circle cx="1550.0" cy="605.9" r="4.7"/><circle cx="1371.6" cy="836.7" r="4.7"/><circle cx="1377.8" cy="763.0" r="4.7"/><circle cx="1454.8" cy="754.1" r="4.7"/><circle cx="1435.5" cy="783.4" r="4.7"/><circle cx="1367.8" cy="753.2" r="4.7"/><circle cx="1415.8" cy="749.4" r="4.7"/><circle cx="1415.0" cy="747.3" r="4.7"/><circle cx="1402.5" cy="695.3" r="4.7"/><circle cx="1398.1" cy="732.6" r="4.7"/><circle cx="1547.5" cy="628.3" r="4.7"/><circle cx="1387.9" cy="758.8" r="4.7"/><circle cx="1459.4" cy="687.6" r="4.7"/><circle cx="1432.2" cy="719.7" r="4.7"/><circle cx="1371.0" cy="828.9" r="4.7"/><circle cx="1355.0" cy="748.0" r="4.7"/><circle cx="1399.6" cy="762.7" r="4.7"/><circle cx="1395.3" cy="769.0" r="4.7"/><circle cx="1467.5" cy="731.9" r="4.7"/><circle cx="1466.5" cy="726.5" r="4.7"/><circle cx="1364.3" cy="839.6" r="4.7"/><circle cx="1463.7" cy="716.8" r="4.7"/><circle cx="1367.4" cy="808.1" r="4.7"/><circle cx="1328.5" cy="796.0" r="4.7"/><circle cx="1344.9" cy="774.5" r="4.7"/><circle cx="1388.4" cy="777.9" r="4.7"/><circle cx="1390.9" cy="779.9" r="4.7"/><circle cx="1503.9" cy="684.2" r="4.7"/><circle cx="1362.7" cy="787.9" r="4.7"/><circle cx="1512.2" cy="689.1" r="4.7"/><circle cx="1354.8" cy="780.1" r="4.7"/><circle cx="1386.1" cy="780.7" r="4.7"/><circle cx="1524.1" cy="596.1" r="4.7"/><circle cx="1543.7" cy="798.5" r="4.7"/><circle cx="1423.2" cy="821.1" r="4.7"/><circle cx="1446.6" cy="735.1" r="4.7"/><circle cx="1473.1" cy="715.5" r="4.7"/><circle cx="1470.4" cy="632.1" r="4.7"/><circle cx="1389.5" cy="800.7" r="4.7"/><circle cx="1419.6" cy="780.6" r="4.7"/><circle cx="1386.3" cy="820.2" r="4.7"/><circle cx="1379.7" cy="811.4" r="4.7"/><circle cx="1385.5" cy="752.5" r="4.7"/><circle cx="1372.1" cy="772.9" r="4.7"/><circle cx="1391.7" cy="755.2" r="4.7"/><circle cx="1371.2" cy="779.9" r="4.7"/><circle cx="1541.6" cy="664.3" r="4.7"/><circle cx="1396.9" cy="725.9" r="4.7"/><circle cx="1376.3" cy="817.7" r="4.7"/><circle cx="1374.1" cy="811.4" r="4.7"/><circle cx="1407.8" cy="757.8" r="4.7"/><circle cx="1379.2" cy="782.4" r="4.7"/><circle cx="1381.1" cy="777.4" r="4.7"/><circle cx="1435.6" cy="685.7" r="4.7"/><circle cx="1364.0" cy="830.5" r="4.7"/><circle cx="1515.7" cy="712.6" r="4.7"/><circle cx="1382.7" cy="787.4" r="4.7"/><circle cx="1365.2" cy="762.1" r="4.7"/><circle cx="1486.7" cy="587.1" r="4.7"/><circle cx="1386.4" cy="807.2" r="4.7"/><circle cx="1449.6" cy="752.9" r="4.7"/><circle cx="1473.2" cy="691.6" r="4.7"/><circle cx="1376.1" cy="752.3" r="4.7"/><circle cx="1404.2" cy="755.8" r="4.7"/><circle cx="1515.7" cy="615.4" r="4.7"/><circle cx="1408.0" cy="773.6" r="4.7"/><circle cx="1373.9" cy="816.3" r="4.7"/><circle cx="1387.8" cy="750.5" r="4.7"/><circle cx="1387.1" cy="783.9" r="4.7"/><circle cx="1364.0" cy="762.4" r="4.7"/><circle cx="1473.4" cy="706.6" r="4.7"/><circle cx="1344.3" cy="785.3" r="4.7"/><circle cx="1340.3" cy="780.8" r="4.7"/><circle cx="1392.6" cy="750.9" r="4.7"/><circle cx="1407.7" cy="715.8" r="4.7"/><circle cx="1371.1" cy="772.9" r="4.7"/><circle cx="1448.8" cy="634.9" r="4.7"/><circle cx="1376.2" cy="778.4" r="4.7"/><circle cx="1416.7" cy="760.7" r="4.7"/><circle cx="1383.8" cy="774.8" r="4.7"/><circle cx="1419.2" cy="738.9" r="4.7"/><circle cx="1445.0" cy="728.8" r="4.7"/><circle cx="1389.1" cy="767.9" r="4.7"/><circle cx="1510.6" cy="759.0" r="4.7"/><circle cx="1457.5" cy="663.5" r="4.7"/><circle cx="1387.4" cy="759.5" r="4.7"/><circle cx="1328.6" cy="800.0" r="4.7"/><circle cx="1434.2" cy="844.5" r="4.7"/><circle cx="1326.2" cy="889.3" r="4.7"/><circle cx="1496.4" cy="684.7" r="4.7"/><circle cx="1441.9" cy="798.1" r="4.7"/><circle cx="1366.2" cy="738.0" r="4.7"/><circle cx="1377.4" cy="813.4" r="4.7"/><circle cx="1404.4" cy="746.8" r="4.7"/><circle cx="1373.9" cy="799.6" r="4.7"/><circle cx="1336.5" cy="792.7" r="4.7"/><circle cx="1425.2" cy="721.8" r="4.7"/><circle cx="1414.9" cy="853.3" r="4.7"/><circle cx="1428.5" cy="769.4" r="4.7"/><circle cx="1384.8" cy="740.8" r="4.7"/><circle cx="1464.4" cy="684.3" r="4.7"/><circle cx="1382.9" cy="758.6" r="4.7"/><circle cx="1383.3" cy="778.4" r="4.7"/><circle cx="1412.3" cy="772.7" r="4.7"/><circle cx="1521.7" cy="683.3" r="4.7"/><circle cx="1519.3" cy="688.3" r="4.7"/><circle cx="1478.1" cy="782.2" r="4.7"/><circle cx="1492.6" cy="663.2" r="4.7"/><circle cx="1551.5" cy="682.7" r="4.7"/><circle cx="1408.2" cy="735.0" r="4.7"/><circle cx="1405.0" cy="775.1" r="4.7"/><circle cx="1409.0" cy="747.4" r="4.7"/><circle cx="1434.8" cy="793.5" r="4.7"/><circle cx="1388.9" cy="775.6" r="4.7"/><circle cx="1477.1" cy="655.8" r="4.7"/><circle cx="1489.7" cy="724.7" r="4.7"/><circle cx="1372.3" cy="783.7" r="4.7"/><circle cx="1406.5" cy="780.1" r="4.7"/><circle cx="1435.4" cy="612.8" r="4.7"/><circle cx="1519.4" cy="711.1" r="4.7"/><circle cx="1323.0" cy="804.3" r="4.7"/><circle cx="1529.3" cy="675.3" r="4.7"/><circle cx="1459.3" cy="670.5" r="4.7"/><circle cx="1353.7" cy="770.7" r="4.7"/><circle cx="1464.7" cy="651.3" r="4.7"/><circle cx="1370.2" cy="749.2" r="4.7"/><circle cx="1417.6" cy="760.9" r="4.7"/><circle cx="1341.9" cy="780.5" r="4.7"/><circle cx="1378.0" cy="763.0" r="4.7"/><circle cx="1386.0" cy="754.3" r="4.7"/><circle cx="1388.1" cy="759.7" r="4.7"/><circle cx="1468.2" cy="745.0" r="4.7"/><circle cx="1463.4" cy="716.8" r="4.7"/><circle cx="1399.8" cy="725.7" r="4.7"/><circle cx="1377.0" cy="789.5" r="4.7"/><circle cx="1365.0" cy="784.3" r="4.7"/><circle cx="1468.2" cy="727.4" r="4.7"/><circle cx="1371.7" cy="792.2" r="4.7"/><circle cx="1387.2" cy="778.7" r="4.7"/><circle cx="1526.0" cy="667.7" r="4.7"/><circle cx="1352.8" cy="762.3" r="4.7"/><circle cx="1462.3" cy="756.3" r="4.7"/><circle cx="1399.5" cy="738.7" r="4.7"/><circle cx="1348.7" cy="783.9" r="4.7"/><circle cx="1357.3" cy="861.4" r="4.7"/><circle cx="1410.2" cy="868.1" r="4.7"/><circle cx="1524.6" cy="689.3" r="4.7"/><circle cx="1377.8" cy="789.7" r="4.7"/><circle cx="1377.8" cy="786.5" r="4.7"/><circle cx="1350.6" cy="773.2" r="4.7"/><circle cx="1392.0" cy="774.2" r="4.7"/><circle cx="1397.6" cy="754.8" r="4.7"/><circle cx="1520.2" cy="627.5" r="4.7"/><circle cx="1419.8" cy="788.6" r="4.7"/><circle cx="1379.4" cy="771.0" r="4.7"/><circle cx="1517.3" cy="620.6" r="4.7"/><circle cx="1382.2" cy="771.3" r="4.7"/><circle cx="1396.6" cy="776.8" r="4.7"/><circle cx="1501.9" cy="764.9" r="4.7"/><circle cx="1368.5" cy="774.5" r="4.7"/><circle cx="1473.8" cy="757.7" r="4.7"/><circle cx="1353.1" cy="749.8" r="4.7"/><circle cx="1386.0" cy="786.4" r="4.7"/><circle cx="1346.8" cy="761.8" r="4.7"/><circle cx="1393.3" cy="777.9" r="4.7"/><circle cx="1390.0" cy="776.0" r="4.7"/><circle cx="1369.2" cy="809.5" r="4.7"/><circle cx="1358.8" cy="857.8" r="4.7"/><circle cx="1378.9" cy="797.9" r="4.7"/><circle cx="1377.6" cy="763.8" r="4.7"/><circle cx="1389.0" cy="802.8" r="4.7"/><circle cx="1381.3" cy="774.3" r="4.7"/><circle cx="1364.8" cy="831.0" r="4.7"/><circle cx="1411.7" cy="833.0" r="4.7"/><circle cx="1376.8" cy="783.0" r="4.7"/><circle cx="1447.9" cy="636.1" r="4.7"/><circle cx="1360.3" cy="771.8" r="4.7"/><circle cx="1544.5" cy="591.1" r="4.7"/><circle cx="1444.2" cy="682.1" r="4.7"/><circle cx="1376.6" cy="760.0" r="4.7"/><circle cx="1501.9" cy="603.3" r="4.7"/><circle cx="1390.7" cy="788.8" r="4.7"/><circle cx="1403.1" cy="754.9" r="4.7"/><circle cx="1490.7" cy="701.3" r="4.7"/><circle cx="1364.9" cy="789.8" r="4.7"/><circle cx="1360.5" cy="775.7" r="4.7"/><circle cx="1313.5" cy="809.3" r="4.7"/><circle cx="1547.4" cy="683.0" r="4.7"/><circle cx="1288.9" cy="813.9" r="4.7"/><circle cx="1362.9" cy="840.5" r="4.7"/><circle cx="1351.2" cy="785.2" r="4.7"/><circle cx="1398.4" cy="738.6" r="4.7"/><circle cx="1499.7" cy="728.8" r="4.7"/><circle cx="1328.7" cy="791.4" r="4.7"/><circle cx="1350.1" cy="760.1" r="4.7"/><circle cx="1396.1" cy="793.3" r="4.7"/><circle cx="1399.6" cy="777.4" r="4.7"/><circle cx="1379.1" cy="774.0" r="4.7"/><circle cx="1393.9" cy="825.2" r="4.7"/><circle cx="1412.6" cy="728.9" r="4.7"/><circle cx="1394.5" cy="738.0" r="4.7"/><circle cx="1546.4" cy="683.1" r="4.7"/><circle cx="1371.9" cy="804.0" r="4.7"/><circle cx="1361.9" cy="796.7" r="4.7"/><circle cx="1312.9" cy="809.9" r="4.7"/><circle cx="1421.2" cy="757.9" r="4.7"/><circle cx="1478.0" cy="705.5" r="4.7"/><circle cx="1340.9" cy="597.0" r="4.7"/><circle cx="1505.1" cy="859.9" r="4.7"/><circle cx="1542.4" cy="798.1" r="4.7"/><circle cx="1420.5" cy="594.5" r="4.7"/><circle cx="1452.8" cy="579.4" r="4.7"/><circle cx="1495.1" cy="579.4" r="4.7"/><circle cx="1512.5" cy="579.4" r="4.7"/><circle cx="1539.9" cy="581.9" r="4.7"/><circle cx="1549.9" cy="607.0" r="4.7"/><circle cx="1348.3" cy="629.6" r="4.7"/><circle cx="1365.7" cy="642.2" r="4.7"/><circle cx="1365.7" cy="891.1" r="4.7"/><circle cx="1373.2" cy="883.5" r="4.7"/><circle cx="1410.5" cy="873.5" r="4.7"/><circle cx="1261.2" cy="755.3" r="4.7"/><circle cx="1246.3" cy="798.1" r="4.7"/></g>
<line x1="1186.70" y1="561.40" x2="1186.70" y2="950.70" stroke="#000" stroke-width="4.3" />
<line x1="1184.60" y1="948.60" x2="1569.50" y2="948.60" stroke="#000" stroke-width="4.2" />
<line x1="1174.70" y1="931.30" x2="1184.70" y2="931.30" stroke="#333333" stroke-width="3.8" />
<text font-size="29.17" text-anchor="end" fill="#000" x="1164.00" y="942.10" >0</text>
<line x1="1204.00" y1="950.60" x2="1204.00" y2="959.40" stroke="#333333" stroke-width="3.8" />
<text font-size="29.17" text-anchor="middle" fill="#000" x="1204.00" y="990.50" >0</text>
<line x1="1174.70" y1="830.75" x2="1184.70" y2="830.75" stroke="#333333" stroke-width="3.8" />
<text font-size="29.17" text-anchor="end" fill="#000" x="1164.00" y="841.55" >20</text>
<line x1="1303.53" y1="950.60" x2="1303.53" y2="959.40" stroke="#333333" stroke-width="3.8" />
<text font-size="29.17" text-anchor="middle" fill="#000" x="1303.53" y="990.50" >20</text>
<line x1="1174.70" y1="730.20" x2="1184.70" y2="730.20" stroke="#333333" stroke-width="3.8" />
<text font-size="29.17" text-anchor="end" fill="#000" x="1164.00" y="741.00" >40</text>
<line x1="1403.06" y1="950.60" x2="1403.06" y2="959.40" stroke="#333333" stroke-width="3.8" />
<text font-size="29.17" text-anchor="middle" fill="#000" x="1403.06" y="990.50" >40</text>
<line x1="1174.70" y1="629.65" x2="1184.70" y2="629.65" stroke="#333333" stroke-width="3.8" />
<text font-size="29.17" text-anchor="end" fill="#000" x="1164.00" y="640.45" >60</text>
<line x1="1502.59" y1="950.60" x2="1502.59" y2="959.40" stroke="#333333" stroke-width="3.8" />
<text font-size="29.17" text-anchor="middle" fill="#000" x="1502.59" y="990.50" >60</text>
<text font-size="29.17" text-anchor="middle" fill="#000" x="1378.00" y="1036.00" >−<tspan dx="3">log</tspan><tspan font-size="20.4" dy="5">10</tspan><tspan dy="-5" font-size="29.17">&#8203;</tspan><tspan font-style="italic">P</tspan><tspan font-size="21.0" dy="5">nominal</tspan><tspan dy="-5" font-size="29.17">&#8203;</tspan> (LM)</text>
<text font-size="29.17" text-anchor="middle" fill="#000" transform="translate(1109.30,757.00) rotate(-90)" >−<tspan dx="3">log</tspan><tspan font-size="20.4" dy="5">10</tspan><tspan dy="-5" font-size="29.17">&#8203;</tspan><tspan font-style="italic">P</tspan> (MLM)</text>
<line x1="1716.80" y1="947.60" x2="2100.00" y2="561.20" stroke="#555" stroke-width="4" opacity="0.78"/>
<g clip-path="url(#ce23)"><polygon points="1737.4,923.6 1743.3,932.1 1761.7,932.6 1776.6,928.1 1788.6,917.6 1800.5,902.5 1815.9,887.5 1830.8,872.5 1842.7,857.0 1851.7,841.9 1861.1,826.9 1867.1,808.9 1870.0,793.8 1870.5,776.8 1863.6,763.3 1851.7,761.8 1836.8,769.8 1821.8,781.8 1806.4,793.8 1791.5,805.9 1776.6,820.9 1764.7,835.9 1752.3,853.9 1743.3,872.5 1737.4,893.5 1735.9,911.6" fill="#000" stroke="#000" stroke-width="22" stroke-linejoin="round" opacity="0.5" filter="url(#blur8)"/></g>
<polygon points="1737.4,923.6 1743.3,932.1 1761.7,932.6 1776.6,928.1 1788.6,917.6 1800.5,902.5 1815.9,887.5 1830.8,872.5 1842.7,857.0 1851.7,841.9 1861.1,826.9 1867.1,808.9 1870.0,793.8 1870.5,776.8 1863.6,763.3 1851.7,761.8 1836.8,769.8 1821.8,781.8 1806.4,793.8 1791.5,805.9 1776.6,820.9 1764.7,835.9 1752.3,853.9 1743.3,872.5 1737.4,893.5 1735.9,911.6" fill="#000" stroke="#000" stroke-width="3.5" stroke-linejoin="round"/>
<g fill="#000" fill-opacity="0.2"><circle cx="1877.2" cy="761.8" r="4.7"/><circle cx="1746.2" cy="864.8" r="4.7"/><circle cx="1776.1" cy="788.7" r="4.7"/><circle cx="1796.6" cy="721.6" r="4.7"/><circle cx="1810.6" cy="900.7" r="4.7"/><circle cx="1813.5" cy="901.3" r="4.7"/><circle cx="1806.3" cy="792.6" r="4.7"/><circle cx="1805.0" cy="775.7" r="4.7"/><circle cx="1823.3" cy="749.9" r="4.7"/><circle cx="1784.5" cy="924.6" r="4.7"/><circle cx="1919.3" cy="788.9" r="4.7"/><circle cx="1806.1" cy="897.6" r="4.7"/><circle cx="1819.4" cy="904.1" r="4.7"/><circle cx="1832.7" cy="882.1" r="4.7"/><circle cx="1810.9" cy="784.8" r="4.7"/><circle cx="1850.3" cy="855.8" r="4.7"/><circle cx="1740.4" cy="854.9" r="4.7"/><circle cx="1944.9" cy="698.4" r="4.7"/><circle cx="1820.3" cy="775.2" r="4.7"/><circle cx="1824.3" cy="774.0" r="4.7"/><circle cx="1813.6" cy="775.2" r="4.7"/><circle cx="1883.0" cy="804.5" r="4.7"/><circle cx="1893.8" cy="644.5" r="4.7"/><circle cx="1742.7" cy="931.6" r="4.7"/><circle cx="1752.1" cy="837.7" r="4.7"/><circle cx="1878.1" cy="752.0" r="4.7"/><circle cx="1822.8" cy="759.1" r="4.7"/><circle cx="1872.6" cy="868.3" r="4.7"/><circle cx="1752.6" cy="845.4" r="4.7"/><circle cx="1886.5" cy="738.5" r="4.7"/><circle cx="1818.4" cy="781.4" r="4.7"/><circle cx="1793.4" cy="910.7" r="4.7"/><circle cx="1798.3" cy="802.1" r="4.7"/><circle cx="1882.7" cy="821.1" r="4.7"/><circle cx="1755.5" cy="776.3" r="4.7"/><circle cx="1891.2" cy="826.3" r="4.7"/><circle cx="1804.2" cy="793.5" r="4.7"/><circle cx="1820.6" cy="888.4" r="4.7"/><circle cx="1821.2" cy="726.1" r="4.7"/><circle cx="1881.6" cy="871.9" r="4.7"/><circle cx="1770.5" cy="821.9" r="4.7"/><circle cx="1752.3" cy="930.8" r="4.7"/><circle cx="1805.3" cy="903.8" r="4.7"/><circle cx="1872.7" cy="766.6" r="4.7"/><circle cx="1870.3" cy="824.9" r="4.7"/><circle cx="1947.0" cy="740.4" r="4.7"/><circle cx="1867.7" cy="759.8" r="4.7"/><circle cx="1899.6" cy="760.8" r="4.7"/><circle cx="1793.6" cy="910.3" r="4.7"/><circle cx="1814.2" cy="729.6" r="4.7"/><circle cx="1768.1" cy="832.0" r="4.7"/><circle cx="1822.3" cy="877.5" r="4.7"/><circle cx="1864.6" cy="848.3" r="4.7"/><circle cx="1837.6" cy="705.9" r="4.7"/><circle cx="1794.8" cy="786.3" r="4.7"/><circle cx="1801.0" cy="911.1" r="4.7"/><circle cx="1789.2" cy="928.2" r="4.7"/><circle cx="1858.5" cy="849.0" r="4.7"/><circle cx="1840.0" cy="887.6" r="4.7"/><circle cx="1793.0" cy="915.5" r="4.7"/><circle cx="1787.4" cy="919.3" r="4.7"/><circle cx="1809.3" cy="781.4" r="4.7"/><circle cx="1893.5" cy="808.0" r="4.7"/><circle cx="1896.1" cy="816.7" r="4.7"/><circle cx="1797.9" cy="802.4" r="4.7"/><circle cx="1832.7" cy="884.0" r="4.7"/><circle cx="1786.4" cy="744.6" r="4.7"/><circle cx="1830.1" cy="775.0" r="4.7"/><circle cx="1868.2" cy="809.7" r="4.7"/><circle cx="1869.6" cy="766.5" r="4.7"/><circle cx="1789.2" cy="919.6" r="4.7"/><circle cx="1744.3" cy="868.2" r="4.7"/><circle cx="1839.3" cy="765.5" r="4.7"/><circle cx="1769.2" cy="834.2" r="4.7"/><circle cx="1930.7" cy="723.1" r="4.7"/><circle cx="1837.6" cy="754.5" r="4.7"/><circle cx="1786.5" cy="742.1" r="4.7"/><circle cx="1778.2" cy="792.6" r="4.7"/><circle cx="1886.2" cy="803.4" r="4.7"/><circle cx="1841.4" cy="857.1" r="4.7"/><circle cx="1919.7" cy="764.8" r="4.7"/><circle cx="1768.2" cy="827.1" r="4.7"/><circle cx="1862.4" cy="922.2" r="4.7"/><circle cx="1869.6" cy="875.6" r="4.7"/><circle cx="1896.8" cy="799.1" r="4.7"/><circle cx="1803.3" cy="907.6" r="4.7"/><circle cx="1785.6" cy="917.6" r="4.7"/><circle cx="1877.2" cy="732.8" r="4.7"/><circle cx="1810.3" cy="768.0" r="4.7"/><circle cx="1739.1" cy="918.9" r="4.7"/><circle cx="1772.0" cy="811.8" r="4.7"/><circle cx="1918.7" cy="725.9" r="4.7"/><circle cx="1878.2" cy="857.4" r="4.7"/><circle cx="1755.7" cy="824.4" r="4.7"/><circle cx="1925.0" cy="712.7" r="4.7"/><circle cx="1817.3" cy="886.2" r="4.7"/><circle cx="1805.5" cy="780.5" r="4.7"/><circle cx="1742.4" cy="820.3" r="4.7"/><circle cx="1794.3" cy="913.2" r="4.7"/><circle cx="1796.3" cy="914.5" r="4.7"/><circle cx="1867.1" cy="719.4" r="4.7"/><circle cx="1759.2" cy="840.0" r="4.7"/><circle cx="1937.0" cy="771.6" r="4.7"/><circle cx="1836.0" cy="736.9" r="4.7"/><circle cx="1753.5" cy="848.4" r="4.7"/><circle cx="1840.7" cy="861.8" r="4.7"/><circle cx="1757.4" cy="822.6" r="4.7"/><circle cx="1775.7" cy="926.4" r="4.7"/><circle cx="1827.1" cy="761.8" r="4.7"/><circle cx="1888.3" cy="763.4" r="4.7"/><circle cx="1870.4" cy="810.4" r="4.7"/><circle cx="1800.0" cy="914.3" r="4.7"/><circle cx="1873.6" cy="789.6" r="4.7"/><circle cx="1831.6" cy="875.7" r="4.7"/><circle cx="1815.4" cy="770.0" r="4.7"/><circle cx="1809.8" cy="778.3" r="4.7"/><circle cx="1886.5" cy="718.7" r="4.7"/><circle cx="1869.6" cy="805.7" r="4.7"/><circle cx="1882.6" cy="819.6" r="4.7"/><circle cx="1767.9" cy="931.3" r="4.7"/><circle cx="1866.9" cy="813.6" r="4.7"/><circle cx="1844.4" cy="857.1" r="4.7"/><circle cx="1922.0" cy="779.6" r="4.7"/><circle cx="1811.7" cy="907.6" r="4.7"/><circle cx="1739.3" cy="928.1" r="4.7"/><circle cx="1849.1" cy="755.5" r="4.7"/><circle cx="1826.1" cy="878.1" r="4.7"/><circle cx="1845.1" cy="880.4" r="4.7"/><circle cx="1738.9" cy="928.1" r="4.7"/><circle cx="1796.5" cy="793.5" r="4.7"/><circle cx="1865.5" cy="844.6" r="4.7"/><circle cx="1887.7" cy="706.2" r="4.7"/><circle cx="1869.5" cy="800.8" r="4.7"/><circle cx="1755.9" cy="849.7" r="4.7"/><circle cx="1777.4" cy="814.2" r="4.7"/><circle cx="1752.1" cy="758.9" r="4.7"/><circle cx="1847.6" cy="862.6" r="4.7"/><circle cx="1946.6" cy="731.8" r="4.7"/><circle cx="1813.1" cy="764.7" r="4.7"/><circle cx="1893.9" cy="745.5" r="4.7"/><circle cx="1804.5" cy="791.9" r="4.7"/><circle cx="1864.4" cy="757.8" r="4.7"/><circle cx="1839.8" cy="755.7" r="4.7"/><circle cx="1739.1" cy="931.2" r="4.7"/><circle cx="1898.4" cy="775.6" r="4.7"/><circle cx="1770.1" cy="929.5" r="4.7"/><circle cx="1798.2" cy="912.1" r="4.7"/><circle cx="1757.1" cy="929.7" r="4.7"/><circle cx="1787.6" cy="787.2" r="4.7"/><circle cx="1748.6" cy="856.7" r="4.7"/><circle cx="1797.9" cy="914.9" r="4.7"/><circle cx="1839.4" cy="874.8" r="4.7"/><circle cx="1790.9" cy="924.8" r="4.7"/><circle cx="1876.9" cy="844.6" r="4.7"/><circle cx="1876.1" cy="760.0" r="4.7"/><circle cx="1843.3" cy="735.5" r="4.7"/><circle cx="1801.1" cy="930.0" r="4.7"/><circle cx="1874.4" cy="734.4" r="4.7"/><circle cx="1878.2" cy="775.3" r="4.7"/><circle cx="1747.4" cy="929.7" r="4.7"/><circle cx="1739.2" cy="930.8" r="4.7"/><circle cx="1775.4" cy="812.0" r="4.7"/><circle cx="1756.5" cy="822.6" r="4.7"/><circle cx="1921.8" cy="752.2" r="4.7"/><circle cx="1877.6" cy="779.5" r="4.7"/><circle cx="1814.6" cy="787.7" r="4.7"/><circle cx="1911.2" cy="832.8" r="4.7"/><circle cx="1881.3" cy="870.0" r="4.7"/><circle cx="1871.3" cy="839.1" r="4.7"/><circle cx="1867.5" cy="768.4" r="4.7"/><circle cx="1789.6" cy="919.3" r="4.7"/><circle cx="1875.8" cy="812.7" r="4.7"/><circle cx="1898.0" cy="789.5" r="4.7"/><circle cx="1857.1" cy="757.7" r="4.7"/><circle cx="1917.8" cy="789.2" r="4.7"/><circle cx="1750.8" cy="848.2" r="4.7"/><circle cx="1835.7" cy="874.4" r="4.7"/><circle cx="1877.3" cy="768.3" r="4.7"/><circle cx="1784.3" cy="927.7" r="4.7"/><circle cx="1761.2" cy="836.2" r="4.7"/><circle cx="1751.5" cy="816.0" r="4.7"/><circle cx="1820.8" cy="781.9" r="4.7"/><circle cx="1870.5" cy="723.0" r="4.7"/><circle cx="1807.3" cy="923.3" r="4.7"/><circle cx="1870.8" cy="806.4" r="4.7"/><circle cx="1777.2" cy="928.1" r="4.7"/><circle cx="1811.5" cy="906.4" r="4.7"/><circle cx="1869.6" cy="842.6" r="4.7"/><circle cx="1744.1" cy="867.1" r="4.7"/><circle cx="1792.0" cy="919.7" r="4.7"/><circle cx="1788.7" cy="923.5" r="4.7"/><circle cx="1774.4" cy="929.3" r="4.7"/><circle cx="1800.0" cy="797.7" r="4.7"/><circle cx="1798.2" cy="910.8" r="4.7"/><circle cx="1884.5" cy="799.2" r="4.7"/><circle cx="1852.5" cy="744.9" r="4.7"/><circle cx="1881.0" cy="772.1" r="4.7"/><circle cx="1899.0" cy="817.0" r="4.7"/><circle cx="1871.9" cy="827.3" r="4.7"/><circle cx="1845.1" cy="859.9" r="4.7"/><circle cx="1743.8" cy="873.5" r="4.7"/><circle cx="1881.4" cy="785.1" r="4.7"/><circle cx="1843.2" cy="850.0" r="4.7"/><circle cx="1821.0" cy="777.3" r="4.7"/><circle cx="1830.0" cy="771.9" r="4.7"/><circle cx="1857.3" cy="858.0" r="4.7"/><circle cx="1779.6" cy="805.8" r="4.7"/><circle cx="1773.0" cy="789.9" r="4.7"/><circle cx="1775.9" cy="926.2" r="4.7"/><circle cx="1802.6" cy="901.7" r="4.7"/><circle cx="1790.5" cy="914.5" r="4.7"/><circle cx="1904.5" cy="721.2" r="4.7"/><circle cx="1842.9" cy="752.2" r="4.7"/><circle cx="1739.9" cy="879.0" r="4.7"/><circle cx="1857.7" cy="752.2" r="4.7"/><circle cx="1827.5" cy="775.6" r="4.7"/><circle cx="1797.6" cy="788.5" r="4.7"/><circle cx="1796.0" cy="779.6" r="4.7"/><circle cx="1862.0" cy="760.4" r="4.7"/><circle cx="1913.6" cy="845.1" r="4.7"/><circle cx="1865.4" cy="819.7" r="4.7"/><circle cx="1834.1" cy="764.8" r="4.7"/><circle cx="1794.7" cy="909.8" r="4.7"/><circle cx="1804.2" cy="903.1" r="4.7"/><circle cx="1775.6" cy="929.1" r="4.7"/><circle cx="1909.9" cy="740.3" r="4.7"/><circle cx="1873.1" cy="754.5" r="4.7"/><circle cx="1742.3" cy="931.3" r="4.7"/><circle cx="1864.4" cy="855.4" r="4.7"/><circle cx="1740.5" cy="931.9" r="4.7"/><circle cx="1843.6" cy="867.0" r="4.7"/><circle cx="1843.0" cy="711.3" r="4.7"/><circle cx="1823.4" cy="888.4" r="4.7"/><circle cx="1740.8" cy="876.9" r="4.7"/><circle cx="1839.7" cy="751.7" r="4.7"/><circle cx="1867.2" cy="833.1" r="4.7"/><circle cx="1877.1" cy="703.2" r="4.7"/><circle cx="1782.8" cy="919.8" r="4.7"/><circle cx="1790.1" cy="926.3" r="4.7"/><circle cx="1747.7" cy="856.8" r="4.7"/><circle cx="1878.6" cy="729.9" r="4.7"/><circle cx="1888.1" cy="741.9" r="4.7"/><circle cx="1854.6" cy="853.1" r="4.7"/><circle cx="1902.3" cy="743.8" r="4.7"/><circle cx="1869.6" cy="775.0" r="4.7"/><circle cx="1751.7" cy="845.3" r="4.7"/><circle cx="1747.4" cy="932.6" r="4.7"/><circle cx="1932.1" cy="809.9" r="4.7"/><circle cx="1831.9" cy="752.7" r="4.7"/><circle cx="1884.5" cy="794.6" r="4.7"/><circle cx="1802.8" cy="903.3" r="4.7"/><circle cx="1852.0" cy="890.3" r="4.7"/><circle cx="1825.3" cy="768.5" r="4.7"/><circle cx="1791.2" cy="912.6" r="4.7"/><circle cx="1845.4" cy="749.8" r="4.7"/><circle cx="1808.7" cy="790.0" r="4.7"/><circle cx="1886.9" cy="744.7" r="4.7"/><circle cx="1840.6" cy="882.0" r="4.7"/><circle cx="1881.6" cy="798.1" r="4.7"/><circle cx="1786.4" cy="795.2" r="4.7"/><circle cx="1756.6" cy="841.3" r="4.7"/><circle cx="1779.0" cy="930.0" r="4.7"/><circle cx="1806.4" cy="781.3" r="4.7"/><circle cx="1837.0" cy="903.2" r="4.7"/><circle cx="1815.6" cy="908.3" r="4.7"/><circle cx="1814.2" cy="765.4" r="4.7"/><circle cx="1853.4" cy="752.1" r="4.7"/><circle cx="1766.6" cy="793.5" r="4.7"/><circle cx="1872.7" cy="777.3" r="4.7"/><circle cx="1880.7" cy="791.4" r="4.7"/><circle cx="1812.5" cy="903.6" r="4.7"/><circle cx="1776.8" cy="924.2" r="4.7"/><circle cx="1739.9" cy="873.4" r="4.7"/><circle cx="1817.9" cy="901.4" r="4.7"/><circle cx="1816.9" cy="759.9" r="4.7"/><circle cx="1877.2" cy="741.0" r="4.7"/><circle cx="1844.2" cy="877.9" r="4.7"/><circle cx="1742.9" cy="863.5" r="4.7"/><circle cx="1885.2" cy="752.0" r="4.7"/><circle cx="1865.6" cy="847.6" r="4.7"/><circle cx="1787.0" cy="918.6" r="4.7"/><circle cx="1872.9" cy="758.7" r="4.7"/><circle cx="1867.1" cy="815.2" r="4.7"/><circle cx="1816.7" cy="785.5" r="4.7"/><circle cx="1898.8" cy="719.1" r="4.7"/><circle cx="1859.0" cy="829.6" r="4.7"/><circle cx="1811.8" cy="779.6" r="4.7"/><circle cx="1913.3" cy="809.7" r="4.7"/><circle cx="1879.3" cy="727.8" r="4.7"/><circle cx="1768.4" cy="829.0" r="4.7"/><circle cx="1769.2" cy="789.2" r="4.7"/><circle cx="1740.4" cy="856.1" r="4.7"/><circle cx="1860.3" cy="854.4" r="4.7"/><circle cx="1878.8" cy="802.1" r="4.7"/><circle cx="1809.3" cy="893.7" r="4.7"/><circle cx="1837.3" cy="765.4" r="4.7"/><circle cx="1849.5" cy="846.7" r="4.7"/><circle cx="1845.3" cy="761.2" r="4.7"/><circle cx="1761.7" cy="843.2" r="4.7"/><circle cx="1882.7" cy="826.2" r="4.7"/><circle cx="1809.0" cy="896.0" r="4.7"/><circle cx="1784.4" cy="919.2" r="4.7"/><circle cx="1757.3" cy="831.4" r="4.7"/><circle cx="1745.5" cy="860.0" r="4.7"/><circle cx="1833.9" cy="894.5" r="4.7"/><circle cx="1860.1" cy="751.7" r="4.7"/><circle cx="1884.9" cy="730.2" r="4.7"/><circle cx="1829.3" cy="773.8" r="4.7"/><circle cx="1850.1" cy="748.0" r="4.7"/><circle cx="1844.6" cy="739.7" r="4.7"/><circle cx="1898.0" cy="819.6" r="4.7"/><circle cx="1767.4" cy="931.7" r="4.7"/><circle cx="1859.1" cy="760.8" r="4.7"/><circle cx="1793.9" cy="764.5" r="4.7"/><circle cx="1753.3" cy="854.9" r="4.7"/><circle cx="1790.5" cy="920.1" r="4.7"/><circle cx="1786.2" cy="930.9" r="4.7"/><circle cx="1879.9" cy="829.8" r="4.7"/><circle cx="1766.7" cy="826.5" r="4.7"/><circle cx="1830.5" cy="879.3" r="4.7"/><circle cx="1902.4" cy="696.0" r="4.7"/><circle cx="1871.4" cy="734.5" r="4.7"/><circle cx="1782.6" cy="924.2" r="4.7"/><circle cx="1775.2" cy="931.3" r="4.7"/><circle cx="1838.5" cy="873.6" r="4.7"/><circle cx="1889.8" cy="768.1" r="4.7"/><circle cx="1821.5" cy="899.9" r="4.7"/><circle cx="1787.1" cy="922.6" r="4.7"/><circle cx="1775.6" cy="793.1" r="4.7"/><circle cx="1892.2" cy="746.1" r="4.7"/><circle cx="1769.2" cy="817.1" r="4.7"/><circle cx="1799.1" cy="915.6" r="4.7"/><circle cx="1888.3" cy="671.8" r="4.7"/><circle cx="1801.7" cy="905.7" r="4.7"/><circle cx="1740.9" cy="883.9" r="4.7"/><circle cx="1865.4" cy="740.1" r="4.7"/><circle cx="1895.5" cy="714.9" r="4.7"/><circle cx="1801.4" cy="907.8" r="4.7"/><circle cx="1794.4" cy="924.7" r="4.7"/><circle cx="1881.0" cy="810.1" r="4.7"/><circle cx="1768.4" cy="809.0" r="4.7"/><circle cx="1807.2" cy="766.6" r="4.7"/><circle cx="1754.4" cy="816.7" r="4.7"/><circle cx="1873.6" cy="783.2" r="4.7"/><circle cx="1807.2" cy="901.4" r="4.7"/><circle cx="1838.0" cy="886.3" r="4.7"/><circle cx="1968.6" cy="729.4" r="4.7"/><circle cx="1807.6" cy="791.8" r="4.7"/><circle cx="1769.0" cy="931.4" r="4.7"/><circle cx="1875.8" cy="819.1" r="4.7"/><circle cx="1800.3" cy="899.7" r="4.7"/><circle cx="1805.6" cy="786.4" r="4.7"/><circle cx="1864.3" cy="740.4" r="4.7"/><circle cx="1874.5" cy="789.4" r="4.7"/><circle cx="1926.7" cy="861.6" r="4.7"/><circle cx="1751.9" cy="932.0" r="4.7"/><circle cx="1749.5" cy="848.7" r="4.7"/><circle cx="1904.7" cy="849.0" r="4.7"/><circle cx="1794.8" cy="777.2" r="4.7"/><circle cx="1911.7" cy="689.1" r="4.7"/><circle cx="1786.3" cy="926.7" r="4.7"/><circle cx="1867.8" cy="764.9" r="4.7"/><circle cx="1876.2" cy="821.1" r="4.7"/><circle cx="1852.8" cy="864.9" r="4.7"/><circle cx="1739.6" cy="916.0" r="4.7"/><circle cx="1890.7" cy="683.0" r="4.7"/><circle cx="1900.0" cy="784.9" r="4.7"/><circle cx="1821.4" cy="890.6" r="4.7"/><circle cx="1747.7" cy="804.0" r="4.7"/><circle cx="1851.8" cy="754.8" r="4.7"/><circle cx="1882.1" cy="799.0" r="4.7"/><circle cx="1869.2" cy="737.6" r="4.7"/><circle cx="1875.0" cy="883.2" r="4.7"/><circle cx="1778.6" cy="818.4" r="4.7"/><circle cx="1848.4" cy="741.3" r="4.7"/><circle cx="1788.8" cy="775.3" r="4.7"/><circle cx="1779.6" cy="927.7" r="4.7"/><circle cx="1824.5" cy="775.4" r="4.7"/><circle cx="1907.8" cy="822.5" r="4.7"/><circle cx="1754.5" cy="839.5" r="4.7"/><circle cx="1806.8" cy="791.3" r="4.7"/><circle cx="1883.5" cy="697.8" r="4.7"/><circle cx="1868.7" cy="728.4" r="4.7"/><circle cx="1769.1" cy="827.3" r="4.7"/><circle cx="1878.8" cy="762.0" r="4.7"/><circle cx="1862.8" cy="707.9" r="4.7"/><circle cx="1877.7" cy="876.3" r="4.7"/><circle cx="1791.6" cy="915.4" r="4.7"/><circle cx="1871.4" cy="757.1" r="4.7"/><circle cx="1742.4" cy="855.6" r="4.7"/><circle cx="1915.1" cy="810.1" r="4.7"/><circle cx="1888.3" cy="785.3" r="4.7"/><circle cx="1834.0" cy="771.9" r="4.7"/><circle cx="1742.8" cy="858.9" r="4.7"/><circle cx="1756.1" cy="930.0" r="4.7"/><circle cx="1858.8" cy="838.3" r="4.7"/><circle cx="1837.0" cy="886.0" r="4.7"/><circle cx="1828.6" cy="884.2" r="4.7"/><circle cx="1772.5" cy="826.2" r="4.7"/><circle cx="1885.4" cy="780.6" r="4.7"/><circle cx="1846.5" cy="759.2" r="4.7"/><circle cx="1865.0" cy="743.1" r="4.7"/><circle cx="1764.6" cy="836.4" r="4.7"/><circle cx="1786.0" cy="926.2" r="4.7"/><circle cx="1863.5" cy="831.6" r="4.7"/><circle cx="1890.8" cy="702.1" r="4.7"/><circle cx="1853.6" cy="759.6" r="4.7"/><circle cx="1896.1" cy="796.3" r="4.7"/><circle cx="1773.5" cy="818.2" r="4.7"/><circle cx="1839.6" cy="739.7" r="4.7"/><circle cx="1830.8" cy="763.1" r="4.7"/><circle cx="1862.7" cy="845.9" r="4.7"/><circle cx="1820.0" cy="756.4" r="4.7"/><circle cx="1819.7" cy="776.8" r="4.7"/><circle cx="1769.8" cy="825.9" r="4.7"/><circle cx="1892.7" cy="747.0" r="4.7"/><circle cx="1879.2" cy="813.6" r="4.7"/><circle cx="1749.5" cy="857.6" r="4.7"/><circle cx="1799.5" cy="916.1" r="4.7"/><circle cx="1943.6" cy="813.1" r="4.7"/><circle cx="1752.7" cy="845.5" r="4.7"/><circle cx="1740.0" cy="884.8" r="4.7"/><circle cx="1767.8" cy="932.2" r="4.7"/><circle cx="1878.0" cy="805.2" r="4.7"/><circle cx="1825.2" cy="893.3" r="4.7"/><circle cx="1800.8" cy="906.8" r="4.7"/><circle cx="1792.3" cy="795.1" r="4.7"/><circle cx="1796.3" cy="917.0" r="4.7"/><circle cx="1885.0" cy="788.0" r="4.7"/><circle cx="1803.2" cy="898.4" r="4.7"/><circle cx="1901.2" cy="917.3" r="4.7"/><circle cx="1876.0" cy="761.5" r="4.7"/><circle cx="1741.9" cy="883.1" r="4.7"/><circle cx="1886.6" cy="835.3" r="4.7"/><circle cx="1854.9" cy="851.6" r="4.7"/><circle cx="1808.0" cy="897.6" r="4.7"/><circle cx="1811.3" cy="752.7" r="4.7"/><circle cx="1892.0" cy="743.6" r="4.7"/><circle cx="1866.4" cy="761.3" r="4.7"/><circle cx="1810.2" cy="774.5" r="4.7"/><circle cx="1835.1" cy="874.9" r="4.7"/><circle cx="1760.5" cy="829.0" r="4.7"/><circle cx="1777.7" cy="799.2" r="4.7"/><circle cx="1912.5" cy="650.8" r="4.7"/><circle cx="1857.1" cy="758.5" r="4.7"/><circle cx="1868.8" cy="808.8" r="4.7"/><circle cx="1758.8" cy="840.1" r="4.7"/><circle cx="1759.5" cy="840.7" r="4.7"/><circle cx="1845.6" cy="866.5" r="4.7"/><circle cx="1860.6" cy="831.5" r="4.7"/><circle cx="1912.5" cy="793.3" r="4.7"/><circle cx="1775.8" cy="780.4" r="4.7"/><circle cx="1739.0" cy="931.9" r="4.7"/><circle cx="1828.7" cy="889.3" r="4.7"/><circle cx="1861.8" cy="738.4" r="4.7"/><circle cx="1753.2" cy="932.6" r="4.7"/><circle cx="1873.8" cy="890.9" r="4.7"/><circle cx="1775.3" cy="778.8" r="4.7"/><circle cx="1882.0" cy="770.5" r="4.7"/><circle cx="1739.7" cy="927.8" r="4.7"/><circle cx="1873.1" cy="743.2" r="4.7"/><circle cx="1882.4" cy="634.9" r="4.7"/><circle cx="1890.1" cy="725.8" r="4.7"/><circle cx="1889.6" cy="926.1" r="4.7"/><circle cx="1803.5" cy="904.4" r="4.7"/><circle cx="1758.5" cy="841.7" r="4.7"/><circle cx="1857.8" cy="836.5" r="4.7"/><circle cx="1795.9" cy="930.7" r="4.7"/><circle cx="1862.0" cy="867.3" r="4.7"/><circle cx="1805.9" cy="901.2" r="4.7"/><circle cx="1891.0" cy="758.3" r="4.7"/><circle cx="1879.6" cy="784.7" r="4.7"/><circle cx="1866.0" cy="858.8" r="4.7"/><circle cx="1867.0" cy="738.9" r="4.7"/><circle cx="1887.5" cy="771.6" r="4.7"/><circle cx="1843.0" cy="756.7" r="4.7"/><circle cx="1803.8" cy="902.8" r="4.7"/><circle cx="1843.1" cy="765.9" r="4.7"/><circle cx="1777.9" cy="767.4" r="4.7"/><circle cx="1753.3" cy="824.5" r="4.7"/><circle cx="1757.5" cy="838.6" r="4.7"/><circle cx="1847.0" cy="857.3" r="4.7"/><circle cx="1751.2" cy="831.9" r="4.7"/><circle cx="1887.7" cy="779.6" r="4.7"/><circle cx="1811.1" cy="889.5" r="4.7"/><circle cx="1902.3" cy="836.1" r="4.7"/><circle cx="1799.7" cy="903.4" r="4.7"/><circle cx="1909.1" cy="838.6" r="4.7"/><circle cx="1781.4" cy="927.1" r="4.7"/><circle cx="1906.0" cy="743.9" r="4.7"/><circle cx="1866.3" cy="762.1" r="4.7"/><circle cx="1813.9" cy="906.3" r="4.7"/><circle cx="1793.0" cy="911.9" r="4.7"/><circle cx="1752.0" cy="832.4" r="4.7"/><circle cx="1941.9" cy="730.4" r="4.7"/><circle cx="1882.7" cy="728.1" r="4.7"/><circle cx="1813.2" cy="907.7" r="4.7"/><circle cx="1792.9" cy="919.3" r="4.7"/><circle cx="1753.6" cy="814.3" r="4.7"/><circle cx="1778.3" cy="925.5" r="4.7"/><circle cx="1739.7" cy="893.0" r="4.7"/><circle cx="1767.1" cy="812.8" r="4.7"/><circle cx="1856.1" cy="840.0" r="4.7"/><circle cx="1866.7" cy="717.1" r="4.7"/><circle cx="1768.5" cy="823.5" r="4.7"/><circle cx="1778.0" cy="929.7" r="4.7"/><circle cx="1841.3" cy="736.5" r="4.7"/><circle cx="1802.6" cy="782.5" r="4.7"/><circle cx="1813.9" cy="902.4" r="4.7"/><circle cx="1760.7" cy="929.7" r="4.7"/><circle cx="1791.1" cy="802.9" r="4.7"/><circle cx="1772.4" cy="928.7" r="4.7"/><circle cx="1811.5" cy="902.9" r="4.7"/><circle cx="1805.5" cy="908.3" r="4.7"/><circle cx="1866.8" cy="771.4" r="4.7"/><circle cx="1771.9" cy="829.4" r="4.7"/><circle cx="1858.7" cy="830.2" r="4.7"/><circle cx="1879.5" cy="797.2" r="4.7"/><circle cx="1896.4" cy="754.8" r="4.7"/><circle cx="1770.0" cy="828.6" r="4.7"/><circle cx="1933.3" cy="744.0" r="4.7"/><circle cx="1886.1" cy="759.7" r="4.7"/><circle cx="1757.2" cy="805.3" r="4.7"/><circle cx="1752.4" cy="836.1" r="4.7"/><circle cx="1873.4" cy="798.8" r="4.7"/><circle cx="1847.5" cy="881.1" r="4.7"/><circle cx="1742.7" cy="866.9" r="4.7"/><circle cx="1879.4" cy="839.4" r="4.7"/><circle cx="1902.0" cy="767.6" r="4.7"/><circle cx="1750.9" cy="834.3" r="4.7"/><circle cx="1808.7" cy="898.1" r="4.7"/><circle cx="1917.5" cy="714.7" r="4.7"/><circle cx="1794.8" cy="914.7" r="4.7"/><circle cx="1759.2" cy="815.6" r="4.7"/><circle cx="1902.5" cy="758.3" r="4.7"/><circle cx="1770.8" cy="930.1" r="4.7"/><circle cx="1871.2" cy="743.2" r="4.7"/><circle cx="1765.4" cy="827.9" r="4.7"/><circle cx="1885.8" cy="763.3" r="4.7"/><circle cx="1785.7" cy="917.5" r="4.7"/><circle cx="1813.5" cy="732.2" r="4.7"/><circle cx="1739.9" cy="888.1" r="4.7"/><circle cx="1766.0" cy="810.5" r="4.7"/><circle cx="1779.2" cy="926.0" r="4.7"/><circle cx="1789.4" cy="923.6" r="4.7"/><circle cx="1874.9" cy="771.5" r="4.7"/><circle cx="1749.8" cy="821.8" r="4.7"/><circle cx="1871.0" cy="792.8" r="4.7"/><circle cx="1816.1" cy="896.1" r="4.7"/><circle cx="1877.7" cy="754.5" r="4.7"/><circle cx="1808.8" cy="791.9" r="4.7"/><circle cx="1808.9" cy="775.4" r="4.7"/><circle cx="1861.3" cy="834.5" r="4.7"/><circle cx="1787.8" cy="920.8" r="4.7"/><circle cx="1865.7" cy="749.2" r="4.7"/><circle cx="1746.9" cy="863.0" r="4.7"/><circle cx="1906.2" cy="725.8" r="4.7"/><circle cx="1869.5" cy="773.3" r="4.7"/><circle cx="1884.3" cy="702.2" r="4.7"/><circle cx="1765.6" cy="802.2" r="4.7"/><circle cx="1782.7" cy="924.7" r="4.7"/><circle cx="1855.3" cy="751.2" r="4.7"/><circle cx="1818.6" cy="784.8" r="4.7"/><circle cx="1777.0" cy="930.1" r="4.7"/><circle cx="1740.4" cy="928.0" r="4.7"/><circle cx="1825.5" cy="770.7" r="4.7"/><circle cx="1784.0" cy="930.7" r="4.7"/><circle cx="1758.8" cy="812.3" r="4.7"/><circle cx="1909.8" cy="672.6" r="4.7"/><circle cx="1791.5" cy="909.3" r="4.7"/><circle cx="1897.3" cy="772.3" r="4.7"/><circle cx="1849.6" cy="742.1" r="4.7"/><circle cx="1802.1" cy="901.7" r="4.7"/><circle cx="1813.6" cy="776.2" r="4.7"/><circle cx="1853.2" cy="869.2" r="4.7"/><circle cx="1742.5" cy="862.4" r="4.7"/><circle cx="1808.0" cy="790.8" r="4.7"/><circle cx="1854.3" cy="746.8" r="4.7"/><circle cx="1814.1" cy="896.8" r="4.7"/><circle cx="1808.0" cy="895.5" r="4.7"/><circle cx="1797.7" cy="902.7" r="4.7"/><circle cx="1855.7" cy="850.9" r="4.7"/><circle cx="1876.0" cy="788.1" r="4.7"/><circle cx="1867.5" cy="761.9" r="4.7"/><circle cx="1819.6" cy="876.4" r="4.7"/><circle cx="1821.4" cy="776.1" r="4.7"/><circle cx="1743.5" cy="832.0" r="4.7"/><circle cx="1822.1" cy="883.9" r="4.7"/><circle cx="1907.1" cy="707.6" r="4.7"/><circle cx="1889.0" cy="806.3" r="4.7"/><circle cx="1859.9" cy="878.1" r="4.7"/><circle cx="1781.7" cy="924.6" r="4.7"/><circle cx="1875.7" cy="799.2" r="4.7"/><circle cx="1904.0" cy="767.4" r="4.7"/><circle cx="1856.9" cy="719.0" r="4.7"/><circle cx="1803.8" cy="683.7" r="4.7"/><circle cx="1823.9" cy="909.3" r="4.7"/><circle cx="1902.1" cy="744.4" r="4.7"/><circle cx="1758.9" cy="839.2" r="4.7"/><circle cx="1744.7" cy="860.1" r="4.7"/><circle cx="1824.0" cy="749.0" r="4.7"/><circle cx="1851.9" cy="852.2" r="4.7"/><circle cx="1836.3" cy="871.9" r="4.7"/><circle cx="1792.6" cy="915.0" r="4.7"/><circle cx="1778.0" cy="926.5" r="4.7"/><circle cx="1769.2" cy="926.8" r="4.7"/><circle cx="1868.1" cy="852.7" r="4.7"/><circle cx="1739.9" cy="866.7" r="4.7"/><circle cx="1797.5" cy="910.9" r="4.7"/><circle cx="1808.0" cy="785.5" r="4.7"/><circle cx="1801.9" cy="901.2" r="4.7"/><circle cx="1816.3" cy="893.7" r="4.7"/><circle cx="1875.7" cy="758.8" r="4.7"/><circle cx="1889.9" cy="764.8" r="4.7"/><circle cx="1740.4" cy="880.4" r="4.7"/><circle cx="1742.0" cy="879.1" r="4.7"/><circle cx="1885.3" cy="782.2" r="4.7"/><circle cx="1797.9" cy="915.4" r="4.7"/><circle cx="1742.8" cy="925.5" r="4.7"/><circle cx="1870.8" cy="738.2" r="4.7"/><circle cx="1829.0" cy="714.2" r="4.7"/><circle cx="1809.1" cy="928.3" r="4.7"/><circle cx="1838.1" cy="715.5" r="4.7"/><circle cx="1876.0" cy="864.2" r="4.7"/><circle cx="1764.2" cy="932.2" r="4.7"/><circle cx="1801.0" cy="739.8" r="4.7"/><circle cx="1822.5" cy="909.9" r="4.7"/><circle cx="1785.1" cy="922.9" r="4.7"/><circle cx="1873.2" cy="819.7" r="4.7"/><circle cx="1896.1" cy="719.4" r="4.7"/><circle cx="1857.3" cy="745.3" r="4.7"/><circle cx="1742.1" cy="928.9" r="4.7"/><circle cx="1797.5" cy="774.1" r="4.7"/><circle cx="1798.5" cy="788.7" r="4.7"/><circle cx="1786.6" cy="800.2" r="4.7"/><circle cx="1900.4" cy="750.9" r="4.7"/><circle cx="1876.1" cy="836.4" r="4.7"/><circle cx="1743.0" cy="872.2" r="4.7"/><circle cx="1740.9" cy="865.1" r="4.7"/><circle cx="1854.6" cy="752.5" r="4.7"/><circle cx="1862.8" cy="816.4" r="4.7"/><circle cx="1739.8" cy="931.9" r="4.7"/><circle cx="1867.6" cy="844.0" r="4.7"/><circle cx="1746.7" cy="835.4" r="4.7"/><circle cx="1840.1" cy="870.7" r="4.7"/><circle cx="1867.4" cy="813.8" r="4.7"/><circle cx="1794.3" cy="772.8" r="4.7"/><circle cx="1870.8" cy="840.0" r="4.7"/><circle cx="1862.0" cy="854.9" r="4.7"/><circle cx="1790.9" cy="927.0" r="4.7"/><circle cx="1798.0" cy="911.8" r="4.7"/><circle cx="1895.4" cy="777.1" r="4.7"/><circle cx="2039.2" cy="654.5" r="4.7"/><circle cx="1871.1" cy="751.7" r="4.7"/><circle cx="1952.7" cy="586.0" r="4.7"/><circle cx="2029.0" cy="579.9" r="4.7"/><circle cx="1864.8" cy="755.6" r="4.7"/><circle cx="1914.9" cy="675.1" r="4.7"/><circle cx="1874.0" cy="748.0" r="4.7"/><circle cx="1992.9" cy="594.8" r="4.7"/><circle cx="1880.3" cy="734.1" r="4.7"/><circle cx="2063.8" cy="596.2" r="4.7"/><circle cx="1973.6" cy="658.1" r="4.7"/><circle cx="1964.2" cy="757.0" r="4.7"/><circle cx="1857.6" cy="842.8" r="4.7"/><circle cx="1825.9" cy="781.0" r="4.7"/><circle cx="1896.7" cy="729.4" r="4.7"/><circle cx="1940.5" cy="642.7" r="4.7"/><circle cx="1959.2" cy="777.8" r="4.7"/><circle cx="1935.9" cy="729.1" r="4.7"/><circle cx="1866.9" cy="793.1" r="4.7"/><circle cx="1898.9" cy="755.0" r="4.7"/><circle cx="1848.7" cy="741.3" r="4.7"/><circle cx="1868.6" cy="778.9" r="4.7"/><circle cx="1889.7" cy="701.8" r="4.7"/><circle cx="1886.3" cy="713.9" r="4.7"/><circle cx="1887.5" cy="756.0" r="4.7"/><circle cx="1935.0" cy="632.0" r="4.7"/><circle cx="1870.6" cy="743.2" r="4.7"/><circle cx="1867.6" cy="811.5" r="4.7"/><circle cx="1933.8" cy="783.2" r="4.7"/><circle cx="1867.1" cy="807.4" r="4.7"/><circle cx="1933.2" cy="698.0" r="4.7"/><circle cx="1980.4" cy="628.5" r="4.7"/><circle cx="1885.4" cy="740.4" r="4.7"/><circle cx="1897.3" cy="763.5" r="4.7"/><circle cx="2049.4" cy="713.0" r="4.7"/><circle cx="1865.3" cy="834.5" r="4.7"/><circle cx="1908.9" cy="695.5" r="4.7"/><circle cx="1799.2" cy="801.2" r="4.7"/><circle cx="1896.9" cy="728.1" r="4.7"/><circle cx="1866.0" cy="723.9" r="4.7"/><circle cx="2050.5" cy="636.0" r="4.7"/><circle cx="1879.2" cy="750.9" r="4.7"/><circle cx="1882.9" cy="755.7" r="4.7"/><circle cx="2027.6" cy="706.0" r="4.7"/><circle cx="1873.5" cy="807.5" r="4.7"/><circle cx="1892.3" cy="677.4" r="4.7"/><circle cx="1891.5" cy="725.3" r="4.7"/><circle cx="1879.6" cy="812.1" r="4.7"/><circle cx="2038.6" cy="661.6" r="4.7"/><circle cx="2023.7" cy="758.7" r="4.7"/><circle cx="1986.8" cy="595.4" r="4.7"/><circle cx="1874.7" cy="759.8" r="4.7"/><circle cx="2050.4" cy="794.7" r="4.7"/><circle cx="1896.0" cy="733.5" r="4.7"/><circle cx="1863.1" cy="758.3" r="4.7"/><circle cx="1854.6" cy="764.9" r="4.7"/><circle cx="1988.6" cy="634.7" r="4.7"/><circle cx="1864.2" cy="752.1" r="4.7"/><circle cx="1875.7" cy="748.3" r="4.7"/><circle cx="1887.4" cy="774.1" r="4.7"/><circle cx="2049.5" cy="614.5" r="4.7"/><circle cx="1901.3" cy="775.8" r="4.7"/><circle cx="2012.3" cy="674.3" r="4.7"/><circle cx="1866.3" cy="773.2" r="4.7"/><circle cx="1964.3" cy="602.2" r="4.7"/><circle cx="1913.9" cy="734.8" r="4.7"/><circle cx="2010.3" cy="590.4" r="4.7"/><circle cx="1919.0" cy="725.3" r="4.7"/><circle cx="1947.0" cy="648.7" r="4.7"/><circle cx="2072.2" cy="677.2" r="4.7"/><circle cx="1878.2" cy="843.9" r="4.7"/><circle cx="1920.2" cy="732.3" r="4.7"/><circle cx="1941.3" cy="705.0" r="4.7"/><circle cx="1863.3" cy="763.2" r="4.7"/><circle cx="1875.9" cy="783.4" r="4.7"/><circle cx="1896.1" cy="741.6" r="4.7"/><circle cx="1979.0" cy="742.1" r="4.7"/><circle cx="2013.6" cy="688.0" r="4.7"/><circle cx="1887.2" cy="765.2" r="4.7"/><circle cx="1934.4" cy="677.6" r="4.7"/><circle cx="1927.5" cy="752.0" r="4.7"/><circle cx="2038.0" cy="783.3" r="4.7"/><circle cx="1883.7" cy="784.0" r="4.7"/><circle cx="1895.1" cy="730.2" r="4.7"/><circle cx="1848.1" cy="766.7" r="4.7"/><circle cx="1855.9" cy="725.3" r="4.7"/><circle cx="1874.5" cy="768.2" r="4.7"/><circle cx="1964.2" cy="632.2" r="4.7"/><circle cx="2040.8" cy="638.5" r="4.7"/><circle cx="1955.3" cy="583.1" r="4.7"/><circle cx="1874.9" cy="770.2" r="4.7"/><circle cx="1910.8" cy="736.7" r="4.7"/><circle cx="1933.0" cy="725.6" r="4.7"/><circle cx="1926.0" cy="721.0" r="4.7"/><circle cx="1819.8" cy="755.0" r="4.7"/><circle cx="1882.2" cy="819.0" r="4.7"/><circle cx="1882.9" cy="728.8" r="4.7"/><circle cx="1858.6" cy="823.8" r="4.7"/><circle cx="1849.5" cy="745.7" r="4.7"/><circle cx="1801.8" cy="899.9" r="4.7"/><circle cx="1858.9" cy="764.0" r="4.7"/><circle cx="1904.2" cy="665.2" r="4.7"/><circle cx="1955.9" cy="785.9" r="4.7"/><circle cx="2021.2" cy="775.3" r="4.7"/><circle cx="1875.0" cy="801.6" r="4.7"/><circle cx="1842.9" cy="872.2" r="4.7"/><circle cx="1894.9" cy="755.5" r="4.7"/><circle cx="1846.4" cy="760.9" r="4.7"/><circle cx="1921.1" cy="725.3" r="4.7"/><circle cx="1883.2" cy="790.2" r="4.7"/><circle cx="1891.2" cy="714.8" r="4.7"/><circle cx="1885.7" cy="781.5" r="4.7"/><circle cx="1909.8" cy="721.0" r="4.7"/><circle cx="1893.8" cy="741.5" r="4.7"/><circle cx="1866.8" cy="720.9" r="4.7"/><circle cx="1817.4" cy="881.5" r="4.7"/><circle cx="1949.8" cy="683.0" r="4.7"/><circle cx="1860.3" cy="745.9" r="4.7"/><circle cx="1845.9" cy="761.9" r="4.7"/><circle cx="1953.3" cy="781.8" r="4.7"/><circle cx="1879.8" cy="799.6" r="4.7"/><circle cx="1893.9" cy="653.6" r="4.7"/><circle cx="1875.4" cy="788.1" r="4.7"/><circle cx="1863.1" cy="801.5" r="4.7"/><circle cx="1883.2" cy="751.9" r="4.7"/><circle cx="1910.7" cy="729.5" r="4.7"/><circle cx="1891.3" cy="782.8" r="4.7"/><circle cx="1880.4" cy="725.0" r="4.7"/><circle cx="1880.4" cy="714.6" r="4.7"/><circle cx="1855.6" cy="744.5" r="4.7"/><circle cx="1864.4" cy="770.6" r="4.7"/><circle cx="1886.6" cy="763.9" r="4.7"/><circle cx="1816.2" cy="902.5" r="4.7"/><circle cx="1882.8" cy="842.4" r="4.7"/><circle cx="1999.4" cy="613.1" r="4.7"/><circle cx="1916.3" cy="733.6" r="4.7"/><circle cx="1876.8" cy="791.3" r="4.7"/><circle cx="1880.3" cy="771.6" r="4.7"/><circle cx="1990.4" cy="713.2" r="4.7"/><circle cx="2028.4" cy="654.9" r="4.7"/><circle cx="1828.4" cy="778.5" r="4.7"/><circle cx="2066.1" cy="579.7" r="4.7"/><circle cx="2063.6" cy="598.3" r="4.7"/><circle cx="1882.9" cy="744.1" r="4.7"/><circle cx="1876.7" cy="814.3" r="4.7"/><circle cx="1972.1" cy="793.3" r="4.7"/><circle cx="1901.1" cy="713.9" r="4.7"/><circle cx="1984.9" cy="578.1" r="4.7"/><circle cx="1884.0" cy="769.0" r="4.7"/><circle cx="1875.3" cy="750.9" r="4.7"/><circle cx="2031.6" cy="619.9" r="4.7"/><circle cx="1862.7" cy="773.8" r="4.7"/><circle cx="1906.2" cy="763.2" r="4.7"/><circle cx="1877.1" cy="729.2" r="4.7"/><circle cx="2004.5" cy="664.4" r="4.7"/><circle cx="2026.8" cy="795.7" r="4.7"/><circle cx="1968.7" cy="625.5" r="4.7"/><circle cx="1896.4" cy="743.9" r="4.7"/><circle cx="1876.1" cy="772.0" r="4.7"/><circle cx="1881.5" cy="738.3" r="4.7"/><circle cx="2002.0" cy="578.8" r="4.7"/><circle cx="1884.8" cy="812.8" r="4.7"/><circle cx="2004.0" cy="651.1" r="4.7"/><circle cx="2047.8" cy="579.4" r="4.7"/><circle cx="1849.7" cy="761.8" r="4.7"/><circle cx="1984.9" cy="673.5" r="4.7"/><circle cx="1893.9" cy="735.9" r="4.7"/><circle cx="1882.0" cy="715.7" r="4.7"/><circle cx="1960.1" cy="705.4" r="4.7"/><circle cx="1898.2" cy="703.9" r="4.7"/><circle cx="1848.4" cy="743.7" r="4.7"/><circle cx="1849.9" cy="852.8" r="4.7"/><circle cx="1863.4" cy="772.0" r="4.7"/><circle cx="1881.0" cy="852.0" r="4.7"/><circle cx="1873.3" cy="711.5" r="4.7"/><circle cx="1991.8" cy="586.4" r="4.7"/><circle cx="1853.5" cy="848.2" r="4.7"/><circle cx="1937.9" cy="685.6" r="4.7"/><circle cx="1873.3" cy="746.8" r="4.7"/><circle cx="1907.4" cy="781.3" r="4.7"/><circle cx="2064.0" cy="669.9" r="4.7"/><circle cx="1862.1" cy="753.1" r="4.7"/><circle cx="1882.5" cy="756.1" r="4.7"/><circle cx="1958.1" cy="697.8" r="4.7"/><circle cx="1888.0" cy="776.8" r="4.7"/><circle cx="1878.8" cy="751.6" r="4.7"/><circle cx="1905.0" cy="757.7" r="4.7"/><circle cx="1881.0" cy="777.7" r="4.7"/><circle cx="1900.4" cy="697.5" r="4.7"/><circle cx="1880.2" cy="748.6" r="4.7"/><circle cx="1905.5" cy="705.7" r="4.7"/><circle cx="1870.5" cy="823.6" r="4.7"/><circle cx="1932.3" cy="736.3" r="4.7"/><circle cx="2068.1" cy="596.6" r="4.7"/><circle cx="1937.2" cy="723.3" r="4.7"/><circle cx="1984.7" cy="578.8" r="4.7"/><circle cx="2005.5" cy="783.2" r="4.7"/><circle cx="1875.9" cy="810.5" r="4.7"/><circle cx="2009.7" cy="656.7" r="4.7"/><circle cx="1865.4" cy="794.0" r="4.7"/><circle cx="2033.9" cy="627.1" r="4.7"/><circle cx="1877.3" cy="747.2" r="4.7"/><circle cx="1884.1" cy="837.7" r="4.7"/><circle cx="1847.9" cy="874.0" r="4.7"/><circle cx="2064.0" cy="608.0" r="4.7"/><circle cx="1867.4" cy="767.4" r="4.7"/><circle cx="2035.7" cy="625.1" r="4.7"/><circle cx="1861.0" cy="729.7" r="4.7"/><circle cx="1980.7" cy="677.0" r="4.7"/><circle cx="1867.1" cy="782.3" r="4.7"/><circle cx="1899.4" cy="705.9" r="4.7"/><circle cx="2055.6" cy="645.1" r="4.7"/><circle cx="1919.4" cy="707.5" r="4.7"/><circle cx="1989.2" cy="659.4" r="4.7"/><circle cx="1903.7" cy="783.5" r="4.7"/><circle cx="1913.4" cy="774.6" r="4.7"/><circle cx="1938.3" cy="657.8" r="4.7"/><circle cx="1885.8" cy="722.1" r="4.7"/><circle cx="1863.5" cy="736.0" r="4.7"/><circle cx="1900.4" cy="639.6" r="4.7"/><circle cx="1881.5" cy="765.3" r="4.7"/><circle cx="2021.8" cy="740.9" r="4.7"/><circle cx="1864.1" cy="761.2" r="4.7"/><circle cx="1888.8" cy="731.6" r="4.7"/><circle cx="1877.8" cy="708.0" r="4.7"/><circle cx="1980.1" cy="760.3" r="4.7"/><circle cx="1811.5" cy="783.2" r="4.7"/><circle cx="2060.4" cy="733.3" r="4.7"/><circle cx="1868.0" cy="747.6" r="4.7"/><circle cx="1852.7" cy="771.0" r="4.7"/><circle cx="1870.6" cy="760.2" r="4.7"/><circle cx="1872.1" cy="747.8" r="4.7"/><circle cx="1942.4" cy="868.2" r="4.7"/><circle cx="2014.5" cy="646.6" r="4.7"/><circle cx="1846.3" cy="722.3" r="4.7"/><circle cx="1868.8" cy="809.7" r="4.7"/><circle cx="1876.9" cy="733.4" r="4.7"/><circle cx="1906.6" cy="747.2" r="4.7"/><circle cx="1908.8" cy="785.3" r="4.7"/><circle cx="1971.9" cy="715.5" r="4.7"/><circle cx="1977.7" cy="768.8" r="4.7"/><circle cx="1871.6" cy="800.8" r="4.7"/><circle cx="1952.7" cy="783.3" r="4.7"/><circle cx="1866.8" cy="781.6" r="4.7"/><circle cx="1892.7" cy="688.0" r="4.7"/><circle cx="1871.1" cy="773.9" r="4.7"/><circle cx="1988.4" cy="659.9" r="4.7"/><circle cx="1881.5" cy="795.0" r="4.7"/><circle cx="1964.3" cy="673.6" r="4.7"/><circle cx="1875.4" cy="721.4" r="4.7"/><circle cx="1920.0" cy="809.6" r="4.7"/><circle cx="1892.8" cy="702.8" r="4.7"/><circle cx="1880.4" cy="753.0" r="4.7"/><circle cx="1917.8" cy="695.2" r="4.7"/><circle cx="1853.9" cy="721.9" r="4.7"/><circle cx="1789.4" cy="919.3" r="4.7"/><circle cx="1874.4" cy="734.6" r="4.7"/><circle cx="1875.1" cy="748.8" r="4.7"/><circle cx="2066.1" cy="579.5" r="4.7"/><circle cx="1950.8" cy="745.6" r="4.7"/><circle cx="1894.0" cy="736.8" r="4.7"/><circle cx="1878.0" cy="715.4" r="4.7"/><circle cx="1919.1" cy="675.4" r="4.7"/><circle cx="1949.2" cy="617.5" r="4.7"/><circle cx="1893.2" cy="731.5" r="4.7"/><circle cx="1948.4" cy="742.6" r="4.7"/><circle cx="1968.5" cy="686.8" r="4.7"/><circle cx="1999.8" cy="584.5" r="4.7"/><circle cx="1870.4" cy="790.8" r="4.7"/><circle cx="2016.5" cy="586.1" r="4.7"/><circle cx="1893.9" cy="738.5" r="4.7"/><circle cx="1961.7" cy="640.0" r="4.7"/><circle cx="1880.0" cy="785.5" r="4.7"/><circle cx="1920.5" cy="723.2" r="4.7"/><circle cx="1966.9" cy="738.0" r="4.7"/><circle cx="1967.3" cy="700.9" r="4.7"/><circle cx="1886.5" cy="747.2" r="4.7"/><circle cx="1923.8" cy="669.2" r="4.7"/><circle cx="1865.9" cy="732.3" r="4.7"/><circle cx="1922.8" cy="673.8" r="4.7"/><circle cx="2012.0" cy="681.9" r="4.7"/><circle cx="2011.1" cy="596.8" r="4.7"/><circle cx="1873.3" cy="799.2" r="4.7"/><circle cx="1867.7" cy="772.8" r="4.7"/><circle cx="1893.2" cy="758.4" r="4.7"/><circle cx="1864.1" cy="782.3" r="4.7"/><circle cx="1869.6" cy="766.6" r="4.7"/><circle cx="1934.8" cy="725.7" r="4.7"/><circle cx="1828.6" cy="873.7" r="4.7"/><circle cx="1879.4" cy="747.8" r="4.7"/><circle cx="1869.3" cy="766.8" r="4.7"/><circle cx="1995.2" cy="750.6" r="4.7"/><circle cx="1868.4" cy="766.6" r="4.7"/><circle cx="1906.6" cy="782.1" r="4.7"/><circle cx="1960.9" cy="684.7" r="4.7"/><circle cx="1865.4" cy="736.7" r="4.7"/><circle cx="1881.4" cy="731.4" r="4.7"/><circle cx="1941.3" cy="817.4" r="4.7"/><circle cx="1994.1" cy="578.3" r="4.7"/><circle cx="2012.4" cy="603.2" r="4.7"/><circle cx="1885.7" cy="735.5" r="4.7"/><circle cx="1880.9" cy="767.7" r="4.7"/><circle cx="1881.7" cy="817.9" r="4.7"/><circle cx="2015.2" cy="627.3" r="4.7"/><circle cx="1883.6" cy="801.9" r="4.7"/><circle cx="1841.1" cy="772.3" r="4.7"/><circle cx="1857.9" cy="719.0" r="4.7"/><circle cx="1852.0" cy="746.2" r="4.7"/><circle cx="1850.2" cy="840.2" r="4.7"/><circle cx="2023.7" cy="628.6" r="4.7"/><circle cx="1911.3" cy="757.2" r="4.7"/><circle cx="1868.9" cy="795.6" r="4.7"/><circle cx="1954.2" cy="674.0" r="4.7"/><circle cx="1867.1" cy="793.4" r="4.7"/><circle cx="1895.9" cy="675.6" r="4.7"/><circle cx="1863.6" cy="782.4" r="4.7"/><circle cx="1853.9" cy="766.5" r="4.7"/><circle cx="2055.5" cy="587.1" r="4.7"/><circle cx="1887.2" cy="831.2" r="4.7"/><circle cx="1885.9" cy="708.6" r="4.7"/><circle cx="1964.7" cy="917.6" r="4.7"/><circle cx="1951.2" cy="691.3" r="4.7"/><circle cx="1877.1" cy="757.1" r="4.7"/><circle cx="1896.7" cy="701.8" r="4.7"/><circle cx="1985.9" cy="742.7" r="4.7"/><circle cx="1870.4" cy="775.3" r="4.7"/><circle cx="1876.8" cy="763.4" r="4.7"/><circle cx="1874.3" cy="756.8" r="4.7"/><circle cx="1867.4" cy="754.5" r="4.7"/><circle cx="1986.4" cy="695.6" r="4.7"/><circle cx="2017.7" cy="646.5" r="4.7"/><circle cx="1937.7" cy="703.4" r="4.7"/><circle cx="1969.1" cy="650.4" r="4.7"/><circle cx="1902.5" cy="742.2" r="4.7"/><circle cx="1924.8" cy="796.7" r="4.7"/><circle cx="1905.4" cy="729.3" r="4.7"/><circle cx="1885.6" cy="770.6" r="4.7"/><circle cx="1831.9" cy="764.1" r="4.7"/><circle cx="1880.7" cy="778.9" r="4.7"/><circle cx="1862.3" cy="780.9" r="4.7"/><circle cx="1866.5" cy="711.4" r="4.7"/><circle cx="1929.3" cy="668.9" r="4.7"/><circle cx="1871.4" cy="773.5" r="4.7"/><circle cx="1862.2" cy="765.3" r="4.7"/><circle cx="1995.9" cy="672.8" r="4.7"/><circle cx="1888.3" cy="768.4" r="4.7"/><circle cx="1865.1" cy="753.5" r="4.7"/><circle cx="1915.9" cy="787.8" r="4.7"/><circle cx="1880.1" cy="711.0" r="4.7"/><circle cx="2020.4" cy="608.6" r="4.7"/><circle cx="1941.7" cy="709.5" r="4.7"/><circle cx="2012.4" cy="637.4" r="4.7"/><circle cx="1885.4" cy="791.2" r="4.7"/><circle cx="1961.5" cy="651.1" r="4.7"/><circle cx="1921.2" cy="787.0" r="4.7"/><circle cx="1853.4" cy="751.6" r="4.7"/><circle cx="1867.9" cy="773.4" r="4.7"/><circle cx="2008.8" cy="603.4" r="4.7"/><circle cx="1894.7" cy="773.8" r="4.7"/><circle cx="1956.5" cy="725.3" r="4.7"/><circle cx="2038.9" cy="594.3" r="4.7"/><circle cx="1805.2" cy="902.0" r="4.7"/><circle cx="2063.6" cy="669.8" r="4.7"/><circle cx="1988.9" cy="639.6" r="4.7"/><circle cx="1863.4" cy="765.8" r="4.7"/><circle cx="1873.7" cy="740.0" r="4.7"/><circle cx="1942.4" cy="725.2" r="4.7"/><circle cx="2048.2" cy="594.9" r="4.7"/><circle cx="1897.6" cy="713.1" r="4.7"/><circle cx="1924.4" cy="622.3" r="4.7"/><circle cx="1884.4" cy="740.9" r="4.7"/><circle cx="1876.9" cy="758.2" r="4.7"/><circle cx="1886.5" cy="852.6" r="4.7"/><circle cx="1896.5" cy="767.9" r="4.7"/><circle cx="1892.6" cy="700.5" r="4.7"/><circle cx="1871.6" cy="825.1" r="4.7"/><circle cx="1940.2" cy="780.6" r="4.7"/><circle cx="1872.5" cy="718.2" r="4.7"/><circle cx="1883.1" cy="753.4" r="4.7"/><circle cx="1914.0" cy="705.3" r="4.7"/><circle cx="1840.7" cy="879.4" r="4.7"/><circle cx="1915.8" cy="654.8" r="4.7"/><circle cx="1810.8" cy="888.8" r="4.7"/><circle cx="1860.4" cy="745.9" r="4.7"/><circle cx="1866.0" cy="747.5" r="4.7"/><circle cx="1970.7" cy="716.9" r="4.7"/><circle cx="2030.3" cy="784.9" r="4.7"/><circle cx="1975.1" cy="832.6" r="4.7"/><circle cx="1872.4" cy="777.0" r="4.7"/><circle cx="1957.5" cy="680.2" r="4.7"/><circle cx="1973.6" cy="707.7" r="4.7"/><circle cx="1870.0" cy="785.8" r="4.7"/><circle cx="1892.7" cy="756.7" r="4.7"/><circle cx="1880.7" cy="764.7" r="4.7"/><circle cx="2007.3" cy="847.7" r="4.7"/><circle cx="1981.8" cy="684.7" r="4.7"/><circle cx="1885.4" cy="831.6" r="4.7"/><circle cx="2004.1" cy="580.9" r="4.7"/><circle cx="1864.4" cy="742.9" r="4.7"/><circle cx="1878.4" cy="738.4" r="4.7"/><circle cx="1870.1" cy="728.5" r="4.7"/><circle cx="1851.2" cy="756.6" r="4.7"/><circle cx="1857.7" cy="753.5" r="4.7"/><circle cx="1943.0" cy="725.2" r="4.7"/><circle cx="1874.5" cy="755.9" r="4.7"/><circle cx="1869.4" cy="757.0" r="4.7"/><circle cx="1923.3" cy="749.8" r="4.7"/><circle cx="1999.1" cy="609.7" r="4.7"/><circle cx="1950.8" cy="683.9" r="4.7"/><circle cx="1880.5" cy="738.3" r="4.7"/><circle cx="2067.0" cy="668.0" r="4.7"/><circle cx="2000.8" cy="733.9" r="4.7"/><circle cx="1852.0" cy="760.3" r="4.7"/><circle cx="1843.4" cy="896.6" r="4.7"/><circle cx="1872.6" cy="765.4" r="4.7"/><circle cx="1935.6" cy="693.6" r="4.7"/><circle cx="2010.7" cy="595.4" r="4.7"/><circle cx="1939.3" cy="714.8" r="4.7"/><circle cx="1969.1" cy="691.2" r="4.7"/><circle cx="1959.4" cy="704.9" r="4.7"/><circle cx="1879.5" cy="735.5" r="4.7"/><circle cx="1865.7" cy="800.6" r="4.7"/><circle cx="1890.7" cy="755.9" r="4.7"/><circle cx="1847.1" cy="767.9" r="4.7"/><circle cx="1987.8" cy="736.0" r="4.7"/><circle cx="1871.4" cy="762.8" r="4.7"/><circle cx="1934.8" cy="672.2" r="4.7"/><circle cx="1861.5" cy="815.7" r="4.7"/><circle cx="1990.5" cy="664.8" r="4.7"/><circle cx="1863.2" cy="755.7" r="4.7"/><circle cx="1865.2" cy="780.5" r="4.7"/><circle cx="1878.2" cy="773.0" r="4.7"/><circle cx="1883.9" cy="736.3" r="4.7"/><circle cx="2011.8" cy="653.0" r="4.7"/><circle cx="1911.2" cy="717.3" r="4.7"/><circle cx="1903.4" cy="740.7" r="4.7"/><circle cx="2070.0" cy="702.2" r="4.7"/><circle cx="1986.4" cy="658.4" r="4.7"/><circle cx="1834.8" cy="769.3" r="4.7"/><circle cx="1902.7" cy="786.4" r="4.7"/><circle cx="1839.1" cy="773.9" r="4.7"/><circle cx="1914.7" cy="730.7" r="4.7"/><circle cx="1908.6" cy="782.3" r="4.7"/><circle cx="2029.5" cy="595.9" r="4.7"/><circle cx="2015.7" cy="629.7" r="4.7"/><circle cx="1860.0" cy="747.0" r="4.7"/><circle cx="1887.7" cy="790.4" r="4.7"/><circle cx="1883.3" cy="701.2" r="4.7"/><circle cx="1883.4" cy="846.1" r="4.7"/><circle cx="1831.0" cy="768.3" r="4.7"/><circle cx="1888.7" cy="733.5" r="4.7"/><circle cx="1866.8" cy="781.8" r="4.7"/><circle cx="1879.3" cy="710.8" r="4.7"/><circle cx="1944.5" cy="656.0" r="4.7"/><circle cx="1971.9" cy="667.2" r="4.7"/><circle cx="1855.0" cy="760.9" r="4.7"/><circle cx="1952.9" cy="756.4" r="4.7"/><circle cx="2049.5" cy="577.3" r="4.7"/><circle cx="1952.3" cy="844.1" r="4.7"/><circle cx="2006.2" cy="595.1" r="4.7"/><circle cx="1873.4" cy="747.6" r="4.7"/><circle cx="1921.1" cy="749.3" r="4.7"/><circle cx="1876.3" cy="734.8" r="4.7"/><circle cx="1951.9" cy="609.0" r="4.7"/><circle cx="1959.3" cy="702.7" r="4.7"/><circle cx="1844.7" cy="860.3" r="4.7"/><circle cx="1923.8" cy="655.7" r="4.7"/><circle cx="1893.0" cy="746.9" r="4.7"/><circle cx="1896.6" cy="755.3" r="4.7"/><circle cx="1949.1" cy="739.3" r="4.7"/><circle cx="1868.5" cy="751.4" r="4.7"/><circle cx="1868.3" cy="741.2" r="4.7"/><circle cx="1874.0" cy="677.7" r="4.7"/><circle cx="1925.7" cy="725.9" r="4.7"/><circle cx="1896.3" cy="751.2" r="4.7"/><circle cx="1916.4" cy="674.6" r="4.7"/><circle cx="1941.2" cy="652.0" r="4.7"/><circle cx="2037.8" cy="594.6" r="4.7"/><circle cx="1878.5" cy="800.7" r="4.7"/><circle cx="1882.2" cy="771.4" r="4.7"/><circle cx="2007.4" cy="807.8" r="4.7"/><circle cx="1902.1" cy="773.4" r="4.7"/><circle cx="2020.2" cy="612.9" r="4.7"/><circle cx="1887.2" cy="770.0" r="4.7"/><circle cx="1855.0" cy="842.4" r="4.7"/><circle cx="1876.5" cy="790.5" r="4.7"/><circle cx="2047.5" cy="807.2" r="4.7"/><circle cx="1887.6" cy="740.6" r="4.7"/><circle cx="1882.8" cy="750.5" r="4.7"/><circle cx="2007.1" cy="625.3" r="4.7"/><circle cx="1881.3" cy="736.3" r="4.7"/><circle cx="1865.0" cy="767.5" r="4.7"/><circle cx="1856.2" cy="745.4" r="4.7"/><circle cx="1948.7" cy="681.1" r="4.7"/><circle cx="1882.0" cy="730.5" r="4.7"/><circle cx="2068.9" cy="721.0" r="4.7"/><circle cx="2013.7" cy="685.9" r="4.7"/><circle cx="1831.2" cy="873.4" r="4.7"/><circle cx="1832.5" cy="772.0" r="4.7"/><circle cx="1891.1" cy="741.3" r="4.7"/><circle cx="2033.1" cy="616.3" r="4.7"/><circle cx="2002.4" cy="688.2" r="4.7"/><circle cx="1903.1" cy="730.1" r="4.7"/><circle cx="1957.5" cy="604.0" r="4.7"/><circle cx="1937.1" cy="612.6" r="4.7"/><circle cx="1869.7" cy="753.4" r="4.7"/><circle cx="1868.9" cy="759.1" r="4.7"/><circle cx="2004.9" cy="685.1" r="4.7"/><circle cx="1889.1" cy="680.3" r="4.7"/><circle cx="1939.3" cy="664.9" r="4.7"/><circle cx="1824.8" cy="876.7" r="4.7"/><circle cx="1874.0" cy="762.1" r="4.7"/><circle cx="1867.9" cy="803.3" r="4.7"/><circle cx="1838.5" cy="723.0" r="4.7"/><circle cx="2024.3" cy="612.9" r="4.7"/><circle cx="1897.2" cy="742.0" r="4.7"/><circle cx="1892.8" cy="754.3" r="4.7"/><circle cx="1869.1" cy="692.2" r="4.7"/><circle cx="1986.9" cy="726.8" r="4.7"/><circle cx="1879.2" cy="767.1" r="4.7"/><circle cx="2009.6" cy="612.3" r="4.7"/><circle cx="1905.5" cy="721.3" r="4.7"/><circle cx="1864.1" cy="738.9" r="4.7"/><circle cx="1908.8" cy="818.1" r="4.7"/><circle cx="1889.9" cy="745.3" r="4.7"/><circle cx="1903.9" cy="699.2" r="4.7"/><circle cx="1870.5" cy="811.6" r="4.7"/><circle cx="1863.8" cy="770.8" r="4.7"/><circle cx="2072.1" cy="628.4" r="4.7"/><circle cx="2021.1" cy="660.1" r="4.7"/><circle cx="1920.7" cy="664.4" r="4.7"/><circle cx="1907.2" cy="727.4" r="4.7"/><circle cx="1876.0" cy="749.6" r="4.7"/><circle cx="1880.4" cy="748.9" r="4.7"/><circle cx="1893.9" cy="767.0" r="4.7"/><circle cx="1856.2" cy="763.0" r="4.7"/><circle cx="1891.2" cy="730.1" r="4.7"/><circle cx="1909.8" cy="696.4" r="4.7"/><circle cx="1832.5" cy="775.5" r="4.7"/><circle cx="1999.8" cy="636.2" r="4.7"/><circle cx="1866.6" cy="733.4" r="4.7"/><circle cx="1928.5" cy="702.3" r="4.7"/><circle cx="1856.1" cy="771.1" r="4.7"/><circle cx="1877.4" cy="757.8" r="4.7"/><circle cx="1927.9" cy="655.3" r="4.7"/><circle cx="1875.0" cy="743.6" r="4.7"/><circle cx="1848.9" cy="846.0" r="4.7"/><circle cx="1946.0" cy="710.6" r="4.7"/><circle cx="1855.1" cy="766.7" r="4.7"/><circle cx="1876.0" cy="775.9" r="4.7"/><circle cx="1949.2" cy="706.3" r="4.7"/><circle cx="1878.7" cy="751.0" r="4.7"/><circle cx="1922.7" cy="750.1" r="4.7"/><circle cx="1829.1" cy="775.7" r="4.7"/><circle cx="2006.0" cy="822.7" r="4.7"/><circle cx="1887.2" cy="782.1" r="4.7"/><circle cx="2067.9" cy="580.9" r="4.7"/><circle cx="1846.4" cy="739.5" r="4.7"/><circle cx="1915.2" cy="741.3" r="4.7"/><circle cx="2009.6" cy="773.4" r="4.7"/><circle cx="1891.1" cy="742.4" r="4.7"/><circle cx="1896.5" cy="760.8" r="4.7"/><circle cx="1973.8" cy="763.1" r="4.7"/><circle cx="1971.5" cy="708.3" r="4.7"/><circle cx="1887.5" cy="859.8" r="4.7"/><circle cx="1893.8" cy="683.8" r="4.7"/><circle cx="1919.6" cy="764.1" r="4.7"/><circle cx="1867.4" cy="820.3" r="4.7"/><circle cx="1841.9" cy="768.0" r="4.7"/><circle cx="1873.4" cy="820.2" r="4.7"/><circle cx="1864.3" cy="744.1" r="4.7"/><circle cx="1869.4" cy="760.7" r="4.7"/><circle cx="1882.3" cy="748.0" r="4.7"/><circle cx="1900.5" cy="731.5" r="4.7"/><circle cx="1956.3" cy="667.7" r="4.7"/><circle cx="1914.2" cy="697.6" r="4.7"/><circle cx="1969.0" cy="715.9" r="4.7"/><circle cx="1867.8" cy="762.2" r="4.7"/><circle cx="1958.1" cy="619.0" r="4.7"/><circle cx="1897.3" cy="723.9" r="4.7"/><circle cx="2020.1" cy="653.8" r="4.7"/><circle cx="1879.1" cy="813.1" r="4.7"/><circle cx="1871.7" cy="800.9" r="4.7"/><circle cx="1971.3" cy="650.6" r="4.7"/><circle cx="1889.4" cy="720.1" r="4.7"/><circle cx="1926.3" cy="691.4" r="4.7"/><circle cx="1872.9" cy="738.6" r="4.7"/><circle cx="1901.2" cy="766.7" r="4.7"/><circle cx="1890.6" cy="681.6" r="4.7"/><circle cx="1865.0" cy="764.8" r="4.7"/><circle cx="1854.1" cy="761.6" r="4.7"/><circle cx="1860.8" cy="767.3" r="4.7"/><circle cx="1855.1" cy="847.3" r="4.7"/><circle cx="1864.1" cy="757.1" r="4.7"/><circle cx="1931.7" cy="640.1" r="4.7"/><circle cx="1896.9" cy="748.3" r="4.7"/><circle cx="1876.7" cy="783.3" r="4.7"/><circle cx="1873.5" cy="710.1" r="4.7"/><circle cx="1900.6" cy="771.3" r="4.7"/><circle cx="1857.3" cy="760.3" r="4.7"/><circle cx="1879.9" cy="751.3" r="4.7"/><circle cx="1899.7" cy="743.5" r="4.7"/><circle cx="1872.3" cy="753.6" r="4.7"/><circle cx="1843.4" cy="769.0" r="4.7"/><circle cx="1894.0" cy="809.0" r="4.7"/><circle cx="1884.5" cy="705.2" r="4.7"/><circle cx="1866.0" cy="753.6" r="4.7"/><circle cx="1860.9" cy="826.0" r="4.7"/><circle cx="2070.6" cy="605.3" r="4.7"/><circle cx="1879.7" cy="735.7" r="4.7"/><circle cx="1887.2" cy="814.9" r="4.7"/><circle cx="1890.7" cy="727.1" r="4.7"/><circle cx="1905.1" cy="789.2" r="4.7"/><circle cx="1869.5" cy="736.5" r="4.7"/><circle cx="1870.5" cy="744.9" r="4.7"/><circle cx="1888.1" cy="744.6" r="4.7"/><circle cx="1889.4" cy="715.4" r="4.7"/><circle cx="1875.7" cy="747.5" r="4.7"/><circle cx="1954.0" cy="623.9" r="4.7"/><circle cx="1863.3" cy="769.4" r="4.7"/><circle cx="1917.7" cy="710.4" r="4.7"/><circle cx="1870.7" cy="774.2" r="4.7"/><circle cx="1936.8" cy="638.4" r="4.7"/><circle cx="1920.6" cy="797.2" r="4.7"/><circle cx="1953.1" cy="584.2" r="4.7"/><circle cx="1848.2" cy="752.7" r="4.7"/><circle cx="1910.2" cy="622.2" r="4.7"/><circle cx="2038.8" cy="656.7" r="4.7"/><circle cx="1941.6" cy="682.3" r="4.7"/><circle cx="1895.6" cy="720.5" r="4.7"/><circle cx="1900.8" cy="731.7" r="4.7"/><circle cx="1868.0" cy="783.6" r="4.7"/><circle cx="1880.7" cy="746.7" r="4.7"/><circle cx="2046.0" cy="579.0" r="4.7"/><circle cx="1923.2" cy="678.3" r="4.7"/><circle cx="1854.6" cy="732.2" r="4.7"/><circle cx="1952.3" cy="672.0" r="4.7"/><circle cx="1867.2" cy="823.6" r="4.7"/><circle cx="1867.1" cy="790.4" r="4.7"/><circle cx="1871.3" cy="780.9" r="4.7"/><circle cx="2028.4" cy="615.6" r="4.7"/><circle cx="2039.8" cy="623.8" r="4.7"/><circle cx="1939.5" cy="694.3" r="4.7"/><circle cx="1944.7" cy="716.6" r="4.7"/><circle cx="1899.3" cy="717.6" r="4.7"/><circle cx="1966.1" cy="666.9" r="4.7"/><circle cx="1889.8" cy="733.5" r="4.7"/><circle cx="1871.2" cy="762.2" r="4.7"/><circle cx="1943.7" cy="687.6" r="4.7"/><circle cx="1850.5" cy="731.8" r="4.7"/><circle cx="1855.7" cy="752.2" r="4.7"/><circle cx="1924.2" cy="760.1" r="4.7"/><circle cx="1872.1" cy="782.3" r="4.7"/><circle cx="1856.8" cy="850.7" r="4.7"/><circle cx="2016.0" cy="742.1" r="4.7"/><circle cx="2011.0" cy="702.4" r="4.7"/><circle cx="1868.7" cy="799.9" r="4.7"/><circle cx="1901.4" cy="762.8" r="4.7"/><circle cx="1803.8" cy="799.8" r="4.7"/><circle cx="1910.2" cy="712.4" r="4.7"/><circle cx="1867.0" cy="739.3" r="4.7"/><circle cx="2023.4" cy="746.7" r="4.7"/><circle cx="1796.9" cy="910.1" r="4.7"/><circle cx="1955.4" cy="682.7" r="4.7"/><circle cx="1845.1" cy="853.5" r="4.7"/><circle cx="1927.6" cy="660.4" r="4.7"/><circle cx="1958.6" cy="642.8" r="4.7"/><circle cx="1891.2" cy="684.3" r="4.7"/><circle cx="1870.9" cy="812.7" r="4.7"/><circle cx="1823.2" cy="784.5" r="4.7"/><circle cx="1884.9" cy="744.0" r="4.7"/><circle cx="1927.9" cy="738.8" r="4.7"/><circle cx="1995.3" cy="578.7" r="4.7"/><circle cx="1909.6" cy="778.0" r="4.7"/><circle cx="1946.7" cy="721.6" r="4.7"/><circle cx="2008.5" cy="589.1" r="4.7"/><circle cx="1963.0" cy="694.0" r="4.7"/><circle cx="1913.4" cy="713.4" r="4.7"/><circle cx="2066.9" cy="693.6" r="4.7"/><circle cx="1847.1" cy="855.4" r="4.7"/><circle cx="1880.6" cy="726.4" r="4.7"/><circle cx="1872.5" cy="750.9" r="4.7"/><circle cx="1977.2" cy="611.1" r="4.7"/><circle cx="1926.6" cy="732.2" r="4.7"/><circle cx="1890.9" cy="720.1" r="4.7"/><circle cx="1980.2" cy="621.7" r="4.7"/><circle cx="1885.8" cy="802.0" r="4.7"/><circle cx="1851.5" cy="766.8" r="4.7"/><circle cx="1927.3" cy="696.0" r="4.7"/><circle cx="1931.2" cy="649.8" r="4.7"/><circle cx="1925.0" cy="685.6" r="4.7"/><circle cx="1886.1" cy="744.4" r="4.7"/><circle cx="1915.6" cy="709.2" r="4.7"/><circle cx="1895.1" cy="784.3" r="4.7"/><circle cx="1911.8" cy="662.0" r="4.7"/><circle cx="1901.4" cy="719.5" r="4.7"/><circle cx="1868.3" cy="721.6" r="4.7"/><circle cx="1882.8" cy="773.3" r="4.7"/><circle cx="1927.3" cy="686.3" r="4.7"/><circle cx="1866.5" cy="782.8" r="4.7"/><circle cx="1915.6" cy="618.1" r="4.7"/><circle cx="1889.5" cy="813.5" r="4.7"/><circle cx="1963.4" cy="753.6" r="4.7"/><circle cx="1897.8" cy="653.7" r="4.7"/><circle cx="1884.2" cy="724.0" r="4.7"/><circle cx="1893.4" cy="727.6" r="4.7"/><circle cx="1866.0" cy="753.4" r="4.7"/><circle cx="1955.9" cy="702.1" r="4.7"/><circle cx="1872.1" cy="817.0" r="4.7"/><circle cx="1874.4" cy="774.0" r="4.7"/><circle cx="1869.0" cy="739.0" r="4.7"/><circle cx="1870.0" cy="768.8" r="4.7"/><circle cx="1871.0" cy="803.0" r="4.7"/><circle cx="1909.3" cy="729.6" r="4.7"/><circle cx="1864.3" cy="851.2" r="4.7"/><circle cx="1941.6" cy="620.8" r="4.7"/><circle cx="1907.1" cy="757.6" r="4.7"/><circle cx="1940.3" cy="692.1" r="4.7"/><circle cx="1834.4" cy="770.7" r="4.7"/><circle cx="1905.8" cy="730.0" r="4.7"/><circle cx="1911.3" cy="719.1" r="4.7"/><circle cx="1910.9" cy="712.9" r="4.7"/><circle cx="1870.1" cy="778.2" r="4.7"/><circle cx="1860.2" cy="823.3" r="4.7"/><circle cx="1872.6" cy="743.2" r="4.7"/><circle cx="1890.2" cy="717.8" r="4.7"/><circle cx="1926.8" cy="674.7" r="4.7"/><circle cx="1985.8" cy="674.9" r="4.7"/><circle cx="1900.3" cy="739.0" r="4.7"/><circle cx="1913.9" cy="650.0" r="4.7"/><circle cx="1883.8" cy="812.0" r="4.7"/><circle cx="1879.6" cy="730.0" r="4.7"/><circle cx="1883.1" cy="732.6" r="4.7"/><circle cx="1883.2" cy="721.6" r="4.7"/><circle cx="1861.6" cy="720.0" r="4.7"/><circle cx="1904.0" cy="730.2" r="4.7"/><circle cx="1869.7" cy="762.0" r="4.7"/><circle cx="1876.8" cy="754.6" r="4.7"/><circle cx="1954.3" cy="746.6" r="4.7"/><circle cx="1875.6" cy="752.7" r="4.7"/><circle cx="1870.2" cy="754.4" r="4.7"/><circle cx="2026.2" cy="613.5" r="4.7"/><circle cx="1877.6" cy="812.6" r="4.7"/><circle cx="1891.5" cy="769.3" r="4.7"/><circle cx="1877.2" cy="751.2" r="4.7"/><circle cx="1886.0" cy="734.5" r="4.7"/><circle cx="1888.2" cy="719.5" r="4.7"/><circle cx="1905.9" cy="822.1" r="4.7"/><circle cx="1857.6" cy="770.9" r="4.7"/><circle cx="1876.7" cy="753.6" r="4.7"/><circle cx="1862.6" cy="726.1" r="4.7"/><circle cx="1940.2" cy="625.5" r="4.7"/><circle cx="1857.7" cy="768.5" r="4.7"/><circle cx="1907.7" cy="721.3" r="4.7"/><circle cx="1882.9" cy="753.5" r="4.7"/><circle cx="1823.5" cy="879.4" r="4.7"/><circle cx="1863.5" cy="732.8" r="4.7"/><circle cx="1933.9" cy="679.0" r="4.7"/><circle cx="1879.1" cy="778.1" r="4.7"/><circle cx="1879.9" cy="733.3" r="4.7"/><circle cx="1960.5" cy="687.7" r="4.7"/><circle cx="1952.0" cy="720.5" r="4.7"/><circle cx="1866.3" cy="857.2" r="4.7"/><circle cx="1942.8" cy="639.1" r="4.7"/><circle cx="1893.8" cy="723.3" r="4.7"/><circle cx="1878.1" cy="781.7" r="4.7"/><circle cx="1823.1" cy="756.5" r="4.7"/><circle cx="1812.2" cy="901.5" r="4.7"/><circle cx="1978.4" cy="654.2" r="4.7"/><circle cx="1995.2" cy="661.3" r="4.7"/><circle cx="1891.8" cy="683.6" r="4.7"/><circle cx="1954.3" cy="673.4" r="4.7"/><circle cx="1859.1" cy="741.8" r="4.7"/><circle cx="1862.6" cy="781.0" r="4.7"/><circle cx="2010.6" cy="693.4" r="4.7"/><circle cx="1885.7" cy="803.2" r="4.7"/><circle cx="2025.7" cy="701.9" r="4.7"/><circle cx="1902.5" cy="747.7" r="4.7"/><circle cx="1890.9" cy="757.0" r="4.7"/><circle cx="1877.3" cy="775.3" r="4.7"/><circle cx="1883.6" cy="725.0" r="4.7"/><circle cx="1902.9" cy="783.0" r="4.7"/><circle cx="1902.8" cy="737.7" r="4.7"/><circle cx="1869.3" cy="803.3" r="4.7"/><circle cx="1900.9" cy="691.2" r="4.7"/><circle cx="1865.1" cy="809.2" r="4.7"/><circle cx="1867.1" cy="746.9" r="4.7"/><circle cx="1894.9" cy="729.5" r="4.7"/><circle cx="1879.0" cy="738.2" r="4.7"/><circle cx="1880.6" cy="768.9" r="4.7"/><circle cx="1880.6" cy="719.5" r="4.7"/><circle cx="1881.0" cy="729.1" r="4.7"/><circle cx="2035.5" cy="620.8" r="4.7"/><circle cx="1877.4" cy="754.9" r="4.7"/><circle cx="1882.8" cy="757.7" r="4.7"/><circle cx="1876.6" cy="772.1" r="4.7"/><circle cx="2027.5" cy="599.6" r="4.7"/><circle cx="1842.7" cy="756.9" r="4.7"/><circle cx="1925.3" cy="730.1" r="4.7"/><circle cx="1871.1" cy="704.3" r="4.7"/><circle cx="1874.8" cy="783.9" r="4.7"/><circle cx="1916.6" cy="793.6" r="4.7"/><circle cx="1875.3" cy="780.4" r="4.7"/><circle cx="1874.5" cy="803.6" r="4.7"/><circle cx="1962.4" cy="663.5" r="4.7"/><circle cx="1912.2" cy="662.6" r="4.7"/><circle cx="1894.1" cy="768.3" r="4.7"/><circle cx="1898.3" cy="757.1" r="4.7"/><circle cx="1882.2" cy="723.9" r="4.7"/><circle cx="1934.8" cy="689.0" r="4.7"/><circle cx="1882.7" cy="800.2" r="4.7"/><circle cx="1867.7" cy="780.4" r="4.7"/><circle cx="1866.6" cy="764.1" r="4.7"/><circle cx="1900.8" cy="740.0" r="4.7"/><circle cx="1869.6" cy="879.0" r="4.7"/><circle cx="1835.1" cy="772.2" r="4.7"/><circle cx="2003.1" cy="639.5" r="4.7"/><circle cx="2004.7" cy="685.7" r="4.7"/><circle cx="1866.9" cy="748.1" r="4.7"/><circle cx="1910.2" cy="652.2" r="4.7"/><circle cx="1860.7" cy="815.6" r="4.7"/><circle cx="1894.2" cy="792.2" r="4.7"/><circle cx="1853.8" cy="839.9" r="4.7"/><circle cx="1992.5" cy="617.4" r="4.7"/><circle cx="1907.4" cy="642.7" r="4.7"/><circle cx="1870.6" cy="733.7" r="4.7"/><circle cx="1895.6" cy="776.0" r="4.7"/><circle cx="1943.6" cy="786.0" r="4.7"/><circle cx="1914.0" cy="729.3" r="4.7"/><circle cx="1976.1" cy="598.2" r="4.7"/><circle cx="1943.9" cy="684.1" r="4.7"/><circle cx="1882.7" cy="726.2" r="4.7"/><circle cx="1858.8" cy="744.8" r="4.7"/><circle cx="1868.6" cy="777.1" r="4.7"/><circle cx="1916.1" cy="789.2" r="4.7"/><circle cx="1899.6" cy="734.4" r="4.7"/><circle cx="1890.6" cy="718.6" r="4.7"/><circle cx="1971.5" cy="601.2" r="4.7"/><circle cx="1924.0" cy="753.2" r="4.7"/><circle cx="1878.3" cy="763.7" r="4.7"/><circle cx="1945.3" cy="697.7" r="4.7"/><circle cx="1887.7" cy="786.7" r="4.7"/><circle cx="2008.3" cy="728.5" r="4.7"/><circle cx="1837.9" cy="774.2" r="4.7"/><circle cx="1889.6" cy="785.7" r="4.7"/><circle cx="1889.4" cy="796.4" r="4.7"/><circle cx="1921.9" cy="671.7" r="4.7"/><circle cx="1897.6" cy="701.0" r="4.7"/><circle cx="1863.2" cy="814.2" r="4.7"/><circle cx="2053.0" cy="635.4" r="4.7"/><circle cx="1996.5" cy="688.8" r="4.7"/><circle cx="1938.3" cy="813.2" r="4.7"/><circle cx="1869.7" cy="744.4" r="4.7"/><circle cx="1938.8" cy="688.8" r="4.7"/><circle cx="1891.2" cy="723.5" r="4.7"/><circle cx="1874.7" cy="749.7" r="4.7"/><circle cx="2000.4" cy="679.6" r="4.7"/><circle cx="1859.9" cy="821.6" r="4.7"/><circle cx="1846.2" cy="596.4" r="4.7"/><circle cx="1913.3" cy="578.9" r="4.7"/><circle cx="1943.1" cy="578.9" r="4.7"/><circle cx="1963.0" cy="578.9" r="4.7"/><circle cx="1982.8" cy="583.9" r="4.7"/><circle cx="2017.6" cy="578.9" r="4.7"/><circle cx="2022.6" cy="593.9" r="4.7"/><circle cx="2069.8" cy="639.0" r="4.7"/><circle cx="2059.8" cy="646.5" r="4.7"/><circle cx="2047.4" cy="816.9" r="4.7"/><circle cx="2025.1" cy="814.4" r="4.7"/><circle cx="2010.2" cy="806.9" r="4.7"/><circle cx="1992.8" cy="804.4" r="4.7"/><circle cx="1953.0" cy="859.5" r="4.7"/><circle cx="1843.7" cy="629.0" r="4.7"/><circle cx="1774.1" cy="754.2" r="4.7"/><circle cx="1786.6" cy="761.8" r="4.7"/></g>
<line x1="1716.80" y1="561.80" x2="1716.80" y2="950.70" stroke="#000" stroke-width="4.3" />
<line x1="1714.70" y1="948.60" x2="2100.00" y2="948.60" stroke="#000" stroke-width="4.2" />
<line x1="1704.80" y1="929.60" x2="1714.80" y2="929.60" stroke="#333333" stroke-width="3.8" />
<text font-size="29.17" text-anchor="end" fill="#000" x="1696.50" y="940.40" >0</text>
<line x1="1734.40" y1="950.60" x2="1734.40" y2="959.40" stroke="#333333" stroke-width="3.8" />
<text font-size="29.17" text-anchor="middle" fill="#000" x="1734.40" y="990.50" >0</text>
<line x1="1704.80" y1="829.40" x2="1714.80" y2="829.40" stroke="#333333" stroke-width="3.8" />
<text font-size="29.17" text-anchor="end" fill="#000" x="1696.50" y="840.20" >20</text>
<line x1="1833.77" y1="950.60" x2="1833.77" y2="959.40" stroke="#333333" stroke-width="3.8" />
<text font-size="29.17" text-anchor="middle" fill="#000" x="1833.77" y="990.50" >20</text>
<line x1="1704.80" y1="729.20" x2="1714.80" y2="729.20" stroke="#333333" stroke-width="3.8" />
<text font-size="29.17" text-anchor="end" fill="#000" x="1696.50" y="740.00" >40</text>
<line x1="1933.14" y1="950.60" x2="1933.14" y2="959.40" stroke="#333333" stroke-width="3.8" />
<text font-size="29.17" text-anchor="middle" fill="#000" x="1933.14" y="990.50" >40</text>
<line x1="1704.80" y1="629.00" x2="1714.80" y2="629.00" stroke="#333333" stroke-width="3.8" />
<text font-size="29.17" text-anchor="end" fill="#000" x="1696.50" y="639.80" >60</text>
<line x1="2032.51" y1="950.60" x2="2032.51" y2="959.40" stroke="#333333" stroke-width="3.8" />
<text font-size="29.17" text-anchor="middle" fill="#000" x="2032.51" y="990.50" >60</text>
<text font-size="29.17" text-anchor="middle" fill="#000" x="1907.60" y="1036.00" >−<tspan dx="3">log</tspan><tspan font-size="20.4" dy="5">10</tspan><tspan dy="-5" font-size="29.17">&#8203;</tspan><tspan font-style="italic">P</tspan><tspan font-size="21.0" dy="5">perm</tspan><tspan dy="-5" font-size="29.17">&#8203;</tspan> (LM)</text>
<text font-size="29.17" text-anchor="middle" fill="#000" transform="translate(1639.00,757.00) rotate(-90)" >−<tspan dx="3">log</tspan><tspan font-size="20.4" dy="5">10</tspan><tspan dy="-5" font-size="29.17">&#8203;</tspan><tspan font-style="italic">P</tspan> (MLM)</text>
<text font-size="40" text-anchor="start" fill="#231815" font-weight="bold" x="0.00" y="1094.50" >f</text>
<rect x="167.90" y="1130.10" width="46.00" height="45.80" fill="#F1873E" stroke="none" stroke-width="1" />
<rect x="213.50" y="1130.10" width="46.00" height="45.80" fill="#F1883F" stroke="none" stroke-width="1" />
<rect x="259.10" y="1130.10" width="46.00" height="45.80" fill="#F1883F" stroke="none" stroke-width="1" />
<rect x="304.70" y="1130.10" width="46.00" height="45.80" fill="#EF8239" stroke="none" stroke-width="1" />
<rect x="167.90" y="1175.50" width="46.00" height="46.00" fill="#E84F2C" stroke="none" stroke-width="1" />
<rect x="213.50" y="1175.50" width="46.00" height="46.00" fill="#E3282A" stroke="none" stroke-width="1" />
<rect x="259.10" y="1175.50" width="46.00" height="46.00" fill="#EA5A2E" stroke="none" stroke-width="1" />
<rect x="350.30" y="1175.50" width="46.00" height="46.00" fill="#EC6430" stroke="none" stroke-width="1" />
<rect x="167.90" y="1221.10" width="46.00" height="46.10" fill="#E3282A" stroke="none" stroke-width="1" />
<rect x="213.50" y="1221.10" width="46.00" height="46.10" fill="#EA582D" stroke="none" stroke-width="1" />
<rect x="304.70" y="1221.10" width="46.00" height="46.10" fill="#E84E2C" stroke="none" stroke-width="1" />
<rect x="350.30" y="1221.10" width="46.00" height="46.10" fill="#EC6430" stroke="none" stroke-width="1" />
<rect x="167.90" y="1266.80" width="46.00" height="45.80" fill="#E9522D" stroke="none" stroke-width="1" />
<rect x="259.10" y="1266.80" width="46.00" height="45.80" fill="#EA582D" stroke="none" stroke-width="1" />
<rect x="304.70" y="1266.80" width="46.00" height="45.80" fill="#E3282A" stroke="none" stroke-width="1" />
<rect x="350.30" y="1266.80" width="46.00" height="45.80" fill="#EC6430" stroke="none" stroke-width="1" />
<rect x="213.50" y="1312.20" width="46.00" height="45.70" fill="#E84F2C" stroke="none" stroke-width="1" />
<rect x="259.10" y="1312.20" width="46.00" height="45.70" fill="#E3282A" stroke="none" stroke-width="1" />
<rect x="304.70" y="1312.20" width="46.00" height="45.70" fill="#E9542D" stroke="none" stroke-width="1" />
<rect x="350.30" y="1312.20" width="46.00" height="45.70" fill="#EE6D34" stroke="none" stroke-width="1" />
<line x1="163.70" y1="1125.50" x2="163.70" y2="1364.30" stroke="#000" stroke-width="4.3" />
<line x1="161.60" y1="1362.20" x2="400.40" y2="1362.20" stroke="#000" stroke-width="4.2" />
<line x1="152.20" y1="1152.70" x2="161.70" y2="1152.70" stroke="#333333" stroke-width="3.8" />
<text font-size="29.17" text-anchor="end" fill="#000" x="141.40" y="1163.30" >Discovery</text>
<line x1="152.20" y1="1198.20" x2="161.70" y2="1198.20" stroke="#333333" stroke-width="3.8" />
<text font-size="29.17" text-anchor="end" fill="#000" x="141.40" y="1208.80" >RNA.T2</text>
<line x1="152.20" y1="1243.85" x2="161.70" y2="1243.85" stroke="#333333" stroke-width="3.8" />
<text font-size="29.17" text-anchor="end" fill="#000" x="141.40" y="1254.45" >RNA.T1</text>
<line x1="152.20" y1="1289.40" x2="161.70" y2="1289.40" stroke="#333333" stroke-width="3.8" />
<text font-size="29.17" text-anchor="end" fill="#000" x="141.40" y="1300.00" >Chip.T2</text>
<line x1="152.20" y1="1334.75" x2="161.70" y2="1334.75" stroke="#333333" stroke-width="3.8" />
<text font-size="29.17" text-anchor="end" fill="#000" x="141.40" y="1345.35" >Chip.T1</text>
<line x1="190.90" y1="1364.20" x2="190.90" y2="1373.80" stroke="#333333" stroke-width="3.8" />
<text font-size="29.17" text-anchor="end" fill="#000" transform="translate(201.30,1386.80) rotate(-90)" >Chip.T1</text>
<line x1="236.50" y1="1364.20" x2="236.50" y2="1373.80" stroke="#333333" stroke-width="3.8" />
<text font-size="29.17" text-anchor="end" fill="#000" transform="translate(246.90,1386.80) rotate(-90)" >Chip.T2</text>
<line x1="282.10" y1="1364.20" x2="282.10" y2="1373.80" stroke="#333333" stroke-width="3.8" />
<text font-size="29.17" text-anchor="end" fill="#000" transform="translate(292.50,1386.80) rotate(-90)" >RNA.T1</text>
<line x1="327.70" y1="1364.20" x2="327.70" y2="1373.80" stroke="#333333" stroke-width="3.8" />
<text font-size="29.17" text-anchor="end" fill="#000" transform="translate(338.10,1386.80) rotate(-90)" >RNA.T2</text>
<line x1="373.30" y1="1364.20" x2="373.30" y2="1373.80" stroke="#333333" stroke-width="3.8" />
<text font-size="29.17" text-anchor="end" fill="#000" transform="translate(383.70,1386.80) rotate(-90)" >Discovery</text>
<rect x="428.30" y="1212.90" width="24.70" height="102.80" fill="url(#gf)" stroke="none" stroke-width="1" />
<line x1="428.30" y1="1264.20" x2="433.30" y2="1264.20" stroke="#fff" stroke-width="1.4" />
<line x1="448.00" y1="1264.20" x2="453.00" y2="1264.20" stroke="#fff" stroke-width="1.4" />
<text font-size="29.17" text-anchor="start" fill="#000" x="429.00" y="1188.50" ><tspan font-family="Liberation Serif, serif" font-size="31">π</tspan><tspan font-size="20.4" dy="5">1</tspan><tspan dy="-5" font-size="29.17">&#8203;</tspan></text>
<text font-size="25.5" text-anchor="start" fill="#000" x="468.50" y="1221.60" >1.00</text>
<text font-size="25.5" text-anchor="start" fill="#000" x="468.50" y="1273.00" >0.95</text>
<text font-size="25.5" text-anchor="start" fill="#000" x="468.50" y="1324.30" >0.90</text>
<text font-size="40" text-anchor="start" fill="#231815" font-weight="bold" x="534.00" y="1094.50" >g</text>
<rect x="702.00" y="1130.10" width="46.00" height="45.80" fill="#F9B25A" stroke="none" stroke-width="1" />
<rect x="747.60" y="1130.10" width="46.00" height="45.80" fill="#F9B25A" stroke="none" stroke-width="1" />
<rect x="793.20" y="1130.10" width="46.00" height="45.80" fill="#F8AE58" stroke="none" stroke-width="1" />
<rect x="838.80" y="1130.10" width="46.00" height="45.80" fill="#F8B059" stroke="none" stroke-width="1" />
<rect x="884.40" y="1130.10" width="46.00" height="45.80" fill="#E3282A" stroke="none" stroke-width="1" />
<rect x="702.00" y="1175.50" width="46.00" height="46.00" fill="#EE6E35" stroke="none" stroke-width="1" />
<rect x="747.60" y="1175.50" width="46.00" height="46.00" fill="#EB5E30" stroke="none" stroke-width="1" />
<rect x="793.20" y="1175.50" width="46.00" height="46.00" fill="#E9562E" stroke="none" stroke-width="1" />
<rect x="838.80" y="1175.50" width="46.00" height="46.00" fill="#E3282A" stroke="none" stroke-width="1" />
<rect x="884.40" y="1175.50" width="46.00" height="46.00" fill="#F9B25A" stroke="none" stroke-width="1" />
<rect x="702.00" y="1221.10" width="46.00" height="46.10" fill="#EA582D" stroke="none" stroke-width="1" />
<rect x="747.60" y="1221.10" width="46.00" height="46.10" fill="#EF7236" stroke="none" stroke-width="1" />
<rect x="793.20" y="1221.10" width="46.00" height="46.10" fill="#E3282A" stroke="none" stroke-width="1" />
<rect x="838.80" y="1221.10" width="46.00" height="46.10" fill="#EA5A2E" stroke="none" stroke-width="1" />
<rect x="884.40" y="1221.10" width="46.00" height="46.10" fill="#F9B25A" stroke="none" stroke-width="1" />
<rect x="702.00" y="1266.80" width="46.00" height="45.80" fill="#E9562E" stroke="none" stroke-width="1" />
<rect x="747.60" y="1266.80" width="46.00" height="45.80" fill="#E3282A" stroke="none" stroke-width="1" />
<rect x="793.20" y="1266.80" width="46.00" height="45.80" fill="#EF7537" stroke="none" stroke-width="1" />
<rect x="838.80" y="1266.80" width="46.00" height="45.80" fill="#EB6031" stroke="none" stroke-width="1" />
<rect x="884.40" y="1266.80" width="46.00" height="45.80" fill="#F9B25A" stroke="none" stroke-width="1" />
<rect x="702.00" y="1312.20" width="46.00" height="45.70" fill="#E3282A" stroke="none" stroke-width="1" />
<rect x="747.60" y="1312.20" width="46.00" height="45.70" fill="#E9562E" stroke="none" stroke-width="1" />
<rect x="793.20" y="1312.20" width="46.00" height="45.70" fill="#EA5A2E" stroke="none" stroke-width="1" />
<rect x="838.80" y="1312.20" width="46.00" height="45.70" fill="#EE6C34" stroke="none" stroke-width="1" />
<rect x="884.40" y="1312.20" width="46.00" height="45.70" fill="#F9B25A" stroke="none" stroke-width="1" />
<line x1="699.70" y1="1125.50" x2="699.70" y2="1364.30" stroke="#000" stroke-width="4.3" />
<line x1="697.60" y1="1362.20" x2="934.50" y2="1362.20" stroke="#000" stroke-width="4.2" />
<line x1="688.20" y1="1152.70" x2="697.70" y2="1152.70" stroke="#333333" stroke-width="3.8" />
<text font-size="29.17" text-anchor="end" fill="#000" x="675.20" y="1163.30" >Discovery</text>
<line x1="688.20" y1="1198.20" x2="697.70" y2="1198.20" stroke="#333333" stroke-width="3.8" />
<text font-size="29.17" text-anchor="end" fill="#000" x="675.20" y="1208.80" >RNA.T2</text>
<line x1="688.20" y1="1243.85" x2="697.70" y2="1243.85" stroke="#333333" stroke-width="3.8" />
<text font-size="29.17" text-anchor="end" fill="#000" x="675.20" y="1254.45" >RNA.T1</text>
<line x1="688.20" y1="1289.40" x2="697.70" y2="1289.40" stroke="#333333" stroke-width="3.8" />
<text font-size="29.17" text-anchor="end" fill="#000" x="675.20" y="1300.00" >Chip.T2</text>
<line x1="688.20" y1="1334.75" x2="697.70" y2="1334.75" stroke="#333333" stroke-width="3.8" />
<text font-size="29.17" text-anchor="end" fill="#000" x="675.20" y="1345.35" >Chip.T1</text>
<line x1="725.00" y1="1364.20" x2="725.00" y2="1373.80" stroke="#333333" stroke-width="3.8" />
<text font-size="29.17" text-anchor="end" fill="#000" transform="translate(735.40,1386.80) rotate(-90)" >Chip.T1</text>
<line x1="770.60" y1="1364.20" x2="770.60" y2="1373.80" stroke="#333333" stroke-width="3.8" />
<text font-size="29.17" text-anchor="end" fill="#000" transform="translate(781.00,1386.80) rotate(-90)" >Chip.T2</text>
<line x1="816.20" y1="1364.20" x2="816.20" y2="1373.80" stroke="#333333" stroke-width="3.8" />
<text font-size="29.17" text-anchor="end" fill="#000" transform="translate(826.60,1386.80) rotate(-90)" >RNA.T1</text>
<line x1="861.80" y1="1364.20" x2="861.80" y2="1373.80" stroke="#333333" stroke-width="3.8" />
<text font-size="29.17" text-anchor="end" fill="#000" transform="translate(872.20,1386.80) rotate(-90)" >RNA.T2</text>
<line x1="907.40" y1="1364.20" x2="907.40" y2="1373.80" stroke="#333333" stroke-width="3.8" />
<text font-size="29.17" text-anchor="end" fill="#000" transform="translate(917.80,1386.80) rotate(-90)" >Discovery</text>
<rect x="969.10" y="1213.00" width="25.10" height="103.80" fill="url(#gg)" stroke="none" stroke-width="1" />
<line x1="969.10" y1="1308.30" x2="974.10" y2="1308.30" stroke="#fff" stroke-width="1.4" />
<line x1="989.20" y1="1308.30" x2="994.20" y2="1308.30" stroke="#fff" stroke-width="1.4" />
<text font-size="29.17" text-anchor="start" fill="#000" x="970.50" y="1188.50" ><tspan font-family="Liberation Serif, serif" font-size="31">ρ</tspan></text>
<text font-size="25.5" text-anchor="start" fill="#000" x="1009.30" y="1221.80" >1.0</text>
<text font-size="25.5" text-anchor="start" fill="#000" x="1009.30" y="1316.60" >0.5</text>
<text font-size="40" text-anchor="start" fill="#231815" font-weight="bold" x="1083.70" y="1095.00" >h</text>
<text font-size="29.17" text-anchor="middle" fill="#000" x="1401.40" y="1123.90" >Muscle</text>
<text font-size="29.17" text-anchor="middle" fill="#000" x="1401.40" y="1155.10" >(Discovery in Validation)</text>
<path d="M1240.4,1487.1V1205.0H1251.1V1443.2H1261.8V1469.9H1272.5V1477.4H1283.2V1482.9H1293.9V1484.4H1304.6V1485.1H1315.3V1485.5H1326.0V1485.7H1336.7V1485.8H1347.4V1485.9H1358.1V1486.0H1368.8V1486.1H1379.5V1486.1H1390.2V1486.2H1400.9V1486.3H1411.6V1486.3H1422.3V1486.4H1433.0V1486.4H1443.7V1486.4H1454.4V1486.4H1465.1V1486.4H1475.8V1486.4H1486.5V1486.4H1497.2V1486.4H1507.9V1486.4H1518.6V1486.4H1529.3V1486.4H1540.0V1486.4H1550.7V1486.4H1561.4V1487.1Z" fill="#7F7F7F"/>
<line x1="1224.70" y1="1185.30" x2="1224.70" y2="1503.80" stroke="#000" stroke-width="4.2" />
<line x1="1222.60" y1="1501.70" x2="1577.90" y2="1501.70" stroke="#000" stroke-width="4.2" />
<line x1="1213.20" y1="1487.10" x2="1222.70" y2="1487.10" stroke="#333333" stroke-width="3.6" />
<text font-size="29.17" text-anchor="end" fill="#000" x="1202.50" y="1497.70" >0</text>
<line x1="1213.20" y1="1404.77" x2="1222.70" y2="1404.77" stroke="#333333" stroke-width="3.6" />
<text font-size="29.17" text-anchor="end" fill="#000" x="1202.50" y="1415.37" >2,000</text>
<line x1="1213.20" y1="1322.44" x2="1222.70" y2="1322.44" stroke="#333333" stroke-width="3.6" />
<text font-size="29.17" text-anchor="end" fill="#000" x="1202.50" y="1333.04" >4,000</text>
<line x1="1213.20" y1="1240.11" x2="1222.70" y2="1240.11" stroke="#333333" stroke-width="3.6" />
<text font-size="29.17" text-anchor="end" fill="#000" x="1202.50" y="1250.71" >6,000</text>
<line x1="1245.00" y1="1503.70" x2="1245.00" y2="1512.30" stroke="#333333" stroke-width="3.6" />
<text font-size="29.17" text-anchor="middle" fill="#000" x="1245.00" y="1542.50" >0.00</text>
<line x1="1334.00" y1="1503.70" x2="1334.00" y2="1512.30" stroke="#333333" stroke-width="3.6" />
<text font-size="29.17" text-anchor="middle" fill="#000" x="1334.00" y="1542.50" >0.25</text>
<line x1="1423.00" y1="1503.70" x2="1423.00" y2="1512.30" stroke="#333333" stroke-width="3.6" />
<text font-size="29.17" text-anchor="middle" fill="#000" x="1423.00" y="1542.50" >0.50</text>
<line x1="1512.00" y1="1503.70" x2="1512.00" y2="1512.30" stroke="#333333" stroke-width="3.6" />
<text font-size="29.17" text-anchor="middle" fill="#000" x="1512.00" y="1542.50" >0.75</text>
<text font-size="29.17" text-anchor="middle" fill="#000" x="1401.30" y="1580.30" >Nominal <tspan font-style="italic">P</tspan>−value</text>
<text font-size="29.17" text-anchor="middle" fill="#000" transform="translate(1113.30,1343.00) rotate(-90)" >Number of eQTLs</text>
<text font-size="24" text-anchor="start" fill="#000" x="1414.50" y="1349.70" ><tspan font-family="Liberation Serif, serif" font-size="27">π</tspan><tspan font-size="17.5" dy="4.5">1</tspan><tspan dy="-4.5" font-size="25">&#8203;</tspan><tspan dx="1"> = </tspan>0.69</text>
<text font-size="29.17" text-anchor="middle" fill="#000" x="1923.10" y="1123.90" >Muscle</text>
<text font-size="29.17" text-anchor="middle" fill="#000" x="1923.10" y="1155.10" >(Validation in Discovery)</text>
<path d="M1762.1,1487.1V1205.4H1772.8V1485.9H1783.5V1486.3H1794.2V1486.4H1804.9V1486.6H1815.6V1486.6H1826.3V1486.6H1837.0V1486.6H1847.7V1486.6H1858.4V1486.6H1869.1V1486.6H1879.8V1486.6H1890.5V1486.6H1901.2V1486.6H1911.9V1486.6H1922.6V1486.6H1933.3V1486.6H1944.0V1486.6H1954.7V1486.6H1965.4V1486.6H1976.1V1486.6H1986.8V1486.6H1997.5V1486.6H2008.2V1486.6H2018.9V1486.6H2029.6V1486.6H2040.3V1486.6H2051.0V1486.6H2061.7V1486.6H2072.4V1486.6H2083.1V1487.1Z" fill="#7F7F7F"/>
<line x1="1746.40" y1="1185.30" x2="1746.40" y2="1503.80" stroke="#000" stroke-width="4.2" />
<line x1="1744.30" y1="1501.70" x2="2100.00" y2="1501.70" stroke="#000" stroke-width="4.2" />
<line x1="1734.90" y1="1486.90" x2="1744.40" y2="1486.90" stroke="#333333" stroke-width="3.6" />
<text font-size="29.17" text-anchor="end" fill="#000" x="1724.20" y="1497.50" >0</text>
<line x1="1734.90" y1="1419.95" x2="1744.40" y2="1419.95" stroke="#333333" stroke-width="3.6" />
<text font-size="29.17" text-anchor="end" fill="#000" x="1724.20" y="1430.55" >1,000</text>
<line x1="1734.90" y1="1353.00" x2="1744.40" y2="1353.00" stroke="#333333" stroke-width="3.6" />
<text font-size="29.17" text-anchor="end" fill="#000" x="1724.20" y="1363.60" >2,000</text>
<line x1="1734.90" y1="1286.05" x2="1744.40" y2="1286.05" stroke="#333333" stroke-width="3.6" />
<text font-size="29.17" text-anchor="end" fill="#000" x="1724.20" y="1296.65" >3,000</text>
<line x1="1734.90" y1="1219.10" x2="1744.40" y2="1219.10" stroke="#333333" stroke-width="3.6" />
<text font-size="29.17" text-anchor="end" fill="#000" x="1724.20" y="1229.70" >4,000</text>
<line x1="1767.50" y1="1503.70" x2="1767.50" y2="1512.30" stroke="#333333" stroke-width="3.6" />
<text font-size="29.17" text-anchor="middle" fill="#000" x="1767.50" y="1542.50" >0.0</text>
<line x1="1858.20" y1="1503.70" x2="1858.20" y2="1512.30" stroke="#333333" stroke-width="3.6" />
<text font-size="29.17" text-anchor="middle" fill="#000" x="1858.20" y="1542.50" >0.2</text>
<line x1="1948.90" y1="1503.70" x2="1948.90" y2="1512.30" stroke="#333333" stroke-width="3.6" />
<text font-size="29.17" text-anchor="middle" fill="#000" x="1948.90" y="1542.50" >0.4</text>
<line x1="2039.60" y1="1503.70" x2="2039.60" y2="1512.30" stroke="#333333" stroke-width="3.6" />
<text font-size="29.17" text-anchor="middle" fill="#000" x="2039.60" y="1542.50" >0.6</text>
<text font-size="29.17" text-anchor="middle" fill="#000" x="1923.00" y="1580.30" >Nominal <tspan font-style="italic">P</tspan>−value</text>
<text font-size="29.17" text-anchor="middle" fill="#000" transform="translate(1635.00,1343.00) rotate(-90)" >Number of eQTLs</text>
<text font-size="24" text-anchor="start" fill="#000" x="1936.20" y="1349.70" ><tspan font-family="Liberation Serif, serif" font-size="27">π</tspan><tspan font-size="17.5" dy="4.5">1</tspan><tspan dy="-4.5" font-size="25">&#8203;</tspan><tspan dx="1"> = </tspan>0.99</text>
<text font-size="29.17" text-anchor="middle" fill="#000" x="1401.40" y="1641.70" >Liver</text>
<text font-size="29.17" text-anchor="middle" fill="#000" x="1401.40" y="1672.90" >(Discovery in Validation)</text>
<path d="M1240.4,2004.9V1721.4H1251.1V1966.8H1261.8V1989.2H1272.5V1995.2H1283.2V1999.4H1293.9V2001.9H1304.6V2003.1H1315.3V2003.5H1326.0V2003.7H1336.7V2003.8H1347.4V2003.9H1358.1V2003.9H1368.8V2004.0H1379.5V2004.1H1390.2V2004.1H1400.9V2004.2H1411.6V2004.2H1422.3V2004.2H1433.0V2004.2H1443.7V2004.2H1454.4V2004.2H1465.1V2004.2H1475.8V2004.2H1486.5V2004.2H1497.2V2004.2H1507.9V2004.2H1518.6V2004.2H1529.3V2004.2H1540.0V2004.2H1550.7V2004.2H1561.4V2004.9Z" fill="#7F7F7F"/>
<line x1="1224.70" y1="1703.10" x2="1224.70" y2="2021.60" stroke="#000" stroke-width="4.2" />
<line x1="1222.60" y1="2019.50" x2="1577.90" y2="2019.50" stroke="#000" stroke-width="4.2" />
<line x1="1213.20" y1="2005.30" x2="1222.70" y2="2005.30" stroke="#333333" stroke-width="3.6" />
<text font-size="29.17" text-anchor="end" fill="#000" x="1202.50" y="2015.90" >0</text>
<line x1="1213.20" y1="1943.80" x2="1222.70" y2="1943.80" stroke="#333333" stroke-width="3.6" />
<text font-size="29.17" text-anchor="end" fill="#000" x="1202.50" y="1954.40" >1,000</text>
<line x1="1213.20" y1="1882.30" x2="1222.70" y2="1882.30" stroke="#333333" stroke-width="3.6" />
<text font-size="29.17" text-anchor="end" fill="#000" x="1202.50" y="1892.90" >2,000</text>
<line x1="1213.20" y1="1820.80" x2="1222.70" y2="1820.80" stroke="#333333" stroke-width="3.6" />
<text font-size="29.17" text-anchor="end" fill="#000" x="1202.50" y="1831.40" >3,000</text>
<line x1="1213.20" y1="1759.30" x2="1222.70" y2="1759.30" stroke="#333333" stroke-width="3.6" />
<text font-size="29.17" text-anchor="end" fill="#000" x="1202.50" y="1769.90" >4,000</text>
<line x1="1245.80" y1="2021.50" x2="1245.80" y2="2030.10" stroke="#333333" stroke-width="3.6" />
<text font-size="29.17" text-anchor="middle" fill="#000" x="1245.80" y="2060.30" >0.0</text>
<line x1="1320.75" y1="2021.50" x2="1320.75" y2="2030.10" stroke="#333333" stroke-width="3.6" />
<text font-size="29.17" text-anchor="middle" fill="#000" x="1320.75" y="2060.30" >0.2</text>
<line x1="1395.70" y1="2021.50" x2="1395.70" y2="2030.10" stroke="#333333" stroke-width="3.6" />
<text font-size="29.17" text-anchor="middle" fill="#000" x="1395.70" y="2060.30" >0.4</text>
<line x1="1470.65" y1="2021.50" x2="1470.65" y2="2030.10" stroke="#333333" stroke-width="3.6" />
<text font-size="29.17" text-anchor="middle" fill="#000" x="1470.65" y="2060.30" >0.6</text>
<line x1="1545.60" y1="2021.50" x2="1545.60" y2="2030.10" stroke="#333333" stroke-width="3.6" />
<text font-size="29.17" text-anchor="middle" fill="#000" x="1545.60" y="2060.30" >0.8</text>
<text font-size="29.17" text-anchor="middle" fill="#000" x="1401.30" y="2098.10" >Nominal <tspan font-style="italic">P</tspan>−value</text>
<text font-size="29.17" text-anchor="middle" fill="#000" transform="translate(1113.30,1860.80) rotate(-90)" >Number of eQTLs</text>
<text font-size="24" text-anchor="start" fill="#000" x="1414.50" y="1867.50" ><tspan font-family="Liberation Serif, serif" font-size="27">π</tspan><tspan font-size="17.5" dy="4.5">1</tspan><tspan dy="-4.5" font-size="25">&#8203;</tspan><tspan dx="1"> = </tspan>0.74</text>
<text font-size="29.17" text-anchor="middle" fill="#000" x="1923.10" y="1641.70" >Liver</text>
<text font-size="29.17" text-anchor="middle" fill="#000" x="1923.10" y="1672.90" >(Validation in Discovery)</text>
<path d="M1762.1,2004.9V1728.8H1772.8V2002.0H1783.5V2003.4H1794.2V2003.9H1804.9V2004.1H1815.6V2004.2H1826.3V2004.3H1837.0V2004.4H1847.7V2004.4H1858.4V2004.4H1869.1V2004.4H1879.8V2004.4H1890.5V2004.4H1901.2V2004.4H1911.9V2004.4H1922.6V2004.4H1933.3V2004.4H1944.0V2004.4H1954.7V2004.4H1965.4V2004.4H1976.1V2004.4H1986.8V2004.4H1997.5V2004.4H2008.2V2004.4H2018.9V2004.4H2029.6V2004.4H2040.3V2004.4H2051.0V2004.4H2061.7V2004.4H2072.4V2004.4H2083.1V2004.9Z" fill="#7F7F7F"/>
<line x1="1746.40" y1="1703.10" x2="1746.40" y2="2021.60" stroke="#000" stroke-width="4.2" />
<line x1="1744.30" y1="2019.50" x2="2100.00" y2="2019.50" stroke="#000" stroke-width="4.2" />
<line x1="1734.90" y1="2005.30" x2="1744.40" y2="2005.30" stroke="#333333" stroke-width="3.6" />
<text font-size="29.17" text-anchor="end" fill="#000" x="1724.20" y="2015.90" >0</text>
<line x1="1734.90" y1="1933.20" x2="1744.40" y2="1933.20" stroke="#333333" stroke-width="3.6" />
<text font-size="29.17" text-anchor="end" fill="#000" x="1724.20" y="1943.80" >1,000</text>
<line x1="1734.90" y1="1861.10" x2="1744.40" y2="1861.10" stroke="#333333" stroke-width="3.6" />
<text font-size="29.17" text-anchor="end" fill="#000" x="1724.20" y="1871.70" >2,000</text>
<line x1="1734.90" y1="1789.00" x2="1744.40" y2="1789.00" stroke="#333333" stroke-width="3.6" />
<text font-size="29.17" text-anchor="end" fill="#000" x="1724.20" y="1799.60" >3,000</text>
<line x1="1734.90" y1="1716.90" x2="1744.40" y2="1716.90" stroke="#333333" stroke-width="3.6" />
<text font-size="29.17" text-anchor="end" fill="#000" x="1724.20" y="1727.50" >4,000</text>
<line x1="1766.40" y1="2021.50" x2="1766.40" y2="2030.10" stroke="#333333" stroke-width="3.6" />
<text font-size="29.17" text-anchor="middle" fill="#000" x="1766.40" y="2060.30" >0.0</text>
<line x1="1842.95" y1="2021.50" x2="1842.95" y2="2030.10" stroke="#333333" stroke-width="3.6" />
<text font-size="29.17" text-anchor="middle" fill="#000" x="1842.95" y="2060.30" >0.2</text>
<line x1="1919.50" y1="2021.50" x2="1919.50" y2="2030.10" stroke="#333333" stroke-width="3.6" />
<text font-size="29.17" text-anchor="middle" fill="#000" x="1919.50" y="2060.30" >0.4</text>
<line x1="1996.05" y1="2021.50" x2="1996.05" y2="2030.10" stroke="#333333" stroke-width="3.6" />
<text font-size="29.17" text-anchor="middle" fill="#000" x="1996.05" y="2060.30" >0.6</text>
<line x1="2072.60" y1="2021.50" x2="2072.60" y2="2030.10" stroke="#333333" stroke-width="3.6" />
<text font-size="29.17" text-anchor="middle" fill="#000" x="2072.60" y="2060.30" >0.8</text>
<text font-size="29.17" text-anchor="middle" fill="#000" x="1923.00" y="2098.10" >Nominal <tspan font-style="italic">P</tspan>−value</text>
<text font-size="29.17" text-anchor="middle" fill="#000" transform="translate(1635.00,1860.80) rotate(-90)" >Number of eQTLs</text>
<text font-size="24" text-anchor="start" fill="#000" x="1936.20" y="1867.50" ><tspan font-family="Liberation Serif, serif" font-size="27">π</tspan><tspan font-size="17.5" dy="4.5">1</tspan><tspan dy="-4.5" font-size="25">&#8203;</tspan><tspan dx="1"> = </tspan>0.97</text>
<text font-size="29.17" text-anchor="middle" fill="#000" x="1401.40" y="2159.50" >Duodenum</text>
<text font-size="29.17" text-anchor="middle" fill="#000" x="1401.40" y="2190.70" >(Discovery in Validation)</text>
<path d="M1240.4,2522.7V2238.4H1251.1V2501.5H1261.8V2508.8H1272.5V2518.6H1283.2V2516.0H1293.9V2518.6H1304.6V2519.6H1315.3V2519.1H1326.0V2520.2H1336.7V2521.2H1347.4V2522.3H1358.1V2521.2H1368.8V2522.3H1379.5V2521.7H1390.2V2522.3H1400.9V2521.2H1411.6V2521.2H1422.3V2521.7H1433.0V2521.7H1443.7V2522.3H1454.4V2522.3H1465.1V2522.3H1475.8V2519.6H1486.5V2522.3H1497.2V2522.3H1507.9V2522.3H1518.6V2521.7H1529.3V2522.3H1540.0V2521.9H1550.7V2521.7H1561.4V2522.7Z" fill="#7F7F7F"/>
<line x1="1224.70" y1="2220.90" x2="1224.70" y2="2539.40" stroke="#000" stroke-width="4.2" />
<line x1="1222.60" y1="2537.30" x2="1577.90" y2="2537.30" stroke="#000" stroke-width="4.2" />
<line x1="1213.20" y1="2523.70" x2="1222.70" y2="2523.70" stroke="#333333" stroke-width="3.6" />
<text font-size="29.17" text-anchor="end" fill="#000" x="1202.50" y="2534.30" >0</text>
<line x1="1213.20" y1="2420.80" x2="1222.70" y2="2420.80" stroke="#333333" stroke-width="3.6" />
<text font-size="29.17" text-anchor="end" fill="#000" x="1202.50" y="2431.40" >100</text>
<line x1="1213.20" y1="2317.90" x2="1222.70" y2="2317.90" stroke="#333333" stroke-width="3.6" />
<text font-size="29.17" text-anchor="end" fill="#000" x="1202.50" y="2328.50" >200</text>
<line x1="1245.80" y1="2539.30" x2="1245.80" y2="2547.90" stroke="#333333" stroke-width="3.6" />
<text font-size="29.17" text-anchor="middle" fill="#000" x="1245.80" y="2578.10" >0.0</text>
<line x1="1318.90" y1="2539.30" x2="1318.90" y2="2547.90" stroke="#333333" stroke-width="3.6" />
<text font-size="29.17" text-anchor="middle" fill="#000" x="1318.90" y="2578.10" >0.1</text>
<line x1="1392.00" y1="2539.30" x2="1392.00" y2="2547.90" stroke="#333333" stroke-width="3.6" />
<text font-size="29.17" text-anchor="middle" fill="#000" x="1392.00" y="2578.10" >0.2</text>
<line x1="1465.10" y1="2539.30" x2="1465.10" y2="2547.90" stroke="#333333" stroke-width="3.6" />
<text font-size="29.17" text-anchor="middle" fill="#000" x="1465.10" y="2578.10" >0.3</text>
<line x1="1538.20" y1="2539.30" x2="1538.20" y2="2547.90" stroke="#333333" stroke-width="3.6" />
<text font-size="29.17" text-anchor="middle" fill="#000" x="1538.20" y="2578.10" >0.4</text>
<text font-size="29.17" text-anchor="middle" fill="#000" x="1401.30" y="2615.90" >Nominal <tspan font-style="italic">P</tspan>−value</text>
<text font-size="29.17" text-anchor="middle" fill="#000" transform="translate(1113.30,2378.60) rotate(-90)" >Number of eQTLs</text>
<text font-size="24" text-anchor="start" fill="#000" x="1414.50" y="2385.30" ><tspan font-family="Liberation Serif, serif" font-size="27">π</tspan><tspan font-size="17.5" dy="4.5">1</tspan><tspan dy="-4.5" font-size="25">&#8203;</tspan><tspan dx="1"> = </tspan>0.73</text>
<text font-size="29.17" text-anchor="middle" fill="#000" x="1923.10" y="2159.50" >Duodenum</text>
<text font-size="29.17" text-anchor="middle" fill="#000" x="1923.10" y="2190.70" >(Validation in Discovery)</text>
<path d="M1762.1,2522.7V2236.2H1772.8V2483.3H1783.5V2508.2H1794.2V2516.1H1804.9V2519.0H1815.6V2520.3H1826.3V2521.1H1837.0V2521.5H1847.7V2521.6H1858.4V2521.7H1869.1V2521.8H1879.8V2521.9H1890.5V2522.0H1901.2V2522.1H1911.9V2522.1H1922.6V2522.1H1933.3V2522.1H1944.0V2522.1H1954.7V2522.1H1965.4V2522.1H1976.1V2522.1H1986.8V2522.1H1997.5V2522.1H2008.2V2522.1H2018.9V2522.1H2029.6V2522.1H2040.3V2522.1H2051.0V2522.1H2061.7V2522.1H2072.4V2522.1H2083.1V2522.7Z" fill="#7F7F7F"/>
<line x1="1746.40" y1="2220.90" x2="1746.40" y2="2539.40" stroke="#000" stroke-width="4.2" />
<line x1="1744.30" y1="2537.30" x2="2100.00" y2="2537.30" stroke="#000" stroke-width="4.2" />
<line x1="1734.90" y1="2523.70" x2="1744.40" y2="2523.70" stroke="#333333" stroke-width="3.6" />
<text font-size="29.17" text-anchor="end" fill="#000" x="1724.20" y="2534.30" >0</text>
<line x1="1734.90" y1="2427.40" x2="1744.40" y2="2427.40" stroke="#333333" stroke-width="3.6" />
<text font-size="29.17" text-anchor="end" fill="#000" x="1724.20" y="2438.00" >1,000</text>
<line x1="1734.90" y1="2331.10" x2="1744.40" y2="2331.10" stroke="#333333" stroke-width="3.6" />
<text font-size="29.17" text-anchor="end" fill="#000" x="1724.20" y="2341.70" >2,000</text>
<line x1="1734.90" y1="2234.80" x2="1744.40" y2="2234.80" stroke="#333333" stroke-width="3.6" />
<text font-size="29.17" text-anchor="end" fill="#000" x="1724.20" y="2245.40" >3,000</text>
<line x1="1766.40" y1="2539.30" x2="1766.40" y2="2547.90" stroke="#333333" stroke-width="3.6" />
<text font-size="29.17" text-anchor="middle" fill="#000" x="1766.40" y="2578.10" >0.0</text>
<line x1="1882.90" y1="2539.30" x2="1882.90" y2="2547.90" stroke="#333333" stroke-width="3.6" />
<text font-size="29.17" text-anchor="middle" fill="#000" x="1882.90" y="2578.10" >0.2</text>
<line x1="1999.40" y1="2539.30" x2="1999.40" y2="2547.90" stroke="#333333" stroke-width="3.6" />
<text font-size="29.17" text-anchor="middle" fill="#000" x="1999.40" y="2578.10" >0.4</text>
<text font-size="29.17" text-anchor="middle" fill="#000" x="1923.00" y="2615.90" >Nominal <tspan font-style="italic">P</tspan>−value</text>
<text font-size="29.17" text-anchor="middle" fill="#000" transform="translate(1635.00,2378.60) rotate(-90)" >Number of eQTLs</text>
<text font-size="24" text-anchor="start" fill="#000" x="1936.20" y="2385.30" ><tspan font-family="Liberation Serif, serif" font-size="27">π</tspan><tspan font-size="17.5" dy="4.5">1</tspan><tspan dy="-4.5" font-size="25">&#8203;</tspan><tspan dx="1"> = </tspan>0.58</text>
<text font-size="40" text-anchor="start" fill="#231815" font-weight="bold" x="0.00" y="1563.00" >i</text>
<line x1="149.30" y1="1929.20" x2="489.70" y2="1651.00" stroke="#b2b2b2" stroke-width="8" />
<use href="#hx5" fill="#1f5e5b"/><path d="M282.6,1852.9L287.7,1855.9L287.7,1861.7L282.6,1864.6L277.4,1861.7L277.4,1855.9Z" fill="#1f605d"/><path d="M263.0,1836.2L268.2,1839.1L268.2,1844.9L263.0,1847.9L257.9,1844.9L257.9,1839.1Z" fill="#1f605d"/><path d="M350.9,1785.9L356.0,1788.8L356.0,1794.7L350.9,1797.6L345.8,1794.7L345.8,1788.8Z" fill="#1f605d"/><path d="M311.8,1785.9L317.0,1788.8L317.0,1794.7L311.8,1797.6L306.7,1794.7L306.7,1788.8Z" fill="#1f605d"/><path d="M350.9,1735.6L356.0,1738.5L356.0,1744.4L350.9,1747.3L345.8,1744.4L345.8,1738.5Z" fill="#1f605d"/><path d="M370.4,1752.4L375.5,1755.3L375.5,1761.1L370.4,1764.1L365.3,1761.1L365.3,1755.3Z" fill="#1f605d"/><path d="M263.0,1852.9L268.2,1855.9L268.2,1861.7L263.0,1864.6L257.9,1861.7L257.9,1855.9Z" fill="#1f605d"/><path d="M307.0,1844.6L312.1,1847.5L312.1,1853.3L307.0,1856.2L301.8,1853.3L301.8,1847.5Z" fill="#1f605d"/><path d="M346.0,1727.2L351.1,1730.2L351.1,1736.0L346.0,1738.9L340.9,1736.0L340.9,1730.2Z" fill="#1f605d"/><path d="M297.2,1844.6L302.3,1847.5L302.3,1853.3L297.2,1856.2L292.1,1853.3L292.1,1847.5Z" fill="#1f605d"/><path d="M282.6,1785.9L287.7,1788.8L287.7,1794.7L282.6,1797.6L277.4,1794.7L277.4,1788.8Z" fill="#1f605d"/><path d="M267.9,1844.6L273.0,1847.5L273.0,1853.3L267.9,1856.2L262.8,1853.3L262.8,1847.5Z" fill="#1f605d"/><path d="M243.5,1852.9L248.6,1855.9L248.6,1861.7L243.5,1864.6L238.4,1861.7L238.4,1855.9Z" fill="#1f605d"/><path d="M341.1,1802.7L346.2,1805.6L346.2,1811.4L341.1,1814.3L336.0,1811.4L336.0,1805.6Z" fill="#1f605d"/><path d="M370.4,1769.1L375.5,1772.1L375.5,1777.9L370.4,1780.8L365.3,1777.9L365.3,1772.1Z" fill="#1f605d"/><path d="M341.1,1735.6L346.2,1738.5L346.2,1744.4L341.1,1747.3L336.0,1744.4L336.0,1738.5Z" fill="#1f615d"/><path d="M277.7,1844.6L282.8,1847.5L282.8,1853.3L277.7,1856.2L272.5,1853.3L272.5,1847.5Z" fill="#1f615d"/><path d="M360.6,1769.1L365.8,1772.1L365.8,1777.9L360.6,1780.8L355.5,1777.9L355.5,1772.1Z" fill="#1f615d"/><path d="M277.7,1794.3L282.8,1797.2L282.8,1803.0L277.7,1806.0L272.5,1803.0L272.5,1797.2Z" fill="#1f615d"/><path d="M287.4,1777.5L292.6,1780.4L292.6,1786.3L287.4,1789.2L282.3,1786.3L282.3,1780.4Z" fill="#1f615d"/><path d="M272.8,1852.9L277.9,1855.9L277.9,1861.7L272.8,1864.6L267.7,1861.7L267.7,1855.9Z" fill="#1f615d"/><path d="M365.5,1760.8L370.6,1763.7L370.6,1769.5L365.5,1772.4L360.4,1769.5L360.4,1763.7Z" fill="#1f615d"/><path d="M311.8,1819.4L317.0,1822.3L317.0,1828.2L311.8,1831.1L306.7,1828.2L306.7,1822.3Z" fill="#1f615e"/><path d="M355.8,1777.5L360.9,1780.4L360.9,1786.3L355.8,1789.2L350.6,1786.3L350.6,1780.4Z" fill="#1f615e"/><path d="M326.5,1744.0L331.6,1746.9L331.6,1752.8L326.5,1755.7L321.3,1752.8L321.3,1746.9Z" fill="#1f615e"/><path d="M326.5,1811.0L331.6,1814.0L331.6,1819.8L326.5,1822.7L321.3,1819.8L321.3,1814.0Z" fill="#1f615e"/><path d="M346.0,1794.3L351.1,1797.2L351.1,1803.0L346.0,1806.0L340.9,1803.0L340.9,1797.2Z" fill="#1f615e"/><path d="M365.5,1744.0L370.6,1746.9L370.6,1752.8L365.5,1755.7L360.4,1752.8L360.4,1746.9Z" fill="#1f615e"/><path d="M267.9,1827.8L273.0,1830.7L273.0,1836.6L267.9,1839.5L262.8,1836.6L262.8,1830.7Z" fill="#1f615e"/><path d="M331.4,1735.6L336.5,1738.5L336.5,1744.4L331.4,1747.3L326.2,1744.4L326.2,1738.5Z" fill="#1f625e"/><path d="M355.8,1744.0L360.9,1746.9L360.9,1752.8L355.8,1755.7L350.6,1752.8L350.6,1746.9Z" fill="#1f625e"/><path d="M277.7,1811.0L282.8,1814.0L282.8,1819.8L277.7,1822.7L272.5,1819.8L272.5,1814.0Z" fill="#1f625e"/><path d="M292.3,1769.1L297.4,1772.1L297.4,1777.9L292.3,1780.8L287.2,1777.9L287.2,1772.1Z" fill="#1f625e"/><path d="M282.6,1802.7L287.7,1805.6L287.7,1811.4L282.6,1814.3L277.4,1811.4L277.4,1805.6Z" fill="#1f625f"/><path d="M346.0,1744.0L351.1,1746.9L351.1,1752.8L346.0,1755.7L340.9,1752.8L340.9,1746.9Z" fill="#1f625f"/><path d="M311.8,1802.7L317.0,1805.6L317.0,1811.4L311.8,1814.3L306.7,1811.4L306.7,1805.6Z" fill="#1f625f"/><path d="M350.9,1769.1L356.0,1772.1L356.0,1777.9L350.9,1780.8L345.8,1777.9L345.8,1772.1Z" fill="#1f635f"/><path d="M287.4,1844.6L292.6,1847.5L292.6,1853.3L287.4,1856.2L282.3,1853.3L282.3,1847.5Z" fill="#1f635f"/><path d="M272.8,1836.2L277.9,1839.1L277.9,1844.9L272.8,1847.9L267.7,1844.9L267.7,1839.1Z" fill="#1f6360"/><path d="M272.8,1819.4L277.9,1822.3L277.9,1828.2L272.8,1831.1L267.7,1828.2L267.7,1822.3Z" fill="#206460"/><path d="M360.6,1752.4L365.8,1755.3L365.8,1761.1L360.6,1764.1L355.5,1761.1L355.5,1755.3Z" fill="#206561"/><path d="M302.1,1769.1L307.2,1772.1L307.2,1777.9L302.1,1780.8L296.9,1777.9L296.9,1772.1Z" fill="#206561"/><path d="M326.5,1760.8L331.6,1763.7L331.6,1769.5L326.5,1772.4L321.3,1769.5L321.3,1763.7Z" fill="#206561"/><path d="M355.8,1760.8L360.9,1763.7L360.9,1769.5L355.8,1772.4L350.6,1769.5L350.6,1763.7Z" fill="#206562"/><path d="M355.8,1727.2L360.9,1730.2L360.9,1736.0L355.8,1738.9L350.6,1736.0L350.6,1730.2Z" fill="#206562"/><path d="M341.1,1785.9L346.2,1788.8L346.2,1794.7L341.1,1797.6L336.0,1794.7L336.0,1788.8Z" fill="#206562"/><path d="M346.0,1777.5L351.1,1780.4L351.1,1786.3L346.0,1789.2L340.9,1786.3L340.9,1780.4Z" fill="#206662"/><path d="M331.4,1802.7L336.5,1805.6L336.5,1811.4L331.4,1814.3L326.2,1811.4L326.2,1805.6Z" fill="#206662"/><path d="M336.2,1744.0L341.4,1746.9L341.4,1752.8L336.2,1755.7L331.1,1752.8L331.1,1746.9Z" fill="#206662"/><path d="M307.0,1827.8L312.1,1830.7L312.1,1836.6L307.0,1839.5L301.8,1836.6L301.8,1830.7Z" fill="#206662"/><path d="M302.1,1836.2L307.2,1839.1L307.2,1844.9L302.1,1847.9L296.9,1844.9L296.9,1839.1Z" fill="#206763"/><path d="M292.3,1836.2L297.4,1839.1L297.4,1844.9L292.3,1847.9L287.2,1844.9L287.2,1839.1Z" fill="#206863"/><path d="M277.7,1827.8L282.8,1830.7L282.8,1836.6L277.7,1839.5L272.5,1836.6L272.5,1830.7Z" fill="#206965"/><path d="M336.2,1794.3L341.4,1797.2L341.4,1803.0L336.2,1806.0L331.1,1803.0L331.1,1797.2Z" fill="#206965"/><path d="M282.6,1819.4L287.7,1822.3L287.7,1828.2L282.6,1831.1L277.4,1828.2L277.4,1822.3Z" fill="#206965"/><path d="M287.4,1794.3L292.6,1797.2L292.6,1803.0L287.4,1806.0L282.3,1803.0L282.3,1797.2Z" fill="#206a66"/><path d="M307.0,1777.5L312.1,1780.4L312.1,1786.3L307.0,1789.2L301.8,1786.3L301.8,1780.4Z" fill="#206a66"/><path d="M346.0,1760.8L351.1,1763.7L351.1,1769.5L346.0,1772.4L340.9,1769.5L340.9,1763.7Z" fill="#206a66"/><path d="M331.4,1752.4L336.5,1755.3L336.5,1761.1L331.4,1764.1L326.2,1761.1L326.2,1755.3Z" fill="#206a66"/><path d="M326.5,1777.5L331.6,1780.4L331.6,1786.3L326.5,1789.2L321.3,1786.3L321.3,1780.4Z" fill="#206a66"/><path d="M326.5,1794.3L331.6,1797.2L331.6,1803.0L326.5,1806.0L321.3,1803.0L321.3,1797.2Z" fill="#206b66"/><path d="M297.2,1777.5L302.3,1780.4L302.3,1786.3L297.2,1789.2L292.1,1786.3L292.1,1780.4Z" fill="#206b66"/><path d="M350.9,1752.4L356.0,1755.3L356.0,1761.1L350.9,1764.1L345.8,1761.1L345.8,1755.3Z" fill="#206c67"/><path d="M341.1,1752.4L346.2,1755.3L346.2,1761.1L341.1,1764.1L336.0,1761.1L336.0,1755.3Z" fill="#206d68"/><path d="M341.1,1769.1L346.2,1772.1L346.2,1777.9L341.1,1780.8L336.0,1777.9L336.0,1772.1Z" fill="#206d68"/><path d="M287.4,1827.8L292.6,1830.7L292.6,1836.6L287.4,1839.5L282.3,1836.6L282.3,1830.7Z" fill="#206d68"/><path d="M331.4,1785.9L336.5,1788.8L336.5,1794.7L331.4,1797.6L326.2,1794.7L326.2,1788.8Z" fill="#206e69"/><path d="M282.6,1836.2L287.7,1839.1L287.7,1844.9L282.6,1847.9L277.4,1844.9L277.4,1839.1Z" fill="#206f6a"/><path d="M336.2,1777.5L341.4,1780.4L341.4,1786.3L336.2,1789.2L331.1,1786.3L331.1,1780.4Z" fill="#21706b"/><path d="M336.2,1760.8L341.4,1763.7L341.4,1769.5L336.2,1772.4L331.1,1769.5L331.1,1763.7Z" fill="#21756f"/><path d="M297.2,1827.8L302.3,1830.7L302.3,1836.6L297.2,1839.5L292.1,1836.6L292.1,1830.7Z" fill="#21756f"/><path d="M292.3,1785.9L297.4,1788.8L297.4,1794.7L292.3,1797.6L287.2,1794.7L287.2,1788.8Z" fill="#21756f"/><path d="M287.4,1811.0L292.6,1814.0L292.6,1819.8L287.4,1822.7L282.3,1819.8L282.3,1814.0Z" fill="#217670"/><path d="M302.1,1785.9L307.2,1788.8L307.2,1794.7L302.1,1797.6L296.9,1794.7L296.9,1788.8Z" fill="#217670"/><path d="M302.1,1819.4L307.2,1822.3L307.2,1828.2L302.1,1831.1L296.9,1828.2L296.9,1822.3Z" fill="#217670"/><path d="M307.0,1811.0L312.1,1814.0L312.1,1819.8L307.0,1822.7L301.8,1819.8L301.8,1814.0Z" fill="#217871"/><path d="M292.3,1819.4L297.4,1822.3L297.4,1828.2L292.3,1831.1L287.2,1828.2L287.2,1822.3Z" fill="#227973"/><path d="M292.3,1802.7L297.4,1805.6L297.4,1811.4L292.3,1814.3L287.2,1811.4L287.2,1805.6Z" fill="#25877f"/><path d="M297.2,1811.0L302.3,1814.0L302.3,1819.8L297.2,1822.7L292.1,1819.8L292.1,1814.0Z" fill="#268b84"/><path d="M307.0,1794.3L312.1,1797.2L312.1,1803.0L307.0,1806.0L301.8,1803.0L301.8,1797.2Z" fill="#278f88"/><path d="M297.2,1794.3L302.3,1797.2L302.3,1803.0L297.2,1806.0L292.1,1803.0L292.1,1797.2Z" fill="#65b17d"/><path d="M331.4,1769.1L336.5,1772.1L336.5,1777.9L331.4,1780.8L326.2,1777.9L326.2,1772.1Z" fill="#65b17d"/><path d="M302.1,1802.7L307.2,1805.6L307.2,1811.4L302.1,1814.3L296.9,1811.4L296.9,1805.6Z" fill="#f6e232"/>
<g clip-path="url(#cli)">
<text font-size="29.17" text-anchor="middle" fill="#000" x="319.00" y="1571.30" >Liver</text>
</g>
<line x1="149.30" y1="1929.20" x2="489.70" y2="1651.00" stroke="#0c1c1c" stroke-width="3" opacity="0.55" clip-path="url(#hc5)"/>
<line x1="149.30" y1="1929.20" x2="489.70" y2="1651.00" stroke="#fff" stroke-width="8" opacity="0.10" clip-path="url(#hc5)"/>
<line x1="128.90" y1="1600.70" x2="128.90" y2="1975.30" stroke="#000" stroke-width="4.3" />
<line x1="126.80" y1="1973.20" x2="509.30" y2="1973.20" stroke="#000" stroke-width="4.2" />
<line x1="116.90" y1="1617.10" x2="126.90" y2="1617.10" stroke="#333333" stroke-width="3.8" />
<text font-size="29.17" text-anchor="end" fill="#000" x="106.90" y="1627.70" >4</text>
<line x1="116.90" y1="1701.96" x2="126.90" y2="1701.96" stroke="#333333" stroke-width="3.8" />
<text font-size="29.17" text-anchor="end" fill="#000" x="106.90" y="1712.56" >2</text>
<line x1="116.90" y1="1786.82" x2="126.90" y2="1786.82" stroke="#333333" stroke-width="3.8" />
<text font-size="29.17" text-anchor="end" fill="#000" x="106.90" y="1797.42" >0</text>
<line x1="116.90" y1="1871.68" x2="126.90" y2="1871.68" stroke="#333333" stroke-width="3.8" />
<text font-size="29.17" text-anchor="end" fill="#000" x="106.90" y="1882.28" >−2</text>
<line x1="116.90" y1="1956.54" x2="126.90" y2="1956.54" stroke="#333333" stroke-width="3.8" />
<text font-size="29.17" text-anchor="end" fill="#000" x="106.90" y="1967.14" >−4</text>
<line x1="213.70" y1="1975.20" x2="213.70" y2="1984.20" stroke="#333333" stroke-width="3.8" />
<text font-size="29.17" text-anchor="middle" fill="#000" x="213.70" y="2014.00" >−2</text>
<line x1="316.80" y1="1975.20" x2="316.80" y2="1984.20" stroke="#333333" stroke-width="3.8" />
<text font-size="29.17" text-anchor="middle" fill="#000" x="316.80" y="2014.00" >0</text>
<line x1="419.60" y1="1975.20" x2="419.60" y2="1984.20" stroke="#333333" stroke-width="3.8" />
<text font-size="29.17" text-anchor="middle" fill="#000" x="419.60" y="2014.00" >2</text>
<text font-size="29.17" text-anchor="middle" fill="#000" x="319.00" y="2056.50" >cis−eQTL aFC (log<tspan font-size="20.4" dy="5">2</tspan><tspan dy="-5" font-size="29.17">&#8203;</tspan>)</text>
<text font-size="29.17" text-anchor="middle" fill="#000" transform="translate(48.70,1786.20) rotate(-90)" >ASE aFC (log<tspan font-size="20.4" dy="5">2</tspan><tspan dy="-5" font-size="29.17">&#8203;</tspan>)</text>
<text font-size="25" text-anchor="start" fill="#000" x="148.40" y="1632.20" >ρ=0.8, <tspan font-style="italic">P</tspan>=2.33<tspan dx="2">×</tspan><tspan dx="2">10</tspan><tspan font-size="17.5" dy="-11">−492</tspan></text>
<text font-size="25" text-anchor="start" fill="#000" x="148.40" y="1665.80" ><tspan font-style="italic">N</tspan>=2,171</text>
<text font-size="25" text-anchor="start" fill="#000" x="430.60" y="1845.30" >Density</text>
<text font-size="25" text-anchor="start" fill="#000" x="463.60" y="1870.40" >High</text>
<text font-size="25" text-anchor="start" fill="#000" x="463.60" y="1941.80" >Low</text>
<rect x="430.00" y="1862.50" width="20.40" height="70.80" fill="url(#gd)" stroke="none" stroke-width="1" />
<text font-size="40" text-anchor="start" fill="#231815" font-weight="bold" x="533.00" y="1563.00" >j</text>
<line x1="677.70" y1="1872.00" x2="1025.00" y2="1652.60" stroke="#b2b2b2" stroke-width="8" />
<use href="#hx9" fill="#1f5e5b"/><path d="M761.9,1846.6L767.1,1849.5L767.1,1855.3L761.9,1858.2L756.6,1855.3L756.6,1849.5Z" fill="#1f605c"/><path d="M742.1,1846.6L747.3,1849.5L747.3,1855.3L742.1,1858.2L736.9,1855.3L736.9,1849.5Z" fill="#1f605c"/><path d="M836.1,1804.7L841.3,1807.6L841.3,1813.4L836.1,1816.3L830.9,1813.4L830.9,1807.6Z" fill="#1f605c"/><path d="M826.2,1821.4L831.4,1824.3L831.4,1830.2L826.2,1833.1L821.0,1830.2L821.0,1824.3Z" fill="#1f605c"/><path d="M855.9,1754.4L861.1,1757.3L861.1,1763.1L855.9,1766.1L850.7,1763.1L850.7,1757.3Z" fill="#1f605c"/><path d="M855.9,1771.1L861.1,1774.1L861.1,1779.9L855.9,1782.8L850.7,1779.9L850.7,1774.1Z" fill="#1f605c"/><path d="M752.0,1829.8L757.2,1832.7L757.2,1838.6L752.0,1841.5L746.8,1838.6L746.8,1832.7Z" fill="#1f605c"/><path d="M841.1,1729.2L846.3,1732.2L846.3,1738.0L841.1,1740.9L835.9,1738.0L835.9,1732.2Z" fill="#1f605c"/><path d="M801.5,1779.5L806.7,1782.4L806.7,1788.3L801.5,1791.2L796.2,1788.3L796.2,1782.4Z" fill="#1f605c"/><path d="M836.1,1821.4L841.3,1824.3L841.3,1830.2L836.1,1833.1L830.9,1830.2L830.9,1824.3Z" fill="#1f605c"/><path d="M885.6,1720.9L890.8,1723.8L890.8,1729.6L885.6,1732.5L880.4,1729.6L880.4,1723.8Z" fill="#1f605c"/><path d="M865.8,1737.6L871.0,1740.5L871.0,1746.4L865.8,1749.3L860.6,1746.4L860.6,1740.5Z" fill="#1f605c"/><path d="M811.4,1796.3L816.6,1799.2L816.6,1805.0L811.4,1808.0L806.1,1805.0L806.1,1799.2Z" fill="#1f605c"/><path d="M776.7,1787.9L781.9,1790.8L781.9,1796.7L776.7,1799.6L771.5,1796.7L771.5,1790.8Z" fill="#1f605c"/><path d="M816.3,1821.4L821.5,1824.3L821.5,1830.2L816.3,1833.1L811.1,1830.2L811.1,1824.3Z" fill="#1f605d"/><path d="M742.1,1829.8L747.3,1832.7L747.3,1838.6L742.1,1841.5L736.9,1838.6L736.9,1832.7Z" fill="#1f605d"/><path d="M841.1,1746.0L846.3,1748.9L846.3,1754.8L841.1,1757.7L835.9,1754.8L835.9,1748.9Z" fill="#1f605d"/><path d="M756.9,1838.2L762.1,1841.1L762.1,1846.9L756.9,1849.9L751.7,1846.9L751.7,1841.1Z" fill="#1f605d"/><path d="M855.9,1787.9L861.1,1790.8L861.1,1796.7L855.9,1799.6L850.7,1796.7L850.7,1790.8Z" fill="#1f605d"/><path d="M752.0,1846.6L757.2,1849.5L757.2,1855.3L752.0,1858.2L746.8,1855.3L746.8,1849.5Z" fill="#1f605d"/><path d="M796.5,1838.2L801.7,1841.1L801.7,1846.9L796.5,1849.9L791.3,1846.9L791.3,1841.1Z" fill="#1f605d"/><path d="M766.8,1787.9L772.0,1790.8L772.0,1796.7L766.8,1799.6L761.6,1796.7L761.6,1790.8Z" fill="#1f605d"/><path d="M826.2,1737.6L831.4,1740.5L831.4,1746.4L826.2,1749.3L821.0,1746.4L821.0,1740.5Z" fill="#1f605d"/><path d="M766.8,1838.2L772.0,1841.1L772.0,1846.9L766.8,1849.9L761.6,1846.9L761.6,1841.1Z" fill="#1f615e"/><path d="M776.7,1854.9L781.9,1857.9L781.9,1863.7L776.7,1866.6L771.5,1863.7L771.5,1857.9Z" fill="#1f615e"/><path d="M756.9,1871.7L762.1,1874.6L762.1,1880.5L756.9,1883.4L751.7,1880.5L751.7,1874.6Z" fill="#1f615e"/><path d="M796.5,1771.1L801.7,1774.1L801.7,1779.9L796.5,1782.8L791.3,1779.9L791.3,1774.1Z" fill="#1f615e"/><path d="M836.1,1737.6L841.3,1740.5L841.3,1746.4L836.1,1749.3L830.9,1746.4L830.9,1740.5Z" fill="#1f615e"/><path d="M801.5,1796.3L806.7,1799.2L806.7,1805.0L801.5,1808.0L796.2,1805.0L796.2,1799.2Z" fill="#1f615e"/><path d="M841.1,1779.5L846.3,1782.4L846.3,1788.3L841.1,1791.2L835.9,1788.3L835.9,1782.4Z" fill="#1f615e"/><path d="M766.8,1854.9L772.0,1857.9L772.0,1863.7L766.8,1866.6L761.6,1863.7L761.6,1857.9Z" fill="#1f615e"/><path d="M831.2,1729.2L836.4,1732.2L836.4,1738.0L831.2,1740.9L826.0,1738.0L826.0,1732.2Z" fill="#1f615e"/><path d="M846.0,1787.9L851.2,1790.8L851.2,1796.7L846.0,1799.6L840.8,1796.7L840.8,1790.8Z" fill="#1f615e"/><path d="M771.8,1846.6L777.0,1849.5L777.0,1855.3L771.8,1858.2L766.5,1855.3L766.5,1849.5Z" fill="#1f615e"/><path d="M816.3,1804.7L821.5,1807.6L821.5,1813.4L816.3,1816.3L811.1,1813.4L811.1,1807.6Z" fill="#1f615e"/><path d="M870.8,1729.2L876.0,1732.2L876.0,1738.0L870.8,1740.9L865.5,1738.0L865.5,1732.2Z" fill="#1f625e"/><path d="M766.8,1821.4L772.0,1824.3L772.0,1830.2L766.8,1833.1L761.6,1830.2L761.6,1824.3Z" fill="#1f625e"/><path d="M846.0,1737.6L851.2,1740.5L851.2,1746.4L846.0,1749.3L840.8,1746.4L840.8,1740.5Z" fill="#1f625e"/><path d="M756.9,1804.7L762.1,1807.6L762.1,1813.4L756.9,1816.3L751.7,1813.4L751.7,1807.6Z" fill="#1f625e"/><path d="M756.9,1854.9L762.1,1857.9L762.1,1863.7L756.9,1866.6L751.7,1863.7L751.7,1857.9Z" fill="#1f625e"/><path d="M846.0,1771.1L851.2,1774.1L851.2,1779.9L846.0,1782.8L840.8,1779.9L840.8,1774.1Z" fill="#1f625e"/><path d="M831.2,1813.0L836.4,1816.0L836.4,1821.8L831.2,1824.7L826.0,1821.8L826.0,1816.0Z" fill="#1f625e"/><path d="M851.0,1779.5L856.2,1782.4L856.2,1788.3L851.0,1791.2L845.8,1788.3L845.8,1782.4Z" fill="#1f635f"/><path d="M851.0,1746.0L856.2,1748.9L856.2,1754.8L851.0,1757.7L845.8,1754.8L845.8,1748.9Z" fill="#1f635f"/><path d="M771.8,1796.3L777.0,1799.2L777.0,1805.0L771.8,1808.0L766.5,1805.0L766.5,1799.2Z" fill="#1f635f"/><path d="M851.0,1762.8L856.2,1765.7L856.2,1771.5L851.0,1774.4L845.8,1771.5L845.8,1765.7Z" fill="#1f6360"/><path d="M836.1,1787.9L841.3,1790.8L841.3,1796.7L836.1,1799.6L830.9,1796.7L830.9,1790.8Z" fill="#1f6360"/><path d="M761.9,1813.0L767.1,1816.0L767.1,1821.8L761.9,1824.7L756.6,1821.8L756.6,1816.0Z" fill="#1f6360"/><path d="M846.0,1754.4L851.2,1757.3L851.2,1763.1L846.0,1766.1L840.8,1763.1L840.8,1757.3Z" fill="#1f6360"/><path d="M841.1,1762.8L846.3,1765.7L846.3,1771.5L841.1,1774.4L835.9,1771.5L835.9,1765.7Z" fill="#1f6360"/><path d="M756.9,1821.4L762.1,1824.3L762.1,1830.2L756.9,1833.1L751.7,1830.2L751.7,1824.3Z" fill="#1f6360"/><path d="M766.8,1804.7L772.0,1807.6L772.0,1813.4L766.8,1816.3L761.6,1813.4L761.6,1807.6Z" fill="#206461"/><path d="M816.3,1754.4L821.5,1757.3L821.5,1763.1L816.3,1766.1L811.1,1763.1L811.1,1757.3Z" fill="#206461"/><path d="M786.6,1854.9L791.8,1857.9L791.8,1863.7L786.6,1866.6L781.4,1863.7L781.4,1857.9Z" fill="#206461"/><path d="M771.8,1813.0L777.0,1816.0L777.0,1821.8L771.8,1824.7L766.5,1821.8L766.5,1816.0Z" fill="#206461"/><path d="M791.6,1762.8L796.8,1765.7L796.8,1771.5L791.6,1774.4L786.4,1771.5L786.4,1765.7Z" fill="#206561"/><path d="M761.9,1796.3L767.1,1799.2L767.1,1805.0L761.9,1808.0L756.6,1805.0L756.6,1799.2Z" fill="#206561"/><path d="M776.7,1804.7L781.9,1807.6L781.9,1813.4L776.7,1816.3L771.5,1813.4L771.5,1807.6Z" fill="#206561"/><path d="M791.6,1846.6L796.8,1849.5L796.8,1855.3L791.6,1858.2L786.4,1855.3L786.4,1849.5Z" fill="#206561"/><path d="M836.1,1754.4L841.3,1757.3L841.3,1763.1L836.1,1766.1L830.9,1763.1L830.9,1757.3Z" fill="#206561"/><path d="M816.3,1787.9L821.5,1790.8L821.5,1796.7L816.3,1799.6L811.1,1796.7L811.1,1790.8Z" fill="#206662"/><path d="M831.2,1796.3L836.4,1799.2L836.4,1805.0L831.2,1808.0L826.0,1805.0L826.0,1799.2Z" fill="#206662"/><path d="M831.2,1746.0L836.4,1748.9L836.4,1754.8L831.2,1757.7L826.0,1754.8L826.0,1748.9Z" fill="#206662"/><path d="M781.7,1846.6L786.9,1849.5L786.9,1855.3L781.7,1858.2L776.5,1855.3L776.5,1849.5Z" fill="#206662"/><path d="M791.6,1829.8L796.8,1832.7L796.8,1838.6L791.6,1841.5L786.4,1838.6L786.4,1832.7Z" fill="#206763"/><path d="M831.2,1762.8L836.4,1765.7L836.4,1771.5L831.2,1774.4L826.0,1771.5L826.0,1765.7Z" fill="#206763"/><path d="M821.2,1746.0L826.5,1748.9L826.5,1754.8L821.2,1757.7L816.0,1754.8L816.0,1748.9Z" fill="#206763"/><path d="M826.2,1804.7L831.4,1807.6L831.4,1813.4L826.2,1816.3L821.0,1813.4L821.0,1807.6Z" fill="#206763"/><path d="M821.2,1813.0L826.5,1816.0L826.5,1821.8L821.2,1824.7L816.0,1821.8L816.0,1816.0Z" fill="#206964"/><path d="M761.9,1829.8L767.1,1832.7L767.1,1838.6L761.9,1841.5L756.6,1838.6L756.6,1832.7Z" fill="#206964"/><path d="M796.5,1821.4L801.7,1824.3L801.7,1830.2L796.5,1833.1L791.3,1830.2L791.3,1824.3Z" fill="#206a65"/><path d="M791.6,1779.5L796.8,1782.4L796.8,1788.3L791.6,1791.2L786.4,1788.3L786.4,1782.4Z" fill="#206a65"/><path d="M786.6,1771.1L791.8,1774.1L791.8,1779.9L786.6,1782.8L781.4,1779.9L781.4,1774.1Z" fill="#206a65"/><path d="M786.6,1838.2L791.8,1841.1L791.8,1846.9L786.6,1849.9L781.4,1846.9L781.4,1841.1Z" fill="#206a65"/><path d="M781.7,1779.5L786.9,1782.4L786.9,1788.3L781.7,1791.2L776.5,1788.3L776.5,1782.4Z" fill="#206a65"/><path d="M816.3,1771.1L821.5,1774.1L821.5,1779.9L816.3,1782.8L811.1,1779.9L811.1,1774.1Z" fill="#206c67"/><path d="M776.7,1838.2L781.9,1841.1L781.9,1846.9L776.7,1849.9L771.5,1846.9L771.5,1841.1Z" fill="#206d68"/><path d="M826.2,1787.9L831.4,1790.8L831.4,1796.7L826.2,1799.6L821.0,1796.7L821.0,1790.8Z" fill="#206d68"/><path d="M821.2,1762.8L826.5,1765.7L826.5,1771.5L821.2,1774.4L816.0,1771.5L816.0,1765.7Z" fill="#206f6a"/><path d="M821.2,1779.5L826.5,1782.4L826.5,1788.3L821.2,1791.2L816.0,1788.3L816.0,1782.4Z" fill="#20706b"/><path d="M781.7,1813.0L786.9,1816.0L786.9,1821.8L781.7,1824.7L776.5,1821.8L776.5,1816.0Z" fill="#21736d"/><path d="M836.1,1771.1L841.3,1774.1L841.3,1779.9L836.1,1782.8L830.9,1779.9L830.9,1774.1Z" fill="#21736d"/><path d="M831.2,1779.5L836.4,1782.4L836.4,1788.3L831.2,1791.2L826.0,1788.3L826.0,1782.4Z" fill="#21746e"/><path d="M786.6,1787.9L791.8,1790.8L791.8,1796.7L786.6,1799.6L781.4,1796.7L781.4,1790.8Z" fill="#21746e"/><path d="M821.2,1796.3L826.5,1799.2L826.5,1805.0L821.2,1808.0L816.0,1805.0L816.0,1799.2Z" fill="#21746e"/><path d="M826.2,1754.4L831.4,1757.3L831.4,1763.1L826.2,1766.1L821.0,1763.1L821.0,1757.3Z" fill="#217670"/><path d="M776.7,1821.4L781.9,1824.3L781.9,1830.2L776.7,1833.1L771.5,1830.2L771.5,1824.3Z" fill="#217771"/><path d="M781.7,1829.8L786.9,1832.7L786.9,1838.6L781.7,1841.5L776.5,1838.6L776.5,1832.7Z" fill="#217771"/><path d="M771.8,1829.8L777.0,1832.7L777.0,1838.6L771.8,1841.5L766.5,1838.6L766.5,1832.7Z" fill="#237f78"/><path d="M786.6,1821.4L791.8,1824.3L791.8,1830.2L786.6,1833.1L781.4,1830.2L781.4,1824.3Z" fill="#23817a"/><path d="M791.6,1813.0L796.8,1816.0L796.8,1821.8L791.6,1824.7L786.4,1821.8L786.4,1816.0Z" fill="#24857e"/><path d="M781.7,1796.3L786.9,1799.2L786.9,1805.0L781.7,1808.0L776.5,1805.0L776.5,1799.2Z" fill="#258982"/><path d="M796.5,1787.9L801.7,1790.8L801.7,1796.7L796.5,1799.6L791.3,1796.7L791.3,1790.8Z" fill="#258982"/><path d="M786.6,1804.7L791.8,1807.6L791.8,1813.4L786.6,1816.3L781.4,1813.4L781.4,1807.6Z" fill="#268d86"/><path d="M826.2,1771.1L831.4,1774.1L831.4,1779.9L826.2,1782.8L821.0,1779.9L821.0,1774.1Z" fill="#268d86"/><path d="M796.5,1804.7L801.7,1807.6L801.7,1813.4L796.5,1816.3L791.3,1813.4L791.3,1807.6Z" fill="#2e998c"/><path d="M791.6,1796.3L796.8,1799.2L796.8,1805.0L791.6,1808.0L786.4,1805.0L786.4,1799.2Z" fill="#f6e232"/>
<g clip-path="url(#clj)">
<text font-size="29.17" text-anchor="middle" fill="#000" x="850.60" y="1571.30" >Brain</text>
</g>
<line x1="677.70" y1="1872.00" x2="1025.00" y2="1652.60" stroke="#0c1c1c" stroke-width="3" opacity="0.55" clip-path="url(#hc9)"/>
<line x1="677.70" y1="1872.00" x2="1025.00" y2="1652.60" stroke="#fff" stroke-width="8" opacity="0.10" clip-path="url(#hc9)"/>
<line x1="661.40" y1="1600.70" x2="661.40" y2="1975.30" stroke="#000" stroke-width="4.3" />
<line x1="659.30" y1="1973.20" x2="1042.50" y2="1973.20" stroke="#000" stroke-width="4.2" />
<line x1="649.40" y1="1617.10" x2="659.40" y2="1617.10" stroke="#333333" stroke-width="3.8" />
<text font-size="29.17" text-anchor="end" fill="#000" x="638.40" y="1627.70" >4</text>
<line x1="649.40" y1="1701.96" x2="659.40" y2="1701.96" stroke="#333333" stroke-width="3.8" />
<text font-size="29.17" text-anchor="end" fill="#000" x="638.40" y="1712.56" >2</text>
<line x1="649.40" y1="1786.82" x2="659.40" y2="1786.82" stroke="#333333" stroke-width="3.8" />
<text font-size="29.17" text-anchor="end" fill="#000" x="638.40" y="1797.42" >0</text>
<line x1="649.40" y1="1871.68" x2="659.40" y2="1871.68" stroke="#333333" stroke-width="3.8" />
<text font-size="29.17" text-anchor="end" fill="#000" x="638.40" y="1882.28" >−2</text>
<line x1="649.40" y1="1956.54" x2="659.40" y2="1956.54" stroke="#333333" stroke-width="3.8" />
<text font-size="29.17" text-anchor="end" fill="#000" x="638.40" y="1967.14" >−4</text>
<line x1="674.00" y1="1975.20" x2="674.00" y2="1984.20" stroke="#333333" stroke-width="3.8" />
<text font-size="29.17" text-anchor="middle" fill="#000" x="674.00" y="2014.00" >−2</text>
<line x1="740.60" y1="1975.20" x2="740.60" y2="1984.20" stroke="#333333" stroke-width="3.8" />
<text font-size="29.17" text-anchor="middle" fill="#000" x="740.60" y="2014.00" >−1</text>
<line x1="807.20" y1="1975.20" x2="807.20" y2="1984.20" stroke="#333333" stroke-width="3.8" />
<text font-size="29.17" text-anchor="middle" fill="#000" x="807.20" y="2014.00" >0</text>
<line x1="873.80" y1="1975.20" x2="873.80" y2="1984.20" stroke="#333333" stroke-width="3.8" />
<text font-size="29.17" text-anchor="middle" fill="#000" x="873.80" y="2014.00" >1</text>
<line x1="940.40" y1="1975.20" x2="940.40" y2="1984.20" stroke="#333333" stroke-width="3.8" />
<text font-size="29.17" text-anchor="middle" fill="#000" x="940.40" y="2014.00" >2</text>
<line x1="1007.00" y1="1975.20" x2="1007.00" y2="1984.20" stroke="#333333" stroke-width="3.8" />
<text font-size="29.17" text-anchor="middle" fill="#000" x="1007.00" y="2014.00" >3</text>
<text font-size="29.17" text-anchor="middle" fill="#000" x="850.60" y="2056.50" >cis−eQTL aFC (log<tspan font-size="20.4" dy="5">2</tspan><tspan dy="-5" font-size="29.17">&#8203;</tspan>)</text>
<text font-size="29.17" text-anchor="middle" fill="#000" transform="translate(580.30,1786.20) rotate(-90)" >ASE aFC (log<tspan font-size="20.4" dy="5">2</tspan><tspan dy="-5" font-size="29.17">&#8203;</tspan>)</text>
<text font-size="25" text-anchor="start" fill="#000" x="678.40" y="1632.20" >ρ=0.74, <tspan font-style="italic">P</tspan>=2.96<tspan dx="2">×</tspan><tspan dx="2">10</tspan><tspan font-size="17.5" dy="-11">−287</tspan></text>
<text font-size="25" text-anchor="start" fill="#000" x="678.40" y="1665.80" ><tspan font-style="italic">N</tspan>=1,640</text>
<text font-size="25" text-anchor="start" fill="#000" x="962.80" y="1845.30" >Density</text>
<text font-size="25" text-anchor="start" fill="#000" x="995.80" y="1870.40" >High</text>
<text font-size="25" text-anchor="start" fill="#000" x="995.80" y="1941.80" >Low</text>
<rect x="962.20" y="1862.50" width="20.40" height="70.80" fill="url(#gd)" stroke="none" stroke-width="1" />
<text font-size="40" text-anchor="start" fill="#231815" font-weight="bold" x="3.00" y="2112.30" >k</text>
<rect x="149.85" y="2144.51" width="18.70" height="266.69" fill="#808080" stroke="none" stroke-width="1" />
<text font-size="20.83" text-anchor="middle" fill="#000" x="159.20" y="2144.31" >*</text>
<rect x="172.93" y="2151.07" width="18.70" height="260.13" fill="#808080" stroke="none" stroke-width="1" />
<text font-size="20.83" text-anchor="middle" fill="#000" x="182.28" y="2150.87" >*</text>
<rect x="196.01" y="2152.23" width="18.70" height="258.97" fill="#808080" stroke="none" stroke-width="1" />
<text font-size="20.83" text-anchor="middle" fill="#000" x="205.36" y="2152.03" >*</text>
<rect x="219.09" y="2153.40" width="18.70" height="257.80" fill="#808080" stroke="none" stroke-width="1" />
<text font-size="20.83" text-anchor="middle" fill="#000" x="228.44" y="2153.20" >*</text>
<rect x="242.17" y="2159.52" width="18.70" height="251.68" fill="#808080" stroke="none" stroke-width="1" />
<text font-size="20.83" text-anchor="middle" fill="#000" x="251.52" y="2159.32" >*</text>
<rect x="265.25" y="2165.93" width="18.70" height="245.27" fill="#808080" stroke="none" stroke-width="1" />
<text font-size="20.83" text-anchor="middle" fill="#000" x="274.60" y="2165.73" >*</text>
<rect x="288.33" y="2166.51" width="18.70" height="244.69" fill="#808080" stroke="none" stroke-width="1" />
<text font-size="20.83" text-anchor="middle" fill="#000" x="297.68" y="2166.31" >*</text>
<rect x="311.41" y="2172.04" width="18.70" height="239.16" fill="#808080" stroke="none" stroke-width="1" />
<text font-size="20.83" text-anchor="middle" fill="#000" x="320.76" y="2171.84" >*</text>
<rect x="334.49" y="2172.63" width="18.70" height="238.57" fill="#808080" stroke="none" stroke-width="1" />
<text font-size="20.83" text-anchor="middle" fill="#000" x="343.84" y="2172.43" >*</text>
<rect x="357.57" y="2173.79" width="18.70" height="237.41" fill="#808080" stroke="none" stroke-width="1" />
<text font-size="20.83" text-anchor="middle" fill="#000" x="366.92" y="2173.59" >*</text>
<rect x="380.65" y="2175.25" width="18.70" height="235.95" fill="#808080" stroke="none" stroke-width="1" />
<text font-size="20.83" text-anchor="middle" fill="#000" x="390.00" y="2175.05" >*</text>
<rect x="403.73" y="2176.99" width="18.70" height="234.21" fill="#808080" stroke="none" stroke-width="1" />
<text font-size="20.83" text-anchor="middle" fill="#000" x="413.08" y="2176.79" >*</text>
<rect x="426.81" y="2178.16" width="18.70" height="233.04" fill="#808080" stroke="none" stroke-width="1" />
<text font-size="20.83" text-anchor="middle" fill="#000" x="436.16" y="2177.96" >*</text>
<rect x="449.89" y="2180.20" width="18.70" height="231.00" fill="#808080" stroke="none" stroke-width="1" />
<text font-size="20.83" text-anchor="middle" fill="#000" x="459.24" y="2180.00" >*</text>
<rect x="472.97" y="2183.99" width="18.70" height="227.21" fill="#808080" stroke="none" stroke-width="1" />
<text font-size="20.83" text-anchor="middle" fill="#000" x="482.32" y="2183.79" >*</text>
<rect x="496.05" y="2185.15" width="18.70" height="226.05" fill="#808080" stroke="none" stroke-width="1" />
<text font-size="20.83" text-anchor="middle" fill="#000" x="505.40" y="2184.95" >*</text>
<rect x="519.13" y="2185.73" width="18.70" height="225.47" fill="#808080" stroke="none" stroke-width="1" />
<text font-size="20.83" text-anchor="middle" fill="#000" x="528.48" y="2185.53" >*</text>
<rect x="542.21" y="2186.32" width="18.70" height="224.88" fill="#808080" stroke="none" stroke-width="1" />
<text font-size="20.83" text-anchor="middle" fill="#000" x="551.56" y="2186.12" >*</text>
<rect x="565.29" y="2190.10" width="18.70" height="221.10" fill="#808080" stroke="none" stroke-width="1" />
<text font-size="20.83" text-anchor="middle" fill="#000" x="574.64" y="2189.90" >*</text>
<rect x="588.37" y="2190.69" width="18.70" height="220.51" fill="#808080" stroke="none" stroke-width="1" />
<text font-size="20.83" text-anchor="middle" fill="#000" x="597.72" y="2190.49" >*</text>
<rect x="611.45" y="2190.69" width="18.70" height="220.51" fill="#808080" stroke="none" stroke-width="1" />
<text font-size="20.83" text-anchor="middle" fill="#000" x="620.80" y="2190.49" >*</text>
<rect x="634.53" y="2191.27" width="18.70" height="219.93" fill="#808080" stroke="none" stroke-width="1" />
<text font-size="20.83" text-anchor="middle" fill="#000" x="643.88" y="2191.07" >*</text>
<rect x="657.61" y="2193.31" width="18.70" height="217.89" fill="#808080" stroke="none" stroke-width="1" />
<text font-size="20.83" text-anchor="middle" fill="#000" x="666.96" y="2193.11" >*</text>
<rect x="680.69" y="2195.06" width="18.70" height="216.14" fill="#808080" stroke="none" stroke-width="1" />
<text font-size="20.83" text-anchor="middle" fill="#000" x="690.04" y="2194.86" >*</text>
<rect x="703.77" y="2195.06" width="18.70" height="216.14" fill="#808080" stroke="none" stroke-width="1" />
<text font-size="20.83" text-anchor="middle" fill="#000" x="713.12" y="2194.86" >*</text>
<rect x="726.85" y="2207.29" width="18.70" height="203.91" fill="#808080" stroke="none" stroke-width="1" />
<text font-size="20.83" text-anchor="middle" fill="#000" x="736.20" y="2207.09" >*</text>
<rect x="749.93" y="2213.12" width="18.70" height="198.08" fill="#808080" stroke="none" stroke-width="1" />
<text font-size="20.83" text-anchor="middle" fill="#000" x="759.28" y="2212.92" >*</text>
<rect x="773.01" y="2213.70" width="18.70" height="197.50" fill="#808080" stroke="none" stroke-width="1" />
<text font-size="20.83" text-anchor="middle" fill="#000" x="782.36" y="2213.50" >*</text>
<rect x="796.09" y="2221.27" width="18.70" height="189.93" fill="#808080" stroke="none" stroke-width="1" />
<text font-size="20.83" text-anchor="middle" fill="#000" x="805.44" y="2221.07" >*</text>
<rect x="819.17" y="2280.11" width="18.70" height="131.09" fill="#808080" stroke="none" stroke-width="1" />
<text font-size="20.83" text-anchor="middle" fill="#000" x="828.52" y="2279.91" >*</text>
<rect x="842.25" y="2322.35" width="18.70" height="88.85" fill="#808080" stroke="none" stroke-width="1" />
<text font-size="20.83" text-anchor="middle" fill="#000" x="851.60" y="2322.15" >*</text>
<rect x="865.33" y="2352.94" width="18.70" height="58.26" fill="#808080" stroke="none" stroke-width="1" />
<text font-size="20.83" text-anchor="middle" fill="#000" x="874.68" y="2352.74" >*</text>
<rect x="888.41" y="2374.50" width="18.70" height="36.70" fill="#808080" stroke="none" stroke-width="1" />
<g clip-path="url(#ck)">
<circle cx="159.2" cy="2410.0" r="9.6" fill="#C43428" />
<circle cx="182.3" cy="2405.6" r="9.6" fill="#C43428" />
<circle cx="205.4" cy="2383.8" r="9.6" fill="#C43428" />
<circle cx="228.4" cy="2392.0" r="9.6" fill="#C43428" />
<circle cx="251.5" cy="2409.5" r="9.6" fill="#C43428" />
<circle cx="274.6" cy="2299.8" r="9.6" fill="#C43428" />
<circle cx="297.7" cy="2396.3" r="9.6" fill="#C43428" />
<circle cx="320.8" cy="2401.3" r="9.6" fill="#C43428" />
<circle cx="343.8" cy="2385.1" r="9.6" fill="#C43428" />
<circle cx="366.9" cy="2396.3" r="9.6" fill="#C43428" />
<circle cx="390.0" cy="2398.8" r="9.6" fill="#C43428" />
<circle cx="413.1" cy="2400.0" r="9.6" fill="#C43428" />
<circle cx="436.2" cy="2285.1" r="9.6" fill="#C43428" />
<circle cx="459.2" cy="2407.5" r="9.6" fill="#C43428" />
<circle cx="482.3" cy="2408.7" r="9.6" fill="#C43428" />
<circle cx="505.4" cy="2393.7" r="9.6" fill="#C43428" />
<circle cx="528.5" cy="2396.3" r="9.6" fill="#C43428" />
<circle cx="551.6" cy="2381.4" r="9.6" fill="#C43428" />
<circle cx="574.6" cy="2388.2" r="9.6" fill="#C43428" />
<circle cx="597.7" cy="2347.9" r="9.6" fill="#C43428" />
<circle cx="620.8" cy="2348.5" r="9.6" fill="#C43428" />
<circle cx="643.9" cy="2154.1" r="9.6" fill="#C43428" />
<circle cx="667.0" cy="2405.0" r="9.6" fill="#C43428" />
<circle cx="690.0" cy="2316.8" r="9.6" fill="#C43428" />
<circle cx="713.1" cy="2398.1" r="9.6" fill="#C43428" />
<circle cx="736.2" cy="2321.1" r="9.6" fill="#C43428" />
<circle cx="759.3" cy="2396.9" r="9.6" fill="#C43428" />
<circle cx="782.4" cy="2409.3" r="9.6" fill="#C43428" />
<circle cx="805.4" cy="2410.0" r="9.6" fill="#C43428" />
<circle cx="828.5" cy="2395.6" r="9.6" fill="#C43428" />
<circle cx="851.6" cy="2398.8" r="9.6" fill="#C43428" />
<circle cx="874.7" cy="2370.8" r="9.6" fill="#C43428" />
<circle cx="897.8" cy="2409.3" r="9.6" fill="#C43428" />
<circle cx="920.8" cy="2410.6" r="9.6" fill="#C43428" />
</g>
<line x1="159.20" y1="2413.20" x2="159.20" y2="2423.20" stroke="#333333" stroke-width="3.8" />
<text font-size="25.4" text-anchor="end" fill="#000" transform="translate(173.70,2444.50) rotate(-60)" >Lymph_node</text>
<line x1="182.28" y1="2413.20" x2="182.28" y2="2423.20" stroke="#333333" stroke-width="3.8" />
<text font-size="25.4" text-anchor="end" fill="#000" transform="translate(196.78,2444.50) rotate(-60)" >Duodenum</text>
<line x1="205.36" y1="2413.20" x2="205.36" y2="2423.20" stroke="#333333" stroke-width="3.8" />
<text font-size="25.4" text-anchor="end" fill="#000" transform="translate(219.86,2444.50) rotate(-60)" >Fetal_thymus</text>
<line x1="228.44" y1="2413.20" x2="228.44" y2="2423.20" stroke="#333333" stroke-width="3.8" />
<text font-size="25.4" text-anchor="end" fill="#000" transform="translate(242.94,2444.50) rotate(-60)" >Milk</text>
<line x1="251.52" y1="2413.20" x2="251.52" y2="2423.20" stroke="#333333" stroke-width="3.8" />
<text font-size="25.4" text-anchor="end" fill="#000" transform="translate(266.02,2444.50) rotate(-60)" >Kidney</text>
<line x1="274.60" y1="2413.20" x2="274.60" y2="2423.20" stroke="#333333" stroke-width="3.8" />
<text font-size="25.4" text-anchor="end" fill="#000" transform="translate(289.10,2444.50) rotate(-60)" >Blood</text>
<line x1="297.68" y1="2413.20" x2="297.68" y2="2423.20" stroke="#333333" stroke-width="3.8" />
<text font-size="25.4" text-anchor="end" fill="#000" transform="translate(312.18,2444.50) rotate(-60)" >Jejunum</text>
<line x1="320.76" y1="2413.20" x2="320.76" y2="2423.20" stroke="#333333" stroke-width="3.8" />
<text font-size="25.4" text-anchor="end" fill="#000" transform="translate(335.26,2444.50) rotate(-60)" >Spleen</text>
<line x1="343.84" y1="2413.20" x2="343.84" y2="2423.20" stroke="#333333" stroke-width="3.8" />
<text font-size="25.4" text-anchor="end" fill="#000" transform="translate(358.34,2444.50) rotate(-60)" >Hypothalamus</text>
<line x1="366.92" y1="2413.20" x2="366.92" y2="2423.20" stroke="#333333" stroke-width="3.8" />
<text font-size="25.4" text-anchor="end" fill="#000" transform="translate(381.42,2444.50) rotate(-60)" >Large_intestine</text>
<line x1="390.00" y1="2413.20" x2="390.00" y2="2423.20" stroke="#333333" stroke-width="3.8" />
<text font-size="25.4" text-anchor="end" fill="#000" transform="translate(404.50,2444.50) rotate(-60)" >Frontal_cortex</text>
<line x1="413.08" y1="2413.20" x2="413.08" y2="2423.20" stroke="#333333" stroke-width="3.8" />
<text font-size="25.4" text-anchor="end" fill="#000" transform="translate(427.58,2444.50) rotate(-60)" >Heart</text>
<line x1="436.16" y1="2413.20" x2="436.16" y2="2423.20" stroke="#333333" stroke-width="3.8" />
<text font-size="25.4" text-anchor="end" fill="#000" transform="translate(450.66,2444.50) rotate(-60)" >Liver</text>
<line x1="459.24" y1="2413.20" x2="459.24" y2="2423.20" stroke="#333333" stroke-width="3.8" />
<text font-size="25.4" text-anchor="end" fill="#000" transform="translate(473.74,2444.50) rotate(-60)" >Pituitary</text>
<line x1="482.32" y1="2413.20" x2="482.32" y2="2423.20" stroke="#333333" stroke-width="3.8" />
<text font-size="25.4" text-anchor="end" fill="#000" transform="translate(496.82,2444.50) rotate(-60)" >Cartilage</text>
<line x1="505.40" y1="2413.20" x2="505.40" y2="2423.20" stroke="#333333" stroke-width="3.8" />
<text font-size="25.4" text-anchor="end" fill="#000" transform="translate(519.90,2444.50) rotate(-60)" >Lung</text>
<line x1="528.48" y1="2413.20" x2="528.48" y2="2423.20" stroke="#333333" stroke-width="3.8" />
<text font-size="25.4" text-anchor="end" fill="#000" transform="translate(542.98,2444.50) rotate(-60)" >Colon</text>
<line x1="551.56" y1="2413.20" x2="551.56" y2="2423.20" stroke="#333333" stroke-width="3.8" />
<text font-size="25.4" text-anchor="end" fill="#000" transform="translate(566.06,2444.50) rotate(-60)" >Uterus</text>
<line x1="574.64" y1="2413.20" x2="574.64" y2="2423.20" stroke="#333333" stroke-width="3.8" />
<text font-size="25.4" text-anchor="end" fill="#000" transform="translate(589.14,2444.50) rotate(-60)" >Ileum</text>
<line x1="597.72" y1="2413.20" x2="597.72" y2="2423.20" stroke="#333333" stroke-width="3.8" />
<text font-size="25.4" text-anchor="end" fill="#000" transform="translate(612.22,2444.50) rotate(-60)" >Adipose</text>
<line x1="620.80" y1="2413.20" x2="620.80" y2="2423.20" stroke="#333333" stroke-width="3.8" />
<text font-size="25.4" text-anchor="end" fill="#000" transform="translate(635.30,2444.50) rotate(-60)" >Small_intestine</text>
<line x1="643.88" y1="2413.20" x2="643.88" y2="2423.20" stroke="#333333" stroke-width="3.8" />
<text font-size="25.4" text-anchor="end" fill="#000" transform="translate(658.38,2444.50) rotate(-60)" >Muscle</text>
<line x1="666.96" y1="2413.20" x2="666.96" y2="2423.20" stroke="#333333" stroke-width="3.8" />
<text font-size="25.4" text-anchor="end" fill="#000" transform="translate(681.46,2444.50) rotate(-60)" >Artery</text>
<line x1="690.04" y1="2413.20" x2="690.04" y2="2423.20" stroke="#333333" stroke-width="3.8" />
<text font-size="25.4" text-anchor="end" fill="#000" transform="translate(704.54,2444.50) rotate(-60)" >Brain</text>
<line x1="713.12" y1="2413.20" x2="713.12" y2="2423.20" stroke="#333333" stroke-width="3.8" />
<text font-size="25.4" text-anchor="end" fill="#000" transform="translate(727.62,2444.50) rotate(-60)" >Macrophage</text>
<line x1="736.20" y1="2413.20" x2="736.20" y2="2423.20" stroke="#333333" stroke-width="3.8" />
<text font-size="25.4" text-anchor="end" fill="#000" transform="translate(750.70,2444.50) rotate(-60)" >Testis</text>
<line x1="759.28" y1="2413.20" x2="759.28" y2="2423.20" stroke="#333333" stroke-width="3.8" />
<text font-size="25.4" text-anchor="end" fill="#000" transform="translate(773.78,2444.50) rotate(-60)" >Synovial_membrane</text>
<line x1="782.36" y1="2413.20" x2="782.36" y2="2423.20" stroke="#333333" stroke-width="3.8" />
<text font-size="25.4" text-anchor="end" fill="#000" transform="translate(796.86,2444.50) rotate(-60)" >Placenta</text>
<line x1="805.44" y1="2413.20" x2="805.44" y2="2423.20" stroke="#333333" stroke-width="3.8" />
<text font-size="25.4" text-anchor="end" fill="#000" transform="translate(819.94,2444.50) rotate(-60)" >Morula</text>
<line x1="828.52" y1="2413.20" x2="828.52" y2="2423.20" stroke="#333333" stroke-width="3.8" />
<text font-size="25.4" text-anchor="end" fill="#000" transform="translate(843.02,2444.50) rotate(-60)" >Ovary</text>
<line x1="851.60" y1="2413.20" x2="851.60" y2="2423.20" stroke="#333333" stroke-width="3.8" />
<text font-size="25.4" text-anchor="end" fill="#000" transform="translate(866.10,2444.50) rotate(-60)" >Embryo</text>
<line x1="874.68" y1="2413.20" x2="874.68" y2="2423.20" stroke="#333333" stroke-width="3.8" />
<text font-size="25.4" text-anchor="end" fill="#000" transform="translate(889.18,2444.50) rotate(-60)" >Blastocyst</text>
<line x1="897.76" y1="2413.20" x2="897.76" y2="2423.20" stroke="#333333" stroke-width="3.8" />
<text font-size="25.4" text-anchor="end" fill="#000" transform="translate(912.26,2444.50) rotate(-60)" >Oocyte</text>
<line x1="920.84" y1="2413.20" x2="920.84" y2="2423.20" stroke="#333333" stroke-width="3.8" />
<text font-size="25.4" text-anchor="end" fill="#000" transform="translate(935.34,2444.50) rotate(-60)" >Blastomere</text>
<line x1="145.70" y1="2118.00" x2="145.70" y2="2413.30" stroke="#000" stroke-width="4.2" />
<line x1="143.60" y1="2411.20" x2="935.80" y2="2411.20" stroke="#000" stroke-width="4.2" />
<line x1="134.20" y1="2119.90" x2="147.80" y2="2119.90" stroke="#333333" stroke-width="3.8" />
<text font-size="29.17" text-anchor="end" fill="#000" x="121.60" y="2129.90" >1.0</text>
<line x1="134.20" y1="2265.55" x2="143.70" y2="2265.55" stroke="#333333" stroke-width="3.8" />
<text font-size="29.17" text-anchor="end" fill="#000" x="121.60" y="2275.55" >0.5</text>
<line x1="134.20" y1="2411.20" x2="143.70" y2="2411.20" stroke="#333333" stroke-width="3.8" />
<text font-size="29.17" text-anchor="end" fill="#000" x="121.60" y="2421.20" >0.0</text>
<line x1="935.80" y1="2118.00" x2="935.80" y2="2413.30" stroke="#BE3A2E" stroke-width="4.1" />
<line x1="933.80" y1="2119.90" x2="946.80" y2="2119.90" stroke="#BE3A2E" stroke-width="3.8" />
<text font-size="29.17" text-anchor="start" fill="#BE3A2E" x="956.60" y="2129.90" >5,000</text>
<line x1="935.80" y1="2265.55" x2="946.80" y2="2265.55" stroke="#BE3A2E" stroke-width="3.8" />
<text font-size="29.17" text-anchor="start" fill="#BE3A2E" x="956.60" y="2275.55" >2,500</text>
<line x1="935.80" y1="2411.20" x2="946.80" y2="2411.20" stroke="#BE3A2E" stroke-width="3.8" />
<text font-size="29.17" text-anchor="start" fill="#BE3A2E" x="956.60" y="2421.20" >0</text>
<text font-size="25" text-anchor="middle" fill="#000" transform="translate(1041.00,2267.00) rotate(90)" >Validated gene number</text>
<text font-size="25" text-anchor="middle" fill="#000" transform="translate(39.30,2269.00) rotate(-90)" >Spearman's rho between</text>
<text font-size="25" text-anchor="middle" fill="#000" transform="translate(67.10,2269.00) rotate(-90)" >ASE aFC and cis−eQTL aFC</text>
<text font-size="25" text-anchor="middle" fill="#000" x="550.00" y="2139.80" >Spearman's test FDR &lt; 0.05, denoted as *</text></svg></body></html>
